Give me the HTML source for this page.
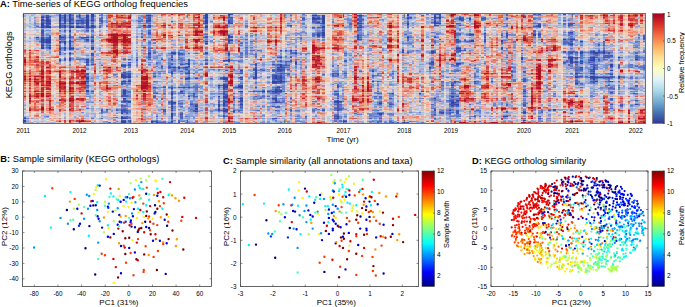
<!DOCTYPE html>
<html><head><meta charset="utf-8"><style>
html,body{margin:0;padding:0;background:#fff;}
body{width:685px;height:307px;position:relative;overflow:hidden;font-family:"Liberation Sans",sans-serif;}
#hm{position:absolute;left:0;top:14px;width:685px;height:109px;}
#hm i{position:absolute;top:0;height:109px;display:block;}
svg{position:absolute;left:0;top:0;}
text{fill:#000;font-family:"Liberation Sans",sans-serif;}
</style></head><body>
<div id="hm"><i style="left:24px;width:2px;background:linear-gradient(#bbd 0 1px,#9ad 0 3px,#dcc 0 4px,#eba 0 5px,#d99 0 6px,#dbb 0 7px,#eba 0 8px,#dba 0 9px,#9ad 0 10px,#aad 0 11px,#caa 0 12px,#ca9 0 13px,#bac 0 14px,#abd 0 15px,#ccc 0 16px,#aac 0 17px,#ccd 0 19px,#c88 0 21px,#cab 0 22px,#9ad 0 23px,#98b 0 24px,#dba 0 25px,#bbd 0 26px,#9ac 0 27px,#9ad 0 28px,#cbc 0 29px,#cbb 0 30px,#eba 0 31px,#d77 0 32px,#eba 0 33px,#abd 0 34px,#ccd 0 35px,#d65 0 36px,#c45 0 37px,#d44 0 38px,#d66 0 39px,#d77 0 40px,#c89 0 41px,#eba 0 42px,#ea9 0 43px,#b33 0 44px,#c34 0 45px,#b13 0 46px,#a12 0 49px,#c44 0 50px,#b33 0 51px,#d54 0 52px,#d76 0 53px,#e97 0 54px,#e87 0 55px,#c88 0 56px,#d65 0 57px,#b23 0 58px,#d88 0 59px,#b45 0 60px,#d65 0 61px,#c44 0 62px,#a12 0 63px,#b23 0 65px,#a12 0 66px,#c33 0 67px,#b45 0 68px,#d76 0 69px,#c34 0 70px,#e86 0 71px,#d65 0 72px,#ea9 0 73px,#d66 0 74px,#d65 0 75px,#da9 0 76px,#e98 0 77px,#c33 0 78px,#eba 0 79px,#e76 0 80px,#d87 0 81px,#d77 0 82px,#b23 0 83px,#d76 0 84px,#d77 0 85px,#aac 0 86px,#c99 0 87px,#ecb 0 88px,#daa 0 89px,#dba 0 90px,#aac 0 91px,#89d 0 92px,#bbd 0 93px,#ccd 0 94px,#caa 0 95px,#d76 0 96px,#dcc 0 97px,#dbb 0 98px,#abd 0 99px,#cab 0 100px,#ecb 0 101px,#ccd 0 102px,#9ac 0 103px,#56b 0 104px,#34a 0 105px,#89c 0 106px,#34a 0 108px,#67b 0 109px)"></i><i style="left:26px;width:3px;background:linear-gradient(#cce 0 1px,#ccd 0 2px,#cdd 0 3px,#cce 0 4px,#cdd 0 5px,#ddd 0 9px,#dcd 0 10px,#bcd 0 11px,#abd 0 12px,#bcd 0 13px,#ddd 0 16px,#ccd 0 17px,#edd 0 19px,#edc 0 20px,#ecb 0 21px,#ddd 0 26px,#bcd 0 27px,#bbd 0 28px,#cce 0 29px,#ddd 0 30px,#edd 0 31px,#ddd 0 34px,#cdd 0 35px,#ecb 0 36px,#ea8 0 37px,#ecb 0 39px,#ea8 0 40px,#eba 0 42px,#eca 0 43px,#ea8 0 44px,#eca 0 45px,#eb9 0 46px,#ea8 0 48px,#e76 0 49px,#eb9 0 50px,#e98 0 51px,#eb9 0 52px,#eba 0 53px,#ddd 0 54px,#edd 0 56px,#eca 0 57px,#e97 0 58px,#eba 0 59px,#e86 0 60px,#eb9 0 61px,#ea8 0 62px,#e86 0 63px,#ea8 0 65px,#e76 0 66px,#e97 0 67px,#e86 0 68px,#ecb 0 69px,#ea9 0 70px,#fca 0 71px,#eba 0 72px,#edd 0 73px,#eca 0 74px,#eba 0 75px,#ecb 0 77px,#ea8 0 78px,#ecb 0 80px,#edc 0 81px,#ecb 0 82px,#eba 0 83px,#edc 0 88px,#ddd 0 91px,#cdd 0 92px,#ddd 0 94px,#edd 0 95px,#edc 0 96px,#ecb 0 97px,#edd 0 98px,#ccd 0 99px,#ddd 0 102px,#abd 0 104px,#78c 0 105px,#abe 0 106px,#9ad 0 107px,#89d 0 108px,#9ad 0 109px)"></i><i style="left:29px;width:2px;background:linear-gradient(#dcc 0 1px,#ccd 0 2px,#abd 0 3px,#9bd 0 4px,#abd 0 6px,#9ad 0 7px,#bbd 0 8px,#bcd 0 9px,#9ad 0 10px,#bcd 0 11px,#cbc 0 12px,#89d 0 13px,#abd 0 14px,#ccd 0 15px,#cde 0 16px,#ccd 0 17px,#dcc 0 18px,#ecc 0 19px,#edc 0 20px,#dbb 0 21px,#ecb 0 22px,#ccd 0 23px,#abd 0 24px,#9ad 0 25px,#bcd 0 27px,#a9b 0 28px,#ccd 0 29px,#eba 0 30px,#ecb 0 31px,#dbb 0 32px,#eb9 0 33px,#ea9 0 34px,#ecb 0 35px,#e97 0 36px,#b23 0 37px,#e98 0 38px,#c44 0 39px,#d55 0 40px,#d54 0 41px,#d65 0 42px,#d44 0 43px,#c34 0 44px,#e65 0 45px,#d65 0 46px,#d44 0 47px,#d65 0 49px,#e76 0 50px,#e65 0 51px,#d88 0 52px,#eb9 0 53px,#d88 0 54px,#eba 0 55px,#e87 0 56px,#d55 0 57px,#d65 0 58px,#d55 0 59px,#c34 0 60px,#d65 0 62px,#b13 0 63px,#e87 0 64px,#b23 0 65px,#a12 0 66px,#d44 0 67px,#b23 0 68px,#e75 0 69px,#c44 0 70px,#d54 0 71px,#c44 0 72px,#e87 0 73px,#d54 0 74px,#c33 0 75px,#d76 0 76px,#e76 0 77px,#c44 0 78px,#e87 0 79px,#d54 0 80px,#b23 0 82px,#a12 0 83px,#c33 0 84px,#a12 0 85px,#c44 0 86px,#b13 0 87px,#a13 0 88px,#c44 0 90px,#ea9 0 92px,#e97 0 93px,#d55 0 94px,#c33 0 95px,#b23 0 96px,#a12 0 97px,#e98 0 99px,#eba 0 100px,#eb9 0 101px,#ea8 0 102px,#ea9 0 103px,#ddd 0 104px,#bab 0 105px,#edc 0 106px,#eba 0 107px,#daa 0 108px,#d99 0 109px)"></i><i style="left:31px;width:3px;background:linear-gradient(#abd 0 1px,#9ad 0 2px,#bce 0 3px,#ddd 0 4px,#ccd 0 5px,#dcd 0 6px,#ddd 0 7px,#dcd 0 8px,#ccd 0 9px,#bcd 0 10px,#abd 0 11px,#ccd 0 13px,#abd 0 14px,#ddd 0 15px,#edd 0 16px,#ccd 0 17px,#ddd 0 19px,#edc 0 20px,#eb9 0 21px,#ecb 0 22px,#edd 0 23px,#ddd 0 24px,#ccd 0 25px,#dcc 0 26px,#bcd 0 27px,#ccc 0 28px,#edc 0 29px,#ecb 0 30px,#edd 0 31px,#dcc 0 32px,#ecb 0 33px,#edd 0 34px,#edc 0 35px,#ecb 0 36px,#e97 0 37px,#ea8 0 38px,#e97 0 39px,#e76 0 40px,#eb9 0 41px,#ecb 0 42px,#ea8 0 43px,#e87 0 44px,#ea8 0 45px,#e97 0 46px,#d65 0 47px,#e75 0 48px,#e65 0 49px,#ea8 0 50px,#d65 0 51px,#e87 0 52px,#ecb 0 54px,#eba 0 55px,#ea9 0 56px,#eba 0 57px,#e87 0 58px,#e97 0 59px,#e98 0 60px,#ea8 0 61px,#e76 0 62px,#e75 0 63px,#eb9 0 64px,#e98 0 65px,#e75 0 66px,#ea9 0 67px,#e76 0 68px,#ea9 0 69px,#ea8 0 71px,#eb9 0 72px,#ea9 0 73px,#ecb 0 74px,#ea8 0 75px,#eca 0 76px,#ecb 0 77px,#e97 0 78px,#eb9 0 79px,#ea9 0 80px,#ea8 0 81px,#e65 0 82px,#d54 0 83px,#ea8 0 84px,#eca 0 85px,#ecb 0 86px,#e87 0 87px,#d65 0 88px,#e98 0 89px,#eca 0 90px,#eb9 0 92px,#e97 0 93px,#e98 0 94px,#e76 0 95px,#d64 0 96px,#e86 0 97px,#ecb 0 98px,#ddd 0 100px,#edd 0 101px,#ecb 0 102px,#edc 0 103px,#bce 0 104px,#8ad 0 105px,#cde 0 106px,#ddd 0 108px,#8ad 0 109px)"></i><i style="left:34px;width:2px;background:linear-gradient(#abd 0 1px,#ccd 0 2px,#bcd 0 3px,#78c 0 4px,#9ad 0 5px,#abd 0 6px,#89d 0 7px,#9ad 0 8px,#79d 0 9px,#68c 0 10px,#89d 0 11px,#78c 0 12px,#abd 0 13px,#78c 0 14px,#cce 0 15px,#bcd 0 16px,#bce 0 17px,#edd 0 18px,#ddd 0 19px,#dcc 0 20px,#abd 0 21px,#dcd 0 22px,#ccc 0 23px,#89c 0 24px,#9ad 0 25px,#abd 0 26px,#cab 0 27px,#aac 0 28px,#dbc 0 29px,#eb9 0 30px,#ddd 0 31px,#ecc 0 33px,#dcc 0 34px,#abd 0 35px,#eb9 0 36px,#d55 0 37px,#eba 0 38px,#dcc 0 39px,#e87 0 40px,#edc 0 41px,#eba 0 42px,#e87 0 43px,#e76 0 44px,#e87 0 45px,#d76 0 46px,#c45 0 47px,#c33 0 48px,#d44 0 49px,#ecb 0 50px,#e76 0 51px,#d87 0 52px,#e98 0 53px,#e87 0 54px,#da9 0 55px,#eba 0 56px,#eb9 0 57px,#e86 0 58px,#ea8 0 59px,#e97 0 61px,#e75 0 62px,#b13 0 63px,#d54 0 64px,#b33 0 65px,#b13 0 66px,#d44 0 67px,#a12 0 68px,#c34 0 69px,#d55 0 70px,#d54 0 72px,#ea8 0 73px,#e76 0 74px,#d65 0 75px,#e76 0 76px,#d65 0 77px,#a12 0 78px,#e76 0 79px,#d54 0 81px,#d44 0 82px,#c33 0 83px,#e76 0 84px,#d66 0 85px,#ecb 0 86px,#e65 0 87px,#e87 0 88px,#e76 0 89px,#d54 0 90px,#d66 0 91px,#e76 0 92px,#d65 0 93px,#d55 0 94px,#d54 0 95px,#c55 0 96px,#d44 0 97px,#eba 0 98px,#edc 0 99px,#ddd 0 100px,#eba 0 101px,#e76 0 102px,#e86 0 103px,#dcc 0 104px,#bbc 0 105px,#ccd 0 106px,#ecc 0 107px,#caa 0 108px,#edd 0 109px)"></i><i style="left:36px;width:3px;background:linear-gradient(#ddd 0 1px,#ecb 0 2px,#ccd 0 3px,#da9 0 4px,#eba 0 5px,#cbb 0 6px,#dbb 0 7px,#cab 0 8px,#dcc 0 9px,#89c 0 10px,#aac 0 11px,#99c 0 12px,#56b 0 13px,#79c 0 14px,#ddd 0 15px,#bce 0 16px,#abd 0 17px,#dcb 0 18px,#dbb 0 19px,#ddd 0 20px,#ccc 0 21px,#ea9 0 22px,#bbd 0 23px,#34a 0 24px,#78c 0 25px,#77b 0 26px,#9ad 0 27px,#89c 0 28px,#bcd 0 29px,#ea9 0 30px,#e86 0 31px,#daa 0 32px,#dcd 0 33px,#dbb 0 34px,#bcd 0 35px,#dcc 0 36px,#d44 0 37px,#ea9 0 39px,#e98 0 40px,#ea9 0 41px,#dbb 0 42px,#c44 0 43px,#c23 0 44px,#e87 0 45px,#c44 0 46px,#d65 0 47px,#c34 0 48px,#d54 0 49px,#e86 0 50px,#c44 0 51px,#c33 0 52px,#d66 0 53px,#c66 0 54px,#e86 0 55px,#e87 0 56px,#e86 0 57px,#d65 0 58px,#ea9 0 59px,#daa 0 60px,#eba 0 61px,#e65 0 62px,#b13 0 63px,#e98 0 64px,#d76 0 65px,#b23 0 66px,#d54 0 67px,#c23 0 68px,#b23 0 69px,#a12 0 70px,#c34 0 71px,#d55 0 72px,#e87 0 73px,#e65 0 74px,#e87 0 75px,#e76 0 76px,#d55 0 77px,#c23 0 78px,#ea8 0 79px,#b23 0 80px,#c33 0 81px,#b33 0 82px,#a12 0 83px,#d44 0 84px,#d76 0 85px,#ecb 0 86px,#d66 0 87px,#c44 0 88px,#c55 0 89px,#eba 0 90px,#e98 0 91px,#dbb 0 92px,#d87 0 93px,#e86 0 94px,#e87 0 95px,#d55 0 96px,#c45 0 97px,#ea9 0 98px,#dcc 0 99px,#cab 0 100px,#ea8 0 101px,#d65 0 102px,#d76 0 103px,#eba 0 104px,#bab 0 105px,#ccd 0 107px,#ccc 0 108px,#aac 0 109px)"></i><i style="left:39px;width:2px;background:linear-gradient(#ecb 0 1px,#dcb 0 2px,#edc 0 3px,#eb9 0 4px,#ecc 0 5px,#edd 0 6px,#bbd 0 7px,#edd 0 8px,#ddd 0 9px,#bbd 0 11px,#dcc 0 12px,#9ad 0 13px,#68c 0 14px,#ddd 0 16px,#cdd 0 17px,#edd 0 18px,#ecb 0 19px,#ebb 0 20px,#dcc 0 21px,#eba 0 22px,#ccd 0 23px,#9ad 0 24px,#89d 0 25px,#79c 0 27px,#57c 0 28px,#89c 0 29px,#ccd 0 30px,#dcc 0 31px,#ccd 0 32px,#edd 0 33px,#dcd 0 34px,#abd 0 35px,#ccd 0 36px,#ea9 0 37px,#dcc 0 38px,#ccd 0 39px,#ecb 0 40px,#dcc 0 41px,#ecb 0 42px,#edc 0 43px,#e98 0 44px,#ecc 0 45px,#ccd 0 46px,#ecb 0 47px,#e97 0 48px,#d65 0 49px,#e87 0 50px,#d87 0 51px,#e65 0 52px,#e87 0 53px,#e97 0 54px,#eca 0 55px,#eb9 0 56px,#e86 0 57px,#c44 0 58px,#e97 0 59px,#d54 0 60px,#e75 0 61px,#d64 0 62px,#c33 0 63px,#e75 0 64px,#e76 0 65px,#e65 0 66px,#e86 0 67px,#c33 0 68px,#e76 0 69px,#ea8 0 70px,#eb9 0 71px,#ea9 0 72px,#eba 0 73px,#ea8 0 74px,#e98 0 76px,#eb9 0 77px,#d55 0 78px,#eb9 0 79px,#d54 0 80px,#e65 0 81px,#d65 0 83px,#e98 0 84px,#e97 0 85px,#ea9 0 86px,#d65 0 87px,#e97 0 88px,#eba 0 89px,#ea8 0 90px,#ea9 0 91px,#eca 0 92px,#ecb 0 93px,#dcc 0 94px,#e97 0 95px,#d55 0 96px,#ea8 0 97px,#eca 0 98px,#ddd 0 99px,#ccd 0 100px,#edc 0 101px,#edd 0 102px,#ccd 0 103px,#bbc 0 104px,#edd 0 106px,#ddd 0 107px,#dbb 0 108px,#bcd 0 109px)"></i><i style="left:41px;width:3px;background:linear-gradient(#9ad 0 1px,#78c 0 2px,#45b 0 3px,#34a 0 4px,#67c 0 5px,#34a 0 7px,#56b 0 8px,#45a 0 9px,#349 0 10px,#34a 0 11px,#349 0 12px,#34a 0 14px,#89d 0 15px,#67c 0 16px,#45b 0 17px,#45a 0 18px,#45b 0 19px,#45a 0 20px,#56b 0 21px,#45a 0 22px,#67c 0 23px,#44a 0 24px,#34a 0 25px,#349 0 28px,#34a 0 29px,#56b 0 30px,#45b 0 31px,#34a 0 32px,#45a 0 33px,#34a 0 35px,#bbc 0 36px,#dbb 0 37px,#bbc 0 38px,#9ad 0 39px,#b9a 0 40px,#bab 0 41px,#9ad 0 42px,#dbb 0 43px,#e98 0 44px,#ccd 0 45px,#89c 0 46px,#d76 0 47px,#c33 0 48px,#c44 0 49px,#c33 0 50px,#c55 0 51px,#c56 0 52px,#b23 0 53px,#c44 0 55px,#c34 0 56px,#b13 0 57px,#a12 0 58px,#b23 0 59px,#b13 0 60px,#b23 0 61px,#c44 0 62px,#a12 0 64px,#b23 0 65px,#c33 0 67px,#a12 0 68px,#c44 0 69px,#c34 0 70px,#c33 0 71px,#a12 0 72px,#e97 0 73px,#b34 0 74px,#b23 0 76px,#c34 0 77px,#b23 0 78px,#d54 0 79px,#a12 0 83px,#d76 0 84px,#e87 0 85px,#d44 0 86px,#b34 0 87px,#b66 0 88px,#bab 0 89px,#d77 0 90px,#c55 0 91px,#d65 0 92px,#c44 0 93px,#a12 0 96px,#b34 0 97px,#d65 0 98px,#d55 0 99px,#ea9 0 100px,#eba 0 101px,#abd 0 102px,#bbc 0 103px,#ccd 0 104px,#bab 0 105px,#bcd 0 106px,#ccc 0 107px,#abd 0 108px,#dbb 0 109px)"></i><i style="left:44px;width:2px;background:linear-gradient(#bbd 0 1px,#78c 0 3px,#57c 0 4px,#abd 0 5px,#89d 0 6px,#56b 0 7px,#68c 0 9px,#57c 0 10px,#9ad 0 11px,#68c 0 12px,#45b 0 13px,#56b 0 14px,#9ad 0 15px,#cce 0 16px,#9ad 0 18px,#bcd 0 19px,#abd 0 20px,#9ad 0 22px,#abd 0 23px,#68c 0 25px,#45a 0 26px,#46b 0 27px,#45b 0 28px,#45a 0 29px,#8ad 0 30px,#9ad 0 31px,#79c 0 32px,#abd 0 33px,#89d 0 35px,#bcd 0 36px,#edc 0 37px,#ccc 0 38px,#ccd 0 39px,#ea9 0 40px,#dcd 0 41px,#8ad 0 42px,#ddd 0 43px,#dcb 0 44px,#ddd 0 45px,#aac 0 46px,#ddd 0 47px,#eba 0 48px,#e76 0 49px,#e98 0 50px,#e87 0 51px,#ea9 0 52px,#eba 0 53px,#dcc 0 54px,#ccd 0 55px,#ddd 0 56px,#eca 0 57px,#ea8 0 58px,#e97 0 59px,#e98 0 60px,#ebb 0 61px,#eba 0 62px,#e98 0 64px,#eba 0 66px,#e97 0 67px,#e86 0 68px,#e98 0 69px,#e97 0 70px,#e75 0 71px,#d54 0 72px,#e87 0 73px,#d65 0 74px,#ea8 0 75px,#e86 0 76px,#ecb 0 79px,#eba 0 80px,#ea8 0 83px,#ecb 0 84px,#dcc 0 85px,#ecb 0 86px,#ea9 0 87px,#dcc 0 89px,#ecb 0 90px,#dcb 0 91px,#ecc 0 92px,#ecb 0 93px,#ddd 0 94px,#ecb 0 95px,#ea9 0 96px,#eca 0 98px,#ddd 0 99px,#ccd 0 100px,#abd 0 102px,#89d 0 103px,#9ad 0 104px,#bcd 0 105px,#ddd 0 106px,#bcd 0 107px,#ccd 0 108px,#dcd 0 109px)"></i><i style="left:46px;width:3px;background:linear-gradient(#abd 0 1px,#45a 0 3px,#349 0 4px,#45a 0 5px,#34a 0 8px,#45a 0 9px,#349 0 10px,#45b 0 11px,#45a 0 12px,#349 0 14px,#abd 0 16px,#68c 0 17px,#bbd 0 18px,#abd 0 19px,#89c 0 20px,#68c 0 21px,#78c 0 22px,#8ad 0 23px,#56b 0 24px,#46b 0 25px,#349 0 26px,#34a 0 27px,#349 0 28px,#34a 0 29px,#56b 0 30px,#68c 0 31px,#56b 0 32px,#68c 0 33px,#46b 0 34px,#67c 0 35px,#9ad 0 36px,#aac 0 37px,#bcd 0 38px,#ccc 0 39px,#cbc 0 40px,#ea9 0 41px,#bbc 0 42px,#edc 0 43px,#e76 0 44px,#dcc 0 45px,#cbb 0 46px,#eba 0 47px,#c44 0 48px,#c33 0 50px,#d77 0 51px,#e87 0 52px,#d76 0 53px,#a12 0 54px,#d66 0 55px,#e97 0 56px,#c33 0 57px,#c34 0 58px,#d55 0 59px,#d54 0 60px,#e86 0 61px,#e75 0 62px,#c33 0 64px,#d55 0 65px,#d44 0 66px,#d54 0 67px,#a12 0 68px,#b23 0 70px,#c34 0 71px,#b13 0 72px,#d65 0 73px,#c33 0 74px,#b23 0 75px,#c23 0 76px,#eba 0 77px,#d44 0 78px,#e86 0 79px,#b23 0 80px,#d55 0 81px,#c33 0 82px,#b13 0 83px,#e75 0 84px,#d98 0 85px,#e75 0 86px,#d54 0 87px,#dbb 0 88px,#cbb 0 89px,#dbb 0 90px,#d99 0 91px,#daa 0 92px,#e98 0 93px,#ea8 0 94px,#d66 0 95px,#d98 0 96px,#e76 0 97px,#eb9 0 98px,#ea9 0 99px,#dcd 0 100px,#dbb 0 101px,#abd 0 102px,#57c 0 103px,#9ad 0 104px,#ddd 0 105px,#ccd 0 106px,#edd 0 107px,#ccc 0 108px,#bbd 0 109px)"></i><i style="left:49px;width:2px;background:linear-gradient(#bcd 0 1px,#89d 0 2px,#46b 0 3px,#68c 0 4px,#78c 0 5px,#56b 0 6px,#45b 0 7px,#44a 0 8px,#46b 0 9px,#349 0 10px,#45b 0 11px,#78c 0 12px,#34a 0 13px,#349 0 14px,#9ad 0 15px,#bcd 0 16px,#68c 0 17px,#9ad 0 21px,#46b 0 22px,#56b 0 23px,#349 0 24px,#44a 0 25px,#34a 0 27px,#349 0 29px,#56b 0 30px,#78c 0 31px,#34a 0 32px,#57c 0 33px,#349 0 34px,#34a 0 35px,#78c 0 36px,#abd 0 37px,#8ad 0 38px,#79c 0 39px,#9ad 0 40px,#bbd 0 42px,#eba 0 43px,#e76 0 44px,#ea9 0 45px,#cab 0 46px,#eb9 0 47px,#e86 0 48px,#d55 0 49px,#e87 0 50px,#c55 0 51px,#c44 0 52px,#c33 0 53px,#c44 0 54px,#d55 0 55px,#d76 0 56px,#c33 0 57px,#b13 0 58px,#c33 0 59px,#b13 0 60px,#e97 0 61px,#e87 0 62px,#c33 0 63px,#b34 0 64px,#b23 0 66px,#c44 0 67px,#a12 0 68px,#b13 0 69px,#a12 0 70px,#c33 0 71px,#b13 0 72px,#d54 0 73px,#d65 0 74px,#c33 0 75px,#b23 0 76px,#e76 0 77px,#d54 0 78px,#e86 0 79px,#c23 0 80px,#d55 0 81px,#b23 0 82px,#c44 0 83px,#e86 0 84px,#d54 0 85px,#e65 0 86px,#b23 0 88px,#c44 0 90px,#c33 0 91px,#d44 0 92px,#c44 0 93px,#d44 0 94px,#a12 0 95px,#b13 0 96px,#c33 0 97px,#e86 0 98px,#e65 0 99px,#e86 0 100px,#eba 0 101px,#ea9 0 102px,#ecb 0 103px,#ecc 0 104px,#e98 0 105px,#eba 0 107px,#ecb 0 108px,#bbd 0 109px)"></i><i style="left:51px;width:3px;background:linear-gradient(#ddd 0 1px,#9ad 0 2px,#8ad 0 3px,#abd 0 4px,#ecc 0 5px,#cce 0 6px,#bbd 0 7px,#ccd 0 8px,#ecc 0 9px,#ddd 0 10px,#ecc 0 11px,#dcc 0 12px,#bac 0 13px,#89d 0 14px,#edc 0 15px,#ecb 0 16px,#eba 0 17px,#eca 0 18px,#ea9 0 19px,#e97 0 20px,#e98 0 21px,#eba 0 22px,#dcd 0 23px,#ddd 0 25px,#cbc 0 26px,#dba 0 27px,#edc 0 28px,#bcd 0 29px,#dcd 0 30px,#edc 0 31px,#ea9 0 32px,#edc 0 33px,#eba 0 34px,#dcd 0 35px,#dcc 0 36px,#eca 0 37px,#eba 0 38px,#ddd 0 39px,#dcc 0 40px,#dcd 0 41px,#eba 0 42px,#e97 0 43px,#e76 0 44px,#edd 0 45px,#ddd 0 46px,#eba 0 48px,#edd 0 49px,#ecb 0 50px,#eba 0 51px,#e97 0 53px,#e87 0 54px,#eb9 0 55px,#edc 0 56px,#ebb 0 57px,#e75 0 58px,#ea9 0 59px,#dcc 0 60px,#edc 0 61px,#edd 0 62px,#e99 0 63px,#ea9 0 64px,#edb 0 65px,#e87 0 66px,#ea9 0 67px,#eba 0 68px,#edc 0 69px,#e98 0 70px,#ecb 0 71px,#dcc 0 72px,#cbb 0 73px,#dcc 0 74px,#ecb 0 75px,#dcd 0 77px,#ecb 0 78px,#edc 0 79px,#ddd 0 80px,#dcb 0 81px,#ea9 0 83px,#ecb 0 86px,#e76 0 87px,#ea8 0 88px,#eb9 0 90px,#ecb 0 91px,#ecc 0 92px,#e97 0 93px,#d65 0 94px,#e87 0 95px,#c33 0 96px,#d54 0 97px,#eb9 0 98px,#ea8 0 100px,#eba 0 101px,#ecb 0 102px,#eba 0 103px,#ddd 0 104px,#dbb 0 105px,#eba 0 106px,#e97 0 107px,#edc 0 108px,#9ad 0 109px)"></i><i style="left:54px;width:2px;background:linear-gradient(#ccd 0 1px,#8ad 0 2px,#abd 0 4px,#ccc 0 5px,#bcd 0 6px,#abd 0 7px,#bce 0 8px,#ddd 0 9px,#abc 0 10px,#edc 0 12px,#89d 0 14px,#ddd 0 15px,#edc 0 16px,#ecb 0 18px,#eb9 0 19px,#e98 0 20px,#eb9 0 21px,#dbb 0 22px,#ddd 0 23px,#9ad 0 24px,#ccd 0 27px,#bcd 0 28px,#dcc 0 29px,#ddd 0 30px,#ecb 0 31px,#ea9 0 32px,#ecb 0 33px,#dcc 0 34px,#ecb 0 35px,#eba 0 36px,#e76 0 37px,#e65 0 38px,#ecb 0 39px,#ecc 0 40px,#ddd 0 41px,#dcc 0 42px,#e98 0 43px,#d54 0 44px,#eca 0 45px,#ecb 0 46px,#e98 0 47px,#ea8 0 48px,#ea9 0 49px,#eb9 0 51px,#ea9 0 52px,#e75 0 53px,#e86 0 54px,#ea9 0 55px,#eb9 0 56px,#e86 0 57px,#d54 0 58px,#eba 0 59px,#edc 0 61px,#ecb 0 62px,#ea9 0 63px,#ea8 0 64px,#ecb 0 65px,#e98 0 66px,#ea9 0 67px,#e87 0 68px,#eb9 0 70px,#ecb 0 71px,#eba 0 72px,#ddd 0 73px,#ecb 0 74px,#eb9 0 75px,#ecb 0 76px,#dcc 0 77px,#edc 0 78px,#ddd 0 79px,#edc 0 80px,#dcd 0 81px,#cdd 0 82px,#ddd 0 83px,#dcd 0 84px,#abd 0 85px,#ccd 0 86px,#ecb 0 87px,#ecc 0 88px,#bcd 0 89px,#ccd 0 90px,#bbd 0 91px,#ddd 0 92px,#edc 0 93px,#edd 0 94px,#dcc 0 95px,#ecb 0 96px,#ecc 0 97px,#ccd 0 98px,#dcd 0 99px,#eba 0 100px,#e97 0 101px,#ecb 0 102px,#eb9 0 103px,#ecb 0 104px,#e98 0 105px,#edc 0 106px,#ecb 0 107px,#eba 0 108px,#abd 0 109px)"></i><i style="left:56px;width:3px;background:linear-gradient(#9ad 0 1px,#89d 0 2px,#abd 0 3px,#bcd 0 5px,#bbd 0 7px,#bcd 0 8px,#ccd 0 9px,#bbc 0 10px,#edc 0 11px,#ecc 0 12px,#89c 0 13px,#9ac 0 14px,#edc 0 15px,#eba 0 16px,#ddc 0 17px,#ecb 0 18px,#e98 0 19px,#d76 0 20px,#e87 0 21px,#eaa 0 22px,#dcc 0 23px,#bbc 0 24px,#dbb 0 25px,#e98 0 26px,#e76 0 27px,#eb9 0 28px,#ecb 0 29px,#eba 0 30px,#ea9 0 31px,#d65 0 32px,#eb9 0 33px,#ea9 0 34px,#e87 0 35px,#ea9 0 36px,#e75 0 37px,#e98 0 38px,#dcc 0 39px,#eba 0 40px,#dbb 0 41px,#ea8 0 42px,#e65 0 43px,#d54 0 44px,#edc 0 45px,#ccd 0 46px,#dcb 0 47px,#eba 0 48px,#dbb 0 49px,#d76 0 50px,#ea9 0 51px,#ccd 0 52px,#eba 0 53px,#ea8 0 54px,#ecc 0 55px,#bbc 0 56px,#e97 0 57px,#c44 0 58px,#ea8 0 59px,#dcd 0 60px,#ccd 0 61px,#ddd 0 62px,#eca 0 63px,#dcb 0 64px,#ecb 0 65px,#ea9 0 66px,#eba 0 67px,#eb9 0 68px,#e75 0 69px,#e98 0 70px,#ea9 0 71px,#d88 0 72px,#e97 0 73px,#dba 0 74px,#ea9 0 76px,#edc 0 77px,#dbb 0 78px,#edc 0 79px,#e97 0 80px,#ecb 0 81px,#ebb 0 82px,#ea9 0 83px,#cde 0 84px,#cbc 0 85px,#ecb 0 86px,#eb9 0 87px,#ebb 0 88px,#9ad 0 89px,#abd 0 90px,#ecb 0 91px,#ea8 0 92px,#e97 0 93px,#eba 0 94px,#ebb 0 95px,#eba 0 96px,#ccd 0 97px,#ccc 0 98px,#ebb 0 99px,#eba 0 100px,#dbb 0 101px,#ecb 0 102px,#ecc 0 103px,#ecb 0 104px,#dba 0 105px,#ecb 0 106px,#e97 0 107px,#d76 0 108px,#dcc 0 109px)"></i><i style="left:59px;width:2px;background:linear-gradient(#45b 0 1px,#349 0 2px,#34a 0 5px,#349 0 8px,#45b 0 9px,#349 0 10px,#45a 0 11px,#34a 0 12px,#349 0 14px,#78c 0 15px,#bbd 0 16px,#56b 0 17px,#78c 0 18px,#aac 0 19px,#89d 0 20px,#abd 0 21px,#34a 0 23px,#349 0 24px,#45a 0 26px,#a9b 0 27px,#349 0 28px,#34a 0 29px,#67c 0 30px,#78c 0 31px,#56b 0 33px,#45a 0 34px,#349 0 35px,#34a 0 36px,#56b 0 38px,#349 0 39px,#56b 0 40px,#45a 0 41px,#aad 0 42px,#cbc 0 43px,#ddd 0 44px,#68c 0 45px,#45a 0 46px,#34a 0 47px,#57c 0 48px,#79c 0 49px,#b9a 0 51px,#ecc 0 52px,#d88 0 53px,#c55 0 54px,#d65 0 55px,#ea9 0 56px,#c34 0 57px,#a12 0 58px,#b13 0 59px,#b34 0 60px,#b13 0 61px,#b23 0 62px,#a12 0 64px,#c66 0 65px,#c54 0 66px,#d55 0 67px,#b13 0 68px,#b23 0 69px,#a12 0 70px,#b13 0 71px,#b23 0 73px,#a12 0 74px,#b33 0 76px,#c33 0 77px,#a12 0 78px,#d77 0 79px,#c55 0 80px,#e87 0 81px,#d76 0 82px,#d66 0 83px,#e98 0 84px,#dba 0 85px,#c34 0 86px,#b13 0 87px,#d99 0 88px,#c78 0 89px,#d76 0 90px,#d66 0 91px,#d65 0 92px,#d75 0 93px,#e88 0 94px,#daa 0 95px,#c34 0 96px,#c33 0 97px,#d65 0 98px,#eba 0 99px,#da9 0 100px,#ea9 0 102px,#ccc 0 103px,#ddd 0 104px,#b89 0 105px,#ea8 0 106px,#d76 0 107px,#b23 0 108px,#cbc 0 109px)"></i><i style="left:61px;width:3px;background:linear-gradient(#abd 0 1px,#56b 0 2px,#68c 0 3px,#56b 0 4px,#67c 0 5px,#68c 0 6px,#57c 0 7px,#89d 0 8px,#9ad 0 9px,#56b 0 10px,#78c 0 11px,#46b 0 14px,#bbd 0 16px,#9ad 0 17px,#8ad 0 18px,#abd 0 19px,#bcd 0 20px,#9ad 0 21px,#79d 0 22px,#67c 0 23px,#34a 0 24px,#67c 0 25px,#57b 0 26px,#78c 0 27px,#46b 0 28px,#67c 0 29px,#abd 0 30px,#bce 0 31px,#ccd 0 32px,#bcd 0 33px,#68c 0 34px,#67c 0 35px,#79d 0 36px,#89c 0 37px,#bcd 0 38px,#9ad 0 40px,#8ad 0 41px,#bcd 0 42px,#dcd 0 43px,#edc 0 44px,#bcd 0 45px,#aad 0 46px,#8ad 0 47px,#bce 0 48px,#edc 0 49px,#ecb 0 50px,#ccd 0 52px,#e86 0 53px,#d44 0 54px,#eba 0 55px,#ea9 0 56px,#d54 0 58px,#e97 0 59px,#d76 0 60px,#eb9 0 61px,#ecb 0 62px,#e86 0 63px,#e76 0 64px,#e65 0 65px,#e76 0 66px,#eb9 0 67px,#d44 0 68px,#c33 0 69px,#b13 0 70px,#c33 0 71px,#d44 0 72px,#c33 0 73px,#c34 0 74px,#c33 0 75px,#c44 0 76px,#e76 0 77px,#d54 0 78px,#e98 0 79px,#e76 0 80px,#e98 0 81px,#ea9 0 82px,#d54 0 83px,#e87 0 84px,#d54 0 85px,#c33 0 87px,#d65 0 88px,#d54 0 89px,#e75 0 90px,#e97 0 91px,#e76 0 92px,#e97 0 93px,#ea8 0 94px,#e98 0 95px,#e86 0 96px,#e87 0 97px,#eba 0 98px,#dcc 0 99px,#eca 0 100px,#ddd 0 102px,#edc 0 103px,#ddd 0 104px,#ccd 0 105px,#edc 0 106px,#ea8 0 107px,#eba 0 108px,#ddd 0 109px)"></i><i style="left:64px;width:2px;background:linear-gradient(#56b 0 1px,#349 0 3px,#34a 0 4px,#349 0 6px,#34a 0 7px,#349 0 8px,#45a 0 9px,#349 0 10px,#68c 0 11px,#34a 0 12px,#349 0 14px,#89d 0 15px,#79d 0 16px,#45a 0 17px,#56b 0 18px,#78c 0 19px,#bbd 0 20px,#89c 0 21px,#66b 0 22px,#56b 0 23px,#45a 0 24px,#56b 0 26px,#78c 0 27px,#349 0 29px,#34a 0 30px,#57b 0 31px,#67c 0 32px,#79c 0 33px,#34a 0 35px,#45b 0 37px,#dcc 0 38px,#ccd 0 39px,#56b 0 40px,#89c 0 41px,#abd 0 42px,#bbd 0 43px,#89c 0 44px,#56b 0 45px,#45a 0 46px,#46b 0 47px,#abd 0 48px,#cbb 0 49px,#eaa 0 50px,#dbc 0 51px,#bbd 0 52px,#d76 0 53px,#c45 0 54px,#cbc 0 55px,#ccc 0 56px,#d65 0 57px,#c55 0 58px,#e98 0 59px,#e97 0 60px,#d98 0 61px,#ea9 0 62px,#d99 0 63px,#d77 0 64px,#c23 0 65px,#d65 0 66px,#e98 0 67px,#d66 0 68px,#b13 0 69px,#a12 0 70px,#c34 0 71px,#c54 0 72px,#b23 0 73px,#b13 0 74px,#b23 0 75px,#c44 0 77px,#b23 0 78px,#d54 0 79px,#c34 0 80px,#e75 0 81px,#e87 0 82px,#c54 0 83px,#eba 0 84px,#d66 0 85px,#d44 0 86px,#b23 0 87px,#c34 0 88px,#d88 0 89px,#ea8 0 90px,#d65 0 91px,#ecb 0 92px,#e97 0 94px,#dbb 0 95px,#e98 0 96px,#c55 0 97px,#ecc 0 98px,#cbc 0 99px,#bab 0 100px,#abd 0 101px,#ccd 0 102px,#bbc 0 103px,#aac 0 104px,#99c 0 105px,#eba 0 106px,#c33 0 107px,#c44 0 108px,#d54 0 109px)"></i><i style="left:66px;width:3px;background:linear-gradient(#9ad 0 1px,#78c 0 2px,#89d 0 5px,#78c 0 6px,#68c 0 7px,#78c 0 8px,#abd 0 9px,#79d 0 10px,#abd 0 11px,#79d 0 12px,#78c 0 13px,#89d 0 14px,#cde 0 15px,#cce 0 16px,#abd 0 17px,#cce 0 18px,#cdd 0 19px,#ddd 0 20px,#edd 0 21px,#bcd 0 22px,#bce 0 23px,#9ad 0 24px,#bce 0 25px,#ddd 0 26px,#cde 0 27px,#9ad 0 28px,#abd 0 29px,#bce 0 30px,#cce 0 31px,#bce 0 33px,#9bd 0 34px,#8ad 0 35px,#abd 0 36px,#bce 0 37px,#ddd 0 38px,#cce 0 39px,#bcd 0 40px,#cce 0 41px,#ddd 0 44px,#cce 0 45px,#bcd 0 46px,#cce 0 47px,#ddd 0 49px,#edd 0 50px,#ddd 0 51px,#ccd 0 52px,#ecb 0 53px,#e97 0 54px,#ddd 0 55px,#edd 0 56px,#ea9 0 57px,#ea8 0 58px,#eb9 0 59px,#eba 0 60px,#edc 0 62px,#eca 0 63px,#eb9 0 64px,#eba 0 65px,#ecb 0 66px,#edd 0 67px,#edc 0 68px,#eca 0 69px,#eb9 0 70px,#edd 0 71px,#edc 0 72px,#ecb 0 74px,#edc 0 75px,#eb9 0 76px,#ecb 0 77px,#e97 0 78px,#eca 0 79px,#ecb 0 80px,#edc 0 81px,#ecb 0 82px,#edb 0 83px,#edd 0 84px,#ecb 0 85px,#eb9 0 86px,#ea9 0 87px,#ecb 0 88px,#edd 0 89px,#ecc 0 90px,#edc 0 92px,#ecb 0 93px,#ecc 0 94px,#edd 0 95px,#edc 0 96px,#ecb 0 97px,#edd 0 99px,#cdd 0 100px,#edd 0 101px,#ddd 0 102px,#edc 0 103px,#edd 0 104px,#ddd 0 105px,#edc 0 106px,#eba 0 107px,#eb9 0 108px,#edc 0 109px)"></i><i style="left:69px;width:2px;background:linear-gradient(#34a 0 4px,#349 0 8px,#45a 0 9px,#349 0 10px,#56b 0 11px,#45a 0 12px,#349 0 14px,#67c 0 15px,#78c 0 16px,#349 0 18px,#57b 0 19px,#78c 0 20px,#56b 0 21px,#45b 0 23px,#34a 0 24px,#56b 0 25px,#67b 0 26px,#34a 0 27px,#349 0 28px,#34a 0 30px,#45a 0 31px,#34a 0 32px,#45b 0 33px,#349 0 35px,#34a 0 36px,#79d 0 37px,#bcd 0 38px,#56b 0 39px,#34a 0 40px,#56b 0 41px,#68c 0 42px,#89d 0 43px,#56b 0 44px,#34a 0 45px,#349 0 46px,#34a 0 47px,#88c 0 48px,#99c 0 49px,#aad 0 50px,#68c 0 51px,#78c 0 52px,#d99 0 53px,#b78 0 54px,#aac 0 55px,#9ac 0 56px,#d55 0 57px,#c66 0 58px,#d55 0 59px,#e97 0 60px,#eba 0 61px,#da9 0 62px,#c67 0 63px,#d54 0 64px,#c33 0 66px,#d65 0 67px,#b23 0 69px,#a12 0 70px,#c34 0 71px,#b34 0 72px,#d54 0 73px,#a12 0 75px,#b13 0 76px,#b23 0 77px,#b13 0 78px,#d76 0 79px,#b23 0 80px,#d65 0 81px,#d66 0 82px,#c66 0 83px,#d54 0 84px,#a12 0 87px,#b13 0 88px,#e87 0 89px,#d54 0 90px,#c44 0 91px,#c34 0 93px,#d76 0 94px,#d65 0 95px,#a12 0 96px,#c44 0 97px,#e76 0 98px,#bac 0 99px,#d99 0 100px,#e97 0 101px,#daa 0 102px,#ea9 0 103px,#dcc 0 104px,#daa 0 105px,#ea9 0 106px,#b23 0 107px,#b13 0 108px,#c44 0 109px)"></i><i style="left:71px;width:3px;background:linear-gradient(#78c 0 1px,#46b 0 2px,#68c 0 3px,#57b 0 4px,#56b 0 5px,#45b 0 6px,#46b 0 7px,#67c 0 8px,#57b 0 9px,#34a 0 10px,#79d 0 11px,#68c 0 12px,#34a 0 13px,#349 0 14px,#ccd 0 16px,#abd 0 17px,#bce 0 18px,#bbd 0 19px,#ccd 0 20px,#ecb 0 21px,#bcd 0 22px,#67c 0 23px,#57b 0 24px,#78c 0 25px,#9ad 0 26px,#8ad 0 27px,#46b 0 28px,#79c 0 29px,#9ad 0 31px,#89c 0 32px,#9ad 0 33px,#56b 0 34px,#34a 0 35px,#56b 0 36px,#9ad 0 37px,#ccd 0 38px,#bbd 0 39px,#67c 0 40px,#8ad 0 41px,#cdd 0 42px,#ddd 0 43px,#8ad 0 44px,#68c 0 45px,#78c 0 46px,#9ad 0 47px,#ccd 0 48px,#dcc 0 49px,#ecb 0 50px,#dcc 0 52px,#ea8 0 53px,#e97 0 54px,#da9 0 55px,#d99 0 56px,#d44 0 57px,#a12 0 58px,#d44 0 60px,#d76 0 61px,#e65 0 62px,#c44 0 63px,#b23 0 64px,#c33 0 65px,#e65 0 66px,#e87 0 67px,#c44 0 68px,#b23 0 69px,#b13 0 70px,#d65 0 71px,#e76 0 72px,#e86 0 73px,#c33 0 74px,#b23 0 75px,#c33 0 76px,#d54 0 77px,#b23 0 78px,#e75 0 79px,#c44 0 80px,#eba 0 81px,#e76 0 82px,#b23 0 83px,#d44 0 84px,#b13 0 85px,#b23 0 86px,#a12 0 87px,#c33 0 88px,#c44 0 89px,#d55 0 91px,#d54 0 93px,#d65 0 94px,#c33 0 95px,#c55 0 96px,#c33 0 97px,#e76 0 98px,#ea9 0 99px,#eba 0 100px,#ea9 0 101px,#eca 0 102px,#dcc 0 103px,#ccd 0 104px,#dbb 0 105px,#ea8 0 106px,#d54 0 107px,#e86 0 108px,#ea9 0 109px)"></i><i style="left:74px;width:2px;background:linear-gradient(#dcc 0 1px,#ecc 0 3px,#ccd 0 5px,#bcd 0 6px,#9ad 0 7px,#aad 0 8px,#abd 0 10px,#edd 0 11px,#dbb 0 12px,#aac 0 13px,#89d 0 14px,#eca 0 15px,#ea8 0 16px,#dcc 0 17px,#edd 0 18px,#ecb 0 19px,#e97 0 20px,#d65 0 21px,#e76 0 22px,#ecb 0 23px,#eba 0 24px,#ea9 0 25px,#d65 0 27px,#ea8 0 28px,#ea9 0 29px,#ea8 0 30px,#dbb 0 31px,#eba 0 32px,#eb9 0 33px,#cbb 0 34px,#9ad 0 35px,#abd 0 36px,#eba 0 37px,#e76 0 38px,#da9 0 39px,#ebb 0 40px,#eba 0 42px,#ea8 0 43px,#eca 0 44px,#abd 0 45px,#9ad 0 46px,#e98 0 48px,#ea8 0 49px,#ebb 0 50px,#da9 0 51px,#ccd 0 52px,#eba 0 53px,#e98 0 54px,#abd 0 55px,#9ad 0 56px,#dba 0 57px,#b23 0 58px,#d54 0 59px,#dcb 0 60px,#ecb 0 61px,#eba 0 62px,#edd 0 63px,#d99 0 64px,#e87 0 65px,#eb9 0 66px,#ccd 0 67px,#ecc 0 68px,#e65 0 69px,#c44 0 70px,#ecb 0 71px,#abd 0 72px,#ccd 0 73px,#dcc 0 74px,#eb9 0 75px,#ea9 0 76px,#eb9 0 77px,#e86 0 78px,#eca 0 79px,#daa 0 80px,#ecb 0 81px,#ccd 0 83px,#edd 0 84px,#eba 0 85px,#e87 0 86px,#e86 0 87px,#dbb 0 88px,#eba 0 90px,#ccc 0 91px,#dcd 0 92px,#e97 0 93px,#edc 0 94px,#bcd 0 95px,#dcc 0 96px,#e76 0 97px,#eba 0 98px,#ccd 0 99px,#bbc 0 100px,#dcc 0 101px,#dcd 0 102px,#9ad 0 103px,#8ad 0 104px,#bbc 0 105px,#eba 0 106px,#d87 0 107px,#d77 0 108px,#ecc 0 109px)"></i><i style="left:76px;width:3px;background:linear-gradient(#9bd 0 1px,#67b 0 2px,#56b 0 3px,#78c 0 4px,#9ad 0 5px,#89d 0 6px,#45a 0 7px,#46b 0 8px,#67c 0 9px,#34a 0 10px,#68c 0 11px,#67b 0 12px,#349 0 14px,#bcd 0 15px,#ddd 0 16px,#89d 0 17px,#9ad 0 18px,#daa 0 19px,#edc 0 20px,#dcc 0 21px,#bbc 0 22px,#ccd 0 23px,#8ad 0 24px,#9ac 0 25px,#78b 0 26px,#cbc 0 27px,#99c 0 28px,#dcc 0 29px,#eca 0 30px,#ea9 0 31px,#bab 0 32px,#dcc 0 33px,#bcd 0 34px,#99d 0 35px,#78c 0 36px,#cbc 0 37px,#dcb 0 38px,#bbc 0 39px,#abd 0 40px,#bcd 0 41px,#ccd 0 42px,#bcd 0 43px,#79c 0 44px,#89c 0 45px,#56b 0 46px,#dcc 0 48px,#daa 0 49px,#d99 0 50px,#dcb 0 51px,#daa 0 52px,#d55 0 53px,#c44 0 54px,#e86 0 55px,#d76 0 56px,#b23 0 57px,#a12 0 58px,#b23 0 59px,#c55 0 60px,#c44 0 61px,#d65 0 62px,#c44 0 63px,#c33 0 64px,#c44 0 65px,#e87 0 66px,#ecb 0 67px,#c44 0 68px,#a12 0 70px,#d76 0 71px,#e97 0 72px,#ea9 0 73px,#e87 0 74px,#c45 0 75px,#d87 0 76px,#e87 0 77px,#e98 0 78px,#dbb 0 79px,#e98 0 80px,#ccc 0 81px,#aac 0 82px,#dbb 0 83px,#ecb 0 84px,#b23 0 86px,#d87 0 87px,#ea9 0 88px,#c89 0 89px,#eaa 0 90px,#caa 0 91px,#e87 0 92px,#d76 0 93px,#e98 0 94px,#d99 0 95px,#d88 0 96px,#d76 0 97px,#dcc 0 98px,#bbc 0 99px,#ecb 0 100px,#cbc 0 101px,#eba 0 102px,#ccd 0 103px,#bbc 0 104px,#e87 0 105px,#ea9 0 106px,#c34 0 107px,#c33 0 108px,#bbd 0 109px)"></i><i style="left:79px;width:2px;background:linear-gradient(#aac 0 1px,#56b 0 2px,#67c 0 3px,#56b 0 4px,#57b 0 5px,#68c 0 6px,#34a 0 7px,#57c 0 9px,#46b 0 10px,#9ad 0 11px,#89d 0 12px,#349 0 13px,#34a 0 14px,#bbd 0 15px,#edd 0 16px,#9ad 0 17px,#bbd 0 18px,#ddd 0 19px,#dcb 0 20px,#e97 0 21px,#eba 0 22px,#89d 0 23px,#56b 0 24px,#79d 0 25px,#78c 0 26px,#9ad 0 27px,#a9c 0 28px,#ccc 0 29px,#ecb 0 30px,#eba 0 31px,#dcd 0 32px,#ddd 0 33px,#cab 0 34px,#aac 0 35px,#bbd 0 36px,#dbb 0 37px,#daa 0 38px,#dbb 0 40px,#ccd 0 42px,#dcb 0 43px,#bab 0 44px,#79c 0 45px,#57b 0 46px,#89d 0 47px,#9ad 0 48px,#abd 0 50px,#bab 0 51px,#daa 0 52px,#ea9 0 53px,#c55 0 54px,#ecc 0 55px,#dba 0 56px,#e65 0 57px,#b23 0 58px,#d44 0 59px,#c33 0 60px,#c44 0 61px,#c33 0 62px,#c44 0 63px,#e98 0 65px,#d65 0 66px,#e98 0 67px,#c45 0 69px,#b23 0 70px,#d33 0 71px,#c44 0 72px,#eaa 0 73px,#d44 0 74px,#c44 0 75px,#c34 0 76px,#e76 0 77px,#b23 0 78px,#e76 0 80px,#ecb 0 81px,#ea8 0 82px,#e87 0 83px,#ea8 0 84px,#c33 0 86px,#d44 0 87px,#e98 0 88px,#ea9 0 89px,#dbb 0 90px,#eba 0 91px,#ecc 0 92px,#dcc 0 93px,#ddd 0 94px,#bac 0 95px,#c33 0 96px,#d54 0 97px,#ea9 0 98px,#dcb 0 99px,#daa 0 100px,#eba 0 101px,#e98 0 102px,#d99 0 103px,#edc 0 104px,#eba 0 105px,#ea8 0 106px,#d54 0 107px,#a13 0 108px,#e76 0 109px)"></i><i style="left:81px;width:3px;background:linear-gradient(#ecb 0 1px,#88c 0 2px,#9ad 0 3px,#79c 0 4px,#57b 0 5px,#56b 0 6px,#45b 0 7px,#45a 0 8px,#45b 0 9px,#45a 0 10px,#78c 0 12px,#55b 0 13px,#34a 0 14px,#bce 0 15px,#bbd 0 16px,#89c 0 17px,#9ad 0 18px,#ccd 0 19px,#dcc 0 20px,#d99 0 21px,#ea9 0 22px,#bbd 0 23px,#45b 0 24px,#46b 0 25px,#99c 0 26px,#abd 0 27px,#bab 0 28px,#dbb 0 29px,#dcd 0 30px,#ddd 0 31px,#ccd 0 32px,#ecb 0 33px,#dba 0 35px,#dcc 0 36px,#e87 0 37px,#e98 0 38px,#d76 0 39px,#e98 0 40px,#aac 0 41px,#abd 0 42px,#ddd 0 43px,#bcd 0 44px,#67c 0 45px,#68c 0 46px,#9ad 0 47px,#abd 0 48px,#bbc 0 49px,#ddd 0 50px,#dcd 0 51px,#dbb 0 52px,#e98 0 53px,#c44 0 54px,#ea8 0 55px,#c44 0 56px,#a12 0 58px,#c33 0 59px,#b13 0 60px,#c44 0 61px,#d54 0 62px,#b23 0 63px,#a13 0 64px,#c33 0 65px,#d54 0 66px,#e75 0 67px,#b13 0 68px,#b23 0 69px,#a12 0 70px,#c34 0 71px,#c44 0 72px,#d54 0 73px,#c33 0 74px,#d65 0 75px,#d54 0 76px,#d65 0 77px,#d55 0 78px,#eba 0 79px,#e98 0 80px,#dba 0 81px,#daa 0 82px,#e98 0 83px,#eba 0 84px,#b23 0 86px,#b34 0 87px,#d76 0 88px,#daa 0 89px,#ea9 0 90px,#daa 0 91px,#ecb 0 92px,#d65 0 93px,#ea8 0 94px,#bbd 0 95px,#b89 0 96px,#ea9 0 97px,#ecc 0 98px,#78c 0 99px,#cbc 0 100px,#ccd 0 101px,#eb9 0 102px,#d87 0 103px,#e97 0 104px,#d65 0 105px,#e75 0 106px,#a12 0 108px,#caa 0 109px)"></i><i style="left:84px;width:2px;background:linear-gradient(#dcc 0 1px,#89c 0 2px,#9bd 0 3px,#78c 0 5px,#68c 0 6px,#46b 0 7px,#67c 0 8px,#57c 0 9px,#56b 0 10px,#cbc 0 11px,#78c 0 13px,#56b 0 14px,#9ad 0 16px,#89c 0 17px,#79c 0 18px,#9ad 0 19px,#ebb 0 20px,#e86 0 21px,#dcc 0 22px,#ddd 0 23px,#34a 0 24px,#78c 0 25px,#56b 0 26px,#78c 0 28px,#9ad 0 29px,#edc 0 30px,#ccd 0 31px,#abd 0 32px,#9bd 0 33px,#88b 0 34px,#ddd 0 35px,#dba 0 37px,#eba 0 38px,#dba 0 39px,#bbd 0 40px,#abd 0 41px,#9ad 0 42px,#edd 0 43px,#dcc 0 44px,#89d 0 45px,#57b 0 46px,#89d 0 47px,#8ad 0 48px,#78c 0 49px,#dcc 0 50px,#edc 0 51px,#e76 0 52px,#d55 0 53px,#c33 0 54px,#d76 0 55px,#e76 0 56px,#a12 0 58px,#d54 0 59px,#c33 0 60px,#c44 0 61px,#b23 0 62px,#a12 0 63px,#b34 0 64px,#d64 0 65px,#e76 0 66px,#d76 0 67px,#a13 0 68px,#b23 0 69px,#a12 0 70px,#c33 0 71px,#c44 0 72px,#d54 0 73px,#b23 0 74px,#c44 0 75px,#d76 0 76px,#e97 0 77px,#e76 0 78px,#eb9 0 79px,#d87 0 80px,#eb9 0 81px,#e97 0 82px,#e76 0 83px,#eb9 0 84px,#d55 0 85px,#d54 0 86px,#e76 0 87px,#ccd 0 88px,#dcc 0 89px,#e97 0 90px,#eaa 0 91px,#ea8 0 92px,#d65 0 93px,#eba 0 94px,#dcd 0 95px,#daa 0 96px,#eb9 0 97px,#ecb 0 98px,#dcc 0 100px,#bbd 0 101px,#abd 0 102px,#bbd 0 103px,#bcd 0 104px,#9ad 0 105px,#ecb 0 106px,#d55 0 107px,#b34 0 108px,#eaa 0 109px)"></i><i style="left:86px;width:3px;background:linear-gradient(#78c 0 1px,#349 0 2px,#34a 0 4px,#45a 0 5px,#34a 0 6px,#349 0 10px,#34a 0 12px,#349 0 14px,#56b 0 15px,#78c 0 16px,#45b 0 17px,#57b 0 18px,#9ad 0 19px,#ddd 0 20px,#cbb 0 21px,#89c 0 22px,#78c 0 23px,#34a 0 24px,#78c 0 25px,#34a 0 26px,#45b 0 27px,#56b 0 28px,#aac 0 29px,#ccd 0 30px,#cce 0 31px,#bcd 0 32px,#ccd 0 33px,#aac 0 34px,#99c 0 35px,#bcd 0 36px,#cbc 0 37px,#edd 0 38px,#ccc 0 39px,#abd 0 40px,#9ad 0 41px,#78c 0 42px,#abd 0 44px,#68c 0 45px,#34a 0 46px,#45a 0 48px,#34a 0 49px,#57b 0 50px,#45a 0 51px,#56b 0 52px,#abd 0 53px,#9ad 0 54px,#68c 0 55px,#67c 0 56px,#bbd 0 57px,#ccd 0 58px,#bcd 0 59px,#45b 0 61px,#68c 0 62px,#56b 0 63px,#34a 0 64px,#349 0 65px,#45a 0 66px,#57c 0 67px,#34a 0 68px,#67c 0 69px,#57c 0 70px,#89c 0 71px,#45b 0 72px,#56b 0 74px,#78c 0 75px,#89d 0 76px,#34a 0 78px,#78c 0 80px,#68c 0 81px,#abd 0 82px,#68c 0 83px,#cdd 0 84px,#ecb 0 85px,#d88 0 86px,#dcb 0 87px,#89d 0 88px,#78c 0 89px,#abd 0 90px,#aac 0 91px,#9ad 0 92px,#bbd 0 93px,#9ad 0 94px,#57c 0 95px,#abd 0 96px,#ccd 0 97px,#bcd 0 98px,#bbd 0 99px,#aad 0 100px,#abd 0 101px,#aac 0 102px,#9ad 0 103px,#ccd 0 104px,#cbc 0 105px,#eba 0 106px,#e86 0 107px,#c44 0 108px,#ea9 0 109px)"></i><i style="left:89px;width:2px;background:linear-gradient(#ccd 0 1px,#9ad 0 4px,#8ad 0 6px,#78c 0 7px,#8ad 0 8px,#9ad 0 9px,#8ad 0 10px,#bbd 0 11px,#89d 0 12px,#68c 0 13px,#45a 0 14px,#9bd 0 15px,#ccd 0 16px,#bcd 0 18px,#cdd 0 19px,#ccd 0 20px,#ecc 0 21px,#ccd 0 22px,#9ad 0 23px,#89d 0 24px,#abd 0 25px,#9ad 0 28px,#bcd 0 29px,#ccd 0 30px,#ddd 0 31px,#bbd 0 32px,#cce 0 33px,#bbd 0 34px,#bcd 0 35px,#ccd 0 36px,#dcd 0 37px,#eba 0 38px,#eca 0 39px,#abd 0 40px,#bce 0 41px,#9bd 0 42px,#ccd 0 43px,#abd 0 45px,#9ad 0 46px,#79c 0 47px,#8ad 0 48px,#9ad 0 49px,#bcd 0 50px,#9ad 0 52px,#ccd 0 53px,#edc 0 54px,#bcd 0 55px,#bbd 0 56px,#ddd 0 57px,#dcc 0 58px,#bcd 0 59px,#bbd 0 60px,#bcd 0 62px,#9ad 0 63px,#abd 0 64px,#9ad 0 65px,#9bd 0 66px,#9ad 0 68px,#ddd 0 69px,#dbb 0 70px,#bcd 0 71px,#9ad 0 72px,#8ad 0 73px,#bcd 0 74px,#cce 0 75px,#bcd 0 76px,#abd 0 77px,#89d 0 78px,#9bd 0 79px,#9ad 0 80px,#9bd 0 81px,#9ad 0 82px,#68c 0 83px,#89d 0 84px,#9ad 0 85px,#abd 0 86px,#9ad 0 87px,#89d 0 89px,#ccd 0 90px,#bcd 0 91px,#ccd 0 92px,#ddd 0 93px,#ddc 0 94px,#9ad 0 95px,#dcd 0 96px,#ccd 0 97px,#ddd 0 98px,#dcc 0 99px,#abd 0 100px,#ccd 0 101px,#ecc 0 102px,#dcc 0 103px,#ccd 0 104px,#dcc 0 105px,#edc 0 106px,#e87 0 107px,#d44 0 108px,#ecb 0 109px)"></i><i style="left:91px;width:3px;background:linear-gradient(#34a 0 1px,#349 0 2px,#34a 0 3px,#45b 0 5px,#45a 0 6px,#34a 0 7px,#56b 0 8px,#68c 0 9px,#45b 0 10px,#78c 0 11px,#34a 0 12px,#349 0 13px,#34a 0 14px,#68c 0 15px,#89d 0 16px,#56c 0 17px,#57c 0 18px,#79d 0 19px,#9ad 0 20px,#78c 0 21px,#68c 0 22px,#56b 0 23px,#34a 0 24px,#68c 0 25px,#56b 0 26px,#45b 0 27px,#349 0 28px,#67c 0 29px,#68c 0 30px,#8ad 0 31px,#67c 0 32px,#78c 0 33px,#34a 0 35px,#45b 0 36px,#bbd 0 37px,#ccc 0 38px,#9ad 0 39px,#45a 0 41px,#45b 0 42px,#78c 0 44px,#57c 0 45px,#56b 0 46px,#46b 0 47px,#78c 0 48px,#57b 0 49px,#78c 0 50px,#45a 0 51px,#89c 0 52px,#ccd 0 53px,#cbb 0 54px,#9ad 0 55px,#bbd 0 56px,#ea9 0 57px,#edd 0 58px,#ddd 0 59px,#9ad 0 60px,#abd 0 61px,#9ad 0 63px,#79c 0 64px,#78c 0 65px,#9ad 0 66px,#89d 0 67px,#78c 0 68px,#ccd 0 69px,#dcd 0 70px,#cbc 0 71px,#9ad 0 72px,#9bd 0 73px,#abd 0 75px,#bbd 0 76px,#78c 0 77px,#45b 0 78px,#89d 0 79px,#68c 0 80px,#bcd 0 81px,#abd 0 82px,#8ad 0 83px,#abd 0 84px,#9ad 0 85px,#ccd 0 86px,#bbd 0 87px,#9ac 0 88px,#68c 0 89px,#bcd 0 90px,#ccc 0 91px,#bcd 0 92px,#9ad 0 93px,#bbc 0 94px,#89c 0 95px,#9ac 0 96px,#9ad 0 97px,#abd 0 98px,#bcd 0 99px,#9ad 0 100px,#abd 0 101px,#ccd 0 102px,#bbd 0 103px,#8ac 0 104px,#67c 0 105px,#bcd 0 106px,#dbb 0 107px,#dcc 0 108px,#89c 0 109px)"></i><i style="left:94px;width:2px;background:linear-gradient(#abd 0 1px,#79d 0 2px,#78c 0 3px,#bbd 0 4px,#9ad 0 5px,#79d 0 6px,#79c 0 7px,#99c 0 8px,#bbc 0 9px,#bbd 0 11px,#79c 0 12px,#45b 0 13px,#46b 0 14px,#bcd 0 15px,#ddc 0 16px,#edc 0 17px,#ccc 0 18px,#bbd 0 19px,#dcc 0 20px,#eba 0 21px,#e87 0 22px,#edc 0 23px,#ccd 0 24px,#bcd 0 25px,#cbc 0 26px,#dba 0 27px,#bcd 0 29px,#eba 0 31px,#cbc 0 32px,#ccd 0 33px,#abd 0 34px,#bbd 0 35px,#ccd 0 36px,#ea8 0 37px,#d65 0 38px,#d99 0 39px,#bcd 0 40px,#abd 0 41px,#ccc 0 42px,#e98 0 43px,#eb9 0 44px,#edc 0 45px,#abc 0 46px,#eba 0 47px,#e98 0 48px,#ecc 0 49px,#e87 0 50px,#c44 0 51px,#e86 0 52px,#d76 0 53px,#c66 0 54px,#d54 0 55px,#d64 0 56px,#b33 0 57px,#b13 0 58px,#d55 0 59px,#d44 0 60px,#e97 0 61px,#ea9 0 62px,#e86 0 63px,#e87 0 64px,#ea8 0 65px,#ea9 0 66px,#ecc 0 67px,#ea9 0 68px,#d54 0 69px,#c33 0 70px,#e75 0 71px,#d65 0 72px,#ecc 0 73px,#ea8 0 74px,#e86 0 75px,#e75 0 76px,#dcc 0 77px,#dbc 0 78px,#edc 0 79px,#dcb 0 80px,#dbb 0 81px,#d98 0 82px,#ea8 0 83px,#ecc 0 84px,#e98 0 85px,#eba 0 86px,#e87 0 87px,#dcc 0 88px,#ccd 0 89px,#eb9 0 90px,#e98 0 91px,#ecb 0 92px,#dcc 0 93px,#ddd 0 94px,#ccd 0 95px,#ecb 0 96px,#eba 0 97px,#ecb 0 98px,#ccc 0 99px,#9bd 0 100px,#9ad 0 101px,#abd 0 102px,#9ad 0 103px,#bbd 0 104px,#ccd 0 105px,#dcd 0 106px,#ea8 0 107px,#d99 0 108px,#bce 0 109px)"></i><i style="left:96px;width:3px;background:linear-gradient(#ddd 0 3px,#ecb 0 4px,#dcd 0 5px,#ddd 0 6px,#ccd 0 7px,#ddd 0 9px,#ecc 0 10px,#ddd 0 11px,#ecc 0 12px,#bbd 0 14px,#ddd 0 15px,#edd 0 17px,#dcd 0 18px,#dde 0 19px,#ddd 0 20px,#dcc 0 22px,#bbd 0 23px,#abd 0 24px,#bcd 0 26px,#ddc 0 27px,#dcd 0 28px,#ccd 0 29px,#bce 0 30px,#ddd 0 31px,#edd 0 32px,#cce 0 33px,#bcd 0 34px,#abd 0 35px,#bcd 0 36px,#bbd 0 37px,#edc 0 38px,#dcc 0 39px,#abd 0 40px,#9ad 0 42px,#cce 0 43px,#bce 0 44px,#ccd 0 45px,#89d 0 46px,#dcd 0 47px,#bce 0 48px,#ccd 0 49px,#bcd 0 50px,#ccd 0 51px,#bcd 0 52px,#ccd 0 53px,#dcc 0 54px,#ccd 0 55px,#bce 0 56px,#ddc 0 57px,#ddd 0 58px,#edd 0 59px,#bcd 0 60px,#ccd 0 62px,#89d 0 63px,#abd 0 64px,#8ad 0 65px,#bce 0 66px,#cce 0 67px,#ccd 0 68px,#eba 0 69px,#edc 0 70px,#ecb 0 71px,#dcc 0 72px,#dcd 0 73px,#bcd 0 74px,#dcc 0 75px,#dcd 0 76px,#ddd 0 77px,#edd 0 78px,#edc 0 79px,#ccd 0 80px,#ddd 0 82px,#ccd 0 83px,#ddd 0 84px,#ecb 0 85px,#eca 0 86px,#ecb 0 87px,#dcd 0 88px,#ccd 0 89px,#edd 0 90px,#ecb 0 91px,#dcd 0 92px,#ddd 0 93px,#edd 0 94px,#abd 0 95px,#bbd 0 96px,#ccd 0 98px,#edd 0 99px,#bcd 0 100px,#ddd 0 101px,#edd 0 103px,#ddd 0 104px,#bcd 0 105px,#dcd 0 106px,#edd 0 107px,#ddd 0 108px,#ccd 0 109px)"></i><i style="left:99px;width:2px;background:linear-gradient(#9ad 0 1px,#67c 0 2px,#bcd 0 3px,#9ad 0 4px,#56b 0 7px,#57c 0 8px,#9ad 0 9px,#56b 0 10px,#9ad 0 11px,#67b 0 12px,#56b 0 13px,#46b 0 14px,#bcd 0 15px,#ccc 0 16px,#9ad 0 17px,#89d 0 18px,#cbc 0 20px,#d76 0 21px,#d44 0 22px,#dcc 0 23px,#89c 0 24px,#abd 0 25px,#ddd 0 26px,#b9a 0 27px,#ea9 0 28px,#cbb 0 29px,#bbd 0 30px,#dcc 0 31px,#e98 0 32px,#ddd 0 33px,#9ad 0 34px,#89c 0 35px,#9ad 0 36px,#a9b 0 37px,#e97 0 38px,#ecb 0 39px,#c88 0 40px,#dcc 0 41px,#ccd 0 42px,#ea9 0 43px,#edc 0 44px,#abd 0 45px,#78c 0 46px,#dbb 0 47px,#aad 0 48px,#9ad 0 49px,#89d 0 50px,#bbc 0 51px,#9ad 0 52px,#daa 0 53px,#c9a 0 54px,#bab 0 55px,#eba 0 56px,#ea8 0 57px,#d76 0 58px,#daa 0 59px,#c99 0 60px,#ddd 0 61px,#bbd 0 62px,#bbc 0 63px,#eba 0 64px,#ecc 0 65px,#da9 0 66px,#dcd 0 67px,#e98 0 68px,#d54 0 69px,#c33 0 70px,#e86 0 71px,#d77 0 72px,#e86 0 73px,#d77 0 74px,#e87 0 75px,#cbb 0 76px,#ccd 0 77px,#9ad 0 78px,#aac 0 79px,#bab 0 80px,#aac 0 81px,#cbc 0 82px,#ccd 0 83px,#abd 0 84px,#da9 0 85px,#ecc 0 86px,#c55 0 87px,#c99 0 88px,#ccd 0 89px,#cbc 0 90px,#dbb 0 91px,#eba 0 93px,#dba 0 94px,#bab 0 95px,#cac 0 96px,#abd 0 97px,#ddd 0 98px,#9ad 0 99px,#89d 0 100px,#cdd 0 101px,#ccd 0 102px,#dcc 0 103px,#ccd 0 104px,#89d 0 105px,#cbc 0 106px,#dbb 0 107px,#ccd 0 108px,#bbd 0 109px)"></i><i style="left:101px;width:2px;background:linear-gradient(#67c 0 2px,#79c 0 3px,#56b 0 5px,#67c 0 6px,#45a 0 8px,#56b 0 9px,#57b 0 10px,#89d 0 11px,#78c 0 12px,#89d 0 13px,#9ad 0 14px,#ddd 0 15px,#ccd 0 17px,#dcc 0 18px,#dbb 0 19px,#abd 0 20px,#da9 0 21px,#d66 0 22px,#dcc 0 23px,#a9a 0 24px,#eba 0 25px,#d65 0 26px,#d54 0 27px,#d66 0 28px,#eba 0 29px,#edc 0 30px,#eba 0 31px,#d87 0 32px,#ea9 0 33px,#dcc 0 34px,#bbc 0 35px,#ddd 0 36px,#dbc 0 37px,#eba 0 38px,#c33 0 39px,#d54 0 40px,#e98 0 41px,#daa 0 42px,#ecb 0 43px,#d99 0 44px,#ccd 0 45px,#cbc 0 47px,#ccd 0 48px,#bbd 0 49px,#abd 0 50px,#89d 0 51px,#56b 0 52px,#ecb 0 53px,#cab 0 54px,#bcd 0 55px,#ddd 0 56px,#e97 0 57px,#da9 0 58px,#ddd 0 59px,#cbc 0 60px,#ecb 0 61px,#9ac 0 62px,#bbd 0 64px,#bbc 0 65px,#cce 0 66px,#dcc 0 67px,#d99 0 68px,#d65 0 69px,#e98 0 70px,#edc 0 71px,#d99 0 72px,#dba 0 73px,#d76 0 74px,#e75 0 75px,#d65 0 76px,#ebb 0 77px,#b89 0 78px,#dde 0 79px,#cbb 0 80px,#bbd 0 81px,#abd 0 82px,#bcd 0 83px,#dcc 0 84px,#9ad 0 85px,#bbd 0 86px,#ecb 0 87px,#bbd 0 88px,#9ad 0 89px,#bbc 0 90px,#da9 0 91px,#ecb 0 92px,#eaa 0 93px,#ccd 0 94px,#89c 0 95px,#66b 0 96px,#44a 0 97px,#56b 0 99px,#68c 0 100px,#bbd 0 102px,#89c 0 103px,#abd 0 104px,#56b 0 105px,#ccd 0 106px,#dbb 0 108px,#abc 0 109px)"></i><i style="left:103px;width:3px;background:linear-gradient(#ddd 0 1px,#8ad 0 2px,#bcd 0 5px,#ddd 0 6px,#9ad 0 7px,#8ad 0 8px,#abd 0 9px,#ccd 0 10px,#dcc 0 11px,#eba 0 12px,#edc 0 13px,#ddd 0 15px,#edd 0 16px,#dcd 0 17px,#edd 0 18px,#edc 0 19px,#edd 0 20px,#edc 0 21px,#ea8 0 22px,#ccd 0 23px,#bbd 0 24px,#ea8 0 25px,#c55 0 26px,#e86 0 27px,#e98 0 28px,#eb9 0 29px,#ddd 0 30px,#ecc 0 31px,#eba 0 32px,#edc 0 33px,#dcc 0 35px,#ddd 0 36px,#ecc 0 37px,#ecb 0 38px,#d55 0 39px,#e65 0 40px,#ea8 0 41px,#ea9 0 42px,#ecb 0 43px,#ea9 0 44px,#ecb 0 45px,#e98 0 46px,#eba 0 47px,#ecb 0 48px,#ea8 0 49px,#e97 0 50px,#eaa 0 51px,#ebb 0 52px,#e76 0 53px,#c44 0 54px,#ea8 0 55px,#e65 0 56px,#b23 0 57px,#d76 0 58px,#e98 0 59px,#e65 0 60px,#e97 0 61px,#eca 0 62px,#ea8 0 63px,#e97 0 64px,#e76 0 65px,#e97 0 66px,#eba 0 67px,#e65 0 69px,#d65 0 70px,#eba 0 71px,#ea8 0 72px,#e87 0 73px,#e76 0 74px,#e75 0 75px,#d55 0 76px,#e86 0 77px,#eb9 0 78px,#ecc 0 79px,#eca 0 80px,#edc 0 81px,#dcc 0 82px,#eba 0 83px,#ecb 0 84px,#ea9 0 85px,#eca 0 86px,#eb9 0 87px,#eba 0 88px,#ecc 0 89px,#edc 0 90px,#ccc 0 91px,#eca 0 92px,#ea9 0 93px,#edc 0 94px,#ccd 0 95px,#abd 0 97px,#79d 0 98px,#78c 0 99px,#bbe 0 100px,#cde 0 101px,#ddd 0 102px,#abd 0 103px,#bbd 0 104px,#cbc 0 105px,#edd 0 106px,#edc 0 107px,#89c 0 108px,#89d 0 109px)"></i><i style="left:106px;width:2px;background:linear-gradient(#9bd 0 1px,#79d 0 2px,#89c 0 4px,#79c 0 5px,#9ac 0 6px,#78c 0 7px,#79d 0 8px,#68c 0 9px,#bbc 0 10px,#abd 0 11px,#68c 0 12px,#56b 0 13px,#abd 0 14px,#ddd 0 16px,#89d 0 17px,#ccd 0 18px,#bbd 0 19px,#cce 0 20px,#e87 0 21px,#e98 0 22px,#dcc 0 23px,#dbb 0 24px,#d65 0 25px,#b13 0 26px,#b34 0 27px,#c55 0 28px,#eba 0 29px,#eb9 0 30px,#ea9 0 31px,#e87 0 32px,#eb9 0 33px,#ea9 0 34px,#ccc 0 35px,#dcd 0 36px,#bbd 0 37px,#dcc 0 38px,#d44 0 39px,#c44 0 40px,#e97 0 41px,#d54 0 42px,#eca 0 43px,#ea8 0 44px,#ccc 0 45px,#cbc 0 46px,#ea9 0 47px,#eba 0 48px,#eb9 0 49px,#ea9 0 50px,#dbb 0 51px,#da9 0 52px,#e87 0 53px,#d54 0 54px,#d76 0 55px,#c34 0 56px,#b23 0 57px,#c33 0 58px,#e86 0 59px,#c33 0 60px,#d65 0 61px,#ea8 0 62px,#d44 0 63px,#d55 0 64px,#d76 0 65px,#eba 0 67px,#d55 0 68px,#d54 0 69px,#c55 0 70px,#e87 0 71px,#b23 0 72px,#c44 0 73px,#b13 0 74px,#a12 0 75px,#c44 0 76px,#d55 0 77px,#d65 0 78px,#ecb 0 79px,#dcc 0 80px,#dcd 0 81px,#ecc 0 82px,#d77 0 83px,#ea8 0 84px,#eb9 0 85px,#e97 0 86px,#d87 0 87px,#dbb 0 88px,#ccc 0 90px,#eba 0 92px,#e98 0 93px,#ccd 0 94px,#bbd 0 95px,#45a 0 96px,#57b 0 97px,#67c 0 98px,#78c 0 99px,#cbc 0 100px,#ccd 0 101px,#ecc 0 102px,#bbc 0 103px,#abd 0 104px,#abc 0 105px,#dcb 0 106px,#edc 0 107px,#78c 0 108px,#99c 0 109px)"></i><i style="left:108px;width:3px;background:linear-gradient(#e86 0 1px,#c34 0 2px,#d54 0 3px,#c33 0 4px,#e86 0 5px,#e98 0 6px,#e87 0 7px,#d54 0 8px,#ea9 0 9px,#d77 0 10px,#d65 0 11px,#d77 0 12px,#d54 0 13px,#d77 0 14px,#e86 0 15px,#e87 0 16px,#ea9 0 17px,#e97 0 18px,#eaa 0 19px,#d87 0 20px,#b23 0 21px,#b34 0 22px,#e76 0 23px,#d76 0 24px,#d44 0 25px,#a12 0 27px,#b13 0 28px,#c44 0 29px,#ecb 0 30px,#e98 0 31px,#d87 0 32px,#ea9 0 33px,#d99 0 34px,#cbb 0 35px,#eba 0 36px,#d98 0 37px,#e65 0 38px,#b23 0 39px,#c45 0 40px,#e86 0 41px,#e75 0 42px,#eba 0 43px,#dbb 0 44px,#bbd 0 45px,#dbb 0 46px,#daa 0 47px,#eba 0 48px,#cbc 0 49px,#dcc 0 50px,#edc 0 51px,#ea8 0 52px,#e98 0 53px,#a12 0 54px,#c55 0 55px,#d44 0 56px,#c33 0 57px,#b44 0 58px,#d54 0 59px,#d76 0 60px,#ecb 0 61px,#dcc 0 62px,#cbc 0 63px,#d55 0 64px,#ecb 0 65px,#eba 0 66px,#dcc 0 67px,#da9 0 68px,#ea8 0 69px,#d75 0 70px,#dcd 0 71px,#d99 0 72px,#ea9 0 73px,#d54 0 74px,#c23 0 75px,#c44 0 76px,#d98 0 77px,#d99 0 78px,#ecb 0 79px,#d76 0 80px,#e97 0 81px,#dbb 0 82px,#e88 0 83px,#c66 0 84px,#d76 0 85px,#e86 0 86px,#d44 0 87px,#c44 0 88px,#e98 0 89px,#e76 0 90px,#d76 0 91px,#e98 0 92px,#ebb 0 93px,#dbb 0 94px,#caa 0 95px,#78c 0 96px,#bbc 0 97px,#bcd 0 98px,#cab 0 99px,#daa 0 100px,#eba 0 101px,#dba 0 102px,#ebb 0 103px,#abd 0 104px,#bbd 0 105px,#da9 0 106px,#eba 0 107px,#dcc 0 108px,#46b 0 109px)"></i><i style="left:111px;width:2px;background:linear-gradient(#e87 0 1px,#c33 0 2px,#c44 0 3px,#e86 0 4px,#eb9 0 6px,#dcb 0 7px,#ea9 0 8px,#e65 0 9px,#b13 0 10px,#c44 0 14px,#ea8 0 15px,#e86 0 17px,#e76 0 19px,#d54 0 20px,#a12 0 22px,#c44 0 23px,#b13 0 24px,#c33 0 25px,#a12 0 26px,#b13 0 27px,#b23 0 29px,#e76 0 30px,#e87 0 31px,#c44 0 32px,#eba 0 33px,#d87 0 34px,#d65 0 35px,#ea9 0 36px,#d54 0 38px,#d65 0 39px,#c23 0 40px,#e97 0 41px,#eba 0 42px,#ea8 0 43px,#e87 0 44px,#ea8 0 45px,#d76 0 46px,#d65 0 47px,#e65 0 48px,#edc 0 49px,#eba 0 50px,#e87 0 51px,#eb9 0 52px,#ea8 0 53px,#e87 0 54px,#e97 0 55px,#e76 0 57px,#e75 0 58px,#ea9 0 59px,#e97 0 60px,#dcc 0 61px,#edd 0 62px,#ea9 0 63px,#dcc 0 65px,#ecc 0 66px,#ccd 0 67px,#daa 0 68px,#edc 0 69px,#abd 0 70px,#ccd 0 71px,#dbb 0 72px,#ea8 0 73px,#d77 0 74px,#e87 0 76px,#dbb 0 77px,#ecc 0 78px,#ddd 0 79px,#e98 0 80px,#ea9 0 81px,#eca 0 82px,#dcd 0 83px,#ecb 0 84px,#e98 0 85px,#eb9 0 86px,#ebb 0 87px,#dcc 0 88px,#dba 0 89px,#ea8 0 90px,#eb9 0 91px,#e97 0 92px,#ea9 0 94px,#bbd 0 95px,#abd 0 96px,#89d 0 98px,#ccd 0 99px,#dcc 0 100px,#ecc 0 101px,#ecb 0 103px,#abd 0 104px,#b9b 0 105px,#eba 0 106px,#dcc 0 107px,#ccd 0 108px,#ccc 0 109px)"></i><i style="left:113px;width:3px;background:linear-gradient(#ccd 0 1px,#dba 0 2px,#e87 0 3px,#ecb 0 4px,#a9b 0 5px,#9ad 0 6px,#aac 0 7px,#bbd 0 8px,#eba 0 9px,#b13 0 10px,#c66 0 11px,#d55 0 12px,#c66 0 13px,#d65 0 14px,#e97 0 15px,#d65 0 16px,#d54 0 17px,#ea9 0 18px,#eba 0 19px,#d44 0 20px,#a13 0 21px,#a12 0 28px,#b13 0 29px,#c23 0 30px,#b23 0 31px,#b13 0 32px,#c44 0 33px,#b34 0 34px,#c33 0 35px,#d55 0 36px,#a12 0 39px,#c45 0 40px,#d65 0 41px,#d66 0 42px,#d44 0 43px,#c33 0 44px,#e98 0 45px,#d55 0 46px,#c54 0 47px,#c44 0 48px,#d77 0 49px,#ddd 0 50px,#bab 0 51px,#dba 0 52px,#da9 0 53px,#eaa 0 54px,#9ad 0 55px,#c9a 0 56px,#dbb 0 57px,#b99 0 58px,#ecc 0 59px,#8ad 0 60px,#57c 0 61px,#78c 0 62px,#aac 0 63px,#9ad 0 64px,#ebb 0 65px,#ecb 0 67px,#daa 0 68px,#ea8 0 69px,#bac 0 70px,#ccd 0 71px,#d66 0 72px,#e97 0 73px,#e76 0 74px,#e75 0 75px,#e98 0 76px,#dbb 0 77px,#d98 0 78px,#eba 0 79px,#e98 0 80px,#d98 0 81px,#ea8 0 82px,#b89 0 83px,#eba 0 84px,#d65 0 85px,#d66 0 86px,#e98 0 87px,#ea9 0 88px,#d76 0 89px,#d44 0 90px,#d54 0 91px,#e87 0 92px,#eca 0 93px,#ecb 0 94px,#bcd 0 95px,#bbd 0 96px,#caa 0 97px,#ccd 0 98px,#ebb 0 99px,#cbb 0 100px,#ebb 0 101px,#e76 0 102px,#ecc 0 103px,#68c 0 104px,#bbc 0 105px,#d76 0 107px,#ccc 0 108px,#78c 0 109px)"></i><i style="left:116px;width:2px;background:linear-gradient(#d65 0 1px,#c34 0 2px,#c33 0 3px,#c44 0 4px,#d65 0 5px,#ea9 0 6px,#d76 0 7px,#d65 0 8px,#c44 0 9px,#b23 0 10px,#c33 0 12px,#c44 0 14px,#e87 0 15px,#e98 0 16px,#d66 0 17px,#e87 0 18px,#e76 0 19px,#c33 0 20px,#a12 0 22px,#b23 0 23px,#a12 0 29px,#b23 0 30px,#c23 0 31px,#b23 0 32px,#d55 0 33px,#c44 0 34px,#c77 0 35px,#b23 0 36px,#a13 0 37px,#a12 0 40px,#b23 0 41px,#c33 0 42px,#d66 0 44px,#ecc 0 45px,#c88 0 46px,#ea9 0 47px,#e98 0 48px,#d99 0 49px,#aac 0 50px,#ebb 0 51px,#dcb 0 52px,#d98 0 53px,#c23 0 54px,#c55 0 55px,#e65 0 56px,#d55 0 57px,#dba 0 58px,#cbc 0 59px,#8ad 0 60px,#78c 0 61px,#abd 0 62px,#77b 0 63px,#9ad 0 64px,#ecb 0 65px,#d88 0 66px,#dba 0 67px,#ecb 0 68px,#d66 0 69px,#ccd 0 70px,#dcc 0 71px,#c55 0 72px,#dba 0 73px,#d66 0 74px,#d87 0 75px,#da9 0 76px,#eba 0 77px,#dba 0 78px,#dcd 0 79px,#cab 0 80px,#edc 0 81px,#dbb 0 82px,#bbd 0 83px,#eba 0 84px,#e87 0 85px,#e86 0 86px,#d44 0 87px,#dcb 0 88px,#da9 0 89px,#d87 0 90px,#ea9 0 91px,#dcb 0 92px,#eba 0 93px,#bcd 0 94px,#89d 0 95px,#56b 0 96px,#45b 0 97px,#abd 0 98px,#9ad 0 99px,#78c 0 100px,#ddd 0 101px,#ea8 0 102px,#bcd 0 103px,#56b 0 104px,#bbd 0 105px,#dcd 0 106px,#cab 0 107px,#b78 0 108px,#9ad 0 109px)"></i><i style="left:118px;width:3px;background:linear-gradient(#ea8 0 1px,#d65 0 2px,#d64 0 3px,#c33 0 4px,#e76 0 5px,#ea8 0 6px,#e97 0 8px,#ea8 0 9px,#d54 0 10px,#d65 0 11px,#c33 0 12px,#b13 0 13px,#c34 0 14px,#eb9 0 15px,#e98 0 16px,#e65 0 17px,#e75 0 18px,#e87 0 19px,#e86 0 20px,#d44 0 21px,#a12 0 22px,#d54 0 23px,#d76 0 24px,#e97 0 25px,#b23 0 26px,#d54 0 28px,#e65 0 29px,#ea9 0 30px,#eba 0 31px,#eb9 0 32px,#edc 0 33px,#ecb 0 34px,#eb9 0 35px,#eba 0 36px,#e86 0 38px,#d65 0 40px,#eb9 0 41px,#eca 0 42px,#eba 0 43px,#ecb 0 44px,#edd 0 45px,#ecb 0 46px,#eba 0 47px,#e97 0 48px,#eca 0 49px,#edc 0 51px,#dcc 0 52px,#ecb 0 53px,#e76 0 54px,#ea9 0 56px,#d54 0 57px,#e87 0 58px,#ecb 0 59px,#eba 0 60px,#edc 0 62px,#ecc 0 63px,#eba 0 65px,#edc 0 66px,#ddd 0 67px,#ccd 0 68px,#ddd 0 69px,#bbd 0 70px,#ccd 0 71px,#ea8 0 72px,#e97 0 73px,#e86 0 74px,#ecb 0 75px,#edc 0 77px,#dcc 0 78px,#edd 0 79px,#ddc 0 80px,#ddd 0 81px,#edd 0 82px,#bbc 0 83px,#ddd 0 85px,#dde 0 86px,#ccd 0 87px,#bbd 0 88px,#cde 0 89px,#ddd 0 90px,#abd 0 92px,#bbd 0 93px,#ddd 0 94px,#9ad 0 95px,#78c 0 97px,#abd 0 98px,#8ad 0 99px,#bcd 0 100px,#edc 0 101px,#ecb 0 102px,#ccd 0 103px,#bcd 0 104px,#9ad 0 105px,#edc 0 106px,#ccd 0 107px,#abd 0 108px,#9ad 0 109px)"></i><i style="left:121px;width:2px;background:linear-gradient(#ea9 0 1px,#b23 0 2px,#d76 0 3px,#b23 0 4px,#d76 0 5px,#ea9 0 6px,#e98 0 7px,#d65 0 8px,#d76 0 9px,#b33 0 10px,#c34 0 11px,#b34 0 12px,#d55 0 14px,#ea9 0 15px,#ea8 0 17px,#d87 0 18px,#e98 0 19px,#d54 0 20px,#b13 0 21px,#b23 0 22px,#c44 0 23px,#d87 0 24px,#d65 0 25px,#b33 0 26px,#c33 0 27px,#a12 0 28px,#d55 0 29px,#e76 0 30px,#d65 0 31px,#d76 0 32px,#eba 0 33px,#bbc 0 34px,#eba 0 35px,#e87 0 36px,#89d 0 37px,#d98 0 38px,#b33 0 39px,#d99 0 40px,#ccd 0 41px,#eba 0 42px,#e98 0 43px,#cbb 0 44px,#aac 0 45px,#99b 0 46px,#ccd 0 47px,#dba 0 48px,#abd 0 49px,#bac 0 50px,#56b 0 51px,#34a 0 52px,#46b 0 53px,#aac 0 54px,#abd 0 55px,#bce 0 56px,#bbc 0 57px,#dcc 0 58px,#89d 0 59px,#57b 0 60px,#34a 0 62px,#349 0 63px,#45b 0 64px,#9ad 0 65px,#bcd 0 66px,#9ad 0 67px,#45b 0 68px,#46b 0 69px,#45a 0 70px,#45b 0 71px,#b9a 0 72px,#9ad 0 73px,#89d 0 74px,#abd 0 75px,#78c 0 77px,#67b 0 78px,#68c 0 79px,#67c 0 80px,#78c 0 81px,#46b 0 82px,#45b 0 83px,#9ad 0 84px,#bac 0 85px,#ecb 0 86px,#89c 0 87px,#56b 0 89px,#dcc 0 90px,#67c 0 91px,#45b 0 92px,#66b 0 93px,#67c 0 94px,#68c 0 95px,#46b 0 96px,#349 0 97px,#45a 0 99px,#34a 0 100px,#9ad 0 101px,#ccd 0 102px,#45a 0 103px,#34a 0 104px,#349 0 105px,#78c 0 106px,#45b 0 107px,#349 0 109px)"></i><i style="left:123px;width:3px;background:linear-gradient(#d99 0 1px,#d65 0 2px,#e86 0 3px,#c44 0 4px,#c66 0 5px,#cbc 0 6px,#99b 0 7px,#c76 0 8px,#c43 0 9px,#b34 0 10px,#c44 0 12px,#b34 0 13px,#c65 0 14px,#ecc 0 15px,#eba 0 16px,#d88 0 17px,#e76 0 18px,#d54 0 19px,#d98 0 20px,#a13 0 21px,#a12 0 23px,#a13 0 24px,#a12 0 29px,#c44 0 30px,#c33 0 31px,#b34 0 32px,#e76 0 33px,#c33 0 34px,#b34 0 35px,#e76 0 36px,#c55 0 37px,#b35 0 38px,#b34 0 39px,#b35 0 40px,#e98 0 41px,#ebb 0 42px,#daa 0 43px,#cbb 0 44px,#68c 0 45px,#56b 0 46px,#b89 0 47px,#dcd 0 48px,#99b 0 49px,#dbb 0 50px,#56b 0 51px,#44a 0 52px,#45b 0 53px,#77b 0 54px,#cbb 0 55px,#99b 0 56px,#b99 0 57px,#89c 0 58px,#45a 0 59px,#55b 0 60px,#45a 0 61px,#44a 0 62px,#34a 0 64px,#66a 0 65px,#abd 0 66px,#67c 0 67px,#34a 0 68px,#56b 0 69px,#45b 0 70px,#88b 0 71px,#cbc 0 72px,#c88 0 73px,#daa 0 74px,#bab 0 75px,#56b 0 76px,#34a 0 77px,#349 0 78px,#34a 0 79px,#349 0 80px,#45a 0 83px,#9ad 0 84px,#34a 0 85px,#45b 0 86px,#45a 0 87px,#34a 0 88px,#56b 0 89px,#bbc 0 90px,#b9b 0 91px,#56b 0 93px,#88c 0 94px,#67b 0 95px,#45a 0 97px,#45b 0 98px,#56b 0 99px,#89c 0 100px,#a9c 0 101px,#daa 0 102px,#78c 0 103px,#45a 0 104px,#349 0 105px,#bbd 0 106px,#45a 0 107px,#34a 0 108px,#349 0 109px)"></i><i style="left:126px;width:2px;background:linear-gradient(#ecb 0 1px,#e86 0 2px,#e98 0 3px,#d65 0 5px,#eb9 0 6px,#ddd 0 7px,#e98 0 8px,#d54 0 9px,#b13 0 10px,#d65 0 11px,#d54 0 12px,#c23 0 13px,#d44 0 14px,#e87 0 15px,#e98 0 16px,#e75 0 17px,#e76 0 18px,#e65 0 19px,#d65 0 20px,#c33 0 21px,#a12 0 22px,#d65 0 23px,#b23 0 24px,#d44 0 25px,#a12 0 26px,#b13 0 28px,#c33 0 29px,#d44 0 31px,#b23 0 32px,#e86 0 33px,#d76 0 34px,#c44 0 35px,#d65 0 36px,#c44 0 38px,#b13 0 39px,#d44 0 40px,#ecb 0 42px,#eba 0 43px,#ecb 0 44px,#ccd 0 45px,#aac 0 46px,#dcc 0 47px,#ccd 0 48px,#bbd 0 49px,#abd 0 50px,#9ad 0 51px,#78c 0 52px,#bcd 0 53px,#ecc 0 54px,#ccd 0 55px,#edd 0 56px,#ddd 0 57px,#79d 0 58px,#78c 0 59px,#56b 0 61px,#67c 0 62px,#45a 0 63px,#45b 0 64px,#9ad 0 65px,#9bd 0 66px,#abd 0 67px,#57c 0 68px,#9ad 0 69px,#67c 0 70px,#89d 0 71px,#68c 0 72px,#9ad 0 73px,#79d 0 74px,#abd 0 75px,#8ad 0 76px,#67c 0 77px,#57c 0 78px,#68c 0 80px,#89d 0 81px,#46b 0 83px,#79d 0 84px,#89d 0 85px,#9ad 0 86px,#46b 0 87px,#45a 0 88px,#57c 0 89px,#68c 0 90px,#78c 0 91px,#67c 0 93px,#9ad 0 94px,#78c 0 95px,#67c 0 96px,#45b 0 97px,#56b 0 98px,#45a 0 99px,#46b 0 100px,#79d 0 101px,#bbd 0 102px,#46b 0 103px,#56b 0 104px,#45b 0 105px,#abd 0 106px,#9ad 0 107px,#79c 0 108px,#89d 0 109px)"></i><i style="left:128px;width:3px;background:linear-gradient(#ea8 0 1px,#d44 0 2px,#c33 0 3px,#b13 0 4px,#b23 0 5px,#e87 0 6px,#d76 0 7px,#c44 0 9px,#b23 0 10px,#c54 0 11px,#d55 0 12px,#a13 0 13px,#b34 0 14px,#eba 0 15px,#ecb 0 16px,#e87 0 18px,#d76 0 19px,#ea9 0 20px,#b34 0 21px,#b23 0 22px,#e98 0 23px,#ddd 0 24px,#b33 0 25px,#b23 0 26px,#b33 0 27px,#a12 0 28px,#b23 0 29px,#c44 0 30px,#d65 0 31px,#c66 0 32px,#ea9 0 33px,#d77 0 34px,#c33 0 35px,#e97 0 36px,#e98 0 37px,#d76 0 38px,#c33 0 39px,#d98 0 40px,#cbc 0 41px,#ccd 0 42px,#abd 0 43px,#abc 0 44px,#bbd 0 45px,#45b 0 46px,#89c 0 47px,#dcc 0 48px,#45b 0 49px,#68c 0 50px,#45a 0 52px,#68c 0 53px,#869 0 54px,#cbc 0 55px,#ccc 0 56px,#aac 0 57px,#56b 0 58px,#68c 0 59px,#45a 0 62px,#349 0 64px,#78c 0 65px,#68c 0 66px,#45b 0 67px,#349 0 68px,#78c 0 69px,#56b 0 70px,#78c 0 71px,#bab 0 72px,#bcd 0 73px,#99c 0 74px,#abd 0 75px,#99c 0 76px,#9ad 0 77px,#56b 0 78px,#57c 0 79px,#89d 0 80px,#78c 0 81px,#68c 0 82px,#57b 0 83px,#89d 0 84px,#a8a 0 85px,#bbc 0 86px,#68c 0 87px,#34a 0 88px,#35a 0 89px,#9ad 0 90px,#8ad 0 91px,#9ad 0 92px,#78c 0 93px,#bbc 0 94px,#dcc 0 95px,#9ad 0 96px,#67b 0 97px,#67c 0 98px,#68c 0 99px,#89c 0 100px,#9ad 0 101px,#cbb 0 102px,#89c 0 103px,#57c 0 104px,#77b 0 105px,#bcd 0 106px,#46b 0 108px,#67c 0 109px)"></i><i style="left:131px;width:2px;background:linear-gradient(#dde 0 1px,#ccd 0 2px,#ddd 0 4px,#dde 0 5px,#abe 0 6px,#9ad 0 7px,#bcd 0 8px,#ddd 0 9px,#cce 0 10px,#ddd 0 11px,#9bd 0 12px,#ddd 0 13px,#ccd 0 14px,#cce 0 15px,#cde 0 16px,#cce 0 17px,#ddd 0 19px,#bcd 0 20px,#edc 0 21px,#ddc 0 22px,#cde 0 23px,#abd 0 24px,#ddd 0 28px,#bcd 0 29px,#abd 0 30px,#cce 0 31px,#bce 0 32px,#cce 0 33px,#bcd 0 34px,#cce 0 35px,#ddd 0 36px,#bcd 0 37px,#abd 0 38px,#bce 0 39px,#abd 0 40px,#bce 0 41px,#9ad 0 42px,#9bd 0 43px,#89d 0 44px,#abd 0 45px,#8ad 0 46px,#aad 0 47px,#bcd 0 48px,#9ad 0 49px,#cdd 0 50px,#cce 0 51px,#bcd 0 52px,#ccd 0 53px,#ddd 0 54px,#edd 0 55px,#ddc 0 56px,#edc 0 57px,#ccd 0 58px,#cce 0 59px,#9ad 0 60px,#abd 0 61px,#cce 0 62px,#abd 0 64px,#edd 0 65px,#ecc 0 66px,#ddd 0 67px,#ccd 0 68px,#ddd 0 70px,#edd 0 71px,#ecc 0 72px,#edd 0 73px,#ecb 0 74px,#ea8 0 75px,#eb9 0 76px,#edc 0 77px,#edd 0 80px,#edc 0 81px,#edd 0 82px,#ddd 0 84px,#eb9 0 85px,#ecb 0 86px,#ddc 0 87px,#edc 0 88px,#ddd 0 89px,#ecb 0 91px,#edc 0 94px,#ecb 0 95px,#eba 0 96px,#ddd 0 98px,#ecc 0 99px,#edc 0 102px,#edd 0 103px,#ddd 0 104px,#ecb 0 105px,#edc 0 106px,#edd 0 107px,#edc 0 108px,#ddd 0 109px)"></i><i style="left:133px;width:3px;background:linear-gradient(#cce 0 2px,#ddd 0 3px,#dde 0 4px,#cde 0 5px,#cce 0 6px,#abd 0 8px,#cce 0 9px,#ccd 0 10px,#cde 0 11px,#ccd 0 12px,#edd 0 13px,#ccd 0 14px,#cde 0 15px,#ddd 0 16px,#cce 0 17px,#dde 0 18px,#edd 0 19px,#bcd 0 20px,#edd 0 21px,#ddd 0 22px,#cce 0 23px,#bce 0 24px,#ddd 0 25px,#edc 0 28px,#ddd 0 29px,#cde 0 30px,#ddd 0 31px,#dde 0 32px,#ddd 0 34px,#cdd 0 35px,#ddd 0 36px,#bcd 0 37px,#cde 0 38px,#cdd 0 39px,#ddd 0 41px,#cde 0 42px,#ddd 0 43px,#bce 0 44px,#ccd 0 45px,#bcd 0 47px,#ccd 0 48px,#bce 0 49px,#cdd 0 50px,#ddd 0 51px,#ccd 0 52px,#ddd 0 54px,#edc 0 55px,#ecb 0 57px,#edc 0 59px,#bcd 0 60px,#ccd 0 61px,#ddd 0 62px,#ccd 0 64px,#ecb 0 66px,#edc 0 67px,#ecb 0 68px,#eba 0 69px,#eca 0 70px,#ecb 0 71px,#ea9 0 72px,#edc 0 73px,#eca 0 74px,#ea8 0 75px,#e97 0 76px,#ea8 0 77px,#e87 0 78px,#fba 0 79px,#ea9 0 80px,#eca 0 81px,#eba 0 82px,#eb9 0 83px,#fba 0 84px,#e86 0 85px,#ea8 0 86px,#ea9 0 87px,#eca 0 90px,#ea9 0 91px,#eba 0 92px,#fca 0 93px,#ecb 0 94px,#ea9 0 95px,#eba 0 96px,#ecc 0 97px,#edc 0 98px,#ecb 0 100px,#edb 0 101px,#eba 0 102px,#ecb 0 103px,#edc 0 104px,#ecb 0 107px,#ea9 0 108px,#ea8 0 109px)"></i><i style="left:136px;width:2px;background:linear-gradient(#ecc 0 1px,#ea9 0 2px,#ebb 0 3px,#eb9 0 4px,#dcc 0 5px,#abd 0 6px,#78c 0 7px,#8ad 0 8px,#bbd 0 9px,#cbb 0 10px,#ccd 0 11px,#bbd 0 12px,#dbb 0 13px,#68c 0 14px,#bbd 0 16px,#9ad 0 17px,#abd 0 19px,#9ad 0 21px,#bbd 0 22px,#78c 0 23px,#68c 0 24px,#dbb 0 25px,#d77 0 26px,#cab 0 27px,#89d 0 30px,#bcd 0 31px,#bbd 0 32px,#ccd 0 33px,#89d 0 34px,#dcc 0 35px,#bbc 0 36px,#89c 0 37px,#bcd 0 38px,#8ad 0 39px,#89c 0 40px,#89d 0 41px,#79d 0 42px,#9ad 0 43px,#56b 0 44px,#78c 0 45px,#46b 0 46px,#45b 0 47px,#79c 0 48px,#68c 0 49px,#89d 0 50px,#78c 0 51px,#57c 0 52px,#89d 0 53px,#9ad 0 54px,#ecb 0 55px,#edc 0 56px,#ecb 0 57px,#eba 0 58px,#edc 0 59px,#bbc 0 60px,#abd 0 61px,#bbd 0 62px,#89c 0 63px,#abd 0 64px,#ecb 0 65px,#eba 0 66px,#ecc 0 67px,#cbc 0 68px,#eba 0 69px,#ecb 0 70px,#dcc 0 71px,#c34 0 72px,#d87 0 73px,#d98 0 74px,#e98 0 75px,#d55 0 76px,#d54 0 77px,#c44 0 78px,#eba 0 79px,#e98 0 80px,#d77 0 81px,#b23 0 82px,#d66 0 83px,#e87 0 84px,#c33 0 85px,#d65 0 86px,#e98 0 87px,#cbc 0 88px,#e97 0 89px,#e98 0 90px,#d98 0 91px,#cbc 0 92px,#ccd 0 93px,#ecb 0 94px,#e87 0 95px,#daa 0 96px,#dcd 0 97px,#ea9 0 98px,#e97 0 99px,#ea9 0 100px,#eba 0 101px,#ea8 0 102px,#dcc 0 103px,#ecb 0 104px,#ea9 0 105px,#e98 0 106px,#ea9 0 107px,#d98 0 108px,#dcc 0 109px)"></i><i style="left:138px;width:3px;background:linear-gradient(#ccd 0 1px,#89d 0 2px,#9ad 0 3px,#68c 0 5px,#79d 0 6px,#68c 0 7px,#56b 0 8px,#89d 0 9px,#78c 0 10px,#abd 0 11px,#79c 0 13px,#67c 0 14px,#bce 0 15px,#dde 0 16px,#bce 0 17px,#bcd 0 18px,#ddd 0 19px,#aad 0 20px,#bbd 0 21px,#ccd 0 22px,#abd 0 23px,#bbd 0 24px,#edc 0 25px,#eba 0 26px,#ea9 0 27px,#eba 0 28px,#ccd 0 29px,#cdd 0 30px,#ddd 0 31px,#dbb 0 32px,#ecb 0 33px,#eb9 0 34px,#ecb 0 36px,#dcb 0 37px,#eba 0 38px,#edc 0 39px,#cdd 0 40px,#ddd 0 41px,#dcd 0 42px,#bcd 0 43px,#abd 0 44px,#ccd 0 45px,#ccc 0 46px,#dcd 0 47px,#edc 0 48px,#ddd 0 50px,#ecc 0 51px,#dcc 0 52px,#ebb 0 53px,#eba 0 54px,#ecb 0 55px,#e87 0 56px,#e76 0 57px,#ecb 0 58px,#edc 0 59px,#bbc 0 60px,#bcd 0 61px,#ccd 0 62px,#dcc 0 63px,#eba 0 64px,#eca 0 66px,#ddd 0 67px,#dcc 0 68px,#ecb 0 70px,#eba 0 71px,#d55 0 72px,#e76 0 73px,#e65 0 74px,#e86 0 75px,#e97 0 76px,#eb9 0 77px,#d65 0 78px,#eba 0 79px,#e76 0 80px,#eb9 0 81px,#eca 0 82px,#ebb 0 83px,#eba 0 84px,#e97 0 85px,#ea9 0 86px,#ea8 0 88px,#e76 0 89px,#e98 0 90px,#d65 0 91px,#ea8 0 92px,#eba 0 94px,#e97 0 95px,#e98 0 96px,#ecb 0 98px,#eba 0 99px,#ebb 0 100px,#eca 0 101px,#eba 0 103px,#edc 0 104px,#d76 0 105px,#e98 0 106px,#ea9 0 107px,#eba 0 108px,#ea9 0 109px)"></i><i style="left:141px;width:2px;background:linear-gradient(#ccd 0 1px,#78c 0 2px,#78b 0 3px,#9ad 0 5px,#67c 0 8px,#bcd 0 9px,#68c 0 10px,#ccd 0 11px,#98a 0 12px,#78c 0 13px,#9ac 0 14px,#abd 0 15px,#9bd 0 16px,#78c 0 17px,#89c 0 18px,#aac 0 19px,#46b 0 20px,#78c 0 21px,#89d 0 22px,#57b 0 23px,#45a 0 24px,#bbd 0 25px,#ebb 0 26px,#a89 0 27px,#bab 0 28px,#99b 0 29px,#9ac 0 30px,#9bd 0 31px,#78c 0 32px,#abd 0 33px,#88c 0 34px,#dcc 0 35px,#aac 0 36px,#78c 0 37px,#cbb 0 38px,#bab 0 39px,#9ac 0 40px,#ecb 0 41px,#c9a 0 42px,#bbc 0 43px,#bcd 0 44px,#e97 0 45px,#c45 0 46px,#c44 0 47px,#d44 0 48px,#daa 0 49px,#c66 0 50px,#b23 0 51px,#d66 0 52px,#d65 0 53px,#c44 0 54px,#c45 0 55px,#d65 0 56px,#b13 0 57px,#a12 0 60px,#e87 0 61px,#c44 0 62px,#c33 0 63px,#a12 0 65px,#b13 0 66px,#d44 0 67px,#b13 0 68px,#b23 0 71px,#a12 0 75px,#c23 0 76px,#d55 0 77px,#c78 0 78px,#e98 0 79px,#d65 0 80px,#e97 0 81px,#d65 0 82px,#c55 0 83px,#e87 0 84px,#d66 0 85px,#d65 0 86px,#bab 0 87px,#88b 0 88px,#a9b 0 89px,#d65 0 90px,#d77 0 91px,#cbc 0 92px,#bbd 0 93px,#dbb 0 94px,#c66 0 95px,#d65 0 96px,#b78 0 97px,#e98 0 98px,#d54 0 99px,#e87 0 100px,#e97 0 101px,#d54 0 102px,#d65 0 103px,#d98 0 104px,#c45 0 105px,#c33 0 106px,#d87 0 107px,#88b 0 108px,#caa 0 109px)"></i><i style="left:143px;width:3px;background:linear-gradient(#ea9 0 1px,#d76 0 2px,#d54 0 3px,#c56 0 4px,#e75 0 5px,#dbb 0 6px,#b9a 0 7px,#aac 0 8px,#cab 0 9px,#c66 0 10px,#e86 0 11px,#a13 0 12px,#c44 0 14px,#e97 0 15px,#e98 0 16px,#bbd 0 17px,#a9c 0 18px,#cbc 0 19px,#cbb 0 20px,#d77 0 21px,#d76 0 22px,#e86 0 23px,#c99 0 24px,#ea9 0 25px,#b23 0 26px,#c67 0 27px,#d76 0 28px,#dbb 0 29px,#ccc 0 30px,#bcd 0 31px,#99b 0 32px,#d99 0 33px,#b23 0 34px,#c77 0 35px,#d99 0 36px,#c77 0 37px,#e86 0 38px,#d99 0 39px,#b77 0 40px,#d87 0 41px,#ea9 0 42px,#d87 0 43px,#98b 0 44px,#dcc 0 45px,#c67 0 46px,#b34 0 47px,#b56 0 48px,#ecc 0 49px,#cbc 0 50px,#c99 0 51px,#d87 0 52px,#cbb 0 53px,#caa 0 54px,#d87 0 55px,#b23 0 56px,#b34 0 57px,#c33 0 58px,#c55 0 59px,#c76 0 60px,#e76 0 61px,#d99 0 62px,#a12 0 63px,#b13 0 64px,#a12 0 66px,#d44 0 67px,#c33 0 68px,#b13 0 69px,#a13 0 70px,#b23 0 71px,#a12 0 75px,#c55 0 76px,#b23 0 77px,#a12 0 78px,#ea8 0 79px,#b13 0 80px,#b23 0 82px,#b13 0 83px,#c44 0 84px,#b23 0 85px,#c33 0 86px,#d44 0 87px,#d77 0 88px,#c77 0 89px,#d65 0 90px,#d76 0 91px,#bcd 0 92px,#a9a 0 93px,#ca9 0 94px,#d77 0 95px,#c44 0 96px,#d99 0 97px,#caa 0 98px,#aac 0 99px,#a9b 0 100px,#cbc 0 101px,#dbb 0 102px,#99b 0 103px,#9ad 0 104px,#c9a 0 105px,#d65 0 106px,#e87 0 107px,#d99 0 108px,#9ad 0 109px)"></i><i style="left:146px;width:2px;background:linear-gradient(#79d 0 1px,#34a 0 2px,#67c 0 4px,#46b 0 5px,#67c 0 6px,#35a 0 7px,#45b 0 8px,#56b 0 9px,#68c 0 10px,#bbd 0 11px,#89c 0 12px,#56b 0 13px,#67b 0 14px,#bcd 0 15px,#cce 0 16px,#9ad 0 21px,#bcd 0 22px,#abd 0 23px,#89c 0 24px,#cbc 0 25px,#eba 0 26px,#dcb 0 27px,#dcc 0 28px,#abd 0 30px,#bbd 0 31px,#9ad 0 32px,#ccd 0 33px,#eba 0 34px,#e98 0 35px,#abd 0 36px,#bcd 0 37px,#eba 0 38px,#edc 0 39px,#89d 0 40px,#bbd 0 41px,#abd 0 42px,#79d 0 43px,#78c 0 44px,#89d 0 45px,#bbd 0 46px,#abd 0 47px,#cab 0 48px,#abd 0 49px,#ccd 0 50px,#cbb 0 51px,#dcd 0 52px,#daa 0 53px,#e76 0 54px,#dbb 0 55px,#d65 0 56px,#b13 0 57px,#d65 0 58px,#e97 0 59px,#c44 0 60px,#d44 0 61px,#c33 0 62px,#a12 0 66px,#d44 0 67px,#a12 0 68px,#b23 0 69px,#a12 0 70px,#b23 0 71px,#a12 0 72px,#b13 0 73px,#b23 0 74px,#b13 0 75px,#c33 0 76px,#d65 0 77px,#c44 0 78px,#eba 0 80px,#d44 0 81px,#e87 0 82px,#d76 0 83px,#ea8 0 84px,#d55 0 85px,#e86 0 86px,#d54 0 87px,#dcb 0 88px,#d99 0 89px,#d87 0 90px,#e97 0 91px,#d99 0 92px,#e87 0 93px,#da9 0 94px,#ea9 0 95px,#e76 0 96px,#ea9 0 97px,#ecb 0 98px,#dbb 0 99px,#bbd 0 100px,#ecc 0 101px,#dcd 0 102px,#ccd 0 103px,#abd 0 104px,#b9a 0 105px,#ea9 0 106px,#dbb 0 107px,#79c 0 108px,#99c 0 109px)"></i><i style="left:148px;width:3px;background:linear-gradient(#68c 0 1px,#34a 0 2px,#56b 0 3px,#45a 0 6px,#34a 0 7px,#45b 0 8px,#78c 0 9px,#56b 0 10px,#79d 0 11px,#34a 0 12px,#45a 0 14px,#9bd 0 15px,#8ad 0 16px,#46b 0 17px,#57b 0 18px,#45b 0 20px,#56b 0 21px,#79c 0 23px,#78c 0 24px,#bbd 0 25px,#ccd 0 26px,#89d 0 27px,#68c 0 28px,#56b 0 29px,#67c 0 30px,#68c 0 31px,#79d 0 33px,#67c 0 34px,#56b 0 35px,#68c 0 36px,#56b 0 37px,#67c 0 38px,#45b 0 39px,#34a 0 40px,#45b 0 41px,#56b 0 43px,#44a 0 44px,#68c 0 45px,#56b 0 46px,#99c 0 47px,#bcd 0 48px,#68c 0 49px,#9ad 0 50px,#67c 0 51px,#89d 0 52px,#cbd 0 53px,#cbb 0 54px,#ccd 0 55px,#dbb 0 56px,#e97 0 57px,#e87 0 58px,#eba 0 59px,#d76 0 60px,#e98 0 61px,#eba 0 62px,#e98 0 63px,#d54 0 64px,#d65 0 65px,#e86 0 66px,#ea8 0 67px,#eba 0 68px,#d75 0 69px,#c34 0 70px,#e76 0 71px,#b33 0 72px,#c33 0 74px,#d54 0 77px,#d44 0 78px,#ea8 0 79px,#d76 0 80px,#d54 0 81px,#e76 0 82px,#e75 0 83px,#e98 0 84px,#d65 0 85px,#e65 0 86px,#e75 0 87px,#e87 0 88px,#d65 0 90px,#c33 0 91px,#d54 0 92px,#e98 0 93px,#eca 0 94px,#e98 0 95px,#ea8 0 96px,#d98 0 97px,#eba 0 98px,#ecb 0 99px,#edd 0 101px,#dcc 0 102px,#9ad 0 103px,#ccd 0 104px,#e86 0 105px,#e98 0 106px,#ecb 0 107px,#dbb 0 108px,#cde 0 109px)"></i><i style="left:151px;width:2px;background:linear-gradient(#cbc 0 1px,#67c 0 2px,#89c 0 3px,#9ad 0 4px,#bbd 0 5px,#abd 0 6px,#9ad 0 7px,#aac 0 8px,#abd 0 9px,#ea9 0 10px,#ecc 0 11px,#89c 0 13px,#dba 0 14px,#eba 0 15px,#ea8 0 16px,#ccd 0 17px,#dcb 0 18px,#dba 0 19px,#cab 0 20px,#d87 0 21px,#d99 0 22px,#cbc 0 23px,#9ac 0 24px,#dbb 0 25px,#d54 0 26px,#c77 0 27px,#bac 0 28px,#bbd 0 29px,#9ad 0 30px,#dbb 0 31px,#bbc 0 32px,#ddd 0 33px,#d65 0 34px,#d44 0 35px,#ddd 0 36px,#9ac 0 37px,#bab 0 38px,#abd 0 39px,#9ad 0 40px,#abd 0 42px,#9ad 0 43px,#bab 0 44px,#bcd 0 45px,#9ad 0 46px,#c9a 0 47px,#dbb 0 48px,#89d 0 49px,#bcd 0 50px,#cbc 0 51px,#dba 0 52px,#daa 0 53px,#ecb 0 54px,#e88 0 55px,#e76 0 56px,#d44 0 57px,#e98 0 58px,#ccd 0 59px,#89c 0 60px,#bcd 0 61px,#bbd 0 63px,#cab 0 64px,#daa 0 65px,#ea9 0 66px,#dcc 0 67px,#cbc 0 68px,#ecc 0 69px,#dba 0 70px,#bac 0 71px,#bab 0 72px,#aac 0 73px,#9ad 0 75px,#aac 0 76px,#eba 0 77px,#e98 0 78px,#ddd 0 79px,#ecb 0 80px,#eb9 0 81px,#dbb 0 82px,#dba 0 83px,#eb9 0 84px,#e98 0 85px,#d77 0 87px,#e87 0 88px,#d88 0 89px,#d76 0 90px,#c77 0 91px,#ecb 0 92px,#ea9 0 93px,#fca 0 94px,#caa 0 95px,#eba 0 96px,#ccc 0 97px,#bbc 0 98px,#cab 0 99px,#abd 0 100px,#8ad 0 101px,#9ad 0 102px,#bbc 0 103px,#aac 0 104px,#9ad 0 105px,#bbd 0 106px,#67b 0 107px,#349 0 108px,#34a 0 109px)"></i><i style="left:153px;width:3px;background:linear-gradient(#abd 0 1px,#cab 0 2px,#da9 0 3px,#ecc 0 4px,#eba 0 5px,#dbb 0 6px,#dcc 0 7px,#caa 0 8px,#e98 0 9px,#b9a 0 10px,#ecb 0 11px,#bbc 0 12px,#9ac 0 13px,#cbb 0 14px,#ecb 0 15px,#e86 0 16px,#daa 0 17px,#ddd 0 18px,#dbb 0 19px,#daa 0 20px,#e98 0 21px,#d87 0 22px,#eba 0 23px,#ea8 0 24px,#ebb 0 25px,#b23 0 26px,#c66 0 27px,#cce 0 28px,#78c 0 29px,#77b 0 30px,#ccd 0 31px,#aac 0 32px,#ccd 0 33px,#bac 0 34px,#aac 0 35px,#9ad 0 36px,#88b 0 37px,#68c 0 38px,#56b 0 39px,#67c 0 40px,#bbd 0 41px,#9ad 0 42px,#89d 0 43px,#89c 0 44px,#78c 0 45px,#aac 0 46px,#dbb 0 47px,#edc 0 48px,#ccd 0 49px,#bbd 0 50px,#9ac 0 51px,#abd 0 52px,#e87 0 53px,#d54 0 54px,#cbb 0 55px,#eba 0 56px,#dba 0 57px,#89c 0 58px,#89d 0 59px,#56b 0 60px,#78c 0 62px,#45a 0 63px,#68c 0 64px,#cbb 0 65px,#ccd 0 66px,#dcb 0 67px,#67b 0 68px,#89d 0 69px,#bcd 0 70px,#79c 0 71px,#bbd 0 72px,#89d 0 73px,#45a 0 74px,#67b 0 75px,#89d 0 76px,#78c 0 78px,#67c 0 79px,#56b 0 80px,#abd 0 81px,#67c 0 82px,#45a 0 83px,#56b 0 84px,#89c 0 85px,#dbb 0 86px,#caa 0 87px,#aac 0 88px,#dcc 0 89px,#aac 0 90px,#eba 0 91px,#ea9 0 93px,#dcb 0 94px,#bbd 0 95px,#cbc 0 96px,#d98 0 97px,#eba 0 98px,#e87 0 99px,#bab 0 100px,#dcd 0 101px,#edd 0 102px,#ccc 0 103px,#bcd 0 104px,#dcc 0 105px,#ecc 0 106px,#89c 0 107px,#45a 0 108px,#89c 0 109px)"></i><i style="left:156px;width:2px;background:linear-gradient(#cbb 0 1px,#caa 0 2px,#dba 0 3px,#da9 0 4px,#eba 0 5px,#e87 0 6px,#ea8 0 7px,#e98 0 8px,#ecb 0 9px,#d77 0 10px,#e86 0 11px,#e75 0 12px,#d88 0 13px,#dcc 0 14px,#eba 0 15px,#e97 0 16px,#d98 0 17px,#e86 0 18px,#d65 0 19px,#d54 0 20px,#d55 0 21px,#d44 0 22px,#d76 0 23px,#d87 0 24px,#ea9 0 25px,#c44 0 26px,#e97 0 27px,#c66 0 28px,#ea9 0 29px,#dcc 0 31px,#daa 0 32px,#e97 0 33px,#d55 0 34px,#b56 0 35px,#eba 0 36px,#ccd 0 37px,#aac 0 38px,#89c 0 39px,#bbd 0 40px,#bcd 0 41px,#89c 0 42px,#78c 0 44px,#79d 0 45px,#9ad 0 46px,#9ac 0 47px,#aad 0 48px,#67c 0 49px,#46b 0 50px,#78c 0 51px,#99c 0 52px,#57b 0 53px,#bbd 0 54px,#9ad 0 55px,#bbc 0 56px,#9ad 0 59px,#99c 0 60px,#ccc 0 61px,#aac 0 62px,#8ad 0 63px,#daa 0 64px,#cbc 0 65px,#dcc 0 66px,#ccd 0 67px,#77b 0 68px,#9ad 0 70px,#cbc 0 71px,#bac 0 72px,#ccd 0 73px,#67c 0 74px,#78c 0 75px,#ccc 0 76px,#ccd 0 77px,#9ad 0 78px,#78c 0 79px,#45b 0 80px,#abd 0 81px,#ccc 0 82px,#c9a 0 83px,#bcd 0 84px,#c77 0 85px,#e65 0 86px,#ccd 0 87px,#bbd 0 88px,#ccc 0 89px,#ccd 0 90px,#bcd 0 91px,#abd 0 92px,#9ad 0 93px,#aac 0 94px,#eba 0 95px,#caa 0 96px,#cbc 0 97px,#dcc 0 98px,#daa 0 99px,#aac 0 100px,#89d 0 101px,#79d 0 102px,#56b 0 103px,#9ad 0 104px,#88c 0 105px,#9ad 0 106px,#56b 0 107px,#45a 0 108px,#34a 0 109px)"></i><i style="left:158px;width:3px;background:linear-gradient(#ea9 0 1px,#eba 0 2px,#ddd 0 3px,#abd 0 4px,#ddd 0 5px,#ecb 0 7px,#dcc 0 8px,#eca 0 9px,#e97 0 10px,#ea8 0 11px,#e98 0 14px,#ea8 0 15px,#ecc 0 16px,#dcc 0 17px,#edc 0 18px,#ecb 0 19px,#eba 0 20px,#ea8 0 21px,#e86 0 24px,#e87 0 25px,#c44 0 26px,#e97 0 27px,#eba 0 28px,#ccd 0 29px,#cbc 0 30px,#ccd 0 31px,#ecb 0 32px,#dcb 0 33px,#e97 0 34px,#e76 0 35px,#dcc 0 36px,#bcd 0 37px,#bbd 0 38px,#ccd 0 39px,#8ad 0 40px,#9ad 0 41px,#68c 0 42px,#abd 0 43px,#9ad 0 44px,#9bd 0 45px,#abd 0 46px,#89d 0 47px,#9ad 0 48px,#68c 0 49px,#79c 0 50px,#89d 0 51px,#9ad 0 52px,#abd 0 53px,#79c 0 54px,#9ad 0 55px,#abd 0 56px,#ccd 0 57px,#57c 0 58px,#79c 0 59px,#67c 0 60px,#89d 0 61px,#abd 0 62px,#78c 0 63px,#abd 0 65px,#ccd 0 66px,#cde 0 67px,#89d 0 68px,#bcd 0 69px,#ecc 0 70px,#bbd 0 71px,#9ad 0 72px,#abd 0 73px,#78c 0 74px,#9ad 0 76px,#bbd 0 77px,#9ac 0 78px,#bcd 0 79px,#79c 0 80px,#abd 0 81px,#ddd 0 82px,#9ac 0 83px,#abd 0 84px,#bcd 0 85px,#dcd 0 86px,#9ad 0 88px,#abd 0 89px,#8ad 0 90px,#dcc 0 91px,#edc 0 92px,#bcd 0 93px,#abd 0 95px,#89d 0 97px,#abd 0 98px,#ccd 0 99px,#8ad 0 100px,#bcd 0 101px,#ccd 0 102px,#abd 0 103px,#bcd 0 104px,#abd 0 105px,#ddd 0 106px,#8ad 0 107px,#68c 0 108px,#56c 0 109px)"></i><i style="left:161px;width:2px;background:linear-gradient(#d55 0 2px,#daa 0 3px,#abd 0 4px,#ecb 0 5px,#eb9 0 6px,#dbb 0 7px,#ecc 0 8px,#ecb 0 9px,#c89 0 10px,#ecb 0 11px,#c33 0 12px,#d66 0 13px,#d87 0 14px,#eb9 0 15px,#ecb 0 16px,#eba 0 17px,#ea9 0 19px,#d76 0 20px,#c77 0 21px,#d55 0 22px,#eba 0 23px,#ebb 0 24px,#d65 0 25px,#d76 0 27px,#b9a 0 28px,#dba 0 29px,#eba 0 30px,#ecb 0 31px,#eba 0 32px,#ea9 0 33px,#d54 0 34px,#b23 0 35px,#eba 0 36px,#ea9 0 37px,#daa 0 38px,#bbd 0 39px,#78c 0 40px,#9ad 0 41px,#8ad 0 42px,#bcd 0 43px,#99c 0 44px,#68c 0 45px,#45b 0 46px,#a9b 0 47px,#bbd 0 48px,#abd 0 49px,#aac 0 50px,#caa 0 51px,#67c 0 52px,#45b 0 53px,#56b 0 54px,#57b 0 55px,#9ac 0 56px,#a9b 0 57px,#68c 0 58px,#bbd 0 59px,#9ac 0 60px,#dcd 0 61px,#dcc 0 62px,#cbc 0 63px,#bab 0 64px,#cbb 0 66px,#ccd 0 67px,#bac 0 68px,#cab 0 69px,#dbb 0 70px,#ebb 0 71px,#dcc 0 72px,#9bd 0 73px,#67c 0 74px,#ccd 0 75px,#eca 0 76px,#daa 0 78px,#ecb 0 79px,#c9a 0 80px,#e87 0 81px,#e97 0 84px,#b45 0 85px,#c44 0 86px,#dcb 0 87px,#cab 0 88px,#e87 0 89px,#e98 0 90px,#c55 0 91px,#e76 0 92px,#d99 0 93px,#dbb 0 94px,#c99 0 95px,#c45 0 96px,#daa 0 97px,#ea9 0 98px,#d88 0 99px,#eb9 0 100px,#ecb 0 101px,#e98 0 103px,#dcc 0 104px,#d55 0 105px,#e86 0 106px,#eba 0 107px,#78c 0 108px,#56b 0 109px)"></i><i style="left:163px;width:3px;background:linear-gradient(#d44 0 1px,#e87 0 2px,#eba 0 3px,#ecb 0 5px,#ebb 0 6px,#daa 0 7px,#ccd 0 8px,#d99 0 9px,#c56 0 10px,#d65 0 11px,#b13 0 12px,#c55 0 13px,#c44 0 14px,#ea8 0 15px,#ea9 0 16px,#ea8 0 17px,#eba 0 18px,#d76 0 19px,#e76 0 20px,#b23 0 21px,#a12 0 22px,#d54 0 23px,#c33 0 24px,#e87 0 25px,#e76 0 26px,#ea8 0 27px,#d76 0 28px,#ea9 0 29px,#ecb 0 30px,#dcc 0 31px,#c99 0 32px,#ecb 0 33px,#c44 0 34px,#c33 0 35px,#e98 0 36px,#d98 0 37px,#eba 0 38px,#dbb 0 40px,#dcc 0 41px,#ecb 0 42px,#dcc 0 43px,#edc 0 44px,#ecb 0 45px,#caa 0 46px,#d65 0 47px,#da9 0 48px,#ea9 0 49px,#ecb 0 50px,#dbb 0 52px,#aad 0 53px,#bbd 0 54px,#9ad 0 55px,#cbb 0 56px,#aad 0 57px,#78c 0 58px,#9ad 0 59px,#78c 0 60px,#dcb 0 61px,#bcd 0 62px,#bbd 0 63px,#dbb 0 64px,#bcd 0 65px,#aad 0 66px,#ccd 0 67px,#9ac 0 68px,#ddd 0 69px,#eb9 0 70px,#ccc 0 71px,#abd 0 72px,#57b 0 73px,#45b 0 74px,#9ad 0 75px,#78c 0 76px,#89d 0 77px,#78c 0 78px,#89d 0 79px,#56b 0 80px,#78c 0 81px,#abd 0 82px,#79c 0 83px,#9ad 0 84px,#78c 0 85px,#cbb 0 86px,#aac 0 87px,#9ad 0 88px,#bbd 0 89px,#dbb 0 90px,#dba 0 91px,#da9 0 92px,#abd 0 93px,#9ad 0 94px,#abd 0 95px,#45b 0 96px,#46b 0 97px,#45b 0 98px,#78c 0 100px,#89d 0 101px,#bbd 0 102px,#bab 0 103px,#cce 0 104px,#abc 0 105px,#ddd 0 106px,#bbd 0 107px,#67c 0 108px,#56b 0 109px)"></i><i style="left:166px;width:2px;background:linear-gradient(#ea8 0 1px,#ecc 0 2px,#dcd 0 3px,#ddd 0 4px,#dcc 0 5px,#ecc 0 6px,#edc 0 7px,#dcc 0 8px,#edd 0 9px,#ecb 0 10px,#eb9 0 11px,#ecc 0 12px,#edd 0 13px,#ecc 0 14px,#edc 0 15px,#ecb 0 16px,#edc 0 17px,#ecb 0 18px,#eb9 0 19px,#ecb 0 21px,#ebb 0 22px,#ddd 0 23px,#ecc 0 24px,#edd 0 25px,#ecb 0 26px,#ccd 0 27px,#dcd 0 28px,#edd 0 29px,#edc 0 30px,#ddd 0 31px,#edd 0 33px,#ebb 0 34px,#eba 0 35px,#ddd 0 36px,#bcd 0 37px,#ddd 0 38px,#ccd 0 39px,#9ad 0 40px,#9bd 0 41px,#89d 0 42px,#9bd 0 43px,#abd 0 44px,#bbd 0 45px,#abd 0 47px,#ccd 0 48px,#abd 0 50px,#bbd 0 51px,#ccd 0 52px,#bbd 0 53px,#9bd 0 54px,#dcd 0 55px,#ecb 0 56px,#edc 0 59px,#ecb 0 60px,#eba 0 61px,#fca 0 62px,#e97 0 63px,#d44 0 64px,#e76 0 65px,#e97 0 66px,#eba 0 68px,#ea8 0 69px,#e87 0 70px,#eba 0 72px,#edc 0 73px,#ddd 0 74px,#ccd 0 75px,#eca 0 76px,#ecb 0 77px,#eca 0 78px,#edd 0 79px,#dcd 0 80px,#ecc 0 81px,#edc 0 82px,#dcc 0 83px,#edd 0 84px,#ea9 0 86px,#eba 0 87px,#edc 0 88px,#ecb 0 89px,#ddd 0 90px,#ecb 0 92px,#dcc 0 93px,#edc 0 95px,#ccd 0 98px,#edc 0 99px,#ccd 0 102px,#bbd 0 103px,#cdd 0 104px,#ecc 0 105px,#edc 0 106px,#edd 0 107px,#9bd 0 108px,#9ad 0 109px)"></i><i style="left:168px;width:3px;background:linear-gradient(#e87 0 1px,#e76 0 2px,#ea9 0 3px,#edd 0 4px,#ecb 0 5px,#ebb 0 6px,#dcc 0 7px,#dcd 0 8px,#dcc 0 9px,#eba 0 10px,#e86 0 11px,#c33 0 12px,#dbc 0 13px,#e97 0 14px,#ecb 0 16px,#eba 0 17px,#ea9 0 18px,#e76 0 19px,#e87 0 20px,#ea8 0 21px,#c33 0 22px,#e76 0 23px,#e65 0 24px,#e98 0 25px,#e87 0 26px,#dcc 0 27px,#aac 0 28px,#dba 0 29px,#ddd 0 30px,#dcc 0 32px,#ecc 0 33px,#ea8 0 34px,#daa 0 35px,#dcc 0 36px,#abd 0 37px,#ccc 0 38px,#abd 0 39px,#67c 0 40px,#89d 0 42px,#bbd 0 43px,#9ad 0 44px,#78c 0 45px,#68c 0 46px,#78c 0 47px,#79c 0 48px,#68c 0 49px,#67b 0 50px,#68c 0 51px,#57c 0 52px,#46b 0 53px,#35a 0 54px,#56b 0 55px,#9ad 0 56px,#79c 0 57px,#79d 0 58px,#67c 0 59px,#abd 0 60px,#ddd 0 61px,#bcd 0 62px,#ecb 0 63px,#aac 0 64px,#ccd 0 67px,#9ad 0 68px,#abd 0 69px,#ecc 0 70px,#bcd 0 71px,#abd 0 72px,#89d 0 73px,#56b 0 74px,#89d 0 75px,#bcd 0 76px,#ddd 0 77px,#cbd 0 78px,#9bd 0 79px,#89d 0 80px,#bbd 0 81px,#ddd 0 82px,#ccd 0 83px,#ddd 0 84px,#cbc 0 85px,#ddd 0 86px,#aac 0 87px,#67c 0 88px,#46b 0 89px,#67c 0 90px,#78c 0 91px,#ddd 0 92px,#bbc 0 93px,#89d 0 94px,#ccd 0 95px,#daa 0 96px,#cbc 0 97px,#ccc 0 98px,#ccd 0 99px,#bcd 0 102px,#9ad 0 103px,#bbd 0 104px,#9ad 0 105px,#cbc 0 106px,#abd 0 107px,#8ad 0 108px,#56c 0 109px)"></i><i style="left:171px;width:2px;background:linear-gradient(#b13 0 1px,#eaa 0 2px,#dcc 0 3px,#b9a 0 4px,#bbc 0 5px,#ccd 0 6px,#abd 0 7px,#46b 0 8px,#8ad 0 9px,#eba 0 11px,#d99 0 12px,#d76 0 13px,#c44 0 14px,#e87 0 15px,#ecb 0 16px,#ddd 0 17px,#dcb 0 18px,#e97 0 19px,#dbb 0 21px,#c34 0 22px,#e76 0 23px,#c34 0 24px,#ea9 0 25px,#e98 0 26px,#78c 0 27px,#c99 0 28px,#dbb 0 29px,#bbd 0 30px,#89d 0 31px,#bcd 0 32px,#ea9 0 33px,#d66 0 34px,#e98 0 35px,#cbb 0 36px,#abd 0 37px,#89c 0 38px,#44a 0 39px,#34a 0 40px,#67c 0 41px,#56b 0 43px,#45b 0 44px,#78c 0 45px,#34a 0 46px,#56b 0 47px,#89c 0 48px,#9ad 0 49px,#56b 0 50px,#45b 0 51px,#89c 0 52px,#68c 0 53px,#45a 0 54px,#88c 0 55px,#77b 0 56px,#67c 0 57px,#45a 0 58px,#45b 0 59px,#34a 0 60px,#67c 0 61px,#79c 0 62px,#68c 0 63px,#cbb 0 64px,#abc 0 65px,#9ad 0 66px,#79c 0 67px,#78b 0 68px,#99c 0 69px,#bbd 0 70px,#cbb 0 71px,#78c 0 72px,#57b 0 73px,#45a 0 74px,#34a 0 75px,#67b 0 76px,#79d 0 77px,#45a 0 79px,#349 0 80px,#34a 0 81px,#56b 0 82px,#67b 0 83px,#45b 0 84px,#45a 0 85px,#79c 0 86px,#56b 0 87px,#34a 0 88px,#349 0 89px,#34a 0 90px,#349 0 91px,#46b 0 92px,#349 0 93px,#45a 0 94px,#34a 0 95px,#56b 0 96px,#44a 0 97px,#78c 0 99px,#34a 0 102px,#349 0 103px,#45a 0 105px,#67c 0 106px,#67b 0 107px,#34a 0 108px,#45b 0 109px)"></i><i style="left:173px;width:3px;background:linear-gradient(#e75 0 1px,#ea9 0 2px,#ecb 0 3px,#edc 0 5px,#ddd 0 6px,#ccd 0 7px,#9ad 0 8px,#ecc 0 9px,#e76 0 10px,#e98 0 12px,#ecb 0 13px,#e97 0 14px,#eba 0 15px,#edc 0 16px,#ddd 0 17px,#dcc 0 18px,#ecb 0 19px,#ddc 0 20px,#dcb 0 21px,#edd 0 22px,#ea9 0 23px,#ecb 0 25px,#dbb 0 26px,#9ad 0 27px,#bbc 0 28px,#cbc 0 29px,#abd 0 30px,#9ad 0 31px,#8ad 0 32px,#ccd 0 33px,#d99 0 34px,#dcd 0 35px,#9ad 0 37px,#79c 0 38px,#45b 0 39px,#349 0 40px,#57c 0 41px,#9bd 0 42px,#bcd 0 43px,#abd 0 45px,#89d 0 47px,#79d 0 48px,#abd 0 49px,#79d 0 50px,#89d 0 51px,#abd 0 52px,#68c 0 53px,#34a 0 54px,#57c 0 56px,#56b 0 57px,#67c 0 58px,#abd 0 59px,#79c 0 60px,#dcc 0 61px,#dcd 0 62px,#ccd 0 63px,#e97 0 64px,#ea9 0 65px,#edc 0 66px,#ecb 0 67px,#ccc 0 68px,#cdd 0 69px,#abd 0 71px,#bab 0 72px,#abd 0 73px,#67c 0 74px,#8ad 0 75px,#dcd 0 76px,#dcc 0 77px,#78c 0 78px,#89d 0 79px,#57c 0 80px,#9ad 0 81px,#ddd 0 82px,#abd 0 83px,#9ad 0 84px,#9bd 0 85px,#ccd 0 86px,#bbd 0 87px,#89d 0 88px,#34a 0 89px,#45a 0 90px,#68c 0 91px,#9ad 0 92px,#68c 0 93px,#78c 0 95px,#89d 0 96px,#68c 0 97px,#abd 0 99px,#68c 0 100px,#78c 0 101px,#79d 0 102px,#bbd 0 103px,#ddd 0 104px,#bbc 0 105px,#bce 0 106px,#68c 0 107px,#aad 0 108px,#9ad 0 109px)"></i><i style="left:176px;width:2px;background:linear-gradient(#eb9 0 1px,#ecb 0 2px,#edd 0 3px,#edc 0 6px,#edd 0 7px,#cdd 0 8px,#ddd 0 9px,#edc 0 10px,#ecb 0 11px,#edc 0 12px,#dcc 0 13px,#ecc 0 14px,#edc 0 17px,#eb9 0 18px,#eca 0 19px,#edc 0 20px,#ecb 0 21px,#ea9 0 22px,#ecb 0 24px,#ecc 0 25px,#dcd 0 27px,#edc 0 29px,#edd 0 31px,#dcc 0 32px,#edc 0 33px,#ea9 0 34px,#ecb 0 35px,#cdd 0 36px,#ddd 0 37px,#cce 0 38px,#9bd 0 39px,#abd 0 40px,#ccd 0 41px,#edd 0 42px,#ddd 0 43px,#edc 0 44px,#ddd 0 45px,#bbd 0 47px,#bcd 0 49px,#bce 0 50px,#bcd 0 51px,#ccd 0 52px,#bcd 0 53px,#68c 0 54px,#9ad 0 55px,#8ad 0 56px,#9ad 0 58px,#abd 0 59px,#bbd 0 60px,#ddd 0 62px,#cce 0 63px,#ddd 0 65px,#dcd 0 66px,#ddd 0 67px,#bbd 0 68px,#ddd 0 70px,#edc 0 71px,#ddd 0 73px,#9ad 0 74px,#bcd 0 75px,#ccd 0 76px,#ddd 0 77px,#cce 0 78px,#ccd 0 79px,#9ad 0 80px,#cce 0 81px,#ddd 0 82px,#cdd 0 83px,#ddd 0 85px,#edc 0 86px,#ecb 0 87px,#ccd 0 88px,#bcd 0 89px,#ccd 0 90px,#ecb 0 91px,#edc 0 92px,#bce 0 93px,#cce 0 94px,#ddd 0 95px,#ecc 0 96px,#edd 0 97px,#edc 0 99px,#ddd 0 100px,#dde 0 101px,#cde 0 102px,#bcd 0 103px,#ddd 0 104px,#dcd 0 105px,#ccd 0 106px,#ddd 0 107px,#cde 0 108px,#ccd 0 109px)"></i><i style="left:178px;width:2px;background:linear-gradient(#c44 0 1px,#c34 0 2px,#ea8 0 3px,#cbb 0 4px,#e98 0 5px,#eba 0 6px,#b9a 0 7px,#aac 0 8px,#eba 0 9px,#c44 0 10px,#d77 0 11px,#d65 0 12px,#d66 0 13px,#d54 0 14px,#ea8 0 15px,#eb9 0 16px,#ea9 0 17px,#e76 0 18px,#c44 0 19px,#eb9 0 20px,#e97 0 21px,#b23 0 22px,#dbb 0 23px,#d87 0 24px,#eba 0 25px,#d77 0 26px,#a8a 0 27px,#aac 0 28px,#eba 0 29px,#bbd 0 30px,#8ad 0 31px,#bbd 0 32px,#edc 0 33px,#e98 0 34px,#cbb 0 35px,#9ad 0 36px,#88b 0 37px,#78c 0 38px,#46b 0 39px,#45a 0 40px,#45b 0 41px,#67b 0 42px,#89c 0 43px,#57c 0 44px,#78c 0 45px,#56b 0 46px,#89c 0 48px,#aac 0 49px,#78c 0 50px,#abc 0 51px,#cbc 0 52px,#56b 0 53px,#34a 0 55px,#79c 0 56px,#89c 0 57px,#78c 0 58px,#9ac 0 59px,#abd 0 60px,#ddd 0 61px,#bcd 0 62px,#ccd 0 63px,#dbb 0 64px,#ddd 0 65px,#ccd 0 66px,#ea9 0 67px,#daa 0 68px,#eba 0 69px,#eb9 0 70px,#bbd 0 71px,#abd 0 72px,#9ad 0 73px,#45a 0 74px,#aac 0 75px,#cbc 0 76px,#ddd 0 77px,#bcd 0 78px,#78c 0 79px,#67b 0 80px,#89d 0 81px,#abd 0 82px,#bbd 0 83px,#bbc 0 84px,#abd 0 85px,#ccc 0 86px,#89d 0 87px,#67c 0 88px,#89d 0 89px,#56b 0 90px,#78c 0 91px,#89c 0 93px,#abd 0 94px,#dcc 0 95px,#68c 0 96px,#9ad 0 97px,#ccd 0 98px,#da9 0 99px,#99c 0 100px,#89d 0 101px,#9ad 0 102px,#99b 0 103px,#abd 0 104px,#bbd 0 105px,#aac 0 106px,#56b 0 108px,#45b 0 109px)"></i><i style="left:180px;width:3px;background:linear-gradient(#c44 0 1px,#d87 0 2px,#dcb 0 3px,#ecb 0 5px,#e98 0 6px,#ea9 0 7px,#abc 0 8px,#eb9 0 9px,#c44 0 10px,#d44 0 11px,#c44 0 12px,#c77 0 13px,#c44 0 14px,#e75 0 15px,#eca 0 16px,#cab 0 17px,#dcb 0 18px,#ecb 0 19px,#bbd 0 20px,#dba 0 21px,#d66 0 22px,#bcd 0 23px,#b9a 0 24px,#dcc 0 25px,#ea8 0 26px,#da9 0 27px,#bac 0 28px,#cbb 0 29px,#bcd 0 30px,#9ad 0 31px,#abc 0 32px,#e97 0 33px,#c55 0 34px,#d88 0 35px,#89d 0 36px,#57c 0 37px,#bbc 0 38px,#79d 0 39px,#45b 0 40px,#46b 0 41px,#78c 0 42px,#aac 0 43px,#88c 0 44px,#57c 0 45px,#67b 0 47px,#78c 0 49px,#67b 0 50px,#45a 0 51px,#79c 0 52px,#bbc 0 53px,#56b 0 54px,#78c 0 55px,#aad 0 56px,#89c 0 57px,#56b 0 58px,#9ad 0 59px,#68c 0 60px,#9ad 0 61px,#ccd 0 62px,#d98 0 63px,#d99 0 64px,#77b 0 65px,#9bd 0 66px,#dbb 0 67px,#d98 0 68px,#daa 0 69px,#b9a 0 70px,#79c 0 71px,#78c 0 72px,#9ad 0 73px,#45a 0 74px,#9ad 0 76px,#78c 0 77px,#34a 0 78px,#56b 0 79px,#45b 0 80px,#abd 0 82px,#9ad 0 83px,#aac 0 84px,#bbc 0 85px,#ccc 0 86px,#68c 0 87px,#a9b 0 88px,#88b 0 89px,#56b 0 90px,#67c 0 91px,#9ad 0 92px,#56b 0 93px,#78c 0 94px,#abd 0 95px,#a9b 0 96px,#abc 0 97px,#abd 0 98px,#67b 0 99px,#56b 0 100px,#45a 0 101px,#56b 0 103px,#46b 0 104px,#56b 0 105px,#79d 0 107px,#67b 0 108px,#dcc 0 109px)"></i><i style="left:183px;width:2px;background:linear-gradient(#d43 0 1px,#e97 0 2px,#eb9 0 3px,#d88 0 4px,#e87 0 5px,#e97 0 6px,#dcc 0 7px,#bcd 0 8px,#ccd 0 9px,#e98 0 10px,#da9 0 11px,#eba 0 12px,#ecb 0 13px,#e97 0 14px,#ea9 0 15px,#eba 0 16px,#dcc 0 17px,#ecb 0 18px,#dcc 0 21px,#ecb 0 22px,#edd 0 23px,#aac 0 24px,#ccd 0 25px,#cbc 0 26px,#9ad 0 27px,#ccd 0 28px,#ecb 0 29px,#dcd 0 30px,#ccd 0 31px,#edc 0 32px,#ecb 0 33px,#ea8 0 34px,#eba 0 35px,#8ad 0 36px,#68c 0 37px,#89d 0 38px,#79c 0 39px,#67c 0 40px,#57c 0 41px,#79d 0 42px,#9bd 0 43px,#89d 0 45px,#78c 0 46px,#56b 0 47px,#abd 0 48px,#89d 0 50px,#46b 0 51px,#bbc 0 52px,#9ad 0 53px,#45a 0 54px,#57c 0 55px,#78c 0 56px,#9bd 0 57px,#89d 0 58px,#9ad 0 60px,#ecc 0 61px,#ecb 0 62px,#da9 0 64px,#ccd 0 65px,#bce 0 66px,#ddc 0 67px,#ecb 0 68px,#dcc 0 69px,#ccd 0 70px,#bbd 0 71px,#99c 0 72px,#78c 0 73px,#34a 0 74px,#68c 0 75px,#8ad 0 76px,#78c 0 77px,#67c 0 78px,#89d 0 79px,#56b 0 80px,#9ad 0 81px,#79c 0 82px,#9bd 0 83px,#bce 0 84px,#bbd 0 85px,#bcd 0 86px,#89c 0 87px,#abd 0 89px,#89d 0 90px,#abd 0 91px,#ddd 0 92px,#ccd 0 93px,#9ad 0 94px,#8ad 0 95px,#bbd 0 96px,#79c 0 97px,#bcd 0 98px,#ddd 0 99px,#abd 0 100px,#bcd 0 101px,#ddd 0 102px,#bbc 0 103px,#bbd 0 104px,#9ac 0 105px,#bcd 0 106px,#79c 0 107px,#67b 0 108px,#bcd 0 109px)"></i><i style="left:185px;width:3px;background:linear-gradient(#edc 0 1px,#cbc 0 2px,#abd 0 3px,#bbd 0 4px,#ccd 0 5px,#ddd 0 6px,#dcd 0 7px,#9ad 0 8px,#ccd 0 9px,#eaa 0 10px,#ea8 0 11px,#e87 0 12px,#e98 0 14px,#ea8 0 15px,#ea9 0 17px,#e86 0 18px,#eca 0 19px,#ea9 0 20px,#d65 0 21px,#d55 0 22px,#e98 0 23px,#ea9 0 24px,#e86 0 25px,#c34 0 26px,#d65 0 27px,#c34 0 28px,#c44 0 29px,#e76 0 30px,#e97 0 31px,#d76 0 32px,#c44 0 33px,#c23 0 34px,#c33 0 35px,#ecb 0 36px,#daa 0 37px,#e87 0 38px,#cbc 0 39px,#aac 0 40px,#bbd 0 41px,#bcd 0 42px,#abd 0 43px,#ccc 0 44px,#ccd 0 45px,#9ac 0 46px,#aac 0 47px,#9ac 0 48px,#abd 0 49px,#45b 0 50px,#68c 0 51px,#abd 0 52px,#68c 0 53px,#34a 0 54px,#56b 0 55px,#45a 0 56px,#68c 0 57px,#89d 0 58px,#57c 0 59px,#45a 0 60px,#79c 0 61px,#abd 0 62px,#89c 0 63px,#68c 0 64px,#34a 0 65px,#45b 0 66px,#9ad 0 67px,#89c 0 68px,#9ad 0 69px,#79c 0 70px,#78c 0 72px,#79c 0 73px,#46b 0 74px,#9ad 0 75px,#89d 0 76px,#abd 0 77px,#9ad 0 78px,#abd 0 79px,#aad 0 80px,#ccc 0 81px,#ecc 0 82px,#bbc 0 83px,#cce 0 84px,#cbb 0 85px,#ecc 0 86px,#cbc 0 87px,#ea9 0 88px,#e87 0 89px,#da9 0 90px,#dcc 0 91px,#dbc 0 92px,#cab 0 93px,#abd 0 94px,#ccc 0 95px,#daa 0 96px,#ccd 0 97px,#ecb 0 98px,#ea9 0 99px,#ccd 0 100px,#9ad 0 101px,#8ad 0 102px,#67c 0 103px,#9ad 0 104px,#89c 0 105px,#ccd 0 106px,#79c 0 107px,#9ad 0 108px,#68c 0 109px)"></i><i style="left:188px;width:2px;background:linear-gradient(#e65 0 1px,#d66 0 2px,#eb9 0 3px,#e97 0 4px,#ea9 0 5px,#cbc 0 6px,#dcc 0 7px,#9ac 0 8px,#dcc 0 9px,#d76 0 10px,#ea8 0 11px,#d76 0 12px,#d98 0 13px,#d65 0 14px,#e97 0 15px,#ecb 0 16px,#dcd 0 17px,#e98 0 18px,#e86 0 19px,#ea8 0 20px,#d87 0 21px,#d54 0 22px,#dbb 0 23px,#cbc 0 24px,#eca 0 25px,#dcc 0 26px,#bab 0 27px,#edc 0 28px,#d98 0 29px,#eba 0 30px,#dbb 0 31px,#eaa 0 32px,#eb9 0 33px,#e86 0 34px,#b23 0 35px,#eba 0 36px,#da9 0 37px,#dba 0 38px,#abd 0 39px,#56b 0 40px,#abd 0 41px,#bbd 0 42px,#abd 0 43px,#dcc 0 44px,#abd 0 45px,#45a 0 46px,#34a 0 47px,#46b 0 48px,#45b 0 49px,#34a 0 50px,#349 0 51px,#67b 0 52px,#34a 0 53px,#56b 0 54px,#78c 0 56px,#46b 0 57px,#45a 0 59px,#34a 0 60px,#68c 0 63px,#349 0 64px,#34a 0 65px,#56b 0 66px,#9ad 0 67px,#57c 0 68px,#89d 0 69px,#89c 0 70px,#68c 0 71px,#78c 0 72px,#57c 0 73px,#34a 0 74px,#68c 0 75px,#9ad 0 76px,#abd 0 77px,#89c 0 78px,#79d 0 79px,#67c 0 80px,#9ad 0 81px,#57c 0 82px,#34a 0 83px,#79d 0 84px,#57b 0 85px,#89d 0 86px,#cbc 0 88px,#eb9 0 89px,#dcc 0 90px,#aac 0 91px,#ccd 0 92px,#cbc 0 93px,#79c 0 94px,#67c 0 95px,#99c 0 96px,#89c 0 97px,#79c 0 98px,#bbd 0 99px,#9ad 0 100px,#8ad 0 101px,#89d 0 102px,#89c 0 103px,#89d 0 105px,#9ad 0 106px,#abd 0 107px,#89c 0 108px,#67c 0 109px)"></i><i style="left:190px;width:3px;background:linear-gradient(#fba 0 1px,#ea9 0 2px,#eca 0 3px,#eb9 0 4px,#ecb 0 5px,#eb9 0 6px,#dcc 0 7px,#ccd 0 8px,#edc 0 9px,#e75 0 10px,#eba 0 11px,#e87 0 12px,#eb9 0 13px,#d65 0 14px,#e97 0 15px,#fca 0 16px,#eba 0 17px,#ea9 0 18px,#ea8 0 19px,#eb9 0 20px,#e86 0 21px,#e97 0 22px,#edc 0 23px,#bbd 0 24px,#edc 0 25px,#e86 0 26px,#ea9 0 27px,#e87 0 28px,#eba 0 29px,#ecb 0 30px,#eca 0 31px,#ea9 0 32px,#edc 0 33px,#e98 0 34px,#e97 0 35px,#ecc 0 37px,#ecb 0 38px,#ccd 0 39px,#bcd 0 40px,#ddd 0 41px,#ccd 0 43px,#dcc 0 44px,#ddd 0 45px,#abd 0 46px,#79d 0 47px,#bcd 0 48px,#bce 0 49px,#abd 0 50px,#bcd 0 51px,#ccd 0 52px,#ddd 0 53px,#ccd 0 54px,#abd 0 55px,#9ad 0 56px,#abd 0 57px,#ccd 0 58px,#bbd 0 59px,#8ad 0 60px,#edd 0 61px,#ecb 0 62px,#bcd 0 63px,#bbc 0 64px,#79d 0 65px,#abd 0 66px,#ddd 0 67px,#abd 0 68px,#ccd 0 69px,#8ad 0 70px,#abd 0 71px,#bbd 0 72px,#9ad 0 73px,#57c 0 74px,#9ad 0 75px,#bcd 0 76px,#bce 0 77px,#9ad 0 78px,#9bd 0 79px,#68c 0 80px,#8ad 0 81px,#68c 0 82px,#89c 0 83px,#abd 0 85px,#ccd 0 86px,#89d 0 87px,#78c 0 88px,#68c 0 89px,#57b 0 90px,#45b 0 91px,#68c 0 92px,#78c 0 93px,#79d 0 94px,#78c 0 95px,#67c 0 96px,#68c 0 97px,#78c 0 98px,#8ad 0 100px,#9ad 0 102px,#89d 0 103px,#ccd 0 104px,#abd 0 105px,#ccd 0 106px,#bbd 0 107px,#9ad 0 108px,#89d 0 109px)"></i><i style="left:193px;width:2px;background:linear-gradient(#d65 0 1px,#d55 0 2px,#d54 0 3px,#c44 0 4px,#d65 0 5px,#d54 0 6px,#d76 0 7px,#d77 0 8px,#eba 0 9px,#c45 0 10px,#b45 0 11px,#b23 0 12px,#c88 0 13px,#b23 0 14px,#d65 0 15px,#e87 0 16px,#d76 0 17px,#c33 0 18px,#d44 0 19px,#e76 0 20px,#d44 0 21px,#c33 0 22px,#ecb 0 23px,#dcc 0 24px,#e87 0 25px,#b13 0 26px,#c44 0 27px,#c55 0 28px,#ea9 0 29px,#eb9 0 30px,#e87 0 31px,#d87 0 32px,#ea8 0 33px,#c44 0 34px,#b23 0 35px,#e86 0 36px,#d77 0 37px,#eba 0 38px,#ccd 0 39px,#78c 0 40px,#ddd 0 41px,#dcc 0 42px,#abd 0 43px,#ccd 0 44px,#dcc 0 45px,#ccd 0 46px,#78c 0 47px,#9ad 0 48px,#89d 0 49px,#78c 0 50px,#89c 0 51px,#ccd 0 52px,#a9b 0 53px,#bab 0 54px,#dcc 0 55px,#99c 0 56px,#89c 0 57px,#bbc 0 58px,#bcd 0 59px,#56b 0 60px,#9ad 0 61px,#ccd 0 62px,#aac 0 63px,#89c 0 64px,#89d 0 65px,#abd 0 66px,#dcc 0 67px,#dba 0 68px,#bbd 0 69px,#89b 0 70px,#abd 0 71px,#89c 0 72px,#57b 0 74px,#89c 0 75px,#9ac 0 76px,#89d 0 77px,#89c 0 78px,#89d 0 79px,#34a 0 80px,#56b 0 81px,#46b 0 82px,#45a 0 83px,#67c 0 84px,#99c 0 85px,#79d 0 86px,#79c 0 87px,#9ad 0 88px,#bbd 0 89px,#78c 0 90px,#67b 0 91px,#67c 0 92px,#57b 0 93px,#78c 0 96px,#45a 0 97px,#56b 0 98px,#aac 0 100px,#bbd 0 101px,#abd 0 102px,#89d 0 103px,#78c 0 104px,#89d 0 105px,#abd 0 106px,#ccd 0 107px,#dcc 0 108px,#78c 0 109px)"></i><i style="left:195px;width:3px;background:linear-gradient(#d44 0 1px,#d77 0 2px,#ea9 0 3px,#b23 0 4px,#d66 0 5px,#e87 0 6px,#ea9 0 7px,#b9a 0 8px,#da9 0 9px,#b56 0 10px,#c33 0 11px,#b33 0 12px,#dbb 0 13px,#d54 0 14px,#c44 0 15px,#d55 0 16px,#b23 0 17px,#a13 0 18px,#a12 0 19px,#b23 0 20px,#b13 0 21px,#a12 0 22px,#eba 0 23px,#bab 0 24px,#ea9 0 25px,#b13 0 26px,#a12 0 28px,#b23 0 29px,#e76 0 30px,#d66 0 31px,#b45 0 32px,#d54 0 33px,#a12 0 34px,#b23 0 35px,#d87 0 36px,#c66 0 37px,#daa 0 38px,#aac 0 39px,#56b 0 40px,#ccc 0 41px,#d99 0 42px,#dcc 0 43px,#d98 0 44px,#d99 0 45px,#ccd 0 46px,#cab 0 47px,#abd 0 49px,#79c 0 50px,#abd 0 51px,#dba 0 52px,#ea9 0 53px,#da9 0 54px,#89c 0 55px,#bbd 0 56px,#8ad 0 57px,#89c 0 58px,#78c 0 59px,#aac 0 60px,#ea9 0 61px,#da9 0 62px,#cbb 0 63px,#67b 0 64px,#34a 0 65px,#9ac 0 66px,#dcc 0 67px,#da9 0 68px,#bbd 0 69px,#a8a 0 70px,#88b 0 71px,#67b 0 72px,#67c 0 73px,#56b 0 74px,#57b 0 75px,#57c 0 76px,#78c 0 77px,#77b 0 78px,#79c 0 79px,#78b 0 80px,#89d 0 81px,#8ad 0 82px,#46b 0 83px,#79c 0 84px,#99c 0 85px,#dbb 0 86px,#aac 0 87px,#99c 0 88px,#aab 0 89px,#68c 0 90px,#45a 0 91px,#44a 0 92px,#34a 0 93px,#67b 0 94px,#34a 0 96px,#56b 0 97px,#34a 0 98px,#78c 0 99px,#79c 0 100px,#9ad 0 101px,#9ac 0 102px,#aac 0 103px,#cdd 0 104px,#e87 0 105px,#edc 0 106px,#d77 0 107px,#c66 0 108px,#d76 0 109px)"></i><i style="left:198px;width:2px;background:linear-gradient(#b23 0 1px,#d65 0 2px,#c33 0 3px,#a12 0 4px,#d55 0 5px,#c44 0 6px,#d65 0 7px,#d76 0 8px,#c33 0 9px,#b13 0 10px,#d44 0 11px,#a12 0 12px,#b23 0 13px,#c23 0 14px,#e86 0 15px,#e76 0 16px,#d64 0 17px,#a12 0 18px,#c23 0 19px,#d54 0 20px,#c44 0 21px,#c34 0 22px,#ea9 0 23px,#e88 0 24px,#d77 0 25px,#a12 0 26px,#c33 0 27px,#b34 0 28px,#eba 0 29px,#dcb 0 30px,#dba 0 31px,#ea9 0 32px,#e76 0 33px,#d55 0 34px,#c33 0 35px,#d65 0 36px,#e87 0 37px,#ecb 0 38px,#dcc 0 39px,#99b 0 40px,#ecb 0 41px,#dbb 0 42px,#ecb 0 43px,#dcb 0 44px,#dbb 0 45px,#cbb 0 46px,#aac 0 47px,#ddd 0 48px,#ccc 0 49px,#cbc 0 50px,#cab 0 51px,#e87 0 52px,#ebb 0 53px,#bab 0 54px,#ccc 0 55px,#88b 0 56px,#79d 0 57px,#ecc 0 58px,#ccd 0 59px,#c99 0 60px,#e76 0 61px,#d65 0 62px,#d99 0 63px,#9ad 0 64px,#88c 0 65px,#bac 0 66px,#e98 0 67px,#dbb 0 68px,#bbd 0 69px,#b9a 0 70px,#abd 0 71px,#9ad 0 72px,#89c 0 73px,#67c 0 74px,#dcc 0 75px,#cbc 0 76px,#dbb 0 77px,#98b 0 78px,#bbd 0 79px,#aac 0 80px,#ddd 0 81px,#dbb 0 82px,#ccd 0 83px,#ddd 0 84px,#dbc 0 85px,#dbb 0 86px,#e75 0 87px,#ebb 0 88px,#ea9 0 89px,#dbb 0 90px,#bbc 0 91px,#abd 0 92px,#bbc 0 93px,#aac 0 94px,#dcc 0 95px,#cbc 0 96px,#9ad 0 97px,#89d 0 98px,#ccd 0 99px,#dbb 0 100px,#eba 0 101px,#cbb 0 102px,#eba 0 103px,#dcc 0 104px,#dba 0 105px,#dcc 0 106px,#dbb 0 107px,#cbc 0 108px,#ccd 0 109px)"></i><i style="left:200px;width:3px;background:linear-gradient(#ea8 0 1px,#ea9 0 2px,#dbb 0 3px,#cbc 0 4px,#ea8 0 5px,#e86 0 6px,#d65 0 7px,#e87 0 8px,#ecb 0 9px,#e98 0 10px,#d65 0 11px,#d54 0 12px,#e86 0 13px,#c45 0 14px,#eba 0 15px,#e87 0 16px,#d54 0 17px,#a12 0 19px,#e75 0 20px,#e65 0 21px,#c34 0 22px,#e98 0 23px,#e87 0 25px,#d44 0 26px,#ea8 0 27px,#d65 0 28px,#d76 0 29px,#ea8 0 30px,#eba 0 31px,#e87 0 32px,#d65 0 33px,#b23 0 34px,#c44 0 35px,#d54 0 36px,#c54 0 37px,#d55 0 38px,#ea8 0 39px,#dcc 0 40px,#eca 0 41px,#d98 0 42px,#ea8 0 43px,#e97 0 44px,#eba 0 45px,#dcc 0 46px,#9ad 0 47px,#abd 0 49px,#89d 0 50px,#68c 0 51px,#bbd 0 52px,#cbb 0 53px,#dcc 0 54px,#bbd 0 55px,#67c 0 56px,#8ad 0 57px,#dcc 0 58px,#bbd 0 59px,#9ac 0 60px,#dcc 0 61px,#daa 0 62px,#87a 0 63px,#78c 0 64px,#89d 0 65px,#9ad 0 66px,#bcd 0 68px,#ea8 0 69px,#eba 0 70px,#edc 0 71px,#8ad 0 72px,#78c 0 73px,#89c 0 74px,#89d 0 75px,#abd 0 76px,#bcd 0 77px,#67b 0 78px,#9ad 0 79px,#78c 0 80px,#bcd 0 81px,#bbd 0 82px,#9ac 0 83px,#9ad 0 84px,#aad 0 85px,#ea9 0 87px,#dcc 0 89px,#bac 0 90px,#abd 0 91px,#9ad 0 92px,#ccd 0 93px,#9ad 0 94px,#aac 0 95px,#dbb 0 96px,#78c 0 97px,#abd 0 98px,#dba 0 99px,#bbd 0 100px,#edc 0 101px,#cbc 0 102px,#dcd 0 103px,#ea9 0 104px,#e97 0 105px,#eba 0 106px,#da9 0 107px,#eba 0 108px,#ea8 0 109px)"></i><i style="left:203px;width:2px;background:linear-gradient(#bcd 0 1px,#56b 0 2px,#68c 0 3px,#56b 0 4px,#57c 0 5px,#9ad 0 6px,#78c 0 7px,#56b 0 8px,#78c 0 9px,#45b 0 10px,#9ad 0 11px,#ecc 0 12px,#bbc 0 13px,#78c 0 14px,#abd 0 15px,#bcd 0 16px,#9ad 0 17px,#ecc 0 18px,#edc 0 19px,#9ad 0 20px,#67c 0 21px,#8ad 0 22px,#79c 0 23px,#56b 0 24px,#9ad 0 25px,#abd 0 26px,#78b 0 27px,#68c 0 28px,#8ad 0 29px,#abd 0 30px,#ddd 0 31px,#bbd 0 32px,#bcd 0 33px,#cbc 0 35px,#ddd 0 36px,#bac 0 37px,#dcc 0 38px,#9ad 0 39px,#78c 0 41px,#dcd 0 42px,#abd 0 43px,#bbd 0 44px,#ccd 0 45px,#bcd 0 46px,#78c 0 47px,#ccd 0 50px,#bbc 0 51px,#ecc 0 52px,#e87 0 53px,#c66 0 54px,#ccc 0 55px,#ccd 0 56px,#eba 0 57px,#e98 0 58px,#ea9 0 59px,#e76 0 60px,#d65 0 61px,#e87 0 62px,#da9 0 63px,#ecb 0 64px,#edd 0 65px,#ddd 0 66px,#ecb 0 67px,#e87 0 68px,#e98 0 69px,#e97 0 70px,#eca 0 71px,#eba 0 72px,#ecb 0 73px,#ecc 0 74px,#eba 0 75px,#e87 0 76px,#ea8 0 77px,#ccd 0 78px,#bbd 0 79px,#ccc 0 80px,#ea9 0 81px,#eba 0 82px,#ddd 0 83px,#dcc 0 84px,#eba 0 85px,#e98 0 86px,#eba 0 87px,#ea9 0 89px,#dcc 0 90px,#abd 0 91px,#bbd 0 92px,#ccd 0 94px,#bbd 0 95px,#bbc 0 97px,#ccd 0 98px,#dbb 0 99px,#bbc 0 100px,#ccd 0 102px,#dcc 0 103px,#eb9 0 104px,#ea8 0 105px,#ecb 0 106px,#dcc 0 107px,#9ad 0 108px,#89d 0 109px)"></i><i style="left:205px;width:3px;background:linear-gradient(#34a 0 3px,#349 0 4px,#34a 0 5px,#45a 0 6px,#34a 0 7px,#349 0 8px,#34a 0 10px,#68c 0 11px,#46b 0 12px,#349 0 14px,#67c 0 16px,#89c 0 17px,#c89 0 18px,#dba 0 19px,#78c 0 20px,#56b 0 21px,#89d 0 22px,#45b 0 23px,#45a 0 24px,#79c 0 25px,#879 0 26px,#88b 0 27px,#34a 0 28px,#67b 0 29px,#34a 0 30px,#67c 0 31px,#ddd 0 32px,#da9 0 33px,#d55 0 34px,#c66 0 35px,#d87 0 36px,#9ad 0 37px,#aad 0 38px,#45a 0 39px,#34a 0 40px,#67b 0 41px,#aab 0 42px,#aac 0 43px,#89c 0 44px,#9ad 0 45px,#56b 0 46px,#55a 0 47px,#89d 0 48px,#68c 0 49px,#45a 0 50px,#55a 0 51px,#ccc 0 52px,#c66 0 53px,#b33 0 54px,#d99 0 55px,#9ad 0 56px,#c89 0 57px,#d77 0 58px,#c44 0 59px,#b23 0 60px,#a12 0 62px,#b23 0 63px,#eba 0 64px,#bab 0 65px,#aab 0 66px,#caa 0 67px,#c66 0 68px,#d55 0 69px,#b34 0 70px,#c76 0 71px,#ecb 0 72px,#bbc 0 73px,#99c 0 74px,#d88 0 75px,#d66 0 76px,#d77 0 77px,#da9 0 78px,#dcd 0 79px,#dba 0 80px,#d99 0 81px,#d55 0 82px,#c77 0 83px,#daa 0 84px,#c44 0 85px,#c66 0 86px,#c44 0 87px,#b45 0 88px,#a35 0 89px,#a9b 0 90px,#78c 0 91px,#9ac 0 92px,#eba 0 93px,#d66 0 94px,#c44 0 96px,#a57 0 97px,#e97 0 98px,#c66 0 99px,#d76 0 100px,#e98 0 101px,#dbb 0 102px,#d99 0 103px,#c44 0 104px,#b23 0 105px,#d76 0 106px,#d77 0 108px,#d98 0 109px)"></i><i style="left:208px;width:2px;background:linear-gradient(#cce 0 1px,#bbd 0 2px,#cce 0 3px,#abd 0 4px,#bce 0 5px,#bcd 0 6px,#bce 0 7px,#bcd 0 8px,#bce 0 9px,#ddd 0 10px,#edd 0 11px,#edc 0 12px,#edd 0 13px,#ddd 0 16px,#cdd 0 17px,#edc 0 19px,#ddd 0 21px,#cdd 0 22px,#abd 0 23px,#bcd 0 24px,#cce 0 25px,#abd 0 26px,#bcd 0 27px,#9ad 0 28px,#cde 0 29px,#ddd 0 30px,#edd 0 31px,#ecb 0 32px,#edd 0 33px,#cdd 0 34px,#dcc 0 35px,#ddd 0 36px,#cde 0 37px,#bce 0 39px,#abd 0 41px,#bbd 0 42px,#ddd 0 43px,#ccd 0 44px,#ddd 0 45px,#bcd 0 46px,#abd 0 47px,#bcd 0 50px,#ccd 0 51px,#ddd 0 52px,#ecb 0 53px,#ccd 0 54px,#bce 0 55px,#89d 0 56px,#8ad 0 57px,#9ad 0 58px,#cce 0 59px,#bcd 0 60px,#ddd 0 62px,#bcd 0 63px,#bbd 0 64px,#9ad 0 65px,#abd 0 66px,#ccd 0 68px,#edd 0 69px,#ddd 0 70px,#abd 0 71px,#9ad 0 72px,#cce 0 74px,#cde 0 75px,#edd 0 76px,#edc 0 77px,#cce 0 78px,#ddd 0 79px,#cce 0 80px,#cdd 0 81px,#dde 0 82px,#bce 0 83px,#cce 0 84px,#ccd 0 85px,#ddd 0 86px,#cdd 0 87px,#ccd 0 90px,#9ad 0 92px,#abd 0 93px,#bcd 0 94px,#ddd 0 95px,#ccd 0 96px,#abd 0 97px,#bce 0 98px,#edc 0 99px,#ddd 0 102px,#edc 0 103px,#ecb 0 104px,#eba 0 105px,#edc 0 106px,#ecb 0 107px,#e97 0 108px,#ecb 0 109px)"></i><i style="left:210px;width:3px;background:linear-gradient(#bcd 0 1px,#ddd 0 2px,#ccd 0 3px,#dcc 0 5px,#cbc 0 6px,#bbd 0 7px,#67c 0 8px,#9ad 0 9px,#dcb 0 10px,#edd 0 11px,#dcb 0 12px,#cbd 0 13px,#dbb 0 14px,#eca 0 15px,#edd 0 16px,#dcc 0 17px,#e87 0 18px,#e75 0 19px,#ea9 0 20px,#edc 0 21px,#dcc 0 22px,#abd 0 23px,#9ad 0 24px,#cce 0 25px,#ccc 0 26px,#78c 0 28px,#9ad 0 29px,#bcd 0 30px,#ddd 0 31px,#ccd 0 32px,#eba 0 33px,#ddd 0 34px,#ea9 0 35px,#eca 0 36px,#dba 0 37px,#e97 0 38px,#edc 0 39px,#cbc 0 40px,#abd 0 41px,#ccd 0 42px,#bbd 0 43px,#abd 0 45px,#9ad 0 46px,#78c 0 47px,#abd 0 48px,#bcd 0 49px,#abd 0 50px,#bbc 0 51px,#ecb 0 52px,#e87 0 53px,#c33 0 54px,#bcd 0 55px,#78c 0 56px,#abd 0 57px,#cde 0 58px,#ccd 0 59px,#cbc 0 60px,#ecc 0 62px,#b9a 0 63px,#9ad 0 64px,#56b 0 65px,#78c 0 66px,#9bd 0 67px,#bbd 0 69px,#abd 0 70px,#8ad 0 71px,#89d 0 72px,#9ad 0 74px,#ccd 0 75px,#eba 0 76px,#dcc 0 77px,#99b 0 78px,#abd 0 79px,#68c 0 80px,#79d 0 81px,#bbd 0 82px,#9ad 0 83px,#79d 0 84px,#78c 0 85px,#aac 0 86px,#ccd 0 87px,#ddd 0 88px,#dcc 0 89px,#89c 0 90px,#9ad 0 91px,#abd 0 92px,#cbd 0 93px,#ebb 0 94px,#daa 0 95px,#abd 0 96px,#78c 0 97px,#68c 0 98px,#9ad 0 99px,#9ac 0 100px,#bcd 0 101px,#abd 0 103px,#dcc 0 104px,#d99 0 105px,#dcc 0 106px,#dcb 0 107px,#baa 0 108px,#dcc 0 109px)"></i><i style="left:213px;width:2px;background:linear-gradient(#eba 0 1px,#e75 0 2px,#ea8 0 3px,#c33 0 4px,#e75 0 5px,#e87 0 6px,#ecb 0 7px,#edd 0 8px,#eb9 0 9px,#d76 0 10px,#e86 0 11px,#d65 0 13px,#c44 0 14px,#e98 0 15px,#e97 0 16px,#d54 0 17px,#c33 0 18px,#b13 0 19px,#c33 0 20px,#d55 0 22px,#eb9 0 23px,#eca 0 24px,#eb9 0 25px,#d65 0 26px,#edc 0 27px,#eb9 0 28px,#d65 0 29px,#e97 0 30px,#ea8 0 31px,#e87 0 32px,#ea8 0 33px,#d64 0 34px,#d44 0 35px,#d54 0 36px,#e76 0 38px,#ea8 0 39px,#ccc 0 40px,#edc 0 41px,#eba 0 42px,#ecc 0 43px,#eb9 0 44px,#e98 0 45px,#eba 0 46px,#ccd 0 47px,#edd 0 48px,#ea9 0 49px,#e98 0 50px,#e97 0 51px,#ea9 0 52px,#e86 0 53px,#d54 0 54px,#cbc 0 55px,#57c 0 56px,#89d 0 57px,#ccc 0 58px,#ddd 0 59px,#edc 0 60px,#ecb 0 61px,#eca 0 62px,#ecc 0 63px,#ccc 0 64px,#ccd 0 65px,#9bd 0 66px,#cdd 0 67px,#edc 0 68px,#edd 0 69px,#ecc 0 70px,#dcc 0 71px,#bbd 0 72px,#bce 0 73px,#89d 0 74px,#bcd 0 75px,#edc 0 76px,#bbd 0 77px,#9ad 0 78px,#bcd 0 79px,#78c 0 80px,#89d 0 81px,#ccd 0 82px,#78c 0 83px,#abd 0 84px,#bcd 0 86px,#edc 0 87px,#dcc 0 88px,#ccd 0 89px,#abd 0 90px,#78c 0 91px,#89d 0 92px,#8ad 0 93px,#bcd 0 94px,#ddd 0 95px,#89d 0 97px,#9ad 0 98px,#ccd 0 99px,#ea9 0 100px,#ecb 0 102px,#ea9 0 103px,#e98 0 104px,#daa 0 105px,#eb9 0 106px,#dcc 0 107px,#bac 0 108px,#ecb 0 109px)"></i><i style="left:215px;width:3px;background:linear-gradient(#ecb 0 1px,#ea9 0 3px,#e97 0 5px,#ea8 0 6px,#edc 0 7px,#bcd 0 8px,#dcc 0 9px,#e86 0 10px,#e76 0 11px,#d44 0 12px,#c33 0 13px,#b23 0 14px,#ea8 0 15px,#eb9 0 16px,#ea8 0 17px,#d65 0 18px,#e86 0 20px,#e76 0 21px,#ea8 0 22px,#dcc 0 23px,#ccd 0 24px,#ddc 0 25px,#ecc 0 26px,#bcd 0 27px,#bbc 0 28px,#dcd 0 29px,#edc 0 30px,#edd 0 31px,#eba 0 32px,#eca 0 33px,#e86 0 34px,#e98 0 35px,#e86 0 36px,#d44 0 37px,#d65 0 38px,#e87 0 39px,#dbb 0 40px,#ccd 0 41px,#ecc 0 42px,#dbb 0 43px,#ddd 0 44px,#ecc 0 45px,#aac 0 46px,#abd 0 47px,#bbd 0 48px,#ccd 0 49px,#bbd 0 50px,#cbc 0 51px,#edc 0 52px,#ea8 0 53px,#d54 0 54px,#ecb 0 55px,#abd 0 56px,#9bd 0 57px,#bcd 0 58px,#cce 0 59px,#ccd 0 60px,#ddc 0 61px,#ddd 0 62px,#ccd 0 63px,#abd 0 64px,#bcd 0 65px,#bce 0 66px,#edc 0 67px,#dbb 0 68px,#cdd 0 70px,#abd 0 71px,#8ad 0 72px,#9ad 0 73px,#abd 0 74px,#bcd 0 75px,#ccd 0 76px,#cde 0 77px,#ccd 0 78px,#bbd 0 79px,#79d 0 80px,#9bd 0 81px,#cbc 0 82px,#bbd 0 83px,#ccd 0 85px,#ddd 0 86px,#dba 0 87px,#ecb 0 89px,#ecc 0 90px,#9ad 0 91px,#ccd 0 92px,#cdd 0 93px,#ecc 0 94px,#abd 0 95px,#68c 0 97px,#abd 0 98px,#dcd 0 99px,#eba 0 100px,#ecb 0 101px,#ccd 0 102px,#ddd 0 103px,#edc 0 104px,#ccd 0 105px,#dcc 0 106px,#eba 0 107px,#ccd 0 109px)"></i><i style="left:218px;width:2px;background:linear-gradient(#dcd 0 1px,#ea9 0 2px,#ea8 0 3px,#d44 0 4px,#d54 0 5px,#e98 0 6px,#ea9 0 7px,#bbd 0 8px,#eca 0 9px,#c66 0 10px,#d65 0 11px,#b23 0 12px,#b13 0 14px,#e86 0 15px,#eb9 0 16px,#e76 0 17px,#b13 0 18px,#c34 0 19px,#d54 0 20px,#e86 0 21px,#e76 0 22px,#ebb 0 23px,#ecb 0 25px,#ccd 0 26px,#bbd 0 27px,#99c 0 28px,#ccd 0 29px,#eb9 0 30px,#e87 0 32px,#eba 0 33px,#ecb 0 34px,#d65 0 36px,#c33 0 37px,#ecb 0 38px,#dbb 0 39px,#aad 0 40px,#bbd 0 41px,#ddd 0 43px,#abd 0 44px,#edd 0 45px,#cab 0 46px,#bcd 0 47px,#ea8 0 48px,#e87 0 49px,#edc 0 50px,#aad 0 51px,#dcb 0 52px,#d65 0 53px,#c44 0 54px,#ccd 0 55px,#56b 0 56px,#68c 0 57px,#9ad 0 58px,#dcd 0 59px,#cab 0 60px,#eca 0 61px,#ecb 0 62px,#9ac 0 63px,#9ad 0 64px,#89d 0 66px,#ccd 0 67px,#ecb 0 69px,#abd 0 70px,#79c 0 71px,#34a 0 72px,#56b 0 73px,#45b 0 74px,#67c 0 75px,#89d 0 76px,#9ad 0 77px,#78c 0 78px,#9ad 0 79px,#67c 0 80px,#78c 0 81px,#abd 0 82px,#349 0 83px,#67c 0 85px,#79d 0 86px,#56b 0 88px,#45b 0 89px,#57b 0 90px,#34a 0 93px,#67c 0 94px,#46b 0 95px,#34a 0 97px,#57c 0 98px,#9ad 0 99px,#bbc 0 100px,#abd 0 101px,#68c 0 102px,#89c 0 103px,#bce 0 104px,#aac 0 105px,#ddd 0 106px,#ccd 0 107px,#dcc 0 108px,#79c 0 109px)"></i><i style="left:220px;width:3px;background:linear-gradient(#ddd 0 1px,#c33 0 2px,#d65 0 3px,#c33 0 4px,#e86 0 5px,#ea9 0 6px,#ccd 0 7px,#ddd 0 8px,#dbb 0 9px,#d77 0 10px,#ea9 0 11px,#e76 0 12px,#d55 0 13px,#b23 0 14px,#e86 0 15px,#e97 0 16px,#b23 0 17px,#a12 0 18px,#b13 0 19px,#b23 0 20px,#c44 0 21px,#d55 0 22px,#dcc 0 23px,#edd 0 24px,#eba 0 25px,#d66 0 26px,#edc 0 27px,#d99 0 28px,#ecc 0 29px,#ecb 0 30px,#eba 0 31px,#e87 0 32px,#eba 0 33px,#eaa 0 34px,#e76 0 35px,#d65 0 36px,#d54 0 37px,#e97 0 38px,#e86 0 39px,#bcd 0 40px,#dcd 0 41px,#ccc 0 42px,#ccd 0 43px,#ecb 0 44px,#ea9 0 45px,#edc 0 46px,#99c 0 47px,#ccc 0 48px,#e87 0 49px,#ecc 0 50px,#dcd 0 51px,#ebb 0 52px,#d76 0 53px,#c44 0 54px,#ecb 0 55px,#79c 0 56px,#abd 0 57px,#ccc 0 58px,#dcc 0 59px,#aac 0 60px,#ccc 0 61px,#ccd 0 62px,#abd 0 63px,#46b 0 64px,#45a 0 65px,#67c 0 66px,#cce 0 67px,#eb9 0 68px,#dcc 0 69px,#dbb 0 70px,#abd 0 71px,#45b 0 72px,#9ad 0 73px,#79d 0 74px,#abd 0 75px,#9ad 0 76px,#ccd 0 77px,#89d 0 78px,#bbd 0 79px,#67b 0 80px,#9ad 0 81px,#bbc 0 82px,#abd 0 84px,#9ad 0 85px,#ddd 0 86px,#bbc 0 87px,#89d 0 88px,#bbc 0 89px,#ccd 0 90px,#79c 0 91px,#89d 0 92px,#abd 0 93px,#dcc 0 94px,#cab 0 95px,#79c 0 96px,#56b 0 97px,#8ad 0 98px,#ccd 0 99px,#edc 0 100px,#bcd 0 101px,#9ad 0 102px,#79c 0 103px,#edd 0 104px,#daa 0 105px,#ecb 0 106px,#eb9 0 107px,#e97 0 108px,#dbb 0 109px)"></i><i style="left:223px;width:2px;background:linear-gradient(#ecb 0 1px,#d54 0 2px,#c33 0 3px,#a12 0 5px,#b13 0 6px,#b23 0 7px,#ea9 0 8px,#d66 0 9px,#d44 0 10px,#e98 0 11px,#d66 0 12px,#b13 0 13px,#a12 0 14px,#d44 0 15px,#e76 0 16px,#b23 0 17px,#a12 0 21px,#b13 0 22px,#eb9 0 23px,#cab 0 24px,#ecb 0 25px,#c44 0 26px,#c9a 0 27px,#c77 0 28px,#daa 0 29px,#d98 0 30px,#e87 0 31px,#c44 0 32px,#e98 0 33px,#c99 0 34px,#e98 0 35px,#d54 0 36px,#b45 0 37px,#d76 0 38px,#e98 0 39px,#ccc 0 40px,#abd 0 41px,#bcd 0 42px,#ebb 0 43px,#cbb 0 44px,#e97 0 45px,#cbb 0 46px,#34a 0 47px,#46b 0 48px,#ddd 0 49px,#dbb 0 50px,#cab 0 51px,#aad 0 52px,#ddd 0 53px,#caa 0 54px,#dbb 0 55px,#89c 0 56px,#bbd 0 57px,#c88 0 58px,#ecb 0 59px,#aac 0 60px,#c9a 0 61px,#bab 0 62px,#68c 0 63px,#34a 0 66px,#99c 0 67px,#56b 0 68px,#abd 0 69px,#77b 0 70px,#34a 0 71px,#349 0 72px,#34a 0 73px,#349 0 75px,#45a 0 76px,#68c 0 77px,#45a 0 78px,#56b 0 79px,#349 0 80px,#45b 0 81px,#57b 0 82px,#34a 0 84px,#45a 0 85px,#57b 0 86px,#34a 0 87px,#45a 0 88px,#34a 0 92px,#56b 0 93px,#89c 0 94px,#34a 0 95px,#45a 0 96px,#349 0 97px,#34a 0 98px,#87b 0 99px,#67b 0 100px,#78c 0 101px,#46b 0 102px,#35a 0 103px,#78c 0 104px,#78b 0 105px,#bab 0 106px,#a9b 0 107px,#99c 0 108px,#67b 0 109px)"></i><i style="left:225px;width:3px;background:linear-gradient(#ccd 0 1px,#c99 0 2px,#e86 0 3px,#c55 0 4px,#d76 0 5px,#daa 0 6px,#99c 0 7px,#abd 0 8px,#ccd 0 9px,#c89 0 10px,#d66 0 11px,#b13 0 12px,#b45 0 13px,#b23 0 14px,#e75 0 15px,#e97 0 16px,#c33 0 17px,#a12 0 18px,#b23 0 19px,#c34 0 20px,#b33 0 21px,#c44 0 22px,#ea9 0 23px,#d99 0 24px,#d76 0 25px,#b45 0 26px,#c66 0 27px,#eb9 0 28px,#d87 0 29px,#c66 0 30px,#c44 0 31px,#b34 0 32px,#c44 0 33px,#b23 0 34px,#a12 0 36px,#b23 0 37px,#c55 0 38px,#e87 0 39px,#77a 0 40px,#9ac 0 41px,#8ad 0 42px,#dbb 0 43px,#c88 0 44px,#d99 0 45px,#99b 0 46px,#34a 0 47px,#78c 0 48px,#ddd 0 49px,#bbd 0 50px,#46b 0 51px,#aac 0 52px,#c66 0 53px,#c55 0 54px,#b9a 0 55px,#89c 0 56px,#45b 0 57px,#bbd 0 59px,#88b 0 60px,#cbc 0 61px,#dbb 0 62px,#9ac 0 63px,#45b 0 64px,#34a 0 66px,#46b 0 67px,#56b 0 68px,#79d 0 69px,#67c 0 70px,#45b 0 71px,#34a 0 72px,#349 0 74px,#56b 0 76px,#99c 0 77px,#45a 0 78px,#68c 0 79px,#67c 0 80px,#45b 0 81px,#45a 0 82px,#34a 0 84px,#45a 0 85px,#67c 0 86px,#57b 0 87px,#349 0 88px,#45a 0 89px,#67b 0 90px,#56b 0 91px,#46b 0 92px,#67b 0 93px,#aac 0 94px,#78c 0 95px,#34a 0 96px,#349 0 97px,#44a 0 98px,#67c 0 99px,#99c 0 100px,#abd 0 101px,#78b 0 102px,#56b 0 103px,#eba 0 104px,#bab 0 105px,#ecb 0 106px,#e98 0 107px,#d76 0 108px,#d55 0 109px)"></i><i style="left:228px;width:2px;background:linear-gradient(#34a 0 1px,#45b 0 2px,#68c 0 3px,#45a 0 4px,#67c 0 5px,#56b 0 6px,#45b 0 7px,#349 0 8px,#34a 0 9px,#45a 0 10px,#89d 0 11px,#9ad 0 12px,#78c 0 13px,#d98 0 14px,#edc 0 15px,#edd 0 16px,#eba 0 17px,#ea9 0 18px,#dcb 0 19px,#abc 0 20px,#78b 0 21px,#34a 0 23px,#349 0 24px,#56b 0 25px,#559 0 26px,#349 0 27px,#34a 0 28px,#45a 0 29px,#56b 0 30px,#ccd 0 31px,#dbb 0 32px,#ddd 0 33px,#abd 0 34px,#eba 0 36px,#b9b 0 37px,#57b 0 39px,#349 0 40px,#34a 0 41px,#45a 0 42px,#68c 0 45px,#34a 0 46px,#349 0 47px,#44a 0 48px,#99c 0 49px,#cbb 0 50px,#abd 0 51px,#bac 0 52px,#c77 0 53px,#b23 0 54px,#c9a 0 55px,#bab 0 56px,#aac 0 57px,#e87 0 58px,#e97 0 59px,#d87 0 60px,#b33 0 61px,#b23 0 62px,#b45 0 63px,#d65 0 64px,#cab 0 65px,#ebb 0 66px,#e76 0 67px,#b13 0 68px,#b23 0 69px,#b13 0 70px,#d65 0 71px,#d55 0 72px,#dba 0 73px,#daa 0 74px,#d87 0 75px,#d77 0 76px,#c43 0 77px,#d65 0 78px,#eb9 0 79px,#eba 0 80px,#ea9 0 81px,#d76 0 82px,#e76 0 83px,#d76 0 84px,#b34 0 85px,#a12 0 86px,#b13 0 87px,#b23 0 88px,#b13 0 89px,#c44 0 90px,#e65 0 91px,#ea9 0 92px,#c55 0 93px,#c44 0 94px,#d54 0 95px,#c66 0 96px,#d77 0 97px,#dcc 0 98px,#d98 0 99px,#c34 0 100px,#e87 0 101px,#e98 0 102px,#c44 0 103px,#b23 0 104px,#a12 0 105px,#d54 0 106px,#b13 0 107px,#a12 0 108px,#ea9 0 109px)"></i><i style="left:230px;width:3px;background:linear-gradient(#45a 0 1px,#9ad 0 3px,#45a 0 4px,#56b 0 7px,#46b 0 8px,#56b 0 9px,#34a 0 10px,#abd 0 11px,#cab 0 12px,#b9a 0 13px,#abd 0 14px,#ddd 0 15px,#bcd 0 16px,#cde 0 17px,#eba 0 18px,#cbc 0 19px,#9ad 0 20px,#88b 0 21px,#89d 0 22px,#45b 0 23px,#44a 0 24px,#abc 0 25px,#56b 0 26px,#349 0 27px,#88b 0 28px,#68c 0 30px,#dcb 0 31px,#ea9 0 32px,#eb9 0 33px,#d87 0 34px,#c77 0 35px,#e76 0 36px,#d55 0 37px,#e97 0 38px,#eba 0 39px,#aac 0 41px,#dcc 0 42px,#bcd 0 43px,#cab 0 44px,#dba 0 45px,#89d 0 46px,#57c 0 47px,#abd 0 48px,#ea9 0 50px,#dcb 0 51px,#d76 0 52px,#c33 0 53px,#a12 0 54px,#d55 0 55px,#c44 0 56px,#d76 0 57px,#b23 0 58px,#e98 0 59px,#b45 0 60px,#b34 0 61px,#a12 0 64px,#d44 0 65px,#c33 0 66px,#a12 0 68px,#b13 0 69px,#a12 0 70px,#c45 0 71px,#b13 0 72px,#d98 0 73px,#ecb 0 74px,#eba 0 75px,#d44 0 76px,#c44 0 77px,#d54 0 78px,#eba 0 79px,#ea9 0 80px,#d76 0 81px,#d65 0 82px,#e98 0 83px,#ea9 0 84px,#d98 0 85px,#e86 0 86px,#e76 0 87px,#b23 0 88px,#c44 0 89px,#e98 0 90px,#bbc 0 91px,#ecc 0 92px,#dba 0 93px,#da9 0 94px,#b78 0 95px,#dbb 0 96px,#bcd 0 97px,#68c 0 98px,#daa 0 99px,#d87 0 100px,#ea8 0 101px,#eaa 0 102px,#d43 0 103px,#d44 0 104px,#b23 0 105px,#e87 0 106px,#d88 0 107px,#c33 0 108px,#d66 0 109px)"></i><i style="left:233px;width:2px;background:linear-gradient(#ccd 0 1px,#ea8 0 2px,#ecb 0 3px,#d99 0 4px,#edc 0 5px,#ddd 0 6px,#bbc 0 7px,#bbd 0 8px,#ccd 0 9px,#ddd 0 10px,#e98 0 11px,#e97 0 12px,#e76 0 13px,#ea8 0 14px,#ea9 0 15px,#ecb 0 16px,#eba 0 17px,#ea9 0 19px,#e98 0 20px,#ea9 0 21px,#ecc 0 22px,#ccd 0 23px,#dcc 0 24px,#ecc 0 25px,#eba 0 26px,#bbd 0 27px,#bab 0 28px,#ecc 0 29px,#cbb 0 30px,#eba 0 31px,#e97 0 32px,#e98 0 34px,#ea9 0 35px,#ea8 0 36px,#d76 0 37px,#ea9 0 38px,#ecb 0 39px,#89d 0 40px,#9ad 0 42px,#ccd 0 43px,#9ad 0 44px,#bcd 0 45px,#ccc 0 46px,#67c 0 47px,#8ad 0 48px,#abd 0 49px,#aac 0 50px,#bcd 0 51px,#cbc 0 52px,#ccd 0 53px,#bac 0 54px,#aac 0 55px,#56b 0 56px,#78c 0 57px,#9ad 0 58px,#abd 0 59px,#9ad 0 60px,#ddd 0 61px,#eba 0 62px,#9ac 0 63px,#89c 0 64px,#bcd 0 66px,#edc 0 67px,#ea9 0 68px,#ddd 0 69px,#ccd 0 70px,#abd 0 71px,#bbd 0 72px,#9ad 0 73px,#56b 0 74px,#78c 0 75px,#abd 0 76px,#ccd 0 77px,#aac 0 78px,#abd 0 79px,#56b 0 80px,#9ad 0 81px,#abd 0 82px,#56b 0 83px,#57c 0 84px,#34a 0 85px,#57c 0 86px,#67c 0 87px,#89c 0 89px,#8ad 0 90px,#57b 0 91px,#78c 0 92px,#8ad 0 93px,#89d 0 94px,#78c 0 96px,#45a 0 97px,#34a 0 98px,#56b 0 99px,#bcd 0 100px,#cdd 0 101px,#bcd 0 102px,#9ad 0 103px,#ccd 0 104px,#abd 0 105px,#ccd 0 106px,#bcd 0 107px,#78c 0 108px,#89c 0 109px)"></i><i style="left:235px;width:3px;background:linear-gradient(#dcc 0 1px,#ea9 0 2px,#ea8 0 3px,#eb9 0 4px,#eba 0 5px,#ecb 0 6px,#ecc 0 7px,#eba 0 8px,#ecb 0 9px,#d76 0 10px,#ea8 0 11px,#e86 0 12px,#dcc 0 13px,#dcb 0 14px,#edc 0 15px,#edb 0 16px,#ecb 0 20px,#e98 0 21px,#bcd 0 22px,#9bd 0 23px,#9ad 0 24px,#ccd 0 25px,#89c 0 27px,#aad 0 28px,#9ad 0 29px,#abd 0 30px,#cce 0 31px,#ecc 0 32px,#ddd 0 33px,#da9 0 34px,#eb9 0 35px,#ecb 0 36px,#dbb 0 37px,#cce 0 38px,#edc 0 39px,#aad 0 40px,#79d 0 41px,#9bd 0 42px,#9ad 0 43px,#bac 0 44px,#ccd 0 45px,#dcc 0 46px,#68c 0 47px,#abd 0 48px,#cdd 0 49px,#ecb 0 50px,#dba 0 51px,#dcc 0 52px,#ccd 0 53px,#bcd 0 54px,#ccd 0 55px,#abd 0 56px,#89d 0 57px,#9ad 0 58px,#abd 0 59px,#67c 0 60px,#bbd 0 61px,#ddd 0 62px,#abd 0 64px,#bcd 0 65px,#ccd 0 66px,#edd 0 67px,#ea9 0 68px,#ddc 0 69px,#bbd 0 71px,#8ad 0 72px,#68c 0 73px,#45b 0 74px,#78c 0 75px,#bcd 0 76px,#ccd 0 78px,#dcd 0 79px,#9ad 0 80px,#dbc 0 81px,#ddd 0 82px,#cab 0 83px,#9ad 0 85px,#ecc 0 86px,#eb9 0 87px,#dbb 0 89px,#ecc 0 90px,#bbd 0 92px,#dcc 0 93px,#ecb 0 94px,#bbc 0 95px,#89d 0 96px,#78c 0 97px,#abd 0 98px,#9bd 0 99px,#dbc 0 100px,#edc 0 101px,#ccd 0 102px,#bbd 0 103px,#ccd 0 105px,#ecc 0 106px,#ddd 0 107px,#aac 0 108px,#79d 0 109px)"></i><i style="left:238px;width:2px;background:linear-gradient(#bbd 0 1px,#d98 0 2px,#cab 0 3px,#daa 0 4px,#e87 0 5px,#dcc 0 6px,#da9 0 7px,#bbc 0 8px,#aab 0 9px,#a9c 0 10px,#ea8 0 11px,#d87 0 12px,#d66 0 13px,#c99 0 14px,#ecb 0 15px,#eba 0 16px,#d76 0 17px,#c33 0 18px,#d65 0 19px,#c34 0 20px,#c55 0 21px,#eaa 0 22px,#dcc 0 23px,#dab 0 24px,#da9 0 25px,#c9a 0 26px,#d55 0 27px,#c34 0 28px,#c99 0 29px,#e87 0 30px,#c54 0 31px,#d65 0 32px,#e98 0 33px,#c34 0 34px,#a12 0 35px,#b13 0 36px,#a12 0 37px,#b23 0 38px,#d87 0 39px,#cab 0 40px,#cbc 0 41px,#9ad 0 42px,#78c 0 43px,#79c 0 44px,#dcc 0 45px,#cab 0 46px,#78c 0 47px,#56a 0 48px,#99c 0 49px,#dbb 0 50px,#aac 0 51px,#a9b 0 52px,#b89 0 53px,#d66 0 54px,#b89 0 55px,#87a 0 56px,#bbd 0 57px,#89c 0 58px,#bac 0 59px,#56b 0 60px,#caa 0 61px,#e86 0 62px,#cbc 0 63px,#56b 0 64px,#67c 0 65px,#abd 0 66px,#bbd 0 67px,#98b 0 68px,#ecb 0 69px,#abd 0 70px,#67c 0 71px,#45a 0 72px,#34a 0 74px,#78c 0 75px,#b88 0 76px,#ccc 0 77px,#45b 0 78px,#9ad 0 79px,#bab 0 80px,#cab 0 81px,#daa 0 82px,#a9c 0 83px,#9ad 0 84px,#56b 0 85px,#cab 0 86px,#9ac 0 87px,#659 0 88px,#c88 0 89px,#bbc 0 90px,#78c 0 92px,#bbc 0 93px,#a9b 0 94px,#abd 0 95px,#78c 0 96px,#56b 0 97px,#57b 0 98px,#b9a 0 99px,#ecb 0 101px,#aac 0 102px,#caa 0 103px,#dbb 0 104px,#a9b 0 105px,#cbc 0 107px,#bcd 0 108px,#67c 0 109px)"></i><i style="left:240px;width:3px;background:linear-gradient(#cbc 0 1px,#ebb 0 3px,#d75 0 4px,#d54 0 5px,#e98 0 7px,#ecb 0 8px,#cbc 0 9px,#c88 0 10px,#e97 0 11px,#e87 0 12px,#daa 0 13px,#bbc 0 14px,#ddd 0 15px,#ecb 0 16px,#caa 0 17px,#ecb 0 18px,#da9 0 19px,#edc 0 20px,#cab 0 21px,#bbc 0 22px,#8ad 0 23px,#78c 0 24px,#bbd 0 25px,#78c 0 26px,#dbb 0 27px,#bab 0 28px,#67b 0 29px,#56b 0 30px,#8ad 0 31px,#67c 0 32px,#9ad 0 33px,#bcd 0 34px,#aac 0 35px,#bbd 0 36px,#bbc 0 37px,#abd 0 38px,#67c 0 39px,#56b 0 40px,#67c 0 42px,#88b 0 43px,#56b 0 44px,#bbd 0 45px,#99c 0 46px,#68c 0 47px,#67c 0 48px,#89c 0 49px,#cbc 0 50px,#dcc 0 51px,#bcd 0 52px,#bbd 0 53px,#c99 0 54px,#cbc 0 55px,#67c 0 56px,#34a 0 57px,#56b 0 58px,#57c 0 59px,#45a 0 60px,#abd 0 61px,#ccd 0 62px,#78c 0 63px,#34a 0 64px,#56b 0 65px,#45b 0 66px,#9ad 0 67px,#89c 0 68px,#78c 0 69px,#67c 0 70px,#68c 0 71px,#44a 0 72px,#349 0 74px,#56b 0 75px,#8ad 0 76px,#9ad 0 77px,#34a 0 78px,#67c 0 79px,#67b 0 80px,#99c 0 81px,#68c 0 82px,#89c 0 83px,#56b 0 84px,#34a 0 85px,#45b 0 86px,#34a 0 87px,#45a 0 88px,#56b 0 90px,#34a 0 91px,#46b 0 92px,#56b 0 93px,#46b 0 94px,#57c 0 95px,#78c 0 96px,#57b 0 97px,#8ad 0 98px,#78c 0 99px,#bbd 0 100px,#edc 0 101px,#dcc 0 102px,#ccd 0 103px,#dcc 0 104px,#d66 0 105px,#ea8 0 106px,#e98 0 107px,#aac 0 108px,#ccc 0 109px)"></i><i style="left:243px;width:2px;background:linear-gradient(#ccd 0 1px,#ddd 0 2px,#edd 0 5px,#ddd 0 6px,#dcd 0 7px,#bce 0 9px,#bcd 0 10px,#bce 0 11px,#abd 0 12px,#bce 0 13px,#bcd 0 14px,#dde 0 15px,#cde 0 16px,#cce 0 17px,#cde 0 18px,#ddd 0 19px,#ccd 0 21px,#9bd 0 22px,#cde 0 23px,#abd 0 24px,#9bd 0 25px,#89d 0 26px,#abd 0 29px,#bce 0 30px,#ccd 0 31px,#cce 0 32px,#bce 0 33px,#abd 0 35px,#cce 0 36px,#9ad 0 37px,#abd 0 38px,#bce 0 39px,#abd 0 41px,#bbd 0 42px,#cce 0 43px,#bce 0 44px,#cde 0 46px,#bcd 0 47px,#bce 0 48px,#ccd 0 49px,#dcc 0 50px,#ddd 0 51px,#edd 0 52px,#ecb 0 53px,#eba 0 54px,#edc 0 55px,#ddd 0 56px,#edc 0 57px,#eca 0 58px,#edd 0 59px,#ecb 0 61px,#eb9 0 62px,#ecb 0 63px,#edc 0 64px,#edd 0 65px,#ddd 0 66px,#edd 0 67px,#ecb 0 68px,#edc 0 69px,#eba 0 70px,#edc 0 71px,#ddd 0 73px,#cdd 0 74px,#ecb 0 75px,#eca 0 76px,#edc 0 77px,#cde 0 78px,#dde 0 79px,#edd 0 80px,#edc 0 81px,#edd 0 82px,#eca 0 83px,#ddd 0 84px,#dcd 0 85px,#edc 0 86px,#ddd 0 87px,#ccd 0 88px,#ddd 0 89px,#edc 0 90px,#ddd 0 92px,#edd 0 93px,#ddd 0 94px,#edd 0 95px,#ddd 0 96px,#edd 0 97px,#dde 0 98px,#edc 0 99px,#ecb 0 100px,#edc 0 103px,#ecb 0 104px,#ea9 0 105px,#ecb 0 107px,#dcc 0 108px,#edc 0 109px)"></i><i style="left:245px;width:3px;background:linear-gradient(#abd 0 1px,#bcd 0 2px,#ddd 0 3px,#dcc 0 4px,#ccd 0 5px,#bcd 0 6px,#8ad 0 7px,#79c 0 8px,#abd 0 9px,#78c 0 10px,#9ad 0 11px,#67c 0 12px,#56b 0 13px,#68c 0 14px,#bce 0 15px,#ddd 0 16px,#edd 0 17px,#dcc 0 18px,#bcd 0 19px,#78c 0 20px,#89c 0 21px,#57c 0 22px,#79c 0 23px,#9ad 0 25px,#56b 0 26px,#99c 0 27px,#9ad 0 28px,#67c 0 29px,#68c 0 30px,#8ad 0 31px,#78c 0 32px,#89d 0 33px,#56b 0 34px,#68c 0 36px,#67c 0 38px,#57c 0 40px,#67c 0 41px,#79c 0 42px,#78c 0 43px,#79c 0 44px,#edc 0 45px,#b9a 0 46px,#cdd 0 47px,#ccd 0 49px,#ecb 0 52px,#e98 0 53px,#d44 0 54px,#eb9 0 55px,#cce 0 56px,#cbc 0 57px,#eb9 0 58px,#ea8 0 59px,#ea9 0 60px,#e76 0 61px,#ea8 0 62px,#d87 0 63px,#ea9 0 64px,#ecb 0 65px,#ebb 0 66px,#ea9 0 67px,#e87 0 68px,#eba 0 69px,#ea9 0 70px,#ecb 0 71px,#9ad 0 72px,#abd 0 73px,#ccd 0 74px,#caa 0 75px,#ea9 0 76px,#ecb 0 77px,#ccd 0 78px,#ddd 0 79px,#e97 0 80px,#ea8 0 81px,#ecb 0 83px,#ccd 0 84px,#cbc 0 85px,#dcc 0 86px,#cbc 0 87px,#dbb 0 88px,#ecb 0 89px,#eba 0 90px,#cbb 0 91px,#ebb 0 92px,#ecc 0 93px,#ccd 0 94px,#ea9 0 95px,#ebb 0 96px,#ccd 0 97px,#ecc 0 98px,#dcc 0 99px,#ea8 0 100px,#ecb 0 101px,#ccd 0 102px,#ecb 0 104px,#d43 0 105px,#e86 0 106px,#ea9 0 107px,#e98 0 108px,#ea9 0 109px)"></i><i style="left:248px;width:2px;background:linear-gradient(#ecb 0 1px,#edc 0 3px,#ecc 0 4px,#edc 0 5px,#ecb 0 6px,#edc 0 7px,#ddd 0 9px,#ecb 0 10px,#edd 0 11px,#ecb 0 12px,#eba 0 13px,#edc 0 14px,#edb 0 15px,#edc 0 16px,#eb9 0 18px,#ecb 0 19px,#edc 0 20px,#dcc 0 21px,#ccd 0 22px,#ddd 0 23px,#ecb 0 24px,#ddd 0 26px,#ccd 0 27px,#bce 0 28px,#ccd 0 30px,#cde 0 31px,#abd 0 34px,#bbd 0 35px,#cce 0 36px,#9ad 0 37px,#ccd 0 39px,#89d 0 40px,#bbd 0 41px,#abd 0 42px,#bcd 0 43px,#abd 0 44px,#ddd 0 45px,#edd 0 46px,#cce 0 47px,#ccd 0 49px,#abd 0 50px,#ccd 0 51px,#edd 0 52px,#eba 0 54px,#edd 0 55px,#9ad 0 56px,#89d 0 57px,#ccd 0 58px,#cce 0 59px,#bcd 0 60px,#ccd 0 61px,#cce 0 62px,#abd 0 63px,#89d 0 64px,#79d 0 65px,#abd 0 66px,#cce 0 67px,#abd 0 68px,#bcd 0 69px,#dcd 0 70px,#edd 0 71px,#dcd 0 72px,#bcd 0 73px,#abd 0 74px,#dcd 0 75px,#cdd 0 76px,#bcd 0 77px,#78c 0 78px,#bce 0 79px,#dcc 0 80px,#edd 0 81px,#ddd 0 82px,#ccd 0 83px,#bcd 0 84px,#ccd 0 85px,#ddd 0 86px,#ecb 0 87px,#edc 0 88px,#ddc 0 89px,#ddd 0 90px,#ccd 0 91px,#ecb 0 92px,#dcc 0 93px,#ddd 0 95px,#dcd 0 96px,#ccd 0 97px,#ddd 0 98px,#edd 0 99px,#ecb 0 100px,#edb 0 101px,#ecb 0 102px,#eca 0 103px,#ecb 0 104px,#d75 0 105px,#eba 0 106px,#ea8 0 107px,#eba 0 108px,#e86 0 109px)"></i><i style="left:250px;width:3px;background:linear-gradient(#edc 0 1px,#e76 0 2px,#e97 0 3px,#eba 0 5px,#eb9 0 6px,#eba 0 7px,#dcc 0 8px,#e98 0 9px,#d76 0 10px,#ecc 0 11px,#cbb 0 12px,#eba 0 13px,#c44 0 14px,#ea8 0 15px,#ecb 0 16px,#d65 0 17px,#d44 0 18px,#dcc 0 19px,#78c 0 20px,#bbc 0 21px,#77b 0 22px,#79d 0 23px,#bab 0 24px,#bce 0 25px,#9ac 0 26px,#9ad 0 27px,#56b 0 28px,#89c 0 29px,#79c 0 30px,#9ad 0 31px,#89d 0 32px,#abd 0 33px,#67c 0 34px,#89c 0 35px,#9ad 0 36px,#66a 0 37px,#89d 0 38px,#9ad 0 39px,#78c 0 41px,#ccc 0 42px,#bbc 0 43px,#eba 0 44px,#dcb 0 45px,#cbc 0 46px,#bbc 0 47px,#dcc 0 49px,#bbc 0 50px,#68c 0 51px,#aac 0 52px,#cbc 0 53px,#e98 0 54px,#eba 0 55px,#9ac 0 56px,#9ad 0 57px,#9ac 0 58px,#cdd 0 59px,#aac 0 60px,#9ad 0 61px,#89d 0 62px,#78c 0 63px,#89c 0 64px,#bbd 0 65px,#ccc 0 66px,#ddd 0 67px,#cbb 0 68px,#ddd 0 69px,#ccd 0 71px,#9ad 0 72px,#aac 0 73px,#99c 0 74px,#abd 0 75px,#cbc 0 76px,#ccc 0 77px,#67b 0 78px,#ccd 0 79px,#eb9 0 80px,#ea9 0 81px,#ccc 0 82px,#9ad 0 83px,#abd 0 84px,#9ac 0 85px,#abd 0 86px,#dcc 0 87px,#ccc 0 88px,#daa 0 89px,#dcc 0 90px,#eaa 0 91px,#daa 0 92px,#ccd 0 93px,#d99 0 96px,#8ad 0 97px,#ecb 0 98px,#e76 0 99px,#ea9 0 100px,#dcc 0 101px,#bbd 0 102px,#dcc 0 103px,#ecb 0 104px,#c9a 0 105px,#eb9 0 106px,#ea8 0 107px,#ecb 0 108px,#daa 0 109px)"></i><i style="left:253px;width:2px;background:linear-gradient(#dcb 0 1px,#d98 0 2px,#e87 0 3px,#b34 0 4px,#c44 0 5px,#c34 0 6px,#eba 0 7px,#bab 0 8px,#ea8 0 9px,#d76 0 10px,#da9 0 11px,#cab 0 12px,#d76 0 13px,#b23 0 14px,#e76 0 15px,#ea9 0 16px,#d44 0 17px,#b23 0 18px,#ea9 0 19px,#ccd 0 20px,#baa 0 21px,#aac 0 22px,#ccd 0 23px,#cbc 0 24px,#edc 0 25px,#cab 0 26px,#d76 0 27px,#d66 0 28px,#eca 0 29px,#caa 0 30px,#eba 0 31px,#dcd 0 32px,#9ac 0 33px,#abc 0 34px,#cbc 0 35px,#9ad 0 36px,#66a 0 37px,#bbd 0 38px,#eba 0 39px,#abd 0 40px,#78c 0 41px,#aad 0 42px,#cab 0 43px,#da9 0 44px,#ecb 0 45px,#e97 0 46px,#da9 0 47px,#d87 0 48px,#d76 0 49px,#bbc 0 50px,#67c 0 51px,#bbd 0 52px,#dcc 0 53px,#bab 0 54px,#67b 0 55px,#45a 0 56px,#46b 0 57px,#bbd 0 58px,#79c 0 59px,#99c 0 60px,#78c 0 61px,#8ad 0 62px,#66b 0 63px,#45a 0 64px,#44a 0 65px,#9ad 0 66px,#ecc 0 67px,#ecb 0 68px,#abd 0 69px,#bac 0 70px,#ebb 0 71px,#abd 0 72px,#ccc 0 73px,#daa 0 74px,#ea9 0 75px,#eba 0 76px,#78c 0 77px,#45a 0 78px,#9ad 0 79px,#bac 0 80px,#caa 0 81px,#cbc 0 82px,#78c 0 84px,#67b 0 85px,#78c 0 86px,#dcc 0 87px,#d76 0 88px,#caa 0 89px,#bbc 0 90px,#ecb 0 92px,#daa 0 93px,#dcb 0 94px,#dba 0 95px,#baa 0 96px,#89c 0 97px,#dcc 0 98px,#e98 0 99px,#d87 0 100px,#d99 0 101px,#cab 0 102px,#d65 0 103px,#ea9 0 104px,#d66 0 105px,#e98 0 106px,#dbb 0 107px,#a89 0 108px,#cbc 0 109px)"></i><i style="left:255px;width:2px;background:linear-gradient(#dbb 0 2px,#e98 0 3px,#cbb 0 4px,#bbc 0 5px,#bbd 0 6px,#dcc 0 7px,#bab 0 8px,#e98 0 9px,#d88 0 10px,#dcb 0 11px,#bbc 0 12px,#dba 0 13px,#b13 0 14px,#d54 0 15px,#ea9 0 16px,#c33 0 17px,#b23 0 18px,#da9 0 19px,#9ad 0 20px,#67b 0 21px,#77b 0 22px,#9ac 0 23px,#abd 0 24px,#78b 0 25px,#88c 0 26px,#9ac 0 27px,#87a 0 28px,#a9b 0 29px,#cbb 0 30px,#ccc 0 31px,#9ac 0 32px,#abd 0 33px,#a8a 0 34px,#ccd 0 35px,#c89 0 36px,#bac 0 37px,#89c 0 38px,#9ac 0 39px,#87b 0 40px,#56b 0 41px,#67b 0 42px,#56b 0 43px,#67b 0 44px,#9ad 0 45px,#9ac 0 46px,#bbd 0 47px,#bab 0 48px,#cbc 0 49px,#46b 0 50px,#34a 0 51px,#45a 0 52px,#67c 0 53px,#45a 0 55px,#34a 0 56px,#349 0 58px,#34a 0 59px,#349 0 60px,#34a 0 61px,#349 0 62px,#34a 0 65px,#78c 0 66px,#abd 0 67px,#89c 0 68px,#57b 0 69px,#67b 0 70px,#9ad 0 72px,#78c 0 73px,#45a 0 74px,#78c 0 75px,#bbd 0 76px,#89d 0 77px,#56b 0 78px,#bcd 0 79px,#eba 0 80px,#d76 0 81px,#cab 0 82px,#46b 0 83px,#89c 0 84px,#99c 0 85px,#78c 0 86px,#cab 0 87px,#b9a 0 88px,#e98 0 89px,#cbb 0 90px,#9ad 0 91px,#ccd 0 92px,#a9a 0 93px,#bbd 0 94px,#bab 0 95px,#aab 0 96px,#68c 0 97px,#bbd 0 98px,#c9a 0 99px,#da9 0 100px,#ecb 0 101px,#aac 0 102px,#bab 0 103px,#dcb 0 104px,#b23 0 105px,#e97 0 106px,#dcc 0 107px,#ebb 0 108px,#d75 0 109px)"></i><i style="left:257px;width:3px;background:linear-gradient(#eba 0 1px,#ecb 0 2px,#eca 0 3px,#eb9 0 4px,#ea9 0 5px,#ecb 0 6px,#dcc 0 7px,#abd 0 8px,#ddd 0 9px,#dbb 0 10px,#abd 0 11px,#a9b 0 12px,#ea9 0 13px,#d55 0 14px,#eb9 0 15px,#eba 0 16px,#ea8 0 17px,#e97 0 18px,#dcc 0 19px,#ddd 0 20px,#abd 0 21px,#bcd 0 22px,#bbd 0 23px,#abd 0 24px,#bbd 0 25px,#dbb 0 26px,#e98 0 27px,#caa 0 28px,#daa 0 29px,#ecb 0 30px,#ebb 0 31px,#ecb 0 32px,#bcd 0 33px,#cbc 0 34px,#dcc 0 35px,#bbc 0 36px,#57b 0 37px,#9ad 0 38px,#dba 0 39px,#dbb 0 40px,#bcd 0 41px,#bbd 0 42px,#ccd 0 43px,#dcc 0 45px,#d65 0 46px,#ebb 0 47px,#ddd 0 48px,#9ad 0 49px,#89d 0 50px,#bbd 0 51px,#bab 0 52px,#ccd 0 53px,#e98 0 54px,#ccd 0 55px,#8ad 0 56px,#68c 0 57px,#bbd 0 58px,#9ad 0 59px,#abd 0 60px,#ecc 0 61px,#dcc 0 62px,#abd 0 63px,#78c 0 64px,#aad 0 65px,#edd 0 66px,#edc 0 67px,#ccd 0 68px,#9ad 0 69px,#cbc 0 70px,#eba 0 71px,#e98 0 72px,#dcd 0 73px,#abd 0 74px,#bcd 0 75px,#abd 0 76px,#9ad 0 77px,#45a 0 78px,#9ad 0 80px,#aad 0 81px,#89c 0 82px,#78c 0 83px,#99c 0 84px,#57b 0 85px,#9ac 0 86px,#bcd 0 87px,#dcd 0 88px,#ccd 0 89px,#bcd 0 90px,#cbc 0 91px,#aac 0 92px,#68c 0 93px,#bcd 0 94px,#bbc 0 95px,#abd 0 96px,#56b 0 97px,#bbd 0 98px,#ddd 0 99px,#eba 0 100px,#ccd 0 101px,#bbd 0 102px,#9ad 0 103px,#abd 0 104px,#89c 0 105px,#ccd 0 107px,#cbc 0 108px,#cbb 0 109px)"></i><i style="left:260px;width:2px;background:linear-gradient(#e98 0 3px,#eca 0 4px,#dcb 0 6px,#eb9 0 7px,#dcc 0 8px,#dcd 0 9px,#d99 0 10px,#abd 0 11px,#aac 0 12px,#ddc 0 13px,#d88 0 14px,#eb9 0 15px,#ecb 0 16px,#e76 0 17px,#e97 0 18px,#ea9 0 19px,#e65 0 20px,#e98 0 21px,#aac 0 22px,#bcd 0 23px,#ccc 0 24px,#bcd 0 25px,#dbb 0 26px,#d98 0 27px,#e87 0 28px,#ebb 0 29px,#dcb 0 30px,#ddd 0 31px,#dbb 0 32px,#ccd 0 33px,#bcd 0 34px,#dcb 0 35px,#9ad 0 36px,#68c 0 37px,#78c 0 38px,#bab 0 39px,#bbc 0 40px,#dcb 0 41px,#cbc 0 42px,#dcc 0 43px,#d77 0 44px,#e87 0 45px,#b13 0 46px,#d55 0 47px,#ecc 0 48px,#cbb 0 49px,#bcd 0 50px,#aac 0 51px,#caa 0 52px,#bbd 0 53px,#ebb 0 54px,#aac 0 55px,#45b 0 56px,#78c 0 57px,#89d 0 58px,#bbc 0 59px,#9ac 0 60px,#bbd 0 61px,#ccd 0 62px,#68c 0 63px,#8ad 0 64px,#bbd 0 65px,#eba 0 66px,#eb9 0 67px,#cbc 0 68px,#9ad 0 69px,#dbb 0 70px,#ea9 0 71px,#e98 0 72px,#dbb 0 73px,#ccd 0 74px,#cbb 0 75px,#bbd 0 76px,#9ad 0 77px,#56b 0 78px,#abd 0 79px,#dba 0 80px,#bcd 0 81px,#abc 0 82px,#78c 0 83px,#57c 0 84px,#56b 0 85px,#ccd 0 86px,#ecb 0 87px,#dbb 0 88px,#cbb 0 89px,#ecb 0 90px,#cbc 0 91px,#ccd 0 92px,#abd 0 93px,#ccc 0 94px,#d55 0 95px,#e97 0 96px,#ccc 0 97px,#da9 0 98px,#e87 0 99px,#d88 0 100px,#ccd 0 101px,#ea9 0 102px,#e65 0 103px,#ea9 0 104px,#d88 0 105px,#ddd 0 106px,#ccd 0 107px,#bbd 0 108px,#89c 0 109px)"></i><i style="left:262px;width:3px;background:linear-gradient(#dcd 0 1px,#abd 0 2px,#bce 0 4px,#dcc 0 5px,#edd 0 6px,#eba 0 7px,#dbb 0 8px,#ddd 0 9px,#daa 0 10px,#ccd 0 11px,#aac 0 12px,#daa 0 13px,#c66 0 14px,#eba 0 15px,#ddd 0 16px,#eca 0 17px,#eba 0 18px,#dcc 0 19px,#eb9 0 20px,#ccd 0 21px,#9ad 0 22px,#ccd 0 23px,#bbd 0 24px,#abd 0 25px,#ccd 0 26px,#da9 0 27px,#ea9 0 28px,#dcc 0 30px,#ccd 0 31px,#bbc 0 32px,#bcd 0 34px,#daa 0 35px,#ccd 0 36px,#abd 0 37px,#bcd 0 38px,#caa 0 39px,#ccd 0 40px,#bbd 0 41px,#78c 0 42px,#8ad 0 43px,#79c 0 44px,#dde 0 45px,#da9 0 46px,#ebb 0 47px,#abd 0 48px,#9ad 0 49px,#89d 0 50px,#78c 0 51px,#89d 0 52px,#9ac 0 53px,#bbd 0 54px,#89c 0 55px,#68c 0 56px,#45b 0 57px,#aac 0 58px,#ccd 0 59px,#edd 0 60px,#ddd 0 61px,#dcb 0 62px,#ccd 0 64px,#bbd 0 65px,#cbc 0 66px,#ecb 0 67px,#ddd 0 68px,#bcd 0 69px,#eca 0 70px,#ea8 0 71px,#e87 0 72px,#ecc 0 73px,#68c 0 74px,#abd 0 75px,#89d 0 76px,#56b 0 77px,#349 0 78px,#57b 0 79px,#99c 0 80px,#abd 0 81px,#67c 0 82px,#56b 0 83px,#68c 0 84px,#99c 0 85px,#bcd 0 86px,#cbc 0 87px,#abd 0 88px,#9ad 0 89px,#bcd 0 90px,#cbc 0 91px,#89d 0 92px,#68c 0 93px,#89d 0 94px,#dcc 0 95px,#cab 0 96px,#abd 0 97px,#bcd 0 98px,#edc 0 99px,#cdd 0 100px,#8ad 0 101px,#78c 0 102px,#89c 0 103px,#ccd 0 104px,#79c 0 105px,#bbd 0 106px,#abd 0 107px,#89c 0 108px,#78c 0 109px)"></i><i style="left:265px;width:2px;background:linear-gradient(#ecb 0 2px,#ddd 0 3px,#ecc 0 4px,#eba 0 5px,#edc 0 7px,#ecb 0 9px,#eb9 0 10px,#dcc 0 11px,#cde 0 12px,#dcc 0 13px,#eba 0 14px,#ecb 0 15px,#edd 0 17px,#ddd 0 19px,#edc 0 20px,#dde 0 21px,#cce 0 23px,#ccd 0 24px,#abd 0 25px,#bcd 0 26px,#ecb 0 27px,#eb9 0 28px,#edd 0 29px,#ddd 0 31px,#bcd 0 32px,#ccd 0 33px,#cce 0 34px,#ddd 0 35px,#cde 0 36px,#ddd 0 37px,#cdd 0 38px,#dcc 0 39px,#ecb 0 40px,#edd 0 41px,#dcd 0 42px,#ddd 0 44px,#edc 0 45px,#ea9 0 46px,#edc 0 47px,#cce 0 48px,#abd 0 49px,#ccd 0 50px,#9ad 0 51px,#bcd 0 52px,#cce 0 53px,#bcd 0 54px,#ccd 0 55px,#9ad 0 57px,#abd 0 58px,#ddd 0 62px,#dcd 0 63px,#bbc 0 64px,#cce 0 65px,#edd 0 66px,#ddd 0 67px,#bcd 0 68px,#abd 0 69px,#ccd 0 70px,#edd 0 71px,#ecc 0 72px,#ddd 0 73px,#bbd 0 74px,#ccd 0 75px,#cde 0 76px,#ddd 0 77px,#ccd 0 78px,#ddd 0 79px,#ecc 0 80px,#ecb 0 81px,#ccd 0 82px,#abd 0 83px,#bce 0 84px,#abd 0 85px,#edc 0 87px,#ecb 0 88px,#eca 0 90px,#ea9 0 91px,#ecc 0 92px,#bcd 0 93px,#dcd 0 94px,#ecb 0 95px,#eba 0 96px,#ddd 0 97px,#edc 0 98px,#eba 0 99px,#ecc 0 100px,#edc 0 101px,#edd 0 102px,#ecb 0 103px,#edc 0 104px,#dbc 0 105px,#edd 0 106px,#ddd 0 107px,#ccd 0 108px,#bcd 0 109px)"></i><i style="left:267px;width:3px;background:linear-gradient(#ddd 0 1px,#ecb 0 2px,#edc 0 3px,#ea9 0 4px,#e86 0 5px,#e65 0 6px,#e98 0 7px,#ecb 0 8px,#e97 0 9px,#d65 0 10px,#dcc 0 11px,#eba 0 12px,#e86 0 13px,#d44 0 14px,#e86 0 16px,#d54 0 17px,#e87 0 18px,#ea8 0 19px,#d55 0 20px,#d54 0 21px,#e87 0 22px,#e86 0 23px,#d65 0 24px,#eca 0 25px,#d54 0 26px,#c33 0 27px,#a12 0 28px,#c34 0 29px,#e76 0 30px,#e97 0 31px,#d54 0 32px,#eba 0 33px,#d98 0 34px,#d65 0 35px,#e98 0 36px,#eba 0 37px,#edc 0 38px,#e97 0 39px,#ea8 0 40px,#ea9 0 41px,#dcc 0 42px,#cde 0 43px,#dcc 0 44px,#ea9 0 45px,#e87 0 46px,#eba 0 47px,#bbd 0 48px,#9bd 0 49px,#bcd 0 50px,#aad 0 51px,#abd 0 52px,#ccd 0 53px,#bbd 0 54px,#cdd 0 55px,#78c 0 56px,#9ad 0 57px,#79c 0 58px,#dcd 0 59px,#bbd 0 60px,#abd 0 61px,#ddd 0 62px,#78c 0 63px,#57c 0 64px,#8ad 0 65px,#bcd 0 67px,#89c 0 68px,#78c 0 69px,#89d 0 70px,#dcc 0 71px,#ddd 0 72px,#9ad 0 73px,#abd 0 74px,#bbd 0 75px,#abd 0 76px,#68c 0 77px,#34a 0 78px,#78c 0 79px,#89d 0 80px,#abd 0 81px,#89d 0 82px,#56b 0 83px,#abd 0 84px,#68c 0 85px,#89d 0 86px,#ccd 0 87px,#bcd 0 88px,#89c 0 89px,#8ad 0 90px,#ccd 0 92px,#78c 0 93px,#89d 0 94px,#9ad 0 95px,#78c 0 96px,#89d 0 97px,#bbd 0 98px,#ccd 0 99px,#dbb 0 100px,#dcc 0 101px,#edd 0 102px,#dbb 0 103px,#dcd 0 104px,#9ad 0 105px,#abd 0 107px,#89d 0 108px,#78c 0 109px)"></i><i style="left:270px;width:2px;background:linear-gradient(#eba 0 1px,#d99 0 2px,#eba 0 3px,#e97 0 4px,#d65 0 5px,#e76 0 6px,#ecb 0 8px,#d98 0 9px,#d65 0 10px,#ebb 0 11px,#eba 0 12px,#d55 0 13px,#c44 0 14px,#e75 0 15px,#e98 0 16px,#d65 0 17px,#e76 0 18px,#ecb 0 19px,#dbb 0 20px,#ebb 0 21px,#d66 0 22px,#d76 0 23px,#d65 0 24px,#ea9 0 25px,#e97 0 26px,#d65 0 27px,#a12 0 28px,#d76 0 29px,#e98 0 30px,#ecb 0 31px,#ea9 0 32px,#edd 0 33px,#e98 0 34px,#c33 0 35px,#e87 0 36px,#eba 0 37px,#ea8 0 38px,#e76 0 39px,#d54 0 40px,#e98 0 41px,#eca 0 42px,#abd 0 43px,#cbc 0 44px,#dbb 0 45px,#e76 0 46px,#ddd 0 47px,#89d 0 48px,#abd 0 49px,#dcd 0 50px,#9ad 0 51px,#cbb 0 52px,#ecb 0 53px,#e87 0 54px,#e98 0 55px,#ecb 0 56px,#bbc 0 57px,#ddd 0 58px,#cbc 0 59px,#ecb 0 60px,#bbc 0 61px,#abd 0 62px,#bab 0 63px,#bbd 0 64px,#ccd 0 66px,#ddd 0 67px,#ccd 0 68px,#89d 0 69px,#dcc 0 70px,#e98 0 71px,#ea8 0 72px,#dcc 0 73px,#cbc 0 75px,#8ad 0 76px,#67c 0 77px,#56b 0 78px,#78c 0 79px,#67c 0 80px,#9ad 0 81px,#abd 0 82px,#ccd 0 83px,#9bd 0 84px,#89c 0 85px,#9bd 0 86px,#9ad 0 87px,#aad 0 88px,#68c 0 89px,#89d 0 90px,#abd 0 91px,#9ad 0 92px,#78c 0 93px,#abd 0 94px,#e97 0 95px,#ea9 0 96px,#bbd 0 97px,#bcd 0 98px,#c9a 0 99px,#da9 0 100px,#edd 0 101px,#cbc 0 103px,#cce 0 104px,#9ad 0 105px,#bbd 0 106px,#ccd 0 107px,#dcc 0 108px,#abd 0 109px)"></i><i style="left:272px;width:3px;background:linear-gradient(#bcd 0 1px,#dcc 0 2px,#cde 0 3px,#dbb 0 4px,#ecb 0 5px,#eba 0 6px,#ecc 0 7px,#d99 0 8px,#ea9 0 9px,#eba 0 10px,#ccc 0 11px,#bab 0 12px,#eba 0 13px,#d66 0 14px,#ea9 0 15px,#e98 0 16px,#e97 0 17px,#ecb 0 18px,#ccd 0 19px,#dcc 0 20px,#ea8 0 21px,#eba 0 22px,#eb9 0 23px,#d98 0 24px,#ddd 0 25px,#eb9 0 26px,#d66 0 27px,#d75 0 28px,#ea8 0 29px,#dcc 0 30px,#cbc 0 31px,#ccd 0 32px,#abd 0 33px,#dcb 0 34px,#ea9 0 35px,#e87 0 36px,#daa 0 37px,#eba 0 38px,#d98 0 39px,#d87 0 40px,#e87 0 41px,#eba 0 42px,#bbd 0 43px,#78c 0 44px,#abd 0 45px,#ecb 0 46px,#cbc 0 47px,#67c 0 48px,#68c 0 49px,#89c 0 50px,#45a 0 51px,#78c 0 52px,#bbd 0 53px,#78c 0 54px,#bcd 0 55px,#56b 0 56px,#45b 0 57px,#56b 0 58px,#bcd 0 59px,#abd 0 60px,#56b 0 61px,#45b 0 62px,#45a 0 64px,#45b 0 65px,#56b 0 66px,#46b 0 67px,#349 0 68px,#34a 0 69px,#45a 0 70px,#cdd 0 71px,#dcd 0 72px,#9ad 0 73px,#67b 0 74px,#79d 0 75px,#57c 0 76px,#68c 0 77px,#34a 0 78px,#56b 0 80px,#89d 0 82px,#89c 0 83px,#68c 0 84px,#34a 0 85px,#46b 0 86px,#88b 0 87px,#89c 0 88px,#45a 0 89px,#89d 0 90px,#89c 0 91px,#89d 0 92px,#45b 0 93px,#abd 0 94px,#dcc 0 95px,#daa 0 96px,#aab 0 97px,#cbc 0 98px,#bbc 0 99px,#ccd 0 100px,#9ad 0 102px,#bbc 0 103px,#ccd 0 104px,#45b 0 105px,#78c 0 106px,#8ad 0 107px,#abd 0 108px,#bcd 0 109px)"></i><i style="left:275px;width:2px;background:linear-gradient(#abd 0 1px,#bbc 0 2px,#dcc 0 3px,#eba 0 4px,#e87 0 5px,#e97 0 6px,#ebb 0 7px,#e87 0 8px,#ea9 0 9px,#eba 0 10px,#dcd 0 11px,#cac 0 12px,#c78 0 13px,#b13 0 14px,#e75 0 15px,#e65 0 16px,#c44 0 17px,#e86 0 18px,#eba 0 19px,#e87 0 20px,#d99 0 21px,#e76 0 22px,#d54 0 23px,#c44 0 24px,#e98 0 25px,#c44 0 26px,#a12 0 28px,#b13 0 29px,#c44 0 30px,#c23 0 31px,#c44 0 32px,#e98 0 33px,#c77 0 34px,#d55 0 35px,#e76 0 36px,#d66 0 37px,#d99 0 38px,#e87 0 39px,#d44 0 40px,#d76 0 41px,#d66 0 42px,#9ad 0 43px,#8ad 0 44px,#dba 0 45px,#b78 0 46px,#baa 0 47px,#aad 0 48px,#dcb 0 49px,#aac 0 50px,#67b 0 51px,#67c 0 52px,#78c 0 53px,#89c 0 54px,#78c 0 55px,#67c 0 56px,#67b 0 57px,#57b 0 58px,#67c 0 59px,#68c 0 60px,#57b 0 61px,#34a 0 62px,#349 0 64px,#34a 0 65px,#56b 0 66px,#78c 0 67px,#349 0 68px,#34a 0 69px,#45b 0 70px,#cbc 0 71px,#9ac 0 72px,#89c 0 73px,#46b 0 74px,#56b 0 75px,#34a 0 77px,#349 0 78px,#34a 0 79px,#56b 0 80px,#89d 0 81px,#56b 0 82px,#67b 0 83px,#56b 0 84px,#34a 0 87px,#45a 0 88px,#34a 0 89px,#99c 0 90px,#9ad 0 91px,#bbd 0 92px,#57c 0 93px,#56b 0 94px,#bab 0 95px,#ccd 0 96px,#45b 0 97px,#9ad 0 98px,#abd 0 99px,#bbc 0 100px,#9bd 0 101px,#8ad 0 102px,#cbc 0 103px,#abd 0 104px,#34a 0 105px,#9ad 0 106px,#67c 0 107px,#79c 0 108px,#9ad 0 109px)"></i><i style="left:277px;width:3px;background:linear-gradient(#ecb 0 1px,#bbc 0 2px,#bbd 0 3px,#dcc 0 4px,#e97 0 5px,#eb9 0 6px,#dcb 0 7px,#ea9 0 9px,#dcc 0 10px,#ecb 0 11px,#bbc 0 12px,#eb9 0 13px,#d76 0 14px,#eb9 0 15px,#ea8 0 16px,#e97 0 17px,#eb9 0 18px,#ddd 0 19px,#eca 0 20px,#ea9 0 21px,#daa 0 22px,#e97 0 23px,#e98 0 24px,#eba 0 25px,#dbb 0 26px,#d54 0 27px,#d55 0 28px,#ea8 0 29px,#edc 0 30px,#ecc 0 31px,#dcc 0 32px,#ccd 0 33px,#cbb 0 34px,#ddd 0 35px,#dbb 0 36px,#abd 0 37px,#bbd 0 39px,#dcc 0 40px,#dcd 0 41px,#99c 0 42px,#78c 0 43px,#45a 0 44px,#9ad 0 45px,#daa 0 46px,#89d 0 47px,#57b 0 48px,#9ad 0 50px,#45b 0 51px,#56b 0 52px,#68c 0 53px,#34a 0 54px,#45b 0 55px,#34a 0 56px,#45a 0 57px,#45b 0 58px,#89d 0 59px,#56b 0 60px,#68c 0 61px,#56b 0 62px,#45b 0 64px,#45a 0 66px,#56b 0 67px,#349 0 68px,#46b 0 70px,#ddd 0 71px,#abd 0 72px,#56b 0 73px,#34a 0 74px,#56b 0 75px,#45b 0 76px,#45a 0 77px,#349 0 78px,#56b 0 80px,#78c 0 81px,#99c 0 82px,#aac 0 83px,#ccd 0 84px,#79c 0 85px,#89d 0 86px,#78c 0 87px,#56b 0 88px,#45a 0 89px,#9ad 0 90px,#abd 0 91px,#aad 0 92px,#45b 0 93px,#46b 0 94px,#abd 0 95px,#aad 0 96px,#67c 0 97px,#78c 0 98px,#9ac 0 99px,#89d 0 100px,#bbd 0 101px,#ccd 0 102px,#88c 0 103px,#bcd 0 104px,#89c 0 105px,#ccd 0 106px,#bbd 0 107px,#9ac 0 108px,#9ad 0 109px)"></i><i style="left:280px;width:2px;background:linear-gradient(#c33 0 1px,#c44 0 2px,#d44 0 3px,#b23 0 4px,#b13 0 5px,#b23 0 6px,#c44 0 7px,#b23 0 8px,#d55 0 9px,#c44 0 10px,#d76 0 11px,#c44 0 12px,#d54 0 13px,#a12 0 14px,#c44 0 15px,#d54 0 16px,#c44 0 17px,#c33 0 18px,#d55 0 19px,#d65 0 20px,#d87 0 21px,#bab 0 22px,#dbb 0 23px,#aac 0 24px,#9ad 0 25px,#dbb 0 26px,#d87 0 27px,#e76 0 28px,#d88 0 29px,#ebb 0 30px,#ccc 0 31px,#dbb 0 32px,#ebb 0 33px,#da9 0 34px,#ea9 0 35px,#aad 0 36px,#45a 0 37px,#57b 0 38px,#abd 0 39px,#88c 0 40px,#89c 0 42px,#56b 0 43px,#34a 0 44px,#78c 0 45px,#aad 0 46px,#56b 0 47px,#45a 0 48px,#68c 0 49px,#9ad 0 50px,#34a 0 54px,#56b 0 55px,#34a 0 57px,#45b 0 58px,#78c 0 59px,#45a 0 60px,#56b 0 61px,#45a 0 62px,#34a 0 64px,#349 0 65px,#45a 0 66px,#34a 0 67px,#349 0 69px,#57b 0 70px,#bbd 0 71px,#9ad 0 72px,#79c 0 73px,#56b 0 74px,#cbc 0 75px,#78b 0 76px,#34a 0 77px,#349 0 78px,#56b 0 79px,#9ad 0 80px,#abd 0 81px,#89d 0 82px,#abd 0 83px,#bcd 0 84px,#67c 0 85px,#9ad 0 87px,#89c 0 88px,#55a 0 89px,#79c 0 90px,#9ac 0 91px,#ddd 0 92px,#89c 0 93px,#9ad 0 94px,#bab 0 95px,#bac 0 96px,#9ad 0 97px,#ccd 0 99px,#eb9 0 100px,#eba 0 101px,#ecb 0 102px,#c55 0 103px,#ddd 0 104px,#bbc 0 105px,#ecb 0 106px,#dbb 0 107px,#a9b 0 108px,#67c 0 109px)"></i><i style="left:282px;width:3px;background:linear-gradient(#e98 0 1px,#e86 0 2px,#e97 0 4px,#e86 0 5px,#e97 0 6px,#ea8 0 7px,#e97 0 8px,#ea8 0 9px,#eb9 0 10px,#ecb 0 11px,#edc 0 12px,#eb9 0 14px,#ecb 0 15px,#eca 0 16px,#ea8 0 17px,#eba 0 18px,#edc 0 20px,#ecb 0 21px,#ddd 0 25px,#edc 0 26px,#ecb 0 27px,#ecc 0 28px,#eca 0 29px,#edd 0 30px,#dcc 0 31px,#edc 0 32px,#ecb 0 33px,#ddd 0 34px,#bcd 0 35px,#ddd 0 36px,#abd 0 37px,#bbd 0 38px,#cdd 0 39px,#dde 0 40px,#ddd 0 42px,#bcd 0 43px,#9ad 0 44px,#ccd 0 45px,#bcd 0 46px,#8ad 0 47px,#89d 0 49px,#9bd 0 50px,#78c 0 51px,#46b 0 52px,#57c 0 53px,#45a 0 54px,#56b 0 55px,#45a 0 56px,#46b 0 57px,#57c 0 58px,#78c 0 59px,#46b 0 60px,#68c 0 62px,#57c 0 63px,#46b 0 64px,#57c 0 65px,#67c 0 66px,#78c 0 67px,#34a 0 68px,#57b 0 69px,#68c 0 70px,#9ad 0 71px,#78c 0 75px,#68c 0 76px,#79d 0 77px,#56b 0 78px,#9bd 0 79px,#9ad 0 80px,#9bd 0 81px,#abd 0 82px,#9ad 0 84px,#57c 0 85px,#79d 0 86px,#67c 0 87px,#57c 0 88px,#67c 0 89px,#9ad 0 90px,#abd 0 92px,#9ad 0 93px,#abd 0 94px,#bcd 0 96px,#8ad 0 97px,#abd 0 98px,#bce 0 99px,#cce 0 100px,#ddd 0 101px,#ccd 0 102px,#abd 0 103px,#bcd 0 104px,#8ad 0 105px,#cce 0 106px,#bcd 0 107px,#8ad 0 108px,#abd 0 109px)"></i><i style="left:285px;width:2px;background:linear-gradient(#9bd 0 1px,#89d 0 2px,#abd 0 3px,#89c 0 4px,#bbd 0 5px,#eba 0 6px,#dcd 0 7px,#aab 0 8px,#ddd 0 9px,#abd 0 10px,#bcd 0 11px,#9ad 0 12px,#bbd 0 13px,#d99 0 14px,#edc 0 15px,#ddc 0 16px,#ea8 0 17px,#eba 0 18px,#ddd 0 19px,#dcc 0 20px,#dbb 0 21px,#89c 0 22px,#abd 0 23px,#78c 0 24px,#8ad 0 25px,#99c 0 26px,#dbb 0 27px,#c99 0 28px,#ddd 0 29px,#bbd 0 30px,#abd 0 31px,#dcb 0 32px,#ecc 0 33px,#bbd 0 34px,#9ad 0 36px,#45b 0 37px,#67c 0 38px,#aad 0 39px,#bab 0 40px,#bcd 0 41px,#8ad 0 42px,#57b 0 43px,#78c 0 44px,#9ad 0 45px,#baa 0 46px,#aad 0 47px,#45b 0 48px,#67b 0 49px,#67c 0 50px,#56b 0 51px,#45b 0 52px,#78c 0 53px,#56b 0 54px,#9ad 0 55px,#9ac 0 56px,#ebb 0 57px,#ddd 0 58px,#bcd 0 59px,#67c 0 60px,#9bd 0 61px,#89d 0 62px,#dbb 0 63px,#cbc 0 64px,#aad 0 65px,#abd 0 67px,#67c 0 68px,#9ad 0 69px,#dcd 0 70px,#ccc 0 71px,#bbc 0 72px,#ccd 0 73px,#cbb 0 74px,#dba 0 75px,#dbb 0 76px,#dcc 0 77px,#aac 0 78px,#edd 0 79px,#c33 0 80px,#ea8 0 81px,#eba 0 82px,#d77 0 83px,#e98 0 84px,#e76 0 85px,#dbb 0 86px,#e87 0 87px,#ccd 0 88px,#a9b 0 89px,#d65 0 90px,#e87 0 91px,#e76 0 92px,#e98 0 93px,#ea9 0 94px,#d77 0 95px,#c34 0 96px,#ea9 0 97px,#e98 0 98px,#d76 0 99px,#d55 0 100px,#e76 0 101px,#ea9 0 102px,#d98 0 103px,#ecb 0 104px,#eba 0 105px,#e98 0 106px,#e97 0 107px,#d87 0 108px,#bcd 0 109px)"></i><i style="left:287px;width:3px;background:linear-gradient(#abd 0 1px,#bbd 0 2px,#cbc 0 3px,#abd 0 4px,#dcc 0 6px,#bab 0 7px,#ccd 0 8px,#abd 0 9px,#78c 0 10px,#9ad 0 11px,#56b 0 12px,#89d 0 13px,#ccd 0 14px,#edc 0 16px,#ddd 0 17px,#abd 0 18px,#bbd 0 19px,#abd 0 20px,#9ad 0 21px,#79d 0 22px,#ccd 0 23px,#9ad 0 24px,#abd 0 25px,#cbb 0 26px,#ecb 0 27px,#d98 0 28px,#89d 0 29px,#bcd 0 30px,#78c 0 31px,#abd 0 32px,#cce 0 33px,#9ad 0 34px,#ccd 0 35px,#bcd 0 36px,#89c 0 37px,#89d 0 38px,#bbd 0 39px,#abd 0 40px,#9ad 0 41px,#bbd 0 42px,#abd 0 43px,#8ad 0 44px,#9ac 0 45px,#bbd 0 46px,#9ad 0 47px,#46b 0 48px,#79d 0 49px,#89d 0 50px,#78c 0 51px,#56b 0 52px,#78c 0 53px,#77a 0 54px,#79d 0 55px,#56b 0 56px,#78c 0 57px,#abd 0 59px,#56b 0 61px,#78c 0 62px,#89d 0 63px,#bbd 0 64px,#ccd 0 65px,#edc 0 66px,#cce 0 67px,#78c 0 68px,#bcd 0 69px,#da9 0 70px,#ea8 0 71px,#dcb 0 72px,#ddd 0 73px,#abd 0 74px,#dcd 0 75px,#bbd 0 76px,#aac 0 77px,#abd 0 78px,#ddd 0 79px,#eba 0 80px,#ea9 0 81px,#bbd 0 82px,#bbb 0 83px,#eba 0 84px,#ccd 0 87px,#89d 0 88px,#dbb 0 89px,#cbc 0 90px,#d98 0 91px,#dcc 0 92px,#dcb 0 93px,#ccd 0 94px,#ea8 0 95px,#e98 0 96px,#9ad 0 97px,#cce 0 98px,#eb9 0 99px,#eba 0 100px,#ccd 0 101px,#abd 0 102px,#ccd 0 103px,#dcd 0 104px,#daa 0 105px,#edd 0 106px,#bbd 0 107px,#88b 0 108px,#79d 0 109px)"></i><i style="left:290px;width:2px;background:linear-gradient(#89c 0 1px,#56b 0 2px,#9ac 0 3px,#cab 0 4px,#c77 0 5px,#d98 0 6px,#b78 0 7px,#99b 0 8px,#abd 0 9px,#d88 0 10px,#abd 0 11px,#34a 0 12px,#66a 0 13px,#89c 0 14px,#edc 0 15px,#eb9 0 16px,#dcc 0 17px,#dbb 0 19px,#e98 0 20px,#caa 0 21px,#bbd 0 22px,#dcc 0 23px,#aab 0 24px,#cab 0 25px,#98a 0 26px,#dbb 0 27px,#c88 0 28px,#caa 0 29px,#89d 0 30px,#aac 0 31px,#dbb 0 33px,#b99 0 34px,#caa 0 35px,#8ad 0 36px,#34a 0 37px,#46b 0 38px,#56b 0 40px,#88b 0 41px,#9ad 0 42px,#56b 0 43px,#45a 0 44px,#cab 0 45px,#e76 0 46px,#45b 0 48px,#77b 0 49px,#bab 0 50px,#9ad 0 51px,#daa 0 52px,#d99 0 53px,#abd 0 54px,#c98 0 55px,#eba 0 56px,#c88 0 57px,#d66 0 58px,#cbc 0 59px,#aac 0 60px,#bbd 0 61px,#bab 0 62px,#d76 0 63px,#b56 0 64px,#caa 0 65px,#d76 0 66px,#e76 0 67px,#d98 0 68px,#daa 0 69px,#e98 0 70px,#d55 0 71px,#d54 0 72px,#d66 0 73px,#d76 0 74px,#c33 0 75px,#d87 0 76px,#dcc 0 77px,#56b 0 78px,#bcd 0 79px,#bbc 0 80px,#d98 0 81px,#abd 0 82px,#bab 0 83px,#78c 0 84px,#45b 0 85px,#78c 0 86px,#cab 0 87px,#88b 0 88px,#66a 0 89px,#ecc 0 90px,#b9a 0 91px,#d76 0 92px,#ccd 0 93px,#79c 0 94px,#99b 0 95px,#56b 0 96px,#45a 0 97px,#67c 0 98px,#bab 0 99px,#89c 0 100px,#78c 0 101px,#89c 0 102px,#aac 0 103px,#bbc 0 104px,#88b 0 105px,#aac 0 106px,#bbd 0 107px,#ea9 0 108px,#bbc 0 109px)"></i><i style="left:292px;width:3px;background:linear-gradient(#ea8 0 1px,#eb9 0 2px,#ecb 0 3px,#ccd 0 4px,#ecb 0 5px,#edc 0 6px,#abd 0 7px,#79d 0 8px,#aad 0 9px,#dbc 0 10px,#eba 0 11px,#bbd 0 12px,#ddd 0 13px,#eba 0 14px,#ecb 0 15px,#ecc 0 18px,#ccd 0 19px,#8ad 0 20px,#aad 0 21px,#ccc 0 22px,#ecb 0 23px,#ea9 0 24px,#ddd 0 25px,#68c 0 26px,#ddd 0 27px,#dcc 0 28px,#ccd 0 29px,#89d 0 30px,#abd 0 32px,#ccd 0 34px,#ecc 0 35px,#ccd 0 36px,#89d 0 37px,#abd 0 38px,#57c 0 39px,#56b 0 40px,#9ad 0 43px,#ccd 0 44px,#eba 0 45px,#e97 0 46px,#daa 0 47px,#9ad 0 48px,#ccd 0 50px,#edd 0 51px,#bcd 0 53px,#9ad 0 54px,#abd 0 55px,#dbb 0 56px,#eba 0 57px,#ecb 0 58px,#bcd 0 59px,#abd 0 60px,#9ad 0 61px,#bcd 0 62px,#edc 0 63px,#e97 0 64px,#ecb 0 66px,#eb9 0 67px,#eba 0 68px,#ecb 0 69px,#eba 0 70px,#ebb 0 71px,#d76 0 72px,#eba 0 73px,#ea8 0 74px,#eba 0 76px,#ea9 0 77px,#e87 0 78px,#ecb 0 79px,#eba 0 80px,#ecb 0 83px,#ddd 0 84px,#dcc 0 85px,#e97 0 86px,#d76 0 87px,#ea9 0 88px,#dbb 0 89px,#edc 0 90px,#ea8 0 91px,#e87 0 92px,#daa 0 93px,#ddd 0 94px,#e98 0 95px,#dcc 0 96px,#abd 0 98px,#ecb 0 99px,#eba 0 100px,#ecb 0 101px,#abd 0 102px,#bbd 0 103px,#ecb 0 104px,#eba 0 106px,#ecb 0 107px,#dcc 0 108px,#e98 0 109px)"></i><i style="left:295px;width:2px;background:linear-gradient(#bab 0 1px,#e87 0 2px,#e98 0 3px,#c88 0 4px,#e97 0 5px,#e87 0 6px,#dbb 0 7px,#bbd 0 8px,#ddd 0 9px,#e98 0 10px,#ecb 0 11px,#89c 0 12px,#cbc 0 14px,#ccc 0 15px,#eba 0 16px,#d88 0 17px,#ccd 0 18px,#89d 0 19px,#78c 0 20px,#89d 0 21px,#68c 0 22px,#dcc 0 23px,#9ad 0 24px,#8ad 0 25px,#98b 0 26px,#89c 0 27px,#b89 0 28px,#89c 0 29px,#aad 0 30px,#bbd 0 31px,#a9b 0 32px,#79c 0 33px,#78c 0 34px,#ea9 0 35px,#bbc 0 36px,#45a 0 37px,#78c 0 38px,#45a 0 39px,#34a 0 40px,#67c 0 41px,#79c 0 43px,#99c 0 44px,#bac 0 45px,#869 0 46px,#87b 0 47px,#46b 0 48px,#349 0 49px,#34a 0 50px,#45b 0 51px,#89c 0 52px,#57c 0 53px,#78b 0 54px,#89c 0 55px,#b9b 0 56px,#88b 0 57px,#d99 0 58px,#ebb 0 59px,#c99 0 60px,#78c 0 61px,#99c 0 62px,#c66 0 63px,#b45 0 64px,#d87 0 65px,#e87 0 66px,#e76 0 67px,#ea8 0 68px,#eb9 0 69px,#c66 0 70px,#c44 0 72px,#c67 0 73px,#d99 0 74px,#d76 0 76px,#ccc 0 77px,#cbb 0 78px,#dcc 0 79px,#c99 0 80px,#e97 0 81px,#e86 0 82px,#d99 0 83px,#eba 0 84px,#b78 0 85px,#ecb 0 86px,#e98 0 87px,#d66 0 88px,#d65 0 89px,#e98 0 90px,#d54 0 91px,#e87 0 92px,#dba 0 93px,#aac 0 94px,#daa 0 96px,#57b 0 97px,#89c 0 98px,#dbb 0 99px,#ccc 0 100px,#9ad 0 101px,#aad 0 102px,#78c 0 103px,#bcd 0 104px,#67b 0 105px,#9ad 0 106px,#89c 0 107px,#68c 0 108px,#9ad 0 109px)"></i><i style="left:297px;width:3px;background:linear-gradient(#dcc 0 1px,#ecb 0 2px,#eba 0 3px,#dcc 0 4px,#ccd 0 5px,#bbc 0 7px,#8ad 0 8px,#9ad 0 9px,#caa 0 10px,#ecc 0 11px,#ccc 0 12px,#dcd 0 13px,#ccd 0 15px,#edc 0 16px,#eba 0 17px,#ccd 0 18px,#abd 0 19px,#68c 0 20px,#89c 0 21px,#bbc 0 22px,#ddd 0 23px,#78c 0 24px,#bbd 0 25px,#aac 0 26px,#ecb 0 27px,#daa 0 28px,#ccc 0 29px,#cdd 0 30px,#ddd 0 31px,#eba 0 32px,#dcc 0 34px,#dbb 0 35px,#ebb 0 36px,#dcc 0 38px,#aad 0 39px,#89d 0 40px,#bbd 0 41px,#abc 0 42px,#dcc 0 43px,#caa 0 44px,#dbb 0 45px,#d65 0 46px,#cbb 0 47px,#abd 0 48px,#bbd 0 49px,#bbc 0 50px,#89c 0 51px,#bcd 0 52px,#ccd 0 53px,#cbb 0 54px,#bbd 0 55px,#bcd 0 56px,#edd 0 57px,#eca 0 58px,#ecb 0 59px,#ccd 0 60px,#cce 0 61px,#cbc 0 62px,#eca 0 63px,#dba 0 64px,#da9 0 65px,#d65 0 67px,#d76 0 68px,#eba 0 69px,#d65 0 70px,#ecc 0 71px,#ea9 0 72px,#dcc 0 73px,#ccd 0 74px,#dcc 0 75px,#eba 0 76px,#dcb 0 77px,#a9a 0 78px,#cdd 0 79px,#dcc 0 80px,#cbc 0 81px,#edc 0 82px,#dcd 0 83px,#ddd 0 84px,#cbc 0 85px,#ecc 0 86px,#dbb 0 87px,#bcd 0 88px,#bbc 0 89px,#cbc 0 90px,#aab 0 91px,#ccd 0 92px,#ecc 0 93px,#9ad 0 94px,#abd 0 95px,#bab 0 96px,#67c 0 97px,#78c 0 98px,#abd 0 99px,#bcd 0 100px,#9ad 0 101px,#78c 0 102px,#67c 0 103px,#9ad 0 104px,#68c 0 105px,#abd 0 106px,#78c 0 108px,#ccd 0 109px)"></i><i style="left:300px;width:2px;background:linear-gradient(#ccd 0 1px,#ea9 0 2px,#e98 0 3px,#d66 0 4px,#dcc 0 5px,#ecb 0 6px,#c66 0 7px,#eba 0 8px,#daa 0 9px,#d76 0 10px,#ea8 0 11px,#d98 0 12px,#da9 0 13px,#99b 0 14px,#ccd 0 15px,#ddd 0 16px,#ccc 0 17px,#abd 0 18px,#78c 0 19px,#89c 0 20px,#99c 0 21px,#78c 0 22px,#abd 0 23px,#67c 0 24px,#56b 0 25px,#68c 0 26px,#99c 0 27px,#89d 0 28px,#ccd 0 29px,#78c 0 30px,#ccd 0 31px,#dcc 0 32px,#bcd 0 33px,#dbb 0 34px,#ea9 0 36px,#ccc 0 37px,#bab 0 38px,#9ad 0 39px,#78c 0 40px,#77b 0 41px,#abd 0 42px,#bce 0 43px,#89d 0 44px,#abd 0 45px,#bab 0 46px,#abd 0 47px,#67c 0 48px,#79d 0 49px,#9ad 0 50px,#78c 0 51px,#89c 0 52px,#9ad 0 53px,#78c 0 55px,#9ac 0 56px,#abd 0 57px,#9ad 0 59px,#68c 0 60px,#abd 0 62px,#aac 0 63px,#99c 0 64px,#bbd 0 65px,#ea8 0 66px,#e97 0 67px,#e87 0 68px,#eba 0 69px,#cbb 0 70px,#c99 0 71px,#bac 0 72px,#bab 0 73px,#ccd 0 74px,#eca 0 75px,#e97 0 76px,#dcc 0 77px,#aad 0 78px,#ccc 0 79px,#e76 0 80px,#ea9 0 82px,#d66 0 83px,#e86 0 84px,#ea9 0 85px,#e97 0 86px,#d98 0 87px,#da9 0 88px,#ccc 0 89px,#daa 0 90px,#e97 0 91px,#ea8 0 92px,#d98 0 93px,#bbc 0 94px,#dcc 0 95px,#caa 0 96px,#cbc 0 97px,#bcd 0 98px,#ccc 0 99px,#ecb 0 100px,#ccc 0 101px,#bcd 0 102px,#9ad 0 103px,#9ac 0 104px,#9ad 0 105px,#ddd 0 106px,#bbd 0 107px,#68c 0 108px,#8ad 0 109px)"></i><i style="left:302px;width:3px;background:linear-gradient(#67c 0 1px,#79c 0 2px,#9ac 0 3px,#67c 0 4px,#45a 0 5px,#46b 0 6px,#57c 0 7px,#abd 0 8px,#8ad 0 9px,#67b 0 10px,#68c 0 11px,#bbd 0 12px,#89c 0 13px,#9ad 0 14px,#abd 0 16px,#bbd 0 17px,#78c 0 19px,#aac 0 20px,#bbc 0 21px,#bac 0 22px,#dcc 0 23px,#bac 0 24px,#bbd 0 25px,#9ad 0 26px,#cbb 0 27px,#daa 0 28px,#eb9 0 29px,#ecb 0 30px,#eba 0 31px,#e97 0 32px,#ebb 0 33px,#d66 0 34px,#b23 0 35px,#d54 0 36px,#d65 0 38px,#ecc 0 39px,#99c 0 40px,#ccd 0 41px,#dcc 0 42px,#ccd 0 43px,#d98 0 44px,#dcb 0 45px,#d76 0 46px,#d77 0 47px,#ebb 0 48px,#d88 0 49px,#dbb 0 50px,#d98 0 51px,#da9 0 52px,#dbb 0 54px,#bab 0 55px,#e98 0 57px,#c55 0 58px,#e98 0 59px,#e86 0 60px,#e98 0 61px,#ea8 0 62px,#c44 0 64px,#d65 0 65px,#b23 0 67px,#b34 0 68px,#d55 0 69px,#c33 0 70px,#c55 0 71px,#d43 0 72px,#e87 0 73px,#d76 0 74px,#d65 0 76px,#eaa 0 77px,#d99 0 78px,#ecb 0 79px,#c44 0 80px,#d44 0 81px,#d87 0 82px,#e87 0 83px,#d65 0 84px,#b23 0 85px,#e98 0 87px,#cbb 0 88px,#dba 0 89px,#ecb 0 90px,#eb9 0 91px,#ea8 0 92px,#e87 0 93px,#9ad 0 94px,#bcd 0 95px,#caa 0 96px,#aac 0 97px,#abd 0 98px,#ecc 0 99px,#ecb 0 100px,#dbb 0 101px,#dcc 0 102px,#dba 0 103px,#bcd 0 104px,#99c 0 105px,#cbc 0 106px,#9ad 0 107px,#89c 0 108px,#78c 0 109px)"></i><i style="left:305px;width:2px;background:linear-gradient(#dbb 0 1px,#89c 0 2px,#cbc 0 4px,#abd 0 5px,#89c 0 6px,#dcc 0 7px,#eb9 0 8px,#ccd 0 9px,#dcc 0 10px,#dba 0 11px,#d99 0 12px,#9ad 0 13px,#57c 0 14px,#abd 0 15px,#bcd 0 16px,#ccc 0 17px,#dcc 0 18px,#89c 0 19px,#68c 0 20px,#aac 0 21px,#a9b 0 22px,#ecc 0 23px,#aac 0 24px,#abd 0 25px,#bbd 0 26px,#cab 0 27px,#d99 0 28px,#e86 0 29px,#dbb 0 30px,#dcd 0 31px,#da9 0 32px,#eba 0 33px,#c55 0 34px,#b23 0 35px,#c33 0 36px,#d87 0 37px,#e76 0 38px,#dcc 0 39px,#78c 0 40px,#57c 0 41px,#9ad 0 42px,#bbc 0 43px,#9ac 0 44px,#79c 0 45px,#bab 0 47px,#78c 0 48px,#9ad 0 49px,#ccd 0 50px,#cbc 0 51px,#8ad 0 52px,#68c 0 53px,#56b 0 54px,#89c 0 55px,#cbc 0 56px,#dcd 0 57px,#ea9 0 58px,#cbc 0 60px,#99b 0 61px,#cab 0 62px,#d76 0 64px,#ea8 0 65px,#d54 0 66px,#b23 0 67px,#d55 0 68px,#ecc 0 69px,#d76 0 70px,#d64 0 71px,#c44 0 72px,#d66 0 73px,#e97 0 74px,#d44 0 75px,#d77 0 76px,#ea9 0 77px,#c66 0 78px,#e97 0 79px,#e76 0 80px,#eb9 0 81px,#e87 0 82px,#c44 0 83px,#e86 0 84px,#d98 0 85px,#c88 0 86px,#d77 0 87px,#ecc 0 88px,#d55 0 89px,#d66 0 90px,#c33 0 91px,#c44 0 92px,#c66 0 93px,#bab 0 94px,#cab 0 96px,#bbc 0 97px,#edc 0 98px,#ecb 0 99px,#bac 0 100px,#cbc 0 101px,#abd 0 102px,#46b 0 103px,#67c 0 104px,#77b 0 105px,#9ad 0 106px,#aad 0 107px,#cab 0 108px,#d55 0 109px)"></i><i style="left:307px;width:3px;background:linear-gradient(#edc 0 2px,#edd 0 4px,#abd 0 5px,#bce 0 6px,#bcd 0 8px,#cdd 0 9px,#ccd 0 10px,#ddd 0 11px,#edc 0 12px,#ecb 0 13px,#dcc 0 14px,#edd 0 15px,#ddd 0 18px,#cde 0 19px,#cce 0 20px,#ccd 0 21px,#bcd 0 22px,#ccd 0 23px,#9ad 0 24px,#bce 0 25px,#abd 0 27px,#ccd 0 28px,#bce 0 29px,#cde 0 30px,#cce 0 31px,#ddd 0 32px,#cde 0 33px,#ccd 0 34px,#edc 0 35px,#ddd 0 36px,#ccd 0 37px,#bcd 0 38px,#abd 0 39px,#68c 0 40px,#abd 0 41px,#bce 0 42px,#cce 0 43px,#ccc 0 44px,#dde 0 45px,#abd 0 46px,#bbd 0 47px,#abd 0 48px,#bcd 0 49px,#ddd 0 50px,#ccd 0 52px,#ddd 0 53px,#ecb 0 54px,#edd 0 55px,#ddd 0 56px,#ecc 0 57px,#dcc 0 58px,#edd 0 59px,#ccd 0 60px,#bcd 0 61px,#ddd 0 62px,#ecb 0 63px,#edc 0 64px,#eca 0 65px,#e98 0 66px,#eb9 0 67px,#e87 0 68px,#eb9 0 69px,#eba 0 70px,#edc 0 71px,#ecb 0 73px,#ea9 0 74px,#e98 0 75px,#eb9 0 76px,#fba 0 77px,#ecb 0 78px,#edc 0 79px,#ea9 0 80px,#edc 0 82px,#eba 0 83px,#ecb 0 85px,#ecc 0 87px,#ddd 0 88px,#dcb 0 89px,#ecc 0 90px,#eba 0 92px,#ea9 0 93px,#edc 0 94px,#ddd 0 95px,#edc 0 96px,#ccd 0 97px,#edd 0 99px,#dcc 0 100px,#ddd 0 101px,#ccd 0 102px,#bcd 0 103px,#edd 0 104px,#cce 0 105px,#cdd 0 106px,#ccd 0 107px,#dcb 0 108px,#ecb 0 109px)"></i><i style="left:310px;width:2px;background:linear-gradient(#ddd 0 1px,#bbd 0 2px,#cce 0 3px,#ddd 0 4px,#bce 0 5px,#cce 0 6px,#ddd 0 7px,#cde 0 8px,#ccd 0 9px,#cce 0 10px,#ddd 0 11px,#ccd 0 12px,#dcd 0 13px,#abd 0 14px,#cce 0 15px,#cde 0 16px,#ddd 0 18px,#bce 0 19px,#cce 0 20px,#bcd 0 22px,#cde 0 23px,#abd 0 24px,#bce 0 25px,#abd 0 26px,#bcd 0 27px,#ccd 0 28px,#dde 0 29px,#ddd 0 32px,#edd 0 33px,#edc 0 35px,#edd 0 36px,#edc 0 37px,#ddd 0 39px,#abd 0 40px,#ddd 0 42px,#edd 0 44px,#edc 0 45px,#ecb 0 46px,#edc 0 47px,#ddd 0 49px,#edc 0 50px,#ecb 0 52px,#eba 0 53px,#eca 0 54px,#ecb 0 55px,#eca 0 56px,#eba 0 57px,#ecb 0 58px,#edc 0 59px,#ecb 0 60px,#edd 0 61px,#edc 0 62px,#ecb 0 64px,#eb9 0 65px,#ea8 0 66px,#ecb 0 70px,#edc 0 71px,#ecb 0 72px,#eb9 0 73px,#ea8 0 74px,#eb9 0 76px,#eca 0 77px,#eb9 0 78px,#ecb 0 80px,#edc 0 81px,#ecb 0 82px,#ea8 0 83px,#eb9 0 86px,#eba 0 88px,#eca 0 89px,#eb9 0 90px,#e98 0 91px,#ea8 0 92px,#eba 0 93px,#edd 0 94px,#ddd 0 98px,#edc 0 99px,#edd 0 100px,#edc 0 101px,#edd 0 104px,#ecb 0 105px,#ddd 0 108px,#eca 0 109px)"></i><i style="left:312px;width:3px;background:linear-gradient(#89c 0 1px,#34a 0 2px,#67c 0 3px,#34a 0 4px,#349 0 5px,#34a 0 6px,#56b 0 7px,#45b 0 8px,#56b 0 9px,#78c 0 10px,#cbc 0 11px,#dba 0 12px,#9ac 0 13px,#45a 0 14px,#67c 0 15px,#cbc 0 16px,#bcd 0 17px,#dcd 0 18px,#9ad 0 19px,#56b 0 22px,#57b 0 23px,#bab 0 25px,#a9a 0 26px,#d66 0 28px,#c44 0 29px,#e76 0 30px,#c44 0 31px,#a12 0 37px,#b23 0 38px,#b13 0 39px,#c44 0 40px,#e98 0 41px,#c33 0 42px,#c55 0 43px,#a12 0 44px,#c34 0 45px,#a12 0 46px,#c44 0 47px,#d65 0 48px,#d76 0 50px,#b23 0 51px,#c33 0 52px,#b23 0 53px,#c23 0 54px,#ea9 0 55px,#ecb 0 56px,#d88 0 57px,#d98 0 58px,#bbd 0 59px,#c78 0 60px,#dcc 0 61px,#dba 0 62px,#cab 0 63px,#b78 0 64px,#e87 0 65px,#c44 0 66px,#d76 0 67px,#d98 0 68px,#ea9 0 69px,#ca9 0 70px,#e98 0 71px,#d88 0 72px,#d54 0 73px,#d66 0 74px,#c44 0 75px,#d76 0 76px,#dbb 0 77px,#c33 0 78px,#d65 0 79px,#e98 0 80px,#dcc 0 81px,#dbb 0 82px,#d66 0 83px,#e97 0 84px,#eba 0 85px,#d76 0 86px,#dcb 0 87px,#57c 0 88px,#bab 0 89px,#d54 0 90px,#d76 0 91px,#e97 0 92px,#caa 0 93px,#ccc 0 94px,#89c 0 95px,#67a 0 96px,#56b 0 97px,#67b 0 98px,#a9b 0 99px,#daa 0 100px,#ddd 0 101px,#dcc 0 102px,#9ad 0 103px,#eba 0 104px,#d66 0 105px,#e97 0 106px,#daa 0 107px,#c99 0 108px,#d66 0 109px)"></i><i style="left:315px;width:2px;background:linear-gradient(#78c 0 1px,#349 0 2px,#67c 0 3px,#67b 0 4px,#34a 0 5px,#35a 0 6px,#56b 0 7px,#66b 0 8px,#56b 0 10px,#abd 0 11px,#bbc 0 12px,#cbb 0 13px,#9ac 0 14px,#8ad 0 15px,#9ad 0 16px,#99b 0 17px,#9ad 0 18px,#78c 0 20px,#57c 0 21px,#78c 0 22px,#9ad 0 23px,#aac 0 24px,#dba 0 25px,#c9a 0 26px,#e98 0 28px,#d99 0 29px,#daa 0 30px,#e98 0 31px,#d77 0 32px,#d65 0 33px,#a12 0 34px,#b13 0 35px,#c33 0 36px,#b13 0 37px,#c66 0 38px,#d66 0 39px,#dcc 0 40px,#eba 0 41px,#c44 0 42px,#c33 0 44px,#d55 0 45px,#b23 0 48px,#c23 0 49px,#c33 0 50px,#a12 0 51px,#b13 0 52px,#b23 0 53px,#b33 0 54px,#d87 0 55px,#d65 0 56px,#d87 0 57px,#ea9 0 58px,#eaa 0 59px,#dba 0 60px,#eba 0 61px,#dba 0 62px,#d87 0 63px,#c34 0 64px,#a12 0 66px,#c44 0 68px,#c55 0 69px,#d87 0 70px,#d98 0 71px,#c44 0 74px,#d54 0 75px,#d87 0 76px,#dbb 0 77px,#c67 0 78px,#e76 0 79px,#d55 0 80px,#bcd 0 81px,#daa 0 82px,#c33 0 83px,#e87 0 84px,#daa 0 85px,#ecb 0 86px,#aac 0 87px,#67c 0 88px,#a9b 0 89px,#dbc 0 90px,#daa 0 91px,#eba 0 92px,#e98 0 93px,#bcd 0 94px,#56b 0 95px,#89c 0 96px,#79c 0 97px,#bcd 0 98px,#dcc 0 99px,#ccd 0 100px,#abd 0 101px,#89d 0 102px,#68c 0 103px,#ccd 0 104px,#bbc 0 105px,#dcc 0 106px,#ccd 0 108px,#e86 0 109px)"></i><i style="left:317px;width:3px;background:linear-gradient(#ccd 0 1px,#56b 0 2px,#57c 0 3px,#45a 0 4px,#34a 0 5px,#45a 0 6px,#99c 0 7px,#56b 0 8px,#34a 0 9px,#56b 0 10px,#abd 0 11px,#caa 0 12px,#aab 0 13px,#45b 0 14px,#79c 0 15px,#8ad 0 16px,#78c 0 17px,#88c 0 18px,#56b 0 19px,#45a 0 20px,#34a 0 22px,#45a 0 23px,#77b 0 24px,#ccd 0 25px,#67b 0 26px,#99c 0 28px,#e97 0 29px,#e98 0 30px,#daa 0 31px,#e87 0 32px,#e98 0 33px,#c44 0 34px,#b23 0 36px,#d55 0 37px,#d76 0 38px,#d65 0 39px,#b55 0 40px,#dbb 0 41px,#c34 0 42px,#a12 0 43px,#b23 0 44px,#c23 0 45px,#b33 0 46px,#a13 0 47px,#c33 0 48px,#c44 0 49px,#b23 0 50px,#c55 0 51px,#c77 0 52px,#b23 0 53px,#c44 0 54px,#b33 0 55px,#d98 0 57px,#d55 0 58px,#e86 0 59px,#c55 0 60px,#eba 0 61px,#dcc 0 62px,#c43 0 63px,#b23 0 65px,#a13 0 66px,#c44 0 67px,#a13 0 68px,#b45 0 69px,#e98 0 70px,#c89 0 71px,#c55 0 72px,#eaa 0 73px,#ea9 0 74px,#e98 0 75px,#c44 0 76px,#c55 0 77px,#c56 0 78px,#d44 0 79px,#c34 0 80px,#dbb 0 82px,#c55 0 83px,#c44 0 84px,#b13 0 85px,#c56 0 86px,#d77 0 87px,#d99 0 88px,#ebb 0 89px,#c66 0 90px,#b77 0 91px,#eca 0 92px,#d76 0 93px,#ea8 0 94px,#ccc 0 95px,#57b 0 96px,#9ac 0 97px,#aac 0 98px,#d76 0 99px,#d87 0 100px,#ecc 0 101px,#cbb 0 102px,#cbc 0 103px,#cbb 0 104px,#c89 0 105px,#ddd 0 106px,#9ac 0 107px,#d98 0 108px,#a12 0 109px)"></i><i style="left:320px;width:2px;background:linear-gradient(#dcb 0 1px,#78c 0 2px,#9ad 0 3px,#89c 0 4px,#56b 0 5px,#67c 0 6px,#8ad 0 7px,#79d 0 8px,#89d 0 9px,#45a 0 10px,#8ad 0 11px,#67c 0 12px,#89d 0 13px,#56b 0 14px,#89d 0 15px,#abd 0 16px,#89d 0 17px,#79d 0 18px,#57b 0 19px,#56b 0 20px,#67c 0 21px,#57c 0 22px,#89d 0 23px,#abd 0 24px,#ecc 0 25px,#ccc 0 26px,#abd 0 27px,#dcc 0 28px,#ecb 0 29px,#e86 0 30px,#ea9 0 31px,#e98 0 32px,#eba 0 33px,#d54 0 34px,#b13 0 35px,#e65 0 36px,#e98 0 37px,#eba 0 38px,#ea9 0 39px,#ecb 0 40px,#eca 0 41px,#e98 0 42px,#e86 0 43px,#c33 0 44px,#e87 0 45px,#b44 0 46px,#e76 0 47px,#d98 0 48px,#d54 0 49px,#c23 0 50px,#b23 0 51px,#e76 0 52px,#d55 0 53px,#e98 0 55px,#dbb 0 56px,#ea9 0 57px,#ea8 0 58px,#ecb 0 59px,#eba 0 60px,#ddd 0 61px,#ccd 0 62px,#e98 0 63px,#d66 0 64px,#e86 0 65px,#d54 0 66px,#d64 0 67px,#d55 0 68px,#dcc 0 70px,#d99 0 71px,#e98 0 72px,#ea8 0 73px,#ebb 0 74px,#d87 0 76px,#dcc 0 77px,#ecb 0 78px,#eb9 0 79px,#eba 0 80px,#edc 0 81px,#eba 0 82px,#d66 0 83px,#d55 0 84px,#d66 0 85px,#e86 0 86px,#ecb 0 87px,#cbc 0 88px,#dbb 0 89px,#eb9 0 90px,#dcc 0 91px,#e97 0 92px,#e65 0 93px,#ecb 0 94px,#bac 0 95px,#ccc 0 96px,#89d 0 97px,#ddd 0 98px,#e97 0 99px,#e76 0 100px,#d98 0 101px,#ecb 0 102px,#dbb 0 103px,#ecb 0 104px,#ea9 0 105px,#ecc 0 106px,#eb9 0 107px,#d98 0 108px,#c33 0 109px)"></i><i style="left:322px;width:3px;background:linear-gradient(#cbc 0 1px,#34a 0 3px,#349 0 8px,#34a 0 9px,#349 0 10px,#57b 0 11px,#67c 0 12px,#349 0 13px,#34a 0 14px,#56b 0 16px,#45a 0 17px,#56b 0 18px,#349 0 20px,#34a 0 21px,#349 0 22px,#56b 0 23px,#45b 0 24px,#aac 0 25px,#77a 0 26px,#68c 0 27px,#daa 0 28px,#d65 0 30px,#e86 0 31px,#d55 0 32px,#d76 0 33px,#c33 0 34px,#a12 0 35px,#d77 0 36px,#d66 0 37px,#d99 0 38px,#c88 0 39px,#cbc 0 40px,#da9 0 41px,#ea8 0 42px,#e87 0 43px,#c44 0 44px,#d87 0 45px,#d99 0 46px,#c77 0 47px,#9ad 0 48px,#e98 0 49px,#d88 0 50px,#c78 0 51px,#c88 0 52px,#c33 0 53px,#d65 0 54px,#b99 0 55px,#dbb 0 57px,#c99 0 58px,#daa 0 59px,#99c 0 60px,#56b 0 61px,#78c 0 62px,#ccd 0 63px,#bbd 0 64px,#eba 0 65px,#ea9 0 66px,#e75 0 67px,#d76 0 68px,#dbb 0 69px,#bbc 0 70px,#dcc 0 71px,#d77 0 72px,#b8a 0 73px,#dbb 0 74px,#ea9 0 75px,#d54 0 76px,#e97 0 77px,#dbc 0 78px,#d75 0 79px,#c66 0 80px,#daa 0 81px,#dcc 0 82px,#e87 0 84px,#d88 0 85px,#d54 0 86px,#c88 0 87px,#b9a 0 88px,#d98 0 89px,#ccd 0 90px,#bbd 0 91px,#dcc 0 92px,#ecb 0 93px,#dbb 0 94px,#89c 0 95px,#56a 0 96px,#45b 0 97px,#99b 0 98px,#daa 0 99px,#d77 0 100px,#ea9 0 101px,#e98 0 102px,#dbb 0 103px,#daa 0 104px,#bab 0 105px,#aac 0 106px,#ccd 0 107px,#b89 0 108px,#d65 0 109px)"></i><i style="left:325px;width:2px;background:linear-gradient(#eca 0 1px,#ecc 0 2px,#ecb 0 3px,#edc 0 5px,#edd 0 6px,#edb 0 7px,#edd 0 8px,#ddd 0 9px,#edc 0 11px,#ecb 0 12px,#edd 0 13px,#ddd 0 14px,#edd 0 18px,#edc 0 20px,#ecb 0 21px,#edc 0 22px,#edd 0 23px,#ddd 0 24px,#edd 0 25px,#ecb 0 26px,#edc 0 27px,#ddd 0 28px,#ecb 0 29px,#eca 0 30px,#eba 0 31px,#ecb 0 32px,#edd 0 33px,#ecb 0 34px,#e97 0 35px,#edb 0 36px,#cdd 0 37px,#edd 0 38px,#ddd 0 39px,#edc 0 40px,#ddd 0 41px,#ecb 0 42px,#edc 0 43px,#ecc 0 44px,#edc 0 45px,#eb9 0 46px,#ecb 0 47px,#ddd 0 48px,#edd 0 49px,#edc 0 50px,#eca 0 51px,#ecb 0 53px,#ea8 0 54px,#ecb 0 55px,#edc 0 56px,#ecb 0 59px,#edc 0 60px,#ddd 0 62px,#edc 0 63px,#eca 0 65px,#eba 0 66px,#ecb 0 67px,#eb9 0 68px,#edc 0 69px,#ddd 0 70px,#edd 0 71px,#ddd 0 72px,#edd 0 73px,#edc 0 77px,#edd 0 78px,#edc 0 80px,#edd 0 81px,#fca 0 82px,#ea9 0 83px,#ecb 0 84px,#ea8 0 85px,#ecb 0 87px,#edc 0 88px,#eca 0 89px,#ecb 0 90px,#edd 0 91px,#ecb 0 92px,#ea8 0 93px,#ecb 0 94px,#dcc 0 95px,#ccd 0 96px,#cdd 0 97px,#edd 0 98px,#eb9 0 99px,#eba 0 100px,#ecb 0 101px,#edc 0 102px,#ddd 0 104px,#ddc 0 105px,#edd 0 106px,#ddd 0 108px,#ea9 0 109px)"></i><i style="left:327px;width:3px;background:linear-gradient(#eca 0 1px,#ecb 0 2px,#eba 0 3px,#ecb 0 6px,#eb9 0 7px,#ecb 0 8px,#edc 0 10px,#eb9 0 11px,#e87 0 12px,#eca 0 14px,#edd 0 16px,#ecb 0 18px,#edc 0 20px,#ecb 0 21px,#edc 0 23px,#eba 0 25px,#ea9 0 26px,#ecb 0 27px,#ecc 0 28px,#eca 0 29px,#eb9 0 30px,#eca 0 31px,#fba 0 32px,#ecb 0 33px,#e97 0 34px,#e76 0 35px,#eb9 0 36px,#edd 0 37px,#ddd 0 39px,#ccd 0 40px,#edd 0 41px,#ddd 0 42px,#edc 0 49px,#edb 0 50px,#edc 0 51px,#ecc 0 52px,#edd 0 53px,#edc 0 55px,#edd 0 56px,#edc 0 57px,#edd 0 59px,#ddd 0 60px,#cce 0 61px,#ccd 0 62px,#edd 0 63px,#ecb 0 64px,#eba 0 65px,#ecb 0 66px,#eba 0 68px,#edc 0 71px,#ecb 0 72px,#edd 0 73px,#edc 0 76px,#edd 0 77px,#ddd 0 78px,#edd 0 79px,#edc 0 80px,#ccd 0 81px,#ddd 0 82px,#ecb 0 83px,#edc 0 84px,#eca 0 85px,#ecb 0 86px,#edd 0 87px,#ddd 0 88px,#bce 0 89px,#ccd 0 90px,#cce 0 91px,#edd 0 93px,#ddd 0 94px,#bcd 0 95px,#cce 0 96px,#abd 0 97px,#ddd 0 98px,#edd 0 101px,#ddd 0 102px,#bcd 0 103px,#cce 0 104px,#bbd 0 105px,#cce 0 106px,#ccd 0 108px,#ecb 0 109px)"></i><i style="left:330px;width:2px;background:linear-gradient(#edc 0 4px,#ddd 0 5px,#ccd 0 6px,#edc 0 7px,#edd 0 9px,#edc 0 10px,#ecb 0 11px,#eb9 0 12px,#edc 0 13px,#ddd 0 14px,#dde 0 16px,#edd 0 17px,#edc 0 19px,#edd 0 21px,#edc 0 22px,#ddd 0 23px,#edc 0 25px,#eca 0 26px,#eba 0 27px,#edd 0 28px,#ecb 0 30px,#edc 0 31px,#ecb 0 32px,#edd 0 33px,#eba 0 34px,#eb9 0 35px,#ecb 0 36px,#ddd 0 38px,#edc 0 39px,#bce 0 41px,#cce 0 42px,#ddd 0 43px,#edd 0 45px,#ccd 0 46px,#ddd 0 48px,#cde 0 49px,#ddd 0 50px,#bcd 0 51px,#ccd 0 52px,#cce 0 53px,#ddd 0 54px,#ccd 0 57px,#cdd 0 58px,#ddd 0 59px,#8ad 0 60px,#89d 0 61px,#abd 0 63px,#ddc 0 64px,#dde 0 65px,#ddd 0 66px,#edd 0 67px,#edc 0 68px,#ddd 0 69px,#bce 0 70px,#abd 0 71px,#bcd 0 72px,#cde 0 73px,#cdd 0 74px,#edd 0 77px,#abd 0 78px,#ddd 0 79px,#cde 0 80px,#bce 0 81px,#ccd 0 82px,#bcd 0 83px,#dde 0 84px,#edd 0 86px,#bcd 0 87px,#9ad 0 88px,#bce 0 89px,#cce 0 90px,#9ad 0 91px,#abd 0 92px,#ccd 0 93px,#cde 0 94px,#8ad 0 96px,#abd 0 97px,#ccd 0 98px,#edd 0 100px,#ddd 0 102px,#ccd 0 103px,#cde 0 104px,#dde 0 105px,#cce 0 106px,#9bd 0 107px,#bcd 0 108px,#ddd 0 109px)"></i><i style="left:332px;width:2px;background:linear-gradient(#d88 0 1px,#b9a 0 2px,#d98 0 3px,#e98 0 4px,#abd 0 5px,#79c 0 6px,#aac 0 7px,#67b 0 8px,#67c 0 9px,#aac 0 10px,#e87 0 11px,#d65 0 12px,#caa 0 13px,#9ad 0 14px,#89c 0 15px,#bcd 0 16px,#dcc 0 17px,#d87 0 18px,#ea9 0 19px,#daa 0 21px,#d65 0 22px,#d76 0 23px,#c44 0 24px,#d54 0 25px,#d66 0 26px,#e87 0 27px,#bab 0 28px,#d98 0 29px,#e97 0 30px,#d54 0 31px,#c66 0 32px,#dcc 0 33px,#c55 0 34px,#a12 0 35px,#e87 0 36px,#dbb 0 37px,#e87 0 38px,#eba 0 39px,#88b 0 40px,#89c 0 41px,#ccd 0 42px,#e98 0 43px,#d76 0 45px,#d88 0 46px,#c99 0 47px,#89d 0 48px,#99a 0 49px,#99c 0 50px,#99b 0 51px,#57b 0 52px,#56b 0 53px,#abc 0 54px,#ccd 0 55px,#89c 0 56px,#99c 0 57px,#67b 0 58px,#9ad 0 59px,#45b 0 60px,#56b 0 61px,#45a 0 62px,#66b 0 63px,#99c 0 64px,#bbd 0 66px,#cbc 0 67px,#dbb 0 68px,#daa 0 69px,#bbc 0 70px,#67c 0 71px,#dbb 0 72px,#aac 0 73px,#dba 0 74px,#daa 0 75px,#e87 0 76px,#ea9 0 77px,#bac 0 78px,#bbd 0 79px,#89c 0 80px,#89d 0 81px,#bcd 0 82px,#cab 0 83px,#d99 0 85px,#c55 0 86px,#ecc 0 87px,#9ad 0 88px,#aac 0 89px,#9ad 0 90px,#aac 0 91px,#dbb 0 92px,#d87 0 93px,#daa 0 94px,#cbb 0 95px,#a89 0 96px,#bab 0 97px,#eb9 0 98px,#d77 0 99px,#c88 0 100px,#eba 0 101px,#e65 0 102px,#da9 0 103px,#bcd 0 104px,#b88 0 105px,#ccc 0 106px,#99b 0 107px,#9ad 0 108px,#a9b 0 109px)"></i><i style="left:334px;width:3px;background:linear-gradient(#d54 0 1px,#d65 0 2px,#e76 0 3px,#e87 0 4px,#ccd 0 6px,#eb9 0 7px,#ccd 0 8px,#bbc 0 9px,#d99 0 10px,#e97 0 11px,#b13 0 12px,#c55 0 13px,#d99 0 14px,#ddd 0 15px,#eba 0 16px,#e97 0 17px,#d76 0 18px,#e87 0 19px,#eba 0 20px,#e97 0 21px,#d77 0 22px,#e98 0 23px,#c44 0 24px,#d54 0 25px,#b23 0 26px,#d55 0 27px,#ea9 0 28px,#e86 0 29px,#e87 0 30px,#d76 0 31px,#c33 0 32px,#e87 0 33px,#b23 0 34px,#b13 0 35px,#d55 0 36px,#d88 0 37px,#da9 0 38px,#dcb 0 39px,#bbc 0 40px,#8ad 0 41px,#dcc 0 42px,#edc 0 43px,#cbc 0 44px,#dbb 0 45px,#bbc 0 46px,#8ad 0 47px,#bbd 0 48px,#dcd 0 49px,#bbc 0 50px,#9ad 0 51px,#abd 0 52px,#bbd 0 53px,#abd 0 54px,#9ac 0 55px,#bbd 0 56px,#89c 0 57px,#78c 0 58px,#89d 0 59px,#55a 0 60px,#78c 0 61px,#57c 0 62px,#57b 0 63px,#abd 0 64px,#dbb 0 65px,#ecc 0 66px,#ecb 0 67px,#e86 0 68px,#cbc 0 69px,#78c 0 70px,#bcd 0 71px,#bbd 0 72px,#ecb 0 73px,#dba 0 74px,#dcc 0 75px,#eba 0 76px,#89d 0 77px,#45b 0 78px,#79c 0 79px,#67c 0 80px,#45b 0 81px,#78c 0 82px,#ccd 0 83px,#9ad 0 84px,#89c 0 85px,#bcd 0 86px,#67c 0 87px,#349 0 88px,#45a 0 89px,#68c 0 90px,#56b 0 91px,#89d 0 92px,#aac 0 93px,#67c 0 94px,#46b 0 95px,#67b 0 96px,#77c 0 97px,#cdd 0 98px,#cbc 0 99px,#9ad 0 100px,#67c 0 101px,#56b 0 102px,#45a 0 103px,#57b 0 104px,#45a 0 105px,#78c 0 106px,#67c 0 107px,#66a 0 108px,#dbb 0 109px)"></i><i style="left:337px;width:2px;background:linear-gradient(#e65 0 1px,#c56 0 2px,#d54 0 3px,#e97 0 4px,#daa 0 5px,#cbc 0 6px,#e75 0 7px,#eb9 0 8px,#eca 0 9px,#d76 0 10px,#d54 0 11px,#b23 0 12px,#c23 0 13px,#cbb 0 14px,#abd 0 15px,#eca 0 16px,#e87 0 17px,#e97 0 18px,#d55 0 19px,#d54 0 20px,#c55 0 21px,#c44 0 22px,#eba 0 23px,#e98 0 24px,#e76 0 25px,#c44 0 27px,#d55 0 28px,#d76 0 29px,#ea9 0 30px,#da9 0 31px,#b44 0 32px,#c44 0 33px,#c34 0 34px,#b23 0 36px,#c55 0 37px,#d66 0 38px,#eba 0 39px,#cbb 0 40px,#abd 0 42px,#dbb 0 43px,#d77 0 44px,#d98 0 45px,#e76 0 46px,#eba 0 47px,#dcc 0 49px,#ecb 0 50px,#dcb 0 51px,#56b 0 52px,#99b 0 53px,#89d 0 54px,#89c 0 55px,#99b 0 56px,#68c 0 58px,#79c 0 59px,#45b 0 60px,#45a 0 61px,#56b 0 62px,#67c 0 63px,#89c 0 64px,#ccd 0 65px,#ea9 0 66px,#dbb 0 67px,#9ad 0 68px,#aac 0 69px,#89c 0 70px,#57c 0 71px,#45a 0 72px,#45b 0 74px,#89c 0 75px,#99c 0 76px,#79d 0 77px,#46b 0 78px,#8ad 0 79px,#45a 0 80px,#45b 0 81px,#56b 0 83px,#68c 0 84px,#45a 0 85px,#8ad 0 86px,#34a 0 87px,#349 0 88px,#34a 0 89px,#45a 0 92px,#55b 0 93px,#45a 0 96px,#34a 0 97px,#79c 0 98px,#78c 0 100px,#56b 0 101px,#46b 0 102px,#349 0 103px,#45b 0 104px,#34a 0 105px,#78c 0 106px,#99c 0 107px,#79d 0 108px,#89d 0 109px)"></i><i style="left:339px;width:3px;background:linear-gradient(#e86 0 1px,#d55 0 2px,#d54 0 3px,#b23 0 4px,#dbb 0 5px,#ecb 0 6px,#e98 0 7px,#ecb 0 9px,#d76 0 10px,#e65 0 11px,#e76 0 12px,#e98 0 13px,#cbb 0 14px,#ecb 0 15px,#edc 0 16px,#e75 0 17px,#d55 0 18px,#d54 0 20px,#d44 0 21px,#d76 0 22px,#e98 0 23px,#d55 0 24px,#d65 0 25px,#d54 0 26px,#d76 0 27px,#d99 0 28px,#e97 0 29px,#e98 0 30px,#ea8 0 31px,#e86 0 32px,#e76 0 33px,#e75 0 34px,#c44 0 35px,#e76 0 36px,#eb9 0 37px,#e97 0 38px,#eca 0 39px,#dcc 0 40px,#dcd 0 41px,#ecb 0 42px,#ea8 0 43px,#e97 0 44px,#ea8 0 45px,#d98 0 46px,#dcb 0 47px,#cce 0 48px,#dcc 0 49px,#d88 0 50px,#eba 0 51px,#dcd 0 52px,#ccd 0 53px,#cbc 0 54px,#eba 0 55px,#eb9 0 56px,#dbb 0 57px,#ddd 0 59px,#da9 0 60px,#ccd 0 61px,#9ad 0 62px,#abc 0 63px,#9ad 0 64px,#bbd 0 65px,#ecc 0 66px,#cdd 0 67px,#9ad 0 68px,#89c 0 69px,#78c 0 70px,#8ad 0 71px,#78c 0 73px,#9ad 0 74px,#ecc 0 75px,#dcc 0 76px,#bcd 0 77px,#abd 0 78px,#ddd 0 79px,#ccc 0 80px,#ccd 0 81px,#8ad 0 82px,#89c 0 83px,#8ad 0 84px,#aad 0 85px,#abd 0 86px,#9ad 0 87px,#34a 0 88px,#56b 0 89px,#89d 0 90px,#56b 0 91px,#57c 0 92px,#67c 0 94px,#46b 0 95px,#45b 0 96px,#67c 0 97px,#abd 0 98px,#aad 0 99px,#ccd 0 100px,#abd 0 101px,#9ad 0 102px,#68c 0 103px,#78c 0 104px,#68c 0 105px,#abd 0 106px,#67c 0 107px,#56b 0 108px,#9ad 0 109px)"></i><i style="left:342px;width:2px;background:linear-gradient(#eb9 0 1px,#e86 0 2px,#e97 0 4px,#eca 0 5px,#dcc 0 6px,#e97 0 7px,#eba 0 9px,#d54 0 10px,#e75 0 11px,#b23 0 12px,#d65 0 13px,#e97 0 14px,#ecb 0 16px,#ea8 0 17px,#e75 0 18px,#e86 0 19px,#e76 0 21px,#e97 0 22px,#ecb 0 23px,#e97 0 24px,#e87 0 25px,#c44 0 26px,#d76 0 27px,#e86 0 28px,#e98 0 29px,#ea9 0 30px,#ecb 0 31px,#ea8 0 33px,#d65 0 34px,#d54 0 35px,#e87 0 36px,#e76 0 37px,#e98 0 38px,#e86 0 39px,#dcb 0 40px,#edd 0 41px,#eba 0 42px,#eca 0 43px,#eba 0 44px,#eb9 0 45px,#ecb 0 46px,#ddd 0 47px,#abd 0 48px,#cdd 0 49px,#ecc 0 50px,#ea9 0 51px,#9ad 0 52px,#ccd 0 54px,#dcc 0 55px,#ddd 0 56px,#abd 0 57px,#68c 0 58px,#abd 0 59px,#78c 0 60px,#89d 0 61px,#abd 0 62px,#bbc 0 63px,#abd 0 64px,#89d 0 65px,#cde 0 66px,#ddd 0 67px,#89d 0 68px,#bcd 0 69px,#abd 0 70px,#8ad 0 72px,#abd 0 73px,#78c 0 74px,#abd 0 75px,#79c 0 76px,#68c 0 77px,#9ad 0 78px,#abd 0 79px,#68c 0 80px,#89d 0 82px,#78c 0 83px,#9ad 0 84px,#67c 0 85px,#89d 0 87px,#57c 0 88px,#abd 0 89px,#ddd 0 90px,#89d 0 91px,#9ad 0 93px,#79c 0 94px,#56b 0 95px,#78c 0 96px,#9ad 0 97px,#ddd 0 98px,#ccd 0 99px,#bbd 0 100px,#abd 0 101px,#bce 0 102px,#9ad 0 103px,#bbd 0 104px,#abd 0 105px,#ddd 0 106px,#9ad 0 107px,#79c 0 108px,#abd 0 109px)"></i><i style="left:344px;width:3px;background:linear-gradient(#bbd 0 1px,#ccd 0 2px,#d99 0 3px,#ecb 0 4px,#8ad 0 5px,#78c 0 6px,#ccd 0 7px,#cbc 0 8px,#bcd 0 9px,#eba 0 11px,#dbb 0 12px,#aac 0 13px,#78c 0 14px,#abd 0 15px,#ccd 0 16px,#caa 0 17px,#ecb 0 18px,#ea8 0 19px,#ccd 0 20px,#ea9 0 21px,#abd 0 23px,#cbc 0 24px,#ea9 0 25px,#d98 0 26px,#abd 0 27px,#cbc 0 28px,#edc 0 29px,#dcc 0 30px,#edd 0 31px,#ea8 0 32px,#d87 0 33px,#d98 0 34px,#ccc 0 35px,#bcd 0 36px,#abd 0 37px,#a9b 0 38px,#78c 0 39px,#56b 0 40px,#78c 0 41px,#67b 0 42px,#9ad 0 43px,#dcc 0 44px,#9ac 0 45px,#99c 0 46px,#46b 0 47px,#45a 0 48px,#99c 0 49px,#caa 0 50px,#aac 0 51px,#68c 0 52px,#abd 0 53px,#dcc 0 54px,#9ad 0 55px,#bac 0 56px,#9ac 0 57px,#78c 0 58px,#68c 0 59px,#45a 0 60px,#89c 0 61px,#57c 0 62px,#89c 0 63px,#68c 0 64px,#abd 0 65px,#dbb 0 66px,#ecb 0 67px,#dbb 0 68px,#abd 0 69px,#a9b 0 70px,#abd 0 71px,#edb 0 72px,#eba 0 73px,#d99 0 74px,#ecb 0 75px,#d88 0 76px,#ea9 0 77px,#dcc 0 78px,#dbb 0 79px,#dcc 0 80px,#dcd 0 82px,#e98 0 83px,#cbb 0 84px,#d87 0 85px,#d65 0 86px,#ea9 0 87px,#cbc 0 88px,#dbb 0 89px,#eaa 0 90px,#e97 0 91px,#ea8 0 92px,#cbc 0 93px,#dcc 0 94px,#aac 0 95px,#78c 0 96px,#cbc 0 97px,#ecc 0 98px,#dcc 0 99px,#bab 0 100px,#89d 0 101px,#8ad 0 102px,#67b 0 103px,#89d 0 104px,#abd 0 105px,#bbd 0 106px,#56b 0 107px,#34a 0 108px,#78c 0 109px)"></i><i style="left:347px;width:2px;background:linear-gradient(#9ad 0 1px,#89d 0 2px,#abd 0 3px,#9ad 0 4px,#68c 0 5px,#78c 0 7px,#8ad 0 8px,#79d 0 9px,#8ad 0 10px,#bce 0 11px,#9ad 0 12px,#89d 0 13px,#79d 0 14px,#bcd 0 15px,#bce 0 16px,#dcc 0 17px,#edd 0 18px,#edc 0 19px,#ecb 0 20px,#eb9 0 21px,#bbd 0 22px,#dcd 0 23px,#ccd 0 24px,#edc 0 25px,#ddd 0 26px,#dcc 0 27px,#daa 0 28px,#ecb 0 30px,#ddd 0 31px,#eb9 0 32px,#edc 0 33px,#eba 0 34px,#ea9 0 35px,#ecb 0 36px,#dcc 0 37px,#bcd 0 39px,#9ad 0 40px,#8ad 0 41px,#abd 0 42px,#ccd 0 43px,#abd 0 44px,#bcd 0 45px,#ccd 0 46px,#abd 0 47px,#cdd 0 48px,#abd 0 49px,#cce 0 50px,#dcc 0 51px,#bbd 0 52px,#cdd 0 53px,#edc 0 54px,#dcd 0 55px,#ccd 0 56px,#cdd 0 57px,#ccd 0 58px,#dde 0 59px,#abd 0 60px,#ddd 0 61px,#edd 0 62px,#dcb 0 63px,#ea8 0 64px,#dcb 0 65px,#ea9 0 66px,#ecb 0 67px,#ecc 0 68px,#edc 0 69px,#ecc 0 70px,#edc 0 71px,#ea8 0 72px,#eca 0 73px,#eba 0 74px,#ecb 0 75px,#e87 0 76px,#eb9 0 77px,#ea9 0 78px,#ecb 0 79px,#dcc 0 80px,#ccd 0 81px,#edc 0 82px,#cdd 0 83px,#cce 0 84px,#cdd 0 85px,#ecb 0 86px,#ccc 0 87px,#9ad 0 88px,#bbd 0 89px,#bcd 0 90px,#ccd 0 91px,#dcc 0 93px,#ccd 0 94px,#bcd 0 95px,#dcd 0 96px,#8ad 0 97px,#ccd 0 98px,#edc 0 99px,#dcd 0 100px,#ccd 0 101px,#edd 0 102px,#ddd 0 103px,#edc 0 104px,#dcc 0 105px,#edc 0 106px,#edd 0 107px,#ccd 0 108px,#dcc 0 109px)"></i><i style="left:349px;width:3px;background:linear-gradient(#ddd 0 1px,#78c 0 2px,#bcd 0 3px,#cbc 0 4px,#8ad 0 5px,#78c 0 7px,#89d 0 8px,#78c 0 9px,#56b 0 11px,#78c 0 12px,#68c 0 14px,#8ad 0 15px,#9ad 0 16px,#9bd 0 17px,#abd 0 18px,#dcc 0 19px,#ccd 0 20px,#dcc 0 21px,#dcb 0 22px,#ccc 0 23px,#abd 0 24px,#ccd 0 25px,#dcc 0 26px,#bbc 0 27px,#caa 0 28px,#dcc 0 29px,#9ad 0 30px,#bce 0 31px,#eba 0 32px,#dbb 0 33px,#ecc 0 34px,#e97 0 35px,#eb9 0 36px,#caa 0 37px,#dcc 0 38px,#bbd 0 39px,#89c 0 40px,#8ad 0 41px,#68c 0 42px,#abd 0 44px,#8ad 0 45px,#68c 0 46px,#89d 0 47px,#abd 0 48px,#bcd 0 49px,#abd 0 50px,#9ad 0 51px,#bcd 0 52px,#abd 0 54px,#9ad 0 55px,#dcc 0 56px,#ea9 0 57px,#cbc 0 58px,#ccd 0 60px,#ecb 0 61px,#bce 0 62px,#eba 0 63px,#caa 0 64px,#eba 0 65px,#dba 0 66px,#edd 0 67px,#bbc 0 68px,#dcc 0 69px,#ccd 0 70px,#bbd 0 71px,#dcc 0 72px,#ecb 0 73px,#eba 0 74px,#cdd 0 75px,#eba 0 76px,#edd 0 77px,#eba 0 78px,#ecc 0 79px,#ea9 0 80px,#ccd 0 81px,#dcd 0 82px,#bbc 0 83px,#edc 0 84px,#daa 0 85px,#eba 0 86px,#cbb 0 87px,#9ad 0 88px,#abd 0 89px,#9ad 0 90px,#8ad 0 91px,#ccd 0 92px,#edc 0 93px,#bcd 0 94px,#edc 0 95px,#ccc 0 96px,#dcd 0 97px,#ddc 0 98px,#ea9 0 99px,#bbd 0 101px,#dcc 0 102px,#eba 0 103px,#e97 0 104px,#d76 0 105px,#eba 0 106px,#abd 0 107px,#bbd 0 109px)"></i><i style="left:352px;width:2px;background:linear-gradient(#d65 0 1px,#e98 0 2px,#e76 0 3px,#d65 0 4px,#ea9 0 6px,#d55 0 7px,#d65 0 8px,#dbb 0 9px,#d87 0 10px,#e98 0 11px,#ea9 0 12px,#bbc 0 13px,#ccd 0 16px,#ddd 0 17px,#ccd 0 18px,#ecb 0 19px,#ea8 0 21px,#ecc 0 22px,#ccd 0 23px,#da9 0 24px,#eba 0 25px,#ecc 0 26px,#dcc 0 27px,#d87 0 28px,#cbc 0 29px,#dcc 0 30px,#ccd 0 31px,#ccc 0 32px,#eba 0 33px,#ecc 0 34px,#c89 0 35px,#ea9 0 36px,#aad 0 37px,#78c 0 38px,#bcd 0 39px,#ccd 0 41px,#ccc 0 42px,#bbd 0 43px,#88c 0 44px,#bbd 0 45px,#ccd 0 46px,#abd 0 47px,#8ad 0 48px,#9ad 0 49px,#aac 0 50px,#caa 0 51px,#ecb 0 52px,#dcb 0 53px,#cbb 0 54px,#abd 0 55px,#ccd 0 56px,#ddd 0 57px,#78c 0 58px,#9ad 0 59px,#abd 0 61px,#bbd 0 62px,#ccc 0 63px,#d77 0 64px,#ecb 0 66px,#eb9 0 67px,#ecb 0 68px,#dcc 0 69px,#88b 0 70px,#abd 0 71px,#cbc 0 72px,#ea9 0 73px,#ecb 0 74px,#eaa 0 75px,#d65 0 76px,#e65 0 77px,#d66 0 78px,#eba 0 79px,#d76 0 80px,#eb9 0 81px,#d65 0 82px,#c34 0 84px,#a12 0 85px,#b23 0 86px,#b13 0 87px,#d54 0 88px,#d76 0 89px,#eb9 0 90px,#eba 0 91px,#d65 0 92px,#c33 0 93px,#e65 0 94px,#d88 0 95px,#d66 0 96px,#ebb 0 97px,#eca 0 98px,#e87 0 100px,#ddd 0 101px,#ebb 0 102px,#d76 0 103px,#ea9 0 104px,#d55 0 105px,#ea8 0 106px,#ccd 0 108px,#dcb 0 109px)"></i><i style="left:354px;width:3px;background:linear-gradient(#a12 0 1px,#d55 0 2px,#d44 0 3px,#a12 0 4px,#c66 0 5px,#d65 0 6px,#c34 0 7px,#b34 0 8px,#d54 0 9px,#d77 0 10px,#d65 0 11px,#b23 0 12px,#d65 0 14px,#dba 0 15px,#dcc 0 16px,#e87 0 17px,#c44 0 18px,#e75 0 19px,#e98 0 20px,#cab 0 21px,#bbc 0 22px,#78c 0 23px,#8ad 0 24px,#bbc 0 25px,#bab 0 26px,#b45 0 27px,#c23 0 28px,#d65 0 29px,#e86 0 30px,#eba 0 31px,#d66 0 32px,#c33 0 33px,#b23 0 35px,#d98 0 36px,#d99 0 37px,#eba 0 38px,#c88 0 39px,#ea9 0 40px,#dba 0 41px,#c55 0 42px,#d77 0 43px,#daa 0 44px,#bbd 0 45px,#d89 0 46px,#e98 0 47px,#ddd 0 48px,#e98 0 49px,#d88 0 50px,#c89 0 51px,#daa 0 52px,#b23 0 54px,#d55 0 55px,#b33 0 56px,#b13 0 57px,#d66 0 58px,#d65 0 59px,#b33 0 60px,#c67 0 61px,#c33 0 62px,#b23 0 63px,#a12 0 66px,#d55 0 67px,#c44 0 68px,#c34 0 69px,#c33 0 70px,#d98 0 71px,#e76 0 72px,#b23 0 73px,#b33 0 74px,#b13 0 75px,#c34 0 76px,#d65 0 78px,#d55 0 79px,#d88 0 80px,#eaa 0 81px,#cab 0 82px,#d77 0 83px,#d98 0 84px,#c33 0 85px,#b23 0 86px,#a12 0 87px,#d65 0 88px,#c88 0 89px,#dbb 0 90px,#bac 0 91px,#d76 0 92px,#d65 0 93px,#dbb 0 94px,#ea9 0 95px,#c67 0 96px,#d54 0 97px,#c44 0 98px,#b9a 0 99px,#56b 0 100px,#8ad 0 101px,#aac 0 102px,#ccd 0 103px,#ebb 0 104px,#b66 0 105px,#dcc 0 106px,#bbd 0 107px,#89c 0 108px,#dbb 0 109px)"></i><i style="left:357px;width:2px;background:linear-gradient(#abd 0 1px,#34a 0 2px,#67c 0 3px,#89c 0 4px,#56b 0 5px,#34a 0 6px,#45b 0 7px,#9ad 0 8px,#45a 0 9px,#349 0 10px,#56b 0 11px,#78c 0 12px,#67b 0 13px,#34a 0 14px,#67c 0 15px,#57c 0 16px,#45a 0 17px,#78c 0 19px,#79c 0 20px,#56b 0 21px,#34a 0 22px,#35a 0 23px,#349 0 24px,#45b 0 25px,#44a 0 26px,#78c 0 27px,#d98 0 28px,#d99 0 29px,#aac 0 30px,#78c 0 31px,#c9a 0 32px,#ecb 0 33px,#dbb 0 34px,#ccc 0 35px,#dcc 0 37px,#bab 0 38px,#ccd 0 39px,#67b 0 40px,#9ad 0 41px,#bbc 0 42px,#dba 0 43px,#ccd 0 44px,#bcd 0 45px,#9ad 0 46px,#e75 0 47px,#eca 0 48px,#ea9 0 49px,#d76 0 50px,#d88 0 51px,#d98 0 52px,#b56 0 53px,#c77 0 54px,#bbc 0 55px,#cab 0 56px,#dbb 0 57px,#cbc 0 58px,#ebb 0 59px,#ea9 0 60px,#dcc 0 61px,#ccc 0 62px,#a9b 0 63px,#b23 0 64px,#da9 0 65px,#d77 0 66px,#ccc 0 67px,#dba 0 68px,#eba 0 69px,#d99 0 70px,#88c 0 71px,#cbb 0 72px,#e87 0 73px,#eba 0 74px,#e76 0 75px,#c44 0 76px,#c55 0 77px,#c66 0 78px,#cab 0 80px,#daa 0 81px,#d99 0 82px,#d66 0 83px,#eca 0 84px,#c44 0 85px,#c45 0 86px,#c34 0 87px,#da9 0 88px,#88b 0 89px,#abd 0 90px,#ccc 0 91px,#dcc 0 92px,#d66 0 93px,#dbb 0 94px,#d99 0 95px,#eba 0 96px,#d88 0 97px,#e98 0 98px,#d65 0 99px,#aac 0 100px,#67c 0 101px,#bbd 0 102px,#c99 0 103px,#eb9 0 104px,#d98 0 105px,#dbb 0 106px,#bab 0 107px,#9ac 0 108px,#89d 0 109px)"></i><i style="left:359px;width:3px;background:linear-gradient(#79d 0 1px,#349 0 2px,#45a 0 3px,#46b 0 4px,#56b 0 5px,#46b 0 7px,#45a 0 8px,#57c 0 9px,#34a 0 10px,#67c 0 11px,#45a 0 12px,#55b 0 13px,#34a 0 14px,#78c 0 15px,#67c 0 17px,#89c 0 18px,#78c 0 19px,#68c 0 20px,#67c 0 21px,#56b 0 22px,#68c 0 23px,#46b 0 24px,#78c 0 25px,#45a 0 26px,#78c 0 27px,#ccc 0 28px,#dbb 0 29px,#abd 0 30px,#bcd 0 31px,#e98 0 32px,#d54 0 33px,#d76 0 34px,#d55 0 35px,#eba 0 36px,#ddd 0 37px,#abd 0 38px,#dba 0 39px,#eba 0 40px,#d99 0 41px,#d65 0 42px,#e98 0 43px,#ea8 0 44px,#eba 0 45px,#e98 0 46px,#e97 0 47px,#ecb 0 48px,#dcc 0 49px,#eaa 0 50px,#eba 0 51px,#ccc 0 52px,#eba 0 53px,#cbb 0 54px,#ccc 0 55px,#bbd 0 56px,#78c 0 57px,#56b 0 58px,#abd 0 59px,#bbd 0 60px,#ccd 0 62px,#bbc 0 63px,#e87 0 64px,#e76 0 65px,#d65 0 66px,#eb9 0 67px,#eba 0 68px,#daa 0 69px,#dcc 0 70px,#bcd 0 71px,#79c 0 72px,#bbd 0 73px,#bbc 0 74px,#dba 0 75px,#e87 0 76px,#e86 0 77px,#d76 0 78px,#dbb 0 79px,#ecc 0 80px,#ea8 0 81px,#e87 0 82px,#d54 0 83px,#daa 0 84px,#d87 0 85px,#d76 0 86px,#d87 0 87px,#c44 0 88px,#c23 0 89px,#d65 0 90px,#e98 0 91px,#e86 0 92px,#d87 0 93px,#ea8 0 94px,#c44 0 96px,#d75 0 97px,#ea9 0 98px,#cbc 0 99px,#9ac 0 100px,#68c 0 101px,#abd 0 102px,#bbd 0 103px,#cbc 0 104px,#cbb 0 105px,#bbd 0 106px,#ecc 0 107px,#c99 0 108px,#cab 0 109px)"></i><i style="left:362px;width:2px;background:linear-gradient(#ecb 0 1px,#56b 0 2px,#89c 0 3px,#abd 0 4px,#78c 0 5px,#45b 0 6px,#67c 0 7px,#89d 0 8px,#9ad 0 9px,#57b 0 10px,#9ad 0 11px,#abd 0 12px,#67b 0 13px,#67c 0 14px,#abd 0 15px,#bcd 0 16px,#9ad 0 17px,#bbd 0 18px,#9ad 0 19px,#79c 0 20px,#89d 0 21px,#67c 0 22px,#abd 0 23px,#9ac 0 24px,#ccc 0 25px,#89c 0 26px,#cbc 0 27px,#d99 0 28px,#cab 0 29px,#79c 0 30px,#abd 0 31px,#dbb 0 32px,#e87 0 33px,#c54 0 34px,#e76 0 35px,#ea9 0 36px,#e98 0 37px,#da9 0 38px,#cab 0 39px,#89c 0 40px,#9ad 0 41px,#edc 0 42px,#dcc 0 43px,#ea8 0 44px,#ecb 0 45px,#ea9 0 46px,#d65 0 47px,#e86 0 48px,#da9 0 49px,#d99 0 50px,#c99 0 51px,#ea9 0 52px,#d75 0 53px,#e97 0 55px,#ecb 0 56px,#ecc 0 57px,#89d 0 58px,#ccd 0 59px,#e86 0 60px,#eba 0 61px,#ebb 0 62px,#eb9 0 63px,#c23 0 65px,#d54 0 66px,#e76 0 67px,#c54 0 68px,#d54 0 69px,#c55 0 70px,#ea8 0 71px,#a12 0 72px,#c33 0 73px,#c44 0 74px,#d65 0 75px,#c44 0 76px,#a12 0 77px,#b23 0 78px,#e86 0 79px,#d55 0 80px,#d65 0 81px,#b23 0 82px,#c44 0 83px,#e98 0 84px,#b23 0 85px,#b33 0 86px,#b23 0 87px,#b13 0 88px,#d54 0 89px,#e97 0 91px,#d76 0 92px,#dba 0 93px,#ea9 0 94px,#c44 0 95px,#b23 0 96px,#d55 0 97px,#eb9 0 98px,#d87 0 99px,#bbd 0 100px,#aad 0 101px,#edc 0 102px,#dcc 0 104px,#bbc 0 105px,#edc 0 106px,#ccd 0 107px,#abd 0 108px,#89d 0 109px)"></i><i style="left:364px;width:3px;background:linear-gradient(#ddd 0 1px,#89d 0 2px,#8ad 0 3px,#ccd 0 4px,#bce 0 5px,#bcd 0 6px,#bbd 0 7px,#cdd 0 8px,#ddd 0 9px,#bcd 0 10px,#cce 0 11px,#abd 0 12px,#9ad 0 14px,#cce 0 15px,#ccd 0 16px,#cdd 0 17px,#ddd 0 20px,#bce 0 21px,#9ad 0 24px,#cce 0 25px,#bbd 0 26px,#bcd 0 27px,#ccd 0 28px,#abd 0 29px,#9ad 0 30px,#abd 0 31px,#ccd 0 32px,#edc 0 33px,#cdd 0 34px,#ccd 0 36px,#cce 0 37px,#ccd 0 38px,#edd 0 39px,#cde 0 40px,#cce 0 41px,#edd 0 42px,#edc 0 45px,#dcd 0 46px,#fcb 0 47px,#edc 0 49px,#ecb 0 50px,#eca 0 51px,#edc 0 52px,#fba 0 53px,#eca 0 54px,#ecb 0 55px,#edc 0 56px,#ecc 0 57px,#edc 0 59px,#eb9 0 60px,#eca 0 61px,#edc 0 62px,#eba 0 63px,#eb9 0 64px,#ea8 0 65px,#eb9 0 66px,#ecb 0 67px,#edc 0 68px,#eba 0 69px,#ecb 0 72px,#ea8 0 74px,#ea9 0 75px,#e87 0 76px,#e97 0 77px,#d65 0 78px,#eba 0 79px,#ea8 0 80px,#eb9 0 81px,#e97 0 82px,#e87 0 83px,#fca 0 84px,#e97 0 86px,#e86 0 87px,#e97 0 88px,#ea8 0 91px,#ea9 0 92px,#eb9 0 93px,#ea8 0 94px,#d65 0 95px,#e87 0 96px,#eba 0 97px,#ecb 0 98px,#eca 0 99px,#ddd 0 100px,#edd 0 101px,#ecb 0 105px,#edd 0 107px,#ddd 0 109px)"></i><i style="left:367px;width:2px;background:linear-gradient(#e76 0 1px,#eba 0 3px,#d77 0 4px,#e76 0 5px,#eba 0 6px,#dcb 0 7px,#ea8 0 8px,#e86 0 9px,#d65 0 10px,#ea9 0 11px,#c9a 0 12px,#98a 0 13px,#dbc 0 14px,#bce 0 15px,#bbd 0 16px,#dcd 0 17px,#9ad 0 20px,#67b 0 21px,#89d 0 22px,#9ad 0 24px,#dbb 0 25px,#abd 0 26px,#b9a 0 27px,#d98 0 28px,#daa 0 29px,#9ad 0 30px,#ccd 0 31px,#ea9 0 32px,#eba 0 33px,#e86 0 34px,#9ad 0 35px,#bcd 0 36px,#9bd 0 37px,#99c 0 38px,#ecc 0 39px,#bab 0 40px,#89c 0 41px,#99c 0 42px,#ea9 0 43px,#d87 0 44px,#dcc 0 45px,#67c 0 46px,#eb9 0 47px,#eba 0 48px,#caa 0 49px,#dba 0 50px,#c88 0 52px,#c44 0 53px,#eb9 0 54px,#c99 0 55px,#dbb 0 56px,#ccc 0 57px,#dbb 0 58px,#e87 0 59px,#d76 0 60px,#d87 0 61px,#da9 0 62px,#c55 0 63px,#b23 0 64px,#a12 0 65px,#c55 0 66px,#e87 0 67px,#c33 0 68px,#b23 0 69px,#a12 0 70px,#c33 0 71px,#a12 0 72px,#b23 0 73px,#a12 0 77px,#b23 0 78px,#e98 0 79px,#d76 0 80px,#eaa 0 81px,#d65 0 82px,#b34 0 83px,#ea9 0 84px,#d55 0 85px,#a12 0 86px,#b23 0 88px,#c34 0 89px,#d87 0 91px,#e88 0 92px,#ccd 0 93px,#cab 0 94px,#c44 0 95px,#d65 0 96px,#caa 0 97px,#ecb 0 98px,#ccc 0 99px,#78c 0 100px,#8ad 0 101px,#dcd 0 102px,#bab 0 103px,#9bd 0 104px,#9ac 0 105px,#dcc 0 106px,#bbd 0 107px,#89d 0 108px,#dbb 0 109px)"></i><i style="left:369px;width:3px;background:linear-gradient(#e88 0 1px,#e98 0 2px,#eba 0 3px,#c55 0 4px,#e87 0 5px,#eca 0 6px,#e98 0 7px,#d77 0 8px,#d54 0 9px,#e99 0 10px,#ccd 0 11px,#9ad 0 12px,#daa 0 13px,#a9b 0 14px,#ccd 0 15px,#dcd 0 16px,#da9 0 17px,#ccd 0 18px,#c99 0 19px,#e98 0 21px,#abd 0 22px,#dcc 0 23px,#daa 0 24px,#ecb 0 25px,#e97 0 26px,#c44 0 27px,#e87 0 28px,#bbc 0 29px,#ccd 0 30px,#cbb 0 31px,#d76 0 32px,#d65 0 33px,#daa 0 34px,#68c 0 35px,#8ad 0 36px,#78c 0 37px,#ccd 0 38px,#ebb 0 39px,#9ad 0 40px,#89c 0 41px,#bcd 0 42px,#cbc 0 43px,#ccd 0 45px,#aac 0 46px,#bbd 0 47px,#ddd 0 48px,#cbc 0 49px,#cab 0 50px,#bbc 0 51px,#dbc 0 52px,#ea9 0 53px,#daa 0 54px,#9ac 0 55px,#99c 0 56px,#68c 0 57px,#89c 0 58px,#ccd 0 59px,#daa 0 60px,#bbc 0 61px,#9bd 0 62px,#abd 0 63px,#b9a 0 64px,#eba 0 65px,#e76 0 66px,#ecc 0 67px,#abc 0 68px,#eca 0 69px,#d66 0 70px,#d88 0 71px,#d65 0 72px,#d55 0 73px,#c44 0 74px,#d87 0 75px,#d44 0 76px,#c44 0 77px,#c33 0 78px,#eba 0 79px,#d99 0 80px,#e97 0 81px,#d55 0 82px,#ea9 0 83px,#eb9 0 84px,#e98 0 85px,#e76 0 86px,#e98 0 87px,#c34 0 88px,#d65 0 89px,#eba 0 90px,#bbb 0 91px,#dcc 0 92px,#eba 0 93px,#dba 0 94px,#ea9 0 96px,#cbc 0 97px,#eba 0 98px,#edc 0 99px,#89c 0 100px,#67c 0 102px,#68c 0 103px,#79c 0 104px,#56b 0 105px,#bbd 0 106px,#abd 0 107px,#67b 0 108px,#78c 0 109px)"></i><i style="left:372px;width:2px;background:linear-gradient(#dbb 0 1px,#abc 0 2px,#ccd 0 3px,#d55 0 4px,#e98 0 5px,#ccd 0 6px,#dcc 0 7px,#e97 0 8px,#ea8 0 9px,#e76 0 10px,#cbc 0 11px,#bab 0 12px,#a8a 0 13px,#abd 0 15px,#ccd 0 16px,#bbc 0 17px,#abd 0 18px,#abc 0 19px,#b9a 0 20px,#cbb 0 21px,#ddd 0 22px,#bbd 0 23px,#bbc 0 24px,#da9 0 25px,#dbb 0 26px,#d77 0 27px,#d65 0 28px,#bbc 0 29px,#78c 0 30px,#ccd 0 31px,#c44 0 32px,#d54 0 33px,#d65 0 34px,#caa 0 35px,#ccc 0 36px,#cab 0 37px,#ecb 0 38px,#d88 0 39px,#dcc 0 40px,#bbc 0 41px,#aac 0 42px,#ecc 0 43px,#d99 0 44px,#dcd 0 45px,#cbc 0 46px,#9ad 0 47px,#bbc 0 48px,#c99 0 49px,#c88 0 50px,#ecb 0 51px,#d98 0 52px,#d88 0 53px,#dcc 0 54px,#bab 0 55px,#67b 0 56px,#45b 0 57px,#34a 0 58px,#9ad 0 60px,#89d 0 61px,#45a 0 62px,#56b 0 63px,#77b 0 64px,#89c 0 65px,#ccd 0 66px,#78c 0 67px,#34a 0 68px,#89c 0 69px,#abd 0 70px,#68c 0 71px,#78c 0 72px,#89c 0 73px,#99c 0 74px,#ccd 0 75px,#cab 0 76px,#dcc 0 77px,#bbd 0 78px,#dcd 0 79px,#bbc 0 80px,#ccd 0 81px,#cbc 0 82px,#89d 0 84px,#abd 0 85px,#eba 0 86px,#e87 0 87px,#d88 0 88px,#bbc 0 89px,#abd 0 91px,#dbc 0 92px,#ccd 0 93px,#abd 0 94px,#ea9 0 95px,#c9a 0 96px,#87a 0 97px,#cbc 0 98px,#99c 0 99px,#78c 0 103px,#89d 0 104px,#9ac 0 105px,#ecb 0 106px,#78c 0 107px,#67c 0 108px,#9ad 0 109px)"></i><i style="left:374px;width:3px;background:linear-gradient(#ea9 0 1px,#ccc 0 2px,#ecc 0 3px,#d54 0 4px,#d98 0 5px,#eba 0 6px,#e87 0 8px,#ea8 0 10px,#eba 0 11px,#d77 0 12px,#e76 0 13px,#eba 0 14px,#ddd 0 15px,#ccd 0 16px,#ddd 0 17px,#ccd 0 18px,#ddd 0 19px,#ccd 0 20px,#dcb 0 21px,#bbd 0 22px,#ddd 0 23px,#da9 0 24px,#eba 0 25px,#ccd 0 26px,#e98 0 27px,#dbb 0 29px,#bbd 0 30px,#ecc 0 31px,#d54 0 32px,#c33 0 33px,#e75 0 34px,#ea9 0 35px,#ecb 0 36px,#cbb 0 37px,#dcb 0 38px,#e87 0 39px,#ccd 0 40px,#abd 0 41px,#ccd 0 42px,#dcc 0 43px,#bbc 0 44px,#dcb 0 45px,#bbd 0 46px,#bcd 0 47px,#dcb 0 48px,#ea8 0 49px,#cbc 0 50px,#dcc 0 51px,#eba 0 52px,#ccd 0 53px,#bcd 0 54px,#abd 0 55px,#79c 0 56px,#89d 0 58px,#bcd 0 61px,#57c 0 62px,#89d 0 63px,#ea9 0 64px,#bbc 0 65px,#dcc 0 66px,#abd 0 67px,#89c 0 68px,#ddd 0 69px,#bbc 0 70px,#bcd 0 71px,#9bd 0 72px,#ccd 0 73px,#dcc 0 74px,#cbc 0 75px,#dcc 0 76px,#eba 0 77px,#dcc 0 78px,#78c 0 80px,#bcd 0 81px,#abd 0 82px,#56b 0 83px,#78c 0 84px,#57b 0 85px,#abd 0 86px,#ddd 0 87px,#bbd 0 88px,#8ad 0 89px,#bbc 0 90px,#79c 0 91px,#aad 0 92px,#79c 0 93px,#89c 0 94px,#cbb 0 95px,#79c 0 96px,#68c 0 97px,#8ad 0 98px,#89d 0 99px,#78c 0 101px,#89d 0 102px,#57c 0 103px,#89d 0 104px,#78c 0 105px,#abd 0 106px,#79c 0 107px,#89d 0 109px)"></i><i style="left:377px;width:2px;background:linear-gradient(#d65 0 1px,#ea9 0 3px,#c23 0 4px,#ea9 0 5px,#ecb 0 6px,#e98 0 7px,#d87 0 8px,#e86 0 9px,#c44 0 10px,#e87 0 12px,#eaa 0 13px,#c88 0 14px,#ddd 0 15px,#ccd 0 16px,#dbb 0 17px,#edd 0 18px,#ebb 0 19px,#d98 0 20px,#cbc 0 21px,#9ad 0 22px,#abd 0 23px,#caa 0 24px,#ea9 0 25px,#dcc 0 26px,#cbc 0 27px,#dbc 0 28px,#bbd 0 30px,#ccd 0 31px,#e98 0 32px,#e97 0 33px,#d76 0 34px,#edc 0 35px,#bcd 0 36px,#bbc 0 37px,#abd 0 38px,#ea9 0 39px,#dba 0 40px,#bbc 0 41px,#dbb 0 43px,#e98 0 44px,#ecb 0 45px,#bac 0 46px,#ecb 0 47px,#daa 0 48px,#ebb 0 49px,#dcc 0 51px,#ecc 0 52px,#daa 0 53px,#aac 0 54px,#a9b 0 55px,#bcd 0 56px,#abd 0 58px,#bbd 0 59px,#67b 0 60px,#78c 0 61px,#56b 0 62px,#bac 0 63px,#dcc 0 64px,#bbd 0 65px,#abd 0 67px,#45a 0 68px,#9ad 0 69px,#79d 0 70px,#68c 0 71px,#67c 0 72px,#9ac 0 73px,#9ad 0 74px,#68c 0 75px,#89d 0 77px,#57b 0 78px,#89d 0 79px,#45a 0 80px,#8ad 0 81px,#9ad 0 82px,#89c 0 83px,#abd 0 84px,#78c 0 85px,#aad 0 86px,#bbd 0 87px,#99b 0 88px,#67c 0 89px,#68c 0 90px,#67b 0 91px,#9ac 0 92px,#bbd 0 93px,#ccd 0 94px,#cbc 0 95px,#bbc 0 96px,#56b 0 97px,#9ad 0 98px,#68c 0 99px,#45a 0 100px,#67c 0 101px,#89d 0 102px,#67c 0 103px,#9ad 0 105px,#ccd 0 106px,#89d 0 107px,#56b 0 108px,#46b 0 109px)"></i><i style="left:379px;width:3px;background:linear-gradient(#d54 0 1px,#d98 0 2px,#e98 0 3px,#d77 0 4px,#dcb 0 5px,#99c 0 6px,#8ad 0 7px,#ecc 0 8px,#eba 0 9px,#bbd 0 10px,#e98 0 11px,#ebb 0 12px,#eba 0 13px,#bbc 0 14px,#eba 0 15px,#edd 0 16px,#ea9 0 17px,#d55 0 18px,#d65 0 19px,#e87 0 20px,#d77 0 21px,#c88 0 22px,#ccd 0 23px,#dba 0 24px,#ea8 0 25px,#e87 0 27px,#c77 0 28px,#d87 0 29px,#bbd 0 30px,#dcc 0 31px,#e98 0 32px,#e76 0 33px,#c33 0 34px,#eba 0 35px,#ecc 0 36px,#daa 0 37px,#e98 0 38px,#d44 0 39px,#d99 0 40px,#cbb 0 41px,#cbc 0 42px,#dbb 0 43px,#dba 0 44px,#cbc 0 45px,#89c 0 46px,#99c 0 47px,#ea9 0 48px,#ecc 0 49px,#dba 0 50px,#c99 0 51px,#ea8 0 52px,#d88 0 53px,#dcb 0 54px,#ccc 0 55px,#cbb 0 56px,#dcd 0 57px,#89d 0 58px,#bbd 0 59px,#67b 0 60px,#9ad 0 61px,#78c 0 62px,#89c 0 63px,#edc 0 64px,#dcc 0 65px,#d99 0 66px,#abd 0 67px,#67c 0 68px,#abd 0 69px,#daa 0 70px,#abd 0 71px,#cbc 0 72px,#eba 0 73px,#cbc 0 74px,#da9 0 75px,#bbc 0 76px,#ccc 0 77px,#abd 0 78px,#79c 0 79px,#56b 0 80px,#89d 0 81px,#abd 0 82px,#56b 0 84px,#57b 0 85px,#89d 0 86px,#89c 0 87px,#67b 0 88px,#45a 0 89px,#34a 0 90px,#56b 0 91px,#78c 0 92px,#9ad 0 93px,#78c 0 94px,#bcd 0 95px,#a9b 0 96px,#9ac 0 97px,#ccd 0 98px,#68c 0 99px,#349 0 100px,#34a 0 101px,#66b 0 102px,#78c 0 103px,#67c 0 104px,#66b 0 105px,#79c 0 106px,#67c 0 107px,#56b 0 108px,#78c 0 109px)"></i><i style="left:382px;width:2px;background:linear-gradient(#ccd 0 1px,#abd 0 2px,#bcd 0 3px,#ddc 0 4px,#ccd 0 5px,#78c 0 6px,#89d 0 7px,#aab 0 8px,#ccd 0 9px,#bce 0 10px,#dcd 0 11px,#cbc 0 12px,#bbd 0 14px,#abd 0 16px,#dcd 0 17px,#eba 0 18px,#e75 0 19px,#ebb 0 20px,#dcb 0 21px,#abd 0 22px,#9ad 0 24px,#abd 0 25px,#89c 0 26px,#89d 0 27px,#bbd 0 28px,#ccc 0 29px,#aad 0 30px,#abd 0 31px,#dbb 0 32px,#edc 0 33px,#cbb 0 34px,#78c 0 37px,#bbc 0 38px,#eba 0 39px,#dbb 0 40px,#ecb 0 41px,#e76 0 43px,#c44 0 44px,#e98 0 45px,#ea8 0 46px,#c66 0 47px,#eba 0 48px,#ea8 0 49px,#e98 0 51px,#e87 0 52px,#e98 0 53px,#da9 0 54px,#cbc 0 55px,#daa 0 56px,#eba 0 57px,#e87 0 58px,#d54 0 59px,#c45 0 60px,#ecb 0 62px,#e87 0 63px,#d76 0 64px,#d98 0 65px,#e86 0 66px,#eba 0 67px,#dbb 0 68px,#e87 0 69px,#ea9 0 70px,#cdd 0 71px,#ddd 0 72px,#edd 0 73px,#e97 0 74px,#ea9 0 75px,#ebb 0 76px,#ea9 0 77px,#ecb 0 78px,#edd 0 79px,#bcd 0 80px,#dcb 0 81px,#dcc 0 82px,#bbc 0 83px,#bbd 0 85px,#dbb 0 86px,#ecc 0 87px,#c99 0 88px,#cbc 0 89px,#9ad 0 90px,#bcd 0 91px,#abd 0 93px,#dcc 0 94px,#ccc 0 95px,#ccd 0 96px,#dcc 0 97px,#ccd 0 98px,#67c 0 99px,#56b 0 100px,#78c 0 101px,#bbc 0 102px,#bbd 0 103px,#ddd 0 104px,#eaa 0 105px,#dbb 0 106px,#cbc 0 107px,#eb9 0 108px,#bcd 0 109px)"></i><i style="left:384px;width:3px;background:linear-gradient(#ccd 0 1px,#abd 0 2px,#edc 0 3px,#ccc 0 4px,#abd 0 6px,#ccd 0 7px,#dcc 0 8px,#edd 0 9px,#bbc 0 10px,#cbc 0 11px,#dcc 0 12px,#eca 0 13px,#ebb 0 14px,#bcd 0 16px,#dcc 0 17px,#ddc 0 18px,#dcd 0 19px,#edc 0 20px,#9ac 0 21px,#9ad 0 22px,#9bd 0 23px,#8ad 0 24px,#bbd 0 25px,#dbb 0 26px,#abd 0 27px,#bcd 0 28px,#8ad 0 29px,#79d 0 30px,#abd 0 31px,#ccd 0 32px,#edc 0 33px,#ecc 0 34px,#9ad 0 35px,#abd 0 36px,#89d 0 37px,#ccd 0 38px,#bcd 0 40px,#ddd 0 41px,#edd 0 42px,#ddd 0 43px,#ecb 0 44px,#ccc 0 45px,#9ad 0 46px,#dcd 0 47px,#cdd 0 48px,#8ad 0 49px,#bcd 0 50px,#dcc 0 51px,#dba 0 52px,#eb9 0 53px,#ccd 0 54px,#bbd 0 55px,#ddd 0 56px,#9bd 0 57px,#dcc 0 58px,#edc 0 59px,#abd 0 60px,#bcd 0 61px,#abd 0 62px,#ddd 0 63px,#eba 0 64px,#dcd 0 65px,#edd 0 66px,#ddd 0 67px,#bbd 0 68px,#ddd 0 69px,#dcb 0 70px,#abd 0 71px,#bcd 0 72px,#ecb 0 73px,#ecc 0 74px,#ecb 0 75px,#edd 0 76px,#ea8 0 77px,#e98 0 78px,#ecc 0 79px,#dba 0 80px,#ea8 0 81px,#e98 0 82px,#ea8 0 83px,#ddd 0 84px,#ecb 0 85px,#ea8 0 86px,#e76 0 87px,#e98 0 88px,#edc 0 89px,#ddd 0 90px,#ccd 0 91px,#ecb 0 92px,#dba 0 93px,#ea8 0 94px,#ea9 0 95px,#d99 0 96px,#eca 0 97px,#eb9 0 98px,#ccd 0 99px,#abd 0 100px,#ccd 0 101px,#edc 0 102px,#eba 0 103px,#dcd 0 104px,#bbd 0 105px,#ccd 0 106px,#bbd 0 107px,#79c 0 108px,#67c 0 109px)"></i><i style="left:387px;width:2px;background:linear-gradient(#d65 0 1px,#ea9 0 2px,#e97 0 3px,#d98 0 4px,#ecc 0 5px,#dcc 0 6px,#ea8 0 7px,#eb9 0 8px,#ea9 0 9px,#d65 0 10px,#e98 0 11px,#d44 0 12px,#d55 0 13px,#d54 0 14px,#ecb 0 15px,#edc 0 16px,#e98 0 17px,#e76 0 18px,#e87 0 19px,#d54 0 20px,#e76 0 21px,#ea8 0 22px,#ecb 0 23px,#d87 0 24px,#d55 0 25px,#c33 0 26px,#c66 0 27px,#c55 0 28px,#eba 0 29px,#eca 0 30px,#d65 0 31px,#b13 0 32px,#b23 0 34px,#d54 0 35px,#ecc 0 36px,#cbb 0 37px,#d88 0 38px,#e76 0 39px,#e97 0 40px,#edd 0 41px,#eba 0 42px,#dcb 0 43px,#ea9 0 45px,#d55 0 46px,#d98 0 47px,#dba 0 48px,#dbb 0 49px,#cbc 0 50px,#cab 0 51px,#e87 0 53px,#e98 0 54px,#eba 0 55px,#e98 0 56px,#ea9 0 57px,#eba 0 58px,#e87 0 59px,#d88 0 60px,#edd 0 61px,#dcc 0 62px,#e76 0 63px,#d65 0 64px,#ecb 0 65px,#e88 0 66px,#edd 0 67px,#bbd 0 68px,#dcc 0 69px,#ccd 0 70px,#bbc 0 71px,#cbb 0 72px,#ea9 0 73px,#e98 0 74px,#ccd 0 77px,#dcc 0 78px,#bcd 0 79px,#68c 0 80px,#ccd 0 81px,#bac 0 82px,#ccd 0 83px,#bbd 0 84px,#dcb 0 85px,#cbb 0 86px,#bab 0 87px,#cbc 0 88px,#77b 0 89px,#79d 0 90px,#abd 0 91px,#8ad 0 92px,#89c 0 93px,#ccd 0 94px,#eba 0 95px,#da9 0 96px,#ebb 0 97px,#cdd 0 98px,#bcd 0 99px,#79c 0 100px,#78c 0 101px,#bce 0 102px,#ccd 0 103px,#dcc 0 104px,#eaa 0 105px,#ccd 0 106px,#abd 0 107px,#ccd 0 108px,#9ad 0 109px)"></i><i style="left:389px;width:3px;background:linear-gradient(#d44 0 1px,#eb9 0 2px,#e97 0 3px,#d76 0 4px,#dcc 0 6px,#dba 0 7px,#e87 0 8px,#d66 0 9px,#b13 0 10px,#d65 0 11px,#a12 0 14px,#e76 0 15px,#eb9 0 16px,#c43 0 17px,#d54 0 18px,#e87 0 19px,#d76 0 20px,#c33 0 21px,#e86 0 22px,#ea9 0 23px,#c43 0 24px,#c33 0 25px,#b13 0 26px,#a12 0 28px,#d65 0 29px,#ea9 0 30px,#e75 0 31px,#b13 0 32px,#b23 0 34px,#d65 0 35px,#e87 0 36px,#b23 0 37px,#d65 0 38px,#e87 0 39px,#eb9 0 40px,#daa 0 41px,#ea9 0 42px,#eb9 0 43px,#d99 0 44px,#d87 0 45px,#b13 0 46px,#a12 0 47px,#d54 0 48px,#e76 0 49px,#e98 0 50px,#e87 0 51px,#e97 0 52px,#ea9 0 53px,#e97 0 54px,#da9 0 55px,#ea9 0 56px,#ecb 0 57px,#bac 0 58px,#abd 0 59px,#89c 0 60px,#67c 0 61px,#78c 0 62px,#9ad 0 63px,#dcc 0 64px,#ddd 0 65px,#ea9 0 66px,#edc 0 67px,#9ac 0 70px,#68c 0 71px,#89c 0 72px,#edc 0 73px,#ecb 0 74px,#dbb 0 75px,#bcd 0 76px,#ecb 0 77px,#dcc 0 78px,#abd 0 79px,#56b 0 80px,#78c 0 83px,#89d 0 84px,#45b 0 85px,#78c 0 86px,#9ad 0 87px,#89c 0 88px,#67c 0 89px,#56b 0 90px,#45a 0 91px,#68c 0 92px,#57b 0 93px,#89d 0 94px,#aac 0 95px,#c99 0 96px,#da9 0 97px,#dcb 0 98px,#ccc 0 99px,#67c 0 101px,#79d 0 102px,#aac 0 103px,#bbd 0 104px,#79c 0 105px,#9ad 0 106px,#68c 0 107px,#56b 0 109px)"></i><i style="left:392px;width:2px;background:linear-gradient(#eba 0 2px,#edc 0 3px,#ea9 0 4px,#ecb 0 5px,#eba 0 6px,#e86 0 7px,#d76 0 8px,#e97 0 9px,#eb9 0 10px,#ea8 0 11px,#e86 0 12px,#d44 0 14px,#ecb 0 15px,#ddc 0 16px,#edc 0 17px,#ea8 0 18px,#ea9 0 19px,#ecb 0 21px,#eba 0 22px,#edc 0 23px,#dba 0 24px,#e98 0 25px,#d55 0 26px,#e87 0 27px,#ecb 0 28px,#cbc 0 29px,#ccd 0 30px,#edc 0 31px,#d44 0 32px,#d65 0 33px,#d54 0 34px,#eb9 0 35px,#eba 0 36px,#d98 0 37px,#dcc 0 38px,#ccd 0 39px,#ddd 0 40px,#dbb 0 41px,#cbc 0 42px,#ccd 0 43px,#ccc 0 44px,#ecb 0 45px,#e86 0 46px,#d76 0 47px,#eb9 0 48px,#e98 0 49px,#ea9 0 50px,#abd 0 51px,#9ad 0 53px,#bbc 0 54px,#bbd 0 56px,#9ad 0 57px,#57b 0 58px,#79d 0 59px,#56b 0 60px,#68c 0 61px,#9ad 0 62px,#78c 0 63px,#68c 0 65px,#dcd 0 66px,#bcd 0 67px,#9ad 0 68px,#bcd 0 69px,#abd 0 70px,#79c 0 71px,#89c 0 72px,#ccd 0 73px,#bcd 0 74px,#ccd 0 75px,#9ad 0 79px,#34a 0 80px,#67c 0 81px,#78c 0 83px,#abd 0 84px,#78c 0 85px,#89d 0 88px,#99c 0 89px,#68c 0 90px,#56b 0 91px,#89c 0 92px,#9ad 0 94px,#bcd 0 95px,#cbd 0 96px,#bab 0 97px,#bcd 0 98px,#abd 0 99px,#79c 0 100px,#67c 0 101px,#78c 0 102px,#bbc 0 103px,#ccd 0 104px,#bcd 0 106px,#89d 0 108px,#45b 0 109px)"></i><i style="left:394px;width:3px;background:linear-gradient(#eca 0 1px,#ea8 0 2px,#eb9 0 4px,#ecb 0 5px,#edc 0 6px,#eba 0 9px,#e97 0 10px,#eba 0 11px,#ea8 0 12px,#e65 0 13px,#d65 0 14px,#eba 0 15px,#edc 0 16px,#fca 0 17px,#eb9 0 18px,#ecb 0 19px,#edc 0 20px,#eca 0 21px,#ea8 0 22px,#ecb 0 23px,#ea8 0 24px,#eba 0 25px,#e97 0 26px,#e86 0 27px,#ea8 0 28px,#edc 0 30px,#eb9 0 31px,#e76 0 32px,#e97 0 33px,#e75 0 34px,#ea9 0 35px,#edd 0 36px,#ecb 0 37px,#dcc 0 38px,#cdd 0 39px,#edd 0 40px,#edc 0 41px,#eca 0 42px,#edc 0 43px,#edd 0 44px,#ecb 0 45px,#e86 0 46px,#e75 0 47px,#ea8 0 48px,#eba 0 49px,#ecb 0 51px,#edc 0 52px,#ddd 0 53px,#ccd 0 54px,#ecc 0 55px,#ecb 0 56px,#bcd 0 57px,#79d 0 58px,#bce 0 59px,#bcd 0 61px,#ccd 0 62px,#dcd 0 63px,#ccd 0 65px,#ddd 0 67px,#abd 0 68px,#dcd 0 69px,#abd 0 70px,#9ad 0 72px,#ddd 0 73px,#dcc 0 74px,#ccd 0 76px,#ecc 0 77px,#dcc 0 78px,#ddd 0 80px,#bcd 0 81px,#abd 0 82px,#ddd 0 83px,#cde 0 84px,#bcd 0 85px,#ddd 0 86px,#cdd 0 87px,#ddd 0 88px,#cce 0 89px,#bce 0 90px,#abd 0 91px,#bbd 0 92px,#bce 0 93px,#cde 0 94px,#ddd 0 96px,#edc 0 97px,#ddd 0 98px,#ccd 0 99px,#abd 0 100px,#bce 0 101px,#dde 0 102px,#eba 0 103px,#ecb 0 105px,#ddd 0 106px,#cde 0 107px,#89d 0 108px,#79d 0 109px)"></i><i style="left:397px;width:2px;background:linear-gradient(#daa 0 1px,#d88 0 2px,#e87 0 3px,#c55 0 4px,#d88 0 5px,#cbc 0 6px,#d76 0 7px,#ea9 0 8px,#d77 0 9px,#d66 0 10px,#d88 0 12px,#c44 0 13px,#c55 0 14px,#ebb 0 15px,#eba 0 16px,#d87 0 17px,#b33 0 18px,#e76 0 19px,#c33 0 20px,#c55 0 21px,#d55 0 22px,#e97 0 23px,#d54 0 24px,#d87 0 25px,#b34 0 26px,#b23 0 28px,#d54 0 29px,#e98 0 30px,#e76 0 31px,#b13 0 32px,#b23 0 33px,#b13 0 34px,#d88 0 35px,#eba 0 36px,#c99 0 37px,#cbc 0 39px,#e87 0 40px,#b13 0 42px,#d66 0 43px,#e88 0 44px,#d87 0 45px,#b23 0 46px,#c34 0 47px,#c44 0 48px,#d66 0 49px,#bab 0 50px,#dbb 0 51px,#d54 0 52px,#d65 0 53px,#b23 0 54px,#d55 0 55px,#d44 0 56px,#d65 0 57px,#d99 0 58px,#d66 0 59px,#c33 0 60px,#e87 0 61px,#d87 0 62px,#b23 0 63px,#c33 0 64px,#c56 0 65px,#b23 0 66px,#c33 0 67px,#b13 0 68px,#e76 0 69px,#d65 0 70px,#bcd 0 71px,#bbc 0 72px,#eca 0 73px,#cab 0 74px,#eba 0 75px,#daa 0 76px,#eb9 0 77px,#dbb 0 78px,#ecc 0 79px,#bbc 0 80px,#ecb 0 81px,#e98 0 82px,#c77 0 83px,#dbb 0 84px,#da9 0 85px,#eaa 0 86px,#99c 0 87px,#78c 0 88px,#bac 0 89px,#eb9 0 90px,#cbb 0 91px,#eba 0 92px,#e87 0 93px,#ea8 0 94px,#d65 0 95px,#b24 0 96px,#b23 0 97px,#d65 0 98px,#ea9 0 99px,#cbc 0 100px,#bbd 0 101px,#dcc 0 102px,#e98 0 103px,#e76 0 104px,#d77 0 105px,#d98 0 106px,#e65 0 107px,#dcc 0 108px,#45b 0 109px)"></i><i style="left:399px;width:3px;background:linear-gradient(#ddd 0 2px,#edd 0 3px,#ddd 0 4px,#cde 0 5px,#ddd 0 6px,#edd 0 7px,#edc 0 8px,#edd 0 9px,#ddd 0 10px,#edd 0 12px,#dcd 0 13px,#ecb 0 14px,#edd 0 16px,#ddd 0 19px,#cce 0 20px,#ddc 0 21px,#ddd 0 24px,#edc 0 25px,#ddd 0 26px,#dde 0 27px,#ccd 0 29px,#bcd 0 30px,#cde 0 31px,#edd 0 32px,#ddd 0 34px,#ccd 0 35px,#bce 0 36px,#ccd 0 37px,#9ad 0 38px,#8ad 0 39px,#abd 0 40px,#ddd 0 41px,#edc 0 42px,#edd 0 43px,#edc 0 44px,#cde 0 45px,#ccd 0 46px,#ebb 0 47px,#ddd 0 48px,#edc 0 49px,#ccd 0 50px,#ddd 0 54px,#edd 0 55px,#ecc 0 56px,#ddd 0 57px,#ccd 0 58px,#ddd 0 59px,#edc 0 60px,#eba 0 61px,#edc 0 62px,#eb9 0 63px,#eca 0 64px,#ddd 0 65px,#ecc 0 66px,#eca 0 67px,#ecb 0 69px,#edc 0 70px,#bcd 0 71px,#ddd 0 73px,#ecb 0 74px,#edc 0 75px,#edd 0 76px,#edc 0 77px,#ecb 0 78px,#edc 0 79px,#ecc 0 80px,#edc 0 82px,#ccd 0 83px,#ddd 0 85px,#edd 0 86px,#ddd 0 87px,#bce 0 88px,#ddd 0 90px,#cdd 0 91px,#edd 0 92px,#ddd 0 93px,#cde 0 94px,#ccd 0 95px,#ddd 0 96px,#ebb 0 97px,#edd 0 98px,#ddd 0 99px,#abe 0 100px,#ccd 0 102px,#cde 0 103px,#ddd 0 104px,#ccd 0 105px,#ddd 0 106px,#edd 0 107px,#dcc 0 108px,#abd 0 109px)"></i><i style="left:402px;width:2px;background:linear-gradient(#dcd 0 1px,#a9b 0 2px,#abd 0 3px,#78c 0 4px,#bbc 0 5px,#a9b 0 6px,#eba 0 7px,#dcc 0 8px,#89c 0 9px,#78c 0 10px,#89c 0 11px,#bbc 0 12px,#caa 0 13px,#c99 0 14px,#cdd 0 15px,#dcc 0 16px,#eca 0 17px,#dcc 0 18px,#e98 0 19px,#c99 0 20px,#ea9 0 21px,#c99 0 22px,#abc 0 23px,#ccd 0 24px,#bbc 0 25px,#abd 0 26px,#bcd 0 27px,#98b 0 28px,#89c 0 29px,#67b 0 30px,#9ad 0 31px,#abd 0 32px,#bcd 0 33px,#89c 0 35px,#56b 0 36px,#34a 0 37px,#45a 0 38px,#34a 0 39px,#a9b 0 40px,#d87 0 41px,#d54 0 42px,#cbc 0 43px,#89c 0 44px,#aad 0 45px,#9ac 0 46px,#d76 0 47px,#dba 0 48px,#99c 0 49px,#8ad 0 50px,#89b 0 51px,#e98 0 52px,#cbb 0 53px,#88b 0 54px,#bbc 0 55px,#dcc 0 56px,#89d 0 57px,#88b 0 58px,#dcc 0 59px,#d65 0 60px,#d76 0 61px,#d65 0 62px,#c66 0 63px,#c33 0 64px,#d66 0 65px,#c34 0 66px,#d55 0 67px,#b34 0 68px,#c55 0 69px,#c44 0 70px,#d98 0 71px,#d66 0 72px,#c55 0 73px,#d66 0 74px,#dba 0 75px,#da9 0 76px,#ea9 0 77px,#c88 0 78px,#ea9 0 79px,#e98 0 82px,#88b 0 83px,#cbc 0 84px,#b9a 0 85px,#e87 0 86px,#d76 0 87px,#da9 0 88px,#e98 0 89px,#b23 0 91px,#c34 0 92px,#c44 0 93px,#d66 0 94px,#daa 0 95px,#d77 0 96px,#c33 0 97px,#d88 0 98px,#bcd 0 99px,#bbd 0 100px,#ccc 0 101px,#dbb 0 102px,#c66 0 103px,#c54 0 104px,#d66 0 105px,#ea9 0 106px,#d99 0 107px,#dbb 0 108px,#45a 0 109px)"></i><i style="left:404px;width:3px;background:linear-gradient(#ddd 0 1px,#dba 0 2px,#cce 0 3px,#8ad 0 4px,#79c 0 5px,#aad 0 6px,#abd 0 7px,#89c 0 8px,#9ac 0 9px,#78c 0 10px,#abd 0 11px,#9ad 0 12px,#ccc 0 13px,#dcc 0 14px,#ccd 0 15px,#ddd 0 16px,#bcd 0 17px,#89c 0 18px,#9ad 0 19px,#79d 0 20px,#56b 0 21px,#89d 0 22px,#9bd 0 23px,#89c 0 24px,#dbb 0 26px,#aac 0 27px,#cbc 0 28px,#9ad 0 29px,#68c 0 30px,#9ad 0 31px,#ecb 0 32px,#ddd 0 33px,#eba 0 34px,#dbc 0 35px,#eca 0 36px,#cbc 0 37px,#bcd 0 38px,#abd 0 39px,#b9b 0 40px,#ea8 0 41px,#e86 0 42px,#dcc 0 43px,#dbb 0 44px,#aac 0 45px,#ccd 0 46px,#cbb 0 47px,#bbd 0 48px,#abd 0 49px,#78c 0 50px,#caa 0 51px,#cbc 0 52px,#bcd 0 53px,#89c 0 54px,#abd 0 55px,#99c 0 56px,#8ad 0 57px,#abd 0 58px,#bcd 0 59px,#dcc 0 61px,#ecc 0 62px,#e87 0 63px,#c44 0 64px,#e98 0 65px,#e97 0 66px,#d76 0 67px,#d65 0 68px,#eba 0 69px,#dcd 0 70px,#ccd 0 71px,#eba 0 72px,#ecc 0 73px,#d87 0 74px,#e98 0 76px,#e87 0 77px,#c66 0 78px,#ecc 0 80px,#e97 0 81px,#e98 0 82px,#d98 0 83px,#ecc 0 84px,#dbb 0 85px,#dcc 0 86px,#9ad 0 87px,#abd 0 88px,#cbb 0 89px,#d76 0 90px,#d77 0 91px,#dcb 0 92px,#d98 0 93px,#eba 0 94px,#daa 0 95px,#cbc 0 96px,#d98 0 97px,#e97 0 98px,#cbb 0 99px,#9ad 0 100px,#bbc 0 101px,#ccd 0 102px,#ea9 0 104px,#c99 0 105px,#ddd 0 106px,#ea8 0 107px,#eba 0 108px,#46b 0 109px)"></i><i style="left:407px;width:2px;background:linear-gradient(#349 0 1px,#34a 0 2px,#57c 0 3px,#45b 0 4px,#34a 0 5px,#67b 0 6px,#78c 0 7px,#56b 0 9px,#34a 0 11px,#56b 0 12px,#67b 0 13px,#56b 0 14px,#9ad 0 15px,#bbd 0 16px,#89d 0 19px,#79c 0 20px,#9ac 0 21px,#89d 0 22px,#46b 0 23px,#34a 0 24px,#46b 0 25px,#56b 0 27px,#79c 0 28px,#78c 0 29px,#67c 0 30px,#8ad 0 31px,#89d 0 32px,#bbd 0 33px,#cbc 0 34px,#abd 0 35px,#bbd 0 36px,#79c 0 37px,#57c 0 38px,#45b 0 39px,#57c 0 40px,#ea9 0 41px,#ea8 0 42px,#edc 0 43px,#cbd 0 44px,#ccd 0 45px,#caa 0 46px,#ddd 0 48px,#9ad 0 49px,#89d 0 50px,#bab 0 51px,#dbb 0 52px,#dcc 0 53px,#bbc 0 54px,#ccd 0 55px,#dcc 0 56px,#9ad 0 57px,#abd 0 58px,#dbb 0 59px,#ea9 0 61px,#ecb 0 62px,#eba 0 63px,#d76 0 64px,#c44 0 65px,#c34 0 66px,#d54 0 67px,#c44 0 68px,#d54 0 69px,#eca 0 70px,#bbc 0 71px,#cbc 0 72px,#ecb 0 73px,#e87 0 74px,#ea8 0 75px,#da9 0 76px,#d66 0 77px,#d87 0 78px,#ea9 0 79px,#e87 0 80px,#eba 0 81px,#ea8 0 82px,#bab 0 83px,#bbd 0 84px,#bcd 0 85px,#ecb 0 86px,#dcc 0 87px,#ccc 0 88px,#ea9 0 89px,#e87 0 90px,#da9 0 91px,#daa 0 92px,#e87 0 93px,#eca 0 94px,#dcc 0 95px,#e98 0 96px,#eba 0 97px,#edc 0 98px,#bbd 0 99px,#ccd 0 100px,#9bd 0 101px,#9ad 0 102px,#eba 0 103px,#ea9 0 104px,#eba 0 105px,#ccd 0 106px,#abd 0 107px,#9bd 0 108px,#45b 0 109px)"></i><i style="left:409px;width:3px;background:linear-gradient(#89d 0 1px,#bbc 0 2px,#89d 0 3px,#45a 0 4px,#56b 0 5px,#9bd 0 6px,#abd 0 7px,#bce 0 8px,#abd 0 9px,#9ad 0 10px,#9bd 0 11px,#abd 0 12px,#cab 0 13px,#ddd 0 14px,#cdd 0 15px,#ccd 0 16px,#ddd 0 17px,#bbd 0 18px,#89d 0 19px,#68c 0 20px,#abd 0 21px,#79c 0 22px,#78c 0 23px,#57c 0 24px,#9ad 0 25px,#89c 0 26px,#abd 0 27px,#a9b 0 28px,#78c 0 29px,#67c 0 30px,#78c 0 31px,#abd 0 32px,#bcd 0 33px,#abd 0 34px,#dcd 0 35px,#bbc 0 36px,#89d 0 37px,#68c 0 39px,#bbd 0 40px,#eba 0 42px,#abd 0 44px,#ccd 0 45px,#dcb 0 46px,#dbb 0 47px,#ecc 0 48px,#bbd 0 49px,#ecb 0 50px,#e76 0 52px,#dbb 0 53px,#d99 0 54px,#eba 0 55px,#eb9 0 56px,#ea8 0 57px,#eba 0 58px,#da9 0 59px,#c44 0 60px,#d44 0 61px,#ea8 0 62px,#ecb 0 63px,#e65 0 64px,#c33 0 65px,#c23 0 66px,#d44 0 67px,#c23 0 68px,#c44 0 69px,#e76 0 70px,#ecb 0 71px,#d76 0 72px,#d65 0 73px,#d44 0 74px,#d55 0 75px,#e97 0 76px,#dba 0 77px,#d87 0 78px,#ea9 0 79px,#e98 0 80px,#dbb 0 81px,#ea9 0 82px,#ea8 0 83px,#ddd 0 84px,#abd 0 85px,#bbd 0 86px,#ddd 0 87px,#aad 0 88px,#89c 0 89px,#bbd 0 91px,#ccd 0 92px,#dcc 0 93px,#9ac 0 94px,#bbc 0 95px,#aac 0 96px,#aad 0 97px,#9ad 0 98px,#78c 0 99px,#bbd 0 100px,#edc 0 101px,#bcd 0 102px,#e98 0 103px,#ea8 0 104px,#ea9 0 105px,#bcd 0 106px,#dba 0 107px,#c55 0 108px,#bbd 0 109px)"></i><i style="left:412px;width:2px;background:linear-gradient(#89d 0 1px,#abd 0 2px,#bbd 0 3px,#aac 0 4px,#9ad 0 5px,#abd 0 6px,#dcc 0 7px,#ddd 0 8px,#9ad 0 9px,#68c 0 10px,#8ad 0 11px,#89c 0 12px,#ccc 0 13px,#78c 0 14px,#bce 0 15px,#ddd 0 16px,#dcc 0 17px,#ecc 0 18px,#bcd 0 20px,#eca 0 21px,#dcb 0 22px,#aad 0 23px,#78c 0 24px,#9bd 0 25px,#9ad 0 26px,#89c 0 27px,#8ad 0 28px,#78c 0 29px,#9ad 0 30px,#ccd 0 31px,#78c 0 32px,#68c 0 33px,#8ad 0 34px,#ccc 0 36px,#68c 0 37px,#78c 0 38px,#abd 0 39px,#bcd 0 40px,#eba 0 42px,#ddd 0 43px,#8ad 0 44px,#ddd 0 45px,#ccd 0 46px,#bbd 0 47px,#8ad 0 48px,#9ad 0 49px,#89c 0 50px,#bcd 0 51px,#ccd 0 52px,#bbd 0 53px,#ccd 0 54px,#aad 0 55px,#9ac 0 56px,#dcc 0 57px,#ccd 0 58px,#abd 0 59px,#eaa 0 60px,#ecb 0 61px,#dcd 0 62px,#89c 0 63px,#caa 0 64px,#e86 0 65px,#e76 0 66px,#ea8 0 67px,#e76 0 68px,#e98 0 69px,#ccd 0 71px,#ecb 0 72px,#e87 0 73px,#c33 0 74px,#e98 0 75px,#eb9 0 76px,#ea8 0 77px,#e98 0 78px,#ea9 0 79px,#da9 0 80px,#ecb 0 82px,#dcb 0 83px,#ddd 0 84px,#eba 0 85px,#eb9 0 86px,#da9 0 87px,#bbd 0 88px,#ccd 0 90px,#dcc 0 92px,#bcd 0 93px,#eba 0 94px,#dcc 0 96px,#edc 0 97px,#ccd 0 98px,#8ad 0 99px,#bcd 0 100px,#abd 0 102px,#ea9 0 103px,#e87 0 104px,#dbb 0 105px,#cce 0 106px,#ecc 0 107px,#d66 0 108px,#bbc 0 109px)"></i><i style="left:414px;width:2px;background:linear-gradient(#8ad 0 1px,#ccd 0 2px,#abd 0 3px,#78c 0 4px,#9ad 0 5px,#bcd 0 6px,#bce 0 7px,#abd 0 9px,#9bd 0 10px,#9ad 0 11px,#ccd 0 12px,#cbb 0 13px,#ecb 0 14px,#edd 0 15px,#ecb 0 16px,#eb9 0 17px,#ecb 0 18px,#edc 0 19px,#ecc 0 20px,#e98 0 22px,#ecb 0 23px,#dcc 0 24px,#ecc 0 25px,#ea8 0 26px,#ecb 0 27px,#ea9 0 28px,#dba 0 29px,#dcc 0 30px,#ecc 0 31px,#ecb 0 32px,#ddd 0 33px,#ea9 0 34px,#eca 0 35px,#dcc 0 36px,#8ad 0 37px,#abd 0 38px,#ccd 0 39px,#ecc 0 40px,#e97 0 41px,#ecb 0 42px,#edc 0 43px,#eba 0 45px,#dcb 0 46px,#eba 0 47px,#eb9 0 48px,#ddd 0 49px,#bce 0 50px,#ecb 0 51px,#ea8 0 53px,#edc 0 54px,#ccd 0 55px,#dcc 0 56px,#dbc 0 57px,#ccd 0 58px,#edc 0 59px,#e76 0 60px,#ea8 0 61px,#ecc 0 62px,#cbc 0 63px,#d99 0 64px,#eba 0 65px,#e65 0 66px,#eb9 0 67px,#ea9 0 68px,#eba 0 69px,#ecb 0 71px,#dbc 0 72px,#eba 0 73px,#e87 0 74px,#ea9 0 75px,#ecc 0 76px,#ecb 0 77px,#bbd 0 78px,#dcc 0 79px,#ccd 0 80px,#ddd 0 81px,#ecb 0 82px,#cdd 0 83px,#abd 0 84px,#8ad 0 85px,#bcd 0 86px,#dcc 0 87px,#abd 0 88px,#bbc 0 89px,#ccd 0 90px,#dcd 0 91px,#ddd 0 92px,#dbc 0 93px,#ecb 0 94px,#eba 0 95px,#abd 0 96px,#ccd 0 97px,#cce 0 98px,#9ad 0 99px,#ddd 0 100px,#bcd 0 102px,#ea9 0 103px,#e76 0 104px,#dcb 0 105px,#ccd 0 106px,#dcd 0 107px,#d76 0 108px,#ebb 0 109px)"></i><i style="left:416px;width:3px;background:linear-gradient(#ecc 0 1px,#dcc 0 2px,#edc 0 3px,#bbd 0 4px,#bcd 0 5px,#ddd 0 6px,#e98 0 7px,#dcc 0 8px,#bcd 0 9px,#aac 0 10px,#abd 0 11px,#caa 0 12px,#da9 0 13px,#dcc 0 14px,#ddd 0 16px,#eba 0 17px,#ecb 0 18px,#ccd 0 19px,#ddd 0 20px,#daa 0 21px,#da9 0 22px,#abd 0 23px,#9ad 0 24px,#ccd 0 25px,#d77 0 26px,#c88 0 27px,#e97 0 28px,#bcd 0 29px,#ccc 0 30px,#ecc 0 31px,#ebb 0 32px,#dcd 0 33px,#ecb 0 34px,#cbc 0 35px,#dbb 0 36px,#67c 0 37px,#89c 0 38px,#aad 0 39px,#aac 0 40px,#ecc 0 41px,#eba 0 42px,#bcd 0 44px,#ccd 0 45px,#c99 0 46px,#ecb 0 47px,#cbc 0 48px,#ccc 0 49px,#ccd 0 52px,#9bd 0 53px,#cbc 0 54px,#ccd 0 57px,#dcc 0 58px,#bcd 0 59px,#e76 0 60px,#ea9 0 61px,#ecb 0 62px,#caa 0 63px,#e87 0 64px,#d44 0 65px,#e97 0 66px,#eb9 0 67px,#d88 0 68px,#ea9 0 69px,#e76 0 70px,#e98 0 71px,#d88 0 72px,#e65 0 74px,#c44 0 75px,#ea8 0 76px,#eba 0 77px,#e97 0 78px,#dcc 0 79px,#abd 0 80px,#ccd 0 81px,#eb9 0 83px,#ecb 0 84px,#abd 0 85px,#dcc 0 86px,#eb9 0 87px,#cbc 0 88px,#dcc 0 90px,#dbb 0 91px,#abd 0 92px,#ccd 0 93px,#dcc 0 94px,#bcd 0 95px,#abd 0 96px,#ccd 0 97px,#ddd 0 98px,#9ad 0 99px,#abd 0 100px,#9ad 0 101px,#ddd 0 102px,#e75 0 103px,#e87 0 104px,#e98 0 105px,#bcd 0 106px,#ea8 0 107px,#e87 0 108px,#8ad 0 109px)"></i><i style="left:419px;width:2px;background:linear-gradient(#9ad 0 1px,#ecb 0 2px,#eb9 0 3px,#edd 0 4px,#ccd 0 5px,#eca 0 6px,#e99 0 7px,#dcd 0 8px,#ddd 0 9px,#bac 0 10px,#dcc 0 11px,#ccd 0 12px,#ecb 0 13px,#eba 0 14px,#edc 0 15px,#edd 0 16px,#dcc 0 17px,#dbb 0 18px,#edc 0 19px,#ccd 0 20px,#eba 0 21px,#ccd 0 22px,#ddd 0 23px,#abd 0 24px,#bbd 0 25px,#ecc 0 26px,#eba 0 27px,#e97 0 28px,#abd 0 29px,#bcd 0 30px,#dcc 0 31px,#ecb 0 32px,#ccd 0 33px,#bcd 0 34px,#9ad 0 35px,#cbc 0 36px,#89c 0 37px,#79d 0 38px,#9ad 0 39px,#cab 0 40px,#ecb 0 41px,#eb9 0 42px,#edd 0 43px,#bcd 0 44px,#bbd 0 45px,#bab 0 46px,#abd 0 49px,#bbd 0 50px,#89d 0 51px,#bbc 0 52px,#9ac 0 53px,#abd 0 55px,#9ad 0 57px,#68c 0 58px,#9ad 0 59px,#bbc 0 60px,#ecb 0 61px,#abd 0 62px,#cdd 0 63px,#ecb 0 64px,#ccd 0 65px,#dcc 0 66px,#cdd 0 67px,#bcd 0 68px,#edc 0 69px,#ccd 0 70px,#9ad 0 71px,#78c 0 72px,#abd 0 73px,#dcc 0 74px,#ddd 0 75px,#abd 0 76px,#ccd 0 77px,#cbc 0 78px,#9ad 0 79px,#34a 0 80px,#57c 0 81px,#9ad 0 82px,#abd 0 83px,#9ad 0 84px,#78c 0 85px,#abd 0 86px,#89c 0 87px,#68c 0 88px,#9ad 0 89px,#edd 0 90px,#ccd 0 91px,#8ad 0 92px,#ccd 0 93px,#ddd 0 94px,#ccd 0 95px,#ddd 0 96px,#bcd 0 97px,#bbd 0 98px,#78c 0 99px,#9ad 0 101px,#bcd 0 102px,#ecb 0 103px,#eca 0 104px,#cbb 0 105px,#abd 0 106px,#bcd 0 107px,#ea9 0 108px,#9ad 0 109px)"></i><i style="left:421px;width:3px;background:linear-gradient(#abd 0 1px,#c33 0 2px,#e76 0 3px,#dcc 0 4px,#e99 0 5px,#e76 0 6px,#e86 0 7px,#eba 0 8px,#ddd 0 9px,#d88 0 10px,#eba 0 11px,#dcc 0 12px,#b23 0 13px,#b13 0 14px,#ea8 0 15px,#ea9 0 16px,#e76 0 17px,#e86 0 18px,#e87 0 19px,#d87 0 20px,#d65 0 21px,#c44 0 22px,#e75 0 23px,#b9a 0 24px,#d77 0 25px,#b34 0 26px,#b13 0 27px,#b23 0 28px,#e97 0 29px,#dcc 0 30px,#e76 0 31px,#c23 0 32px,#e76 0 33px,#d66 0 34px,#c66 0 35px,#d55 0 36px,#c89 0 37px,#daa 0 38px,#eba 0 39px,#d65 0 40px,#c34 0 41px,#b13 0 42px,#c34 0 43px,#d76 0 44px,#c9a 0 45px,#c66 0 46px,#e87 0 47px,#a9a 0 48px,#bcd 0 49px,#bbb 0 50px,#99c 0 51px,#cbb 0 52px,#abd 0 53px,#bbd 0 54px,#aac 0 55px,#9ac 0 56px,#abd 0 57px,#9ad 0 58px,#abd 0 59px,#da9 0 60px,#d98 0 61px,#ecb 0 62px,#ea9 0 63px,#c34 0 64px,#c66 0 65px,#d76 0 66px,#ea9 0 67px,#d87 0 68px,#d76 0 69px,#ecb 0 70px,#cbc 0 71px,#d98 0 72px,#d66 0 73px,#d55 0 74px,#eaa 0 75px,#d88 0 76px,#d75 0 77px,#b23 0 78px,#ccd 0 79px,#99c 0 80px,#89d 0 81px,#e87 0 82px,#d99 0 83px,#ecb 0 84px,#67b 0 85px,#dcc 0 86px,#bab 0 87px,#dcd 0 88px,#e87 0 89px,#da9 0 90px,#cbb 0 91px,#9ad 0 92px,#cbb 0 93px,#dbb 0 94px,#bbc 0 95px,#dbb 0 96px,#dba 0 97px,#ecb 0 98px,#abd 0 99px,#ccd 0 100px,#bbc 0 101px,#bcd 0 102px,#da9 0 103px,#ea9 0 104px,#dbb 0 105px,#abd 0 106px,#eba 0 107px,#eaa 0 108px,#67b 0 109px)"></i><i style="left:424px;width:2px;background:linear-gradient(#ddd 0 1px,#eba 0 2px,#fba 0 3px,#eba 0 4px,#ecb 0 5px,#fca 0 6px,#eba 0 7px,#ecb 0 11px,#eb9 0 12px,#e97 0 14px,#edc 0 16px,#eca 0 17px,#ecb 0 20px,#eca 0 21px,#ea9 0 22px,#edc 0 23px,#ccd 0 24px,#edc 0 25px,#ecc 0 26px,#ecb 0 27px,#ecc 0 28px,#cce 0 29px,#abd 0 30px,#ddd 0 31px,#ecc 0 32px,#edd 0 33px,#ddd 0 35px,#edc 0 36px,#ddd 0 37px,#ccd 0 39px,#ddd 0 40px,#ecb 0 42px,#edc 0 43px,#ddd 0 46px,#edc 0 47px,#bcd 0 49px,#bce 0 50px,#bbd 0 51px,#bcd 0 53px,#ccd 0 54px,#ddd 0 56px,#dde 0 57px,#ccd 0 59px,#dcc 0 60px,#edc 0 62px,#ecb 0 63px,#ea8 0 64px,#eb9 0 65px,#eca 0 66px,#ecb 0 68px,#eb9 0 69px,#e98 0 70px,#edc 0 72px,#eca 0 73px,#ea8 0 74px,#eb9 0 75px,#edc 0 76px,#ecc 0 77px,#eb9 0 78px,#edc 0 79px,#dcd 0 80px,#ddd 0 81px,#eb9 0 82px,#e65 0 83px,#ecb 0 85px,#edc 0 86px,#ecb 0 87px,#ddd 0 88px,#ecb 0 89px,#ea8 0 90px,#edc 0 91px,#cce 0 92px,#edc 0 95px,#ccc 0 96px,#ecb 0 97px,#ddd 0 98px,#cdd 0 99px,#cce 0 100px,#ddd 0 101px,#edd 0 102px,#eb9 0 103px,#ea8 0 104px,#ecc 0 105px,#dcd 0 106px,#cce 0 107px,#ddd 0 108px,#abd 0 109px)"></i><i style="left:426px;width:3px;background:linear-gradient(#67c 0 1px,#abd 0 2px,#ccd 0 3px,#79d 0 4px,#89d 0 5px,#8ad 0 6px,#bcd 0 7px,#8ad 0 8px,#9ad 0 10px,#bbd 0 11px,#bcd 0 12px,#eba 0 13px,#e97 0 14px,#edc 0 15px,#edd 0 16px,#ddd 0 17px,#ccd 0 18px,#abd 0 20px,#9ad 0 21px,#abd 0 22px,#89d 0 23px,#89c 0 24px,#bce 0 25px,#ecb 0 26px,#ccd 0 29px,#bbd 0 30px,#dcc 0 31px,#e97 0 32px,#edc 0 33px,#dcc 0 34px,#dbb 0 35px,#edd 0 36px,#abd 0 37px,#89c 0 38px,#89d 0 39px,#abd 0 40px,#ddd 0 41px,#edc 0 42px,#dcc 0 43px,#bcd 0 44px,#dcc 0 45px,#ddd 0 46px,#ccd 0 47px,#bce 0 48px,#9ad 0 49px,#89c 0 50px,#bbd 0 51px,#ecb 0 53px,#cbc 0 54px,#dcd 0 55px,#bbc 0 56px,#bcd 0 57px,#89d 0 58px,#bce 0 59px,#ccd 0 60px,#dbb 0 61px,#edc 0 62px,#ddd 0 63px,#ccd 0 64px,#edc 0 65px,#ecb 0 66px,#eca 0 67px,#ccd 0 68px,#ecb 0 69px,#ea8 0 70px,#ddd 0 71px,#bcd 0 72px,#ecc 0 73px,#ea8 0 76px,#eb9 0 77px,#d54 0 78px,#ea9 0 79px,#ddd 0 80px,#edc 0 81px,#ea8 0 82px,#e97 0 83px,#edc 0 84px,#abd 0 86px,#edc 0 87px,#ecc 0 88px,#ea9 0 89px,#eba 0 90px,#e97 0 91px,#ebb 0 92px,#ea9 0 93px,#ecb 0 94px,#dbb 0 95px,#eba 0 96px,#ea8 0 97px,#ecb 0 98px,#ddd 0 99px,#bbd 0 100px,#cce 0 101px,#abd 0 102px,#eba 0 103px,#ecb 0 104px,#cdd 0 105px,#dcc 0 106px,#eb9 0 107px,#d66 0 108px,#edc 0 109px)"></i><i style="left:429px;width:2px;background:linear-gradient(#ddd 0 1px,#eb9 0 2px,#dcc 0 3px,#bbd 0 4px,#9ad 0 5px,#cce 0 6px,#bbd 0 7px,#abd 0 8px,#9ad 0 9px,#bbd 0 10px,#dcc 0 11px,#caa 0 12px,#e76 0 14px,#eba 0 15px,#ecb 0 16px,#ecc 0 17px,#bce 0 18px,#bbd 0 19px,#bbc 0 20px,#dcc 0 21px,#bbc 0 22px,#bcd 0 23px,#aac 0 24px,#ecb 0 25px,#e87 0 26px,#edd 0 27px,#edc 0 28px,#abd 0 29px,#bbc 0 30px,#dcc 0 31px,#ecc 0 32px,#ccd 0 33px,#dcc 0 34px,#ccd 0 35px,#ddd 0 36px,#abd 0 37px,#89d 0 38px,#78c 0 40px,#ccd 0 41px,#bbd 0 42px,#dcd 0 43px,#bcd 0 44px,#9ad 0 45px,#89d 0 46px,#abd 0 47px,#8ad 0 48px,#67c 0 49px,#45a 0 50px,#57b 0 51px,#9ad 0 52px,#68c 0 53px,#34a 0 54px,#46b 0 55px,#67c 0 56px,#89c 0 57px,#67c 0 58px,#9ad 0 59px,#89c 0 60px,#bbd 0 61px,#bcd 0 62px,#79c 0 63px,#78c 0 64px,#9ad 0 65px,#ccd 0 66px,#ddd 0 67px,#dbc 0 68px,#cbc 0 69px,#abd 0 71px,#9ad 0 72px,#edc 0 73px,#ccc 0 74px,#eba 0 75px,#dcd 0 76px,#ddd 0 77px,#cab 0 78px,#ccd 0 79px,#abd 0 80px,#ccd 0 81px,#ccc 0 82px,#dcc 0 83px,#bbd 0 84px,#9ad 0 85px,#79d 0 86px,#99c 0 87px,#dcc 0 88px,#ecb 0 89px,#ccd 0 90px,#abd 0 91px,#cdd 0 92px,#dcc 0 93px,#ccd 0 94px,#dcb 0 95px,#ecb 0 96px,#dbb 0 97px,#dcc 0 98px,#abd 0 99px,#ccd 0 100px,#bbd 0 101px,#bcd 0 102px,#dbb 0 103px,#ea9 0 104px,#bbd 0 105px,#ddd 0 106px,#dcb 0 107px,#ecb 0 108px,#eba 0 109px)"></i><i style="left:431px;width:3px;background:linear-gradient(#78c 0 1px,#cbc 0 2px,#ccd 0 3px,#67b 0 4px,#bbd 0 5px,#78c 0 6px,#99c 0 7px,#89c 0 8px,#56b 0 9px,#88b 0 10px,#ddd 0 11px,#eba 0 12px,#c66 0 13px,#d76 0 14px,#e98 0 15px,#ea9 0 16px,#d99 0 17px,#bcd 0 18px,#67b 0 19px,#bac 0 20px,#eba 0 21px,#aab 0 22px,#89d 0 23px,#bcd 0 24px,#e97 0 25px,#c44 0 26px,#c55 0 27px,#b56 0 28px,#c77 0 29px,#ea8 0 30px,#d76 0 31px,#a13 0 32px,#e98 0 33px,#c66 0 34px,#c99 0 35px,#cbc 0 36px,#56b 0 37px,#34a 0 39px,#45b 0 40px,#d99 0 41px,#d88 0 42px,#dba 0 43px,#89c 0 44px,#78c 0 45px,#68c 0 46px,#78c 0 47px,#45b 0 48px,#34a 0 49px,#45b 0 50px,#45a 0 51px,#67c 0 52px,#88c 0 53px,#67b 0 54px,#78c 0 55px,#ecb 0 56px,#cbb 0 57px,#88b 0 58px,#ebb 0 59px,#d89 0 60px,#eca 0 61px,#dcc 0 62px,#c9a 0 63px,#c77 0 64px,#a79 0 65px,#d99 0 66px,#d88 0 67px,#b45 0 69px,#dcc 0 70px,#89c 0 71px,#b9a 0 72px,#c99 0 73px,#d44 0 74px,#d65 0 75px,#c56 0 76px,#ea9 0 77px,#dbb 0 78px,#edc 0 79px,#99c 0 80px,#aac 0 81px,#aab 0 82px,#dcb 0 83px,#9ad 0 84px,#77b 0 85px,#68c 0 86px,#88b 0 87px,#9ac 0 88px,#aac 0 89px,#cbc 0 90px,#56b 0 91px,#89c 0 92px,#78c 0 93px,#88c 0 94px,#67c 0 95px,#abd 0 96px,#aac 0 97px,#78c 0 99px,#79c 0 100px,#67c 0 101px,#68c 0 102px,#d66 0 103px,#d76 0 104px,#d99 0 105px,#dcc 0 106px,#d55 0 107px,#c44 0 108px,#ecb 0 109px)"></i><i style="left:434px;width:2px;background:linear-gradient(#45a 0 2px,#34a 0 3px,#349 0 4px,#34a 0 5px,#56b 0 6px,#45b 0 7px,#34a 0 9px,#349 0 10px,#56b 0 11px,#34a 0 12px,#79c 0 13px,#dcc 0 14px,#bbd 0 15px,#ccd 0 16px,#bbd 0 17px,#abd 0 18px,#78c 0 19px,#89d 0 20px,#abd 0 21px,#99c 0 22px,#46b 0 23px,#34a 0 24px,#abd 0 25px,#aac 0 26px,#57c 0 27px,#56b 0 29px,#78c 0 30px,#aac 0 31px,#cbc 0 32px,#ccd 0 33px,#abd 0 34px,#bcd 0 35px,#9ac 0 36px,#57b 0 37px,#56b 0 38px,#45a 0 39px,#89c 0 40px,#dbb 0 41px,#da9 0 42px,#e98 0 43px,#eba 0 45px,#c99 0 46px,#cab 0 47px,#eba 0 48px,#abc 0 49px,#9ac 0 50px,#caa 0 51px,#daa 0 52px,#ecb 0 53px,#89c 0 54px,#9ad 0 55px,#ea9 0 56px,#c88 0 57px,#ccd 0 58px,#e98 0 59px,#d55 0 60px,#dbb 0 61px,#ddd 0 62px,#eaa 0 63px,#ea9 0 64px,#e87 0 65px,#d54 0 66px,#e87 0 67px,#daa 0 68px,#ecc 0 69px,#ebb 0 70px,#bcd 0 71px,#99c 0 72px,#dbb 0 73px,#ea9 0 74px,#e75 0 75px,#eca 0 76px,#dcc 0 77px,#d99 0 78px,#ecb 0 79px,#bbc 0 80px,#bbd 0 81px,#9ad 0 82px,#abd 0 83px,#68c 0 84px,#34a 0 85px,#57b 0 87px,#89c 0 88px,#78c 0 90px,#89c 0 91px,#68c 0 92px,#9ad 0 93px,#89d 0 94px,#56b 0 95px,#45b 0 96px,#34a 0 97px,#67c 0 98px,#57b 0 99px,#67c 0 100px,#45b 0 101px,#57b 0 102px,#abd 0 103px,#aac 0 104px,#46b 0 105px,#68c 0 106px,#bcd 0 107px,#da9 0 108px,#aac 0 109px)"></i><i style="left:436px;width:3px;background:linear-gradient(#45a 0 1px,#aad 0 2px,#9ad 0 3px,#45b 0 4px,#67b 0 5px,#9ad 0 6px,#9ac 0 7px,#68c 0 8px,#56c 0 9px,#34a 0 10px,#9ad 0 11px,#45b 0 12px,#99c 0 13px,#dcc 0 15px,#ccd 0 16px,#ccc 0 17px,#aac 0 18px,#9ad 0 19px,#67c 0 21px,#abd 0 22px,#89d 0 23px,#67c 0 24px,#aad 0 25px,#dcc 0 26px,#99b 0 27px,#89c 0 29px,#bcd 0 31px,#e97 0 32px,#dcc 0 33px,#eba 0 35px,#e87 0 36px,#ecc 0 37px,#ddd 0 38px,#ccd 0 39px,#bbd 0 40px,#e98 0 41px,#e97 0 42px,#ecc 0 43px,#ea9 0 44px,#eba 0 45px,#d77 0 46px,#d44 0 47px,#ea8 0 48px,#dba 0 49px,#ccd 0 50px,#ccc 0 51px,#dbb 0 52px,#e76 0 53px,#cbc 0 54px,#cbb 0 55px,#dbb 0 56px,#eba 0 57px,#daa 0 58px,#dcb 0 59px,#daa 0 60px,#eba 0 61px,#dcc 0 62px,#abd 0 63px,#cbc 0 64px,#ccc 0 65px,#d76 0 66px,#ea9 0 67px,#e99 0 68px,#dcc 0 70px,#ccd 0 71px,#ebb 0 72px,#e86 0 73px,#e98 0 74px,#dbb 0 75px,#bbc 0 76px,#9ad 0 77px,#b9a 0 78px,#bbd 0 79px,#89d 0 81px,#9ad 0 82px,#78c 0 83px,#89d 0 84px,#99c 0 85px,#89c 0 86px,#78c 0 87px,#9ad 0 88px,#bab 0 89px,#ccc 0 90px,#dcc 0 91px,#ccd 0 92px,#bbc 0 93px,#bab 0 94px,#dcc 0 95px,#bbc 0 96px,#dcc 0 97px,#bcd 0 98px,#bbd 0 100px,#abd 0 101px,#aad 0 102px,#ccc 0 103px,#ecb 0 104px,#aac 0 105px,#9ad 0 106px,#bbd 0 107px,#ea9 0 108px,#e86 0 109px)"></i><i style="left:439px;width:2px;background:linear-gradient(#349 0 1px,#45a 0 3px,#349 0 5px,#57b 0 7px,#56b 0 8px,#57c 0 9px,#34a 0 10px,#79c 0 11px,#89c 0 12px,#dbb 0 13px,#e97 0 14px,#ccd 0 15px,#bcd 0 16px,#abd 0 17px,#bbc 0 18px,#89c 0 19px,#68c 0 20px,#89d 0 21px,#dcd 0 22px,#eba 0 23px,#dbb 0 24px,#ea8 0 25px,#b33 0 26px,#cab 0 27px,#89c 0 28px,#dba 0 29px,#e87 0 30px,#d54 0 31px,#e98 0 33px,#d66 0 34px,#d65 0 35px,#e98 0 36px,#d77 0 37px,#d76 0 38px,#d77 0 39px,#d66 0 40px,#b13 0 41px,#b23 0 42px,#c44 0 43px,#b23 0 45px,#b13 0 46px,#a13 0 47px,#b33 0 48px,#c33 0 49px,#b45 0 50px,#b13 0 52px,#c34 0 53px,#c77 0 54px,#d87 0 55px,#d65 0 57px,#da9 0 58px,#daa 0 59px,#b23 0 60px,#c55 0 61px,#e99 0 62px,#d66 0 63px,#b78 0 64px,#e98 0 65px,#c33 0 66px,#ea8 0 67px,#c88 0 68px,#bbc 0 69px,#d98 0 70px,#d87 0 71px,#d98 0 72px,#e87 0 73px,#c44 0 74px,#da9 0 75px,#d98 0 76px,#bbc 0 77px,#c55 0 78px,#daa 0 79px,#e98 0 80px,#aac 0 81px,#ecb 0 82px,#bab 0 83px,#bbd 0 84px,#abd 0 85px,#78c 0 86px,#89d 0 87px,#67b 0 88px,#dbb 0 89px,#d99 0 90px,#bbd 0 92px,#cbc 0 93px,#dcc 0 94px,#bbd 0 95px,#88b 0 96px,#89c 0 97px,#56b 0 98px,#45a 0 99px,#56b 0 100px,#9ad 0 101px,#89c 0 102px,#dcb 0 103px,#e87 0 104px,#c78 0 105px,#bbd 0 106px,#cab 0 107px,#c99 0 108px,#bcd 0 109px)"></i><i style="left:441px;width:3px;background:linear-gradient(#ccd 0 1px,#bcd 0 2px,#9ad 0 3px,#78c 0 4px,#bcd 0 5px,#ecb 0 6px,#eba 0 7px,#cbc 0 8px,#ddd 0 9px,#bcd 0 11px,#79c 0 12px,#dcc 0 13px,#dcb 0 14px,#cde 0 15px,#abd 0 16px,#dde 0 17px,#ccc 0 18px,#dbb 0 19px,#9ad 0 20px,#89d 0 21px,#ccc 0 22px,#ecb 0 24px,#eb9 0 25px,#ea9 0 26px,#cbc 0 27px,#78c 0 28px,#9bd 0 29px,#dcb 0 30px,#eca 0 31px,#eba 0 32px,#eca 0 33px,#e97 0 34px,#ea9 0 35px,#ccd 0 36px,#dcc 0 37px,#ecb 0 38px,#cbb 0 39px,#ea8 0 40px,#e87 0 41px,#c34 0 42px,#e98 0 43px,#ea9 0 44px,#d87 0 45px,#e86 0 46px,#d54 0 47px,#ea9 0 48px,#ea8 0 49px,#bbd 0 50px,#ccc 0 51px,#dcc 0 52px,#ddd 0 53px,#abd 0 55px,#bcd 0 56px,#8ad 0 57px,#78c 0 58px,#79c 0 59px,#abd 0 61px,#78c 0 62px,#67c 0 63px,#9ad 0 65px,#cdd 0 66px,#dcd 0 67px,#46b 0 68px,#67c 0 69px,#68c 0 70px,#78c 0 71px,#56b 0 72px,#68c 0 73px,#79c 0 74px,#68c 0 76px,#89c 0 77px,#abd 0 78px,#bcd 0 79px,#89c 0 80px,#9bd 0 81px,#9ad 0 82px,#8ad 0 83px,#bbd 0 84px,#dcc 0 86px,#aad 0 87px,#89c 0 88px,#9ad 0 90px,#abd 0 91px,#ddd 0 92px,#aac 0 93px,#abd 0 94px,#dbb 0 95px,#89c 0 96px,#67c 0 97px,#57c 0 98px,#34a 0 99px,#45b 0 100px,#89d 0 101px,#9ad 0 102px,#bcd 0 103px,#edc 0 104px,#cbc 0 105px,#bcd 0 106px,#bbd 0 107px,#eba 0 108px,#dba 0 109px)"></i><i style="left:444px;width:2px;background:linear-gradient(#cce 0 1px,#bcd 0 2px,#ccd 0 3px,#9ad 0 4px,#abd 0 5px,#ddd 0 7px,#dcd 0 8px,#cde 0 9px,#9ad 0 10px,#bcd 0 11px,#9ad 0 12px,#cdd 0 13px,#dcd 0 14px,#ccd 0 15px,#bce 0 16px,#bcd 0 17px,#ccd 0 18px,#ddd 0 19px,#dcd 0 20px,#aac 0 21px,#ecb 0 23px,#dba 0 24px,#ecb 0 25px,#eba 0 26px,#ccd 0 28px,#ecb 0 29px,#eb9 0 30px,#e97 0 31px,#e76 0 32px,#ecb 0 33px,#ea9 0 34px,#e86 0 35px,#eba 0 36px,#e97 0 39px,#d54 0 40px,#e65 0 41px,#d65 0 42px,#e87 0 43px,#d65 0 45px,#c33 0 46px,#d55 0 47px,#e87 0 48px,#e98 0 50px,#eaa 0 51px,#dbb 0 53px,#dcc 0 55px,#ccd 0 57px,#89d 0 58px,#dcc 0 59px,#eb9 0 60px,#ecc 0 61px,#bcd 0 62px,#abd 0 63px,#bbd 0 64px,#edc 0 65px,#eb9 0 67px,#edd 0 68px,#abd 0 69px,#ccd 0 70px,#bcd 0 71px,#dcc 0 72px,#ecb 0 73px,#ccd 0 74px,#abd 0 75px,#ccd 0 76px,#ddd 0 77px,#ccd 0 78px,#edd 0 79px,#ccd 0 80px,#ddd 0 81px,#dcc 0 82px,#edc 0 83px,#ddd 0 85px,#eba 0 86px,#dbb 0 87px,#ddd 0 88px,#cbc 0 89px,#ccd 0 90px,#bcd 0 91px,#bbd 0 92px,#dcc 0 93px,#ecb 0 95px,#abd 0 96px,#bbc 0 97px,#bbd 0 98px,#9ad 0 99px,#abd 0 101px,#ccd 0 102px,#ecc 0 103px,#dcc 0 104px,#ccc 0 105px,#ddd 0 106px,#dcc 0 107px,#eba 0 108px,#ecb 0 109px)"></i><i style="left:446px;width:3px;background:linear-gradient(#c99 0 1px,#d98 0 2px,#ea8 0 3px,#e97 0 4px,#dba 0 5px,#d65 0 6px,#b23 0 7px,#c33 0 8px,#eb9 0 9px,#d54 0 10px,#e98 0 11px,#c77 0 12px,#a12 0 13px,#d44 0 14px,#ecb 0 15px,#eba 0 16px,#d65 0 17px,#b23 0 18px,#d55 0 19px,#e98 0 20px,#ecb 0 21px,#d87 0 22px,#eb9 0 23px,#d76 0 24px,#eba 0 25px,#d76 0 26px,#cbb 0 27px,#cab 0 28px,#ea8 0 29px,#da9 0 30px,#e98 0 31px,#eba 0 32px,#daa 0 33px,#dbb 0 34px,#ccd 0 35px,#bbc 0 36px,#b9a 0 37px,#abd 0 38px,#9ad 0 39px,#e97 0 40px,#e76 0 41px,#e87 0 42px,#eba 0 43px,#bbd 0 44px,#dcc 0 45px,#d87 0 46px,#ea9 0 47px,#aac 0 48px,#99c 0 49px,#78c 0 50px,#9ac 0 51px,#abd 0 53px,#b9a 0 54px,#dcc 0 55px,#a9b 0 56px,#79c 0 57px,#89c 0 58px,#abd 0 59px,#daa 0 60px,#dcc 0 61px,#ccd 0 62px,#9ad 0 63px,#68c 0 64px,#ccd 0 65px,#ecb 0 66px,#eb9 0 67px,#bcd 0 68px,#78c 0 69px,#79c 0 70px,#89d 0 71px,#78c 0 72px,#cbc 0 73px,#abd 0 74px,#a9b 0 75px,#abd 0 77px,#bcd 0 78px,#ccc 0 79px,#dbb 0 80px,#bbc 0 81px,#9ad 0 82px,#8ad 0 83px,#9ad 0 84px,#abd 0 85px,#bcd 0 86px,#57c 0 87px,#68c 0 88px,#99c 0 89px,#dcc 0 90px,#bbc 0 92px,#ccd 0 93px,#abd 0 94px,#9ac 0 95px,#78c 0 96px,#77b 0 97px,#78c 0 98px,#67c 0 99px,#67b 0 100px,#89c 0 101px,#9ad 0 102px,#bbd 0 103px,#9ad 0 104px,#89c 0 105px,#9ad 0 106px,#bcd 0 107px,#abd 0 108px,#a8a 0 109px)"></i><i style="left:449px;width:2px;background:linear-gradient(#e76 0 1px,#d65 0 2px,#ea8 0 3px,#ecb 0 4px,#dcd 0 6px,#da9 0 7px,#d76 0 8px,#d65 0 9px,#e76 0 10px,#e86 0 11px,#b13 0 12px,#a12 0 13px,#c44 0 14px,#ea8 0 15px,#e97 0 16px,#e76 0 18px,#d44 0 19px,#d65 0 20px,#ea8 0 21px,#ea9 0 22px,#e98 0 23px,#ecb 0 24px,#ea9 0 26px,#e75 0 27px,#d65 0 28px,#d66 0 29px,#e97 0 32px,#ea9 0 33px,#ddc 0 34px,#ccd 0 35px,#cdd 0 36px,#d87 0 37px,#dcc 0 38px,#bcd 0 40px,#eba 0 41px,#e87 0 42px,#dcc 0 43px,#bac 0 44px,#e98 0 45px,#b23 0 46px,#c33 0 47px,#e97 0 48px,#eba 0 49px,#abd 0 50px,#89c 0 51px,#ddd 0 52px,#dcc 0 53px,#ebb 0 54px,#eba 0 55px,#ddd 0 56px,#abd 0 57px,#ccd 0 58px,#ecb 0 59px,#d44 0 60px,#eba 0 61px,#dcc 0 62px,#bab 0 64px,#ccd 0 65px,#dcd 0 66px,#ddd 0 67px,#78c 0 68px,#8ad 0 69px,#9ad 0 70px,#bcd 0 71px,#9ad 0 72px,#dcd 0 73px,#bbc 0 74px,#79c 0 75px,#68c 0 76px,#79c 0 77px,#99c 0 78px,#abd 0 79px,#78c 0 80px,#8ad 0 81px,#57c 0 82px,#67c 0 83px,#89d 0 84px,#67c 0 85px,#68c 0 86px,#45b 0 87px,#56b 0 88px,#68c 0 89px,#67c 0 90px,#45b 0 91px,#67c 0 93px,#89d 0 94px,#78c 0 95px,#56b 0 96px,#34a 0 97px,#68c 0 98px,#46b 0 99px,#45a 0 100px,#67c 0 101px,#79c 0 102px,#67b 0 103px,#9ad 0 104px,#78c 0 105px,#9ad 0 106px,#abd 0 107px,#cbc 0 108px,#ddd 0 109px)"></i><i style="left:451px;width:3px;background:linear-gradient(#a12 0 2px,#c44 0 3px,#d76 0 4px,#e97 0 5px,#d55 0 6px,#c34 0 7px,#c33 0 8px,#c44 0 9px,#b23 0 10px,#ea9 0 11px,#a12 0 13px,#c44 0 14px,#e97 0 15px,#e75 0 16px,#c33 0 17px,#d55 0 18px,#b23 0 19px,#d66 0 20px,#d65 0 21px,#e98 0 22px,#d99 0 23px,#e98 0 24px,#cbb 0 25px,#89c 0 26px,#bab 0 27px,#dba 0 28px,#e87 0 30px,#d44 0 31px,#d76 0 32px,#dbb 0 33px,#bbc 0 34px,#89c 0 35px,#aac 0 36px,#ecb 0 37px,#eba 0 38px,#e98 0 39px,#d54 0 40px,#b33 0 41px,#a12 0 42px,#e87 0 43px,#d76 0 44px,#a12 0 46px,#d87 0 47px,#ea9 0 48px,#d88 0 49px,#aac 0 50px,#56b 0 51px,#78c 0 52px,#68c 0 53px,#cbb 0 54px,#dbb 0 55px,#bbc 0 56px,#78c 0 57px,#68c 0 58px,#dbb 0 59px,#c77 0 60px,#ccc 0 61px,#dcc 0 62px,#aac 0 63px,#abd 0 64px,#bbd 0 65px,#d77 0 66px,#ea8 0 67px,#79c 0 68px,#56b 0 70px,#45b 0 71px,#349 0 72px,#78c 0 73px,#56b 0 74px,#78b 0 75px,#56b 0 76px,#68c 0 77px,#66b 0 78px,#67c 0 79px,#45a 0 80px,#67c 0 81px,#57c 0 82px,#34a 0 83px,#45b 0 84px,#78c 0 85px,#56b 0 86px,#45a 0 87px,#44a 0 88px,#34a 0 90px,#45a 0 91px,#34a 0 92px,#46b 0 93px,#78c 0 94px,#8ad 0 95px,#67c 0 96px,#67b 0 97px,#89c 0 98px,#46b 0 99px,#9ac 0 100px,#dcc 0 101px,#89c 0 102px,#67c 0 103px,#dbb 0 104px,#caa 0 105px,#dbb 0 106px,#d87 0 107px,#bab 0 108px,#e98 0 109px)"></i><i style="left:454px;width:2px;background:linear-gradient(#a12 0 1px,#d65 0 2px,#da9 0 3px,#aac 0 4px,#78c 0 5px,#67c 0 6px,#cbc 0 7px,#d65 0 8px,#e87 0 9px,#c88 0 10px,#eba 0 11px,#c55 0 12px,#c56 0 13px,#c33 0 14px,#eba 0 15px,#e97 0 16px,#d44 0 17px,#a12 0 18px,#c33 0 19px,#b13 0 20px,#b23 0 22px,#b34 0 23px,#b13 0 24px,#d65 0 25px,#c55 0 26px,#c44 0 27px,#c56 0 28px,#d55 0 29px,#e76 0 30px,#d66 0 31px,#d99 0 32px,#ea9 0 33px,#d98 0 34px,#a9b 0 35px,#aac 0 36px,#c44 0 37px,#d88 0 38px,#d87 0 39px,#b13 0 40px,#a12 0 41px,#c34 0 42px,#c66 0 43px,#d76 0 44px,#d65 0 45px,#b23 0 46px,#b13 0 47px,#d65 0 48px,#c77 0 49px,#c88 0 50px,#cab 0 51px,#56b 0 52px,#88b 0 53px,#aad 0 54px,#abd 0 55px,#68c 0 56px,#67c 0 57px,#56b 0 58px,#9ad 0 59px,#a9b 0 60px,#cbc 0 61px,#ccd 0 62px,#9ad 0 63px,#88c 0 64px,#ccd 0 65px,#da9 0 66px,#bac 0 67px,#44a 0 68px,#45a 0 69px,#57c 0 70px,#aad 0 71px,#a79 0 72px,#d99 0 73px,#dcc 0 74px,#99b 0 75px,#67b 0 76px,#89d 0 77px,#67b 0 78px,#99c 0 79px,#56a 0 80px,#78c 0 81px,#78b 0 82px,#77b 0 83px,#89c 0 84px,#88b 0 85px,#67b 0 86px,#98b 0 87px,#89c 0 88px,#34a 0 89px,#56b 0 90px,#44a 0 91px,#67b 0 92px,#77b 0 93px,#cbb 0 94px,#d98 0 95px,#9ac 0 96px,#99b 0 97px,#bab 0 98px,#89d 0 99px,#cbc 0 100px,#9ac 0 101px,#68c 0 102px,#89c 0 103px,#cbc 0 104px,#c99 0 105px,#e99 0 106px,#d99 0 107px,#c33 0 108px,#b23 0 109px)"></i><i style="left:456px;width:3px;background:linear-gradient(#ea8 0 1px,#aac 0 2px,#abd 0 3px,#78c 0 4px,#67c 0 5px,#68c 0 6px,#9ac 0 7px,#9ad 0 8px,#bcd 0 9px,#45b 0 10px,#78c 0 11px,#99c 0 12px,#8ad 0 13px,#89c 0 14px,#89d 0 15px,#9ad 0 16px,#abd 0 17px,#bcd 0 18px,#79c 0 19px,#56b 0 21px,#67b 0 22px,#89c 0 23px,#99c 0 24px,#8ad 0 25px,#34a 0 26px,#45a 0 29px,#79c 0 30px,#abd 0 31px,#79c 0 32px,#78c 0 33px,#45a 0 34px,#349 0 35px,#45b 0 36px,#56b 0 37px,#45a 0 38px,#56b 0 39px,#aac 0 40px,#abd 0 41px,#9ad 0 43px,#ddd 0 44px,#eca 0 45px,#bab 0 46px,#9ac 0 47px,#abd 0 48px,#78c 0 49px,#34a 0 51px,#46b 0 52px,#57c 0 53px,#9ad 0 54px,#89d 0 55px,#78c 0 56px,#56b 0 57px,#67c 0 58px,#ccd 0 59px,#daa 0 60px,#cbc 0 61px,#ccd 0 62px,#bab 0 63px,#bbc 0 64px,#8ad 0 65px,#dbb 0 66px,#dcc 0 67px,#56b 0 68px,#78c 0 69px,#aad 0 70px,#9ad 0 71px,#89c 0 72px,#ddc 0 73px,#ea9 0 74px,#ccd 0 75px,#abd 0 76px,#78c 0 78px,#bcd 0 79px,#9ad 0 80px,#79c 0 81px,#78c 0 82px,#45a 0 83px,#9ad 0 84px,#67c 0 86px,#34a 0 87px,#45a 0 88px,#56b 0 89px,#57b 0 90px,#34a 0 91px,#45b 0 92px,#46b 0 93px,#9ad 0 95px,#99c 0 96px,#45b 0 97px,#45a 0 98px,#45b 0 99px,#45a 0 100px,#68c 0 101px,#67c 0 102px,#57b 0 103px,#89d 0 104px,#9ad 0 105px,#bcd 0 106px,#9ad 0 107px,#78c 0 108px,#dba 0 109px)"></i><i style="left:459px;width:2px;background:linear-gradient(#eca 0 1px,#bbc 0 2px,#57b 0 3px,#45a 0 4px,#34a 0 6px,#67c 0 7px,#9ad 0 8px,#abd 0 9px,#56b 0 10px,#78c 0 11px,#45a 0 12px,#cbb 0 13px,#bbc 0 14px,#78c 0 15px,#67c 0 17px,#bbd 0 18px,#bab 0 19px,#56b 0 20px,#46b 0 21px,#78c 0 22px,#abd 0 23px,#bbd 0 25px,#9ac 0 26px,#67b 0 27px,#45a 0 28px,#68c 0 29px,#caa 0 30px,#dcc 0 31px,#dbc 0 32px,#9ad 0 33px,#56b 0 34px,#34a 0 35px,#55a 0 36px,#34a 0 37px,#45a 0 38px,#79c 0 39px,#edd 0 40px,#aac 0 41px,#78c 0 42px,#89d 0 43px,#abd 0 44px,#cbd 0 45px,#77b 0 46px,#89c 0 47px,#abd 0 48px,#78c 0 49px,#34a 0 50px,#56b 0 51px,#9ad 0 52px,#ccd 0 53px,#c99 0 54px,#aac 0 55px,#9ad 0 56px,#57b 0 57px,#9ad 0 58px,#dbb 0 59px,#caa 0 60px,#dba 0 61px,#dcd 0 62px,#bab 0 63px,#bbc 0 64px,#d87 0 65px,#d55 0 66px,#e87 0 67px,#89c 0 68px,#56b 0 69px,#bbc 0 70px,#ccd 0 71px,#e76 0 72px,#d65 0 73px,#d76 0 74px,#d55 0 75px,#cbb 0 76px,#dbb 0 77px,#c34 0 78px,#d54 0 79px,#b13 0 80px,#e98 0 81px,#ea9 0 83px,#d76 0 84px,#c23 0 85px,#d44 0 86px,#c33 0 87px,#d76 0 88px,#d99 0 89px,#bab 0 91px,#aac 0 92px,#9ad 0 93px,#ccd 0 94px,#dba 0 95px,#d99 0 96px,#8ad 0 97px,#9ac 0 98px,#ccc 0 99px,#bbc 0 100px,#68c 0 101px,#78c 0 102px,#67b 0 103px,#bcd 0 104px,#a8a 0 105px,#ddd 0 106px,#89d 0 107px,#a89 0 108px,#a12 0 109px)"></i><i style="left:461px;width:3px;background:linear-gradient(#e76 0 1px,#cbb 0 2px,#9ad 0 3px,#56b 0 4px,#45b 0 6px,#45a 0 7px,#79d 0 8px,#bcd 0 9px,#abd 0 10px,#9ad 0 11px,#78c 0 12px,#ccd 0 13px,#abd 0 14px,#9ad 0 15px,#bcd 0 16px,#ddd 0 17px,#dcc 0 18px,#9ad 0 19px,#89c 0 20px,#9ad 0 21px,#bcd 0 22px,#dcc 0 23px,#daa 0 24px,#ea8 0 25px,#eba 0 26px,#bbc 0 27px,#78c 0 28px,#abd 0 29px,#dcd 0 30px,#ecb 0 31px,#e98 0 32px,#ea8 0 33px,#daa 0 34px,#bac 0 35px,#abd 0 36px,#56b 0 37px,#9ad 0 38px,#dbb 0 39px,#d65 0 40px,#ea9 0 41px,#dbc 0 42px,#ccd 0 43px,#dba 0 44px,#eba 0 45px,#dbb 0 46px,#ecb 0 47px,#dcc 0 48px,#68c 0 49px,#67c 0 50px,#9ac 0 51px,#ccd 0 52px,#daa 0 53px,#e98 0 54px,#ecc 0 55px,#e98 0 56px,#eba 0 57px,#e86 0 58px,#e98 0 59px,#d76 0 60px,#ea8 0 61px,#edc 0 62px,#eba 0 63px,#ea8 0 64px,#d65 0 65px,#c33 0 66px,#e76 0 67px,#eba 0 68px,#dbb 0 69px,#dcc 0 71px,#d99 0 72px,#d87 0 73px,#d55 0 74px,#e98 0 76px,#e87 0 77px,#b13 0 78px,#d54 0 79px,#b23 0 80px,#d76 0 81px,#d77 0 82px,#d65 0 83px,#ea9 0 84px,#d65 0 85px,#e86 0 86px,#c33 0 87px,#d66 0 88px,#ecb 0 89px,#dcc 0 91px,#ccd 0 92px,#dcc 0 93px,#ecb 0 94px,#eb9 0 95px,#e97 0 96px,#9ad 0 98px,#ccd 0 100px,#dcd 0 101px,#ccd 0 102px,#cbc 0 103px,#ecc 0 104px,#ddd 0 105px,#eb9 0 106px,#da9 0 107px,#e98 0 108px,#b13 0 109px)"></i><i style="left:464px;width:2px;background:linear-gradient(#c23 0 1px,#e86 0 2px,#ea9 0 3px,#ccd 0 4px,#bcd 0 5px,#8ad 0 6px,#ccd 0 7px,#edc 0 8px,#ea8 0 9px,#ddd 0 10px,#ccc 0 11px,#a9b 0 12px,#dba 0 13px,#d88 0 14px,#ccd 0 15px,#abd 0 16px,#bcd 0 17px,#dcc 0 18px,#ccd 0 19px,#abd 0 20px,#89c 0 21px,#cbb 0 22px,#ccd 0 23px,#dcc 0 24px,#cbc 0 25px,#67b 0 26px,#46b 0 27px,#56b 0 28px,#9ad 0 29px,#eba 0 31px,#e98 0 32px,#ecb 0 33px,#cce 0 34px,#67c 0 35px,#57c 0 36px,#45b 0 37px,#bbd 0 38px,#edc 0 39px,#e87 0 40px,#dcc 0 41px,#ccd 0 43px,#ecb 0 44px,#dcc 0 45px,#d87 0 46px,#ea8 0 47px,#ecb 0 48px,#abd 0 50px,#ccc 0 51px,#ea9 0 52px,#e97 0 53px,#ea9 0 54px,#ebb 0 55px,#dbb 0 56px,#d99 0 57px,#ea9 0 58px,#d54 0 59px,#d76 0 60px,#eb9 0 61px,#dcd 0 62px,#ea9 0 63px,#e87 0 64px,#c33 0 65px,#b13 0 66px,#d43 0 67px,#d55 0 68px,#eb9 0 69px,#e86 0 70px,#e75 0 71px,#b13 0 72px,#a12 0 73px,#b13 0 74px,#c33 0 75px,#e65 0 76px,#e87 0 77px,#b23 0 78px,#d75 0 79px,#d65 0 80px,#e76 0 81px,#e75 0 82px,#d55 0 83px,#e76 0 84px,#b33 0 85px,#c23 0 86px,#a12 0 87px,#b23 0 88px,#d98 0 89px,#daa 0 90px,#dbb 0 91px,#eba 0 92px,#e87 0 93px,#ecb 0 94px,#c55 0 95px,#d55 0 96px,#bbc 0 97px,#eba 0 98px,#e87 0 99px,#ecb 0 100px,#abd 0 101px,#ecc 0 102px,#dcc 0 103px,#dcb 0 104px,#eba 0 106px,#d65 0 108px,#a12 0 109px)"></i><i style="left:466px;width:3px;background:linear-gradient(#d54 0 1px,#ea8 0 2px,#dcb 0 3px,#caa 0 4px,#68c 0 5px,#ccc 0 6px,#abd 0 7px,#daa 0 8px,#dcc 0 9px,#b89 0 10px,#ecb 0 11px,#e97 0 12px,#d44 0 13px,#d98 0 14px,#ecc 0 15px,#dcc 0 17px,#eba 0 18px,#bcd 0 19px,#79c 0 20px,#67c 0 21px,#68c 0 22px,#ccd 0 23px,#cbb 0 24px,#ddd 0 25px,#bcd 0 26px,#99d 0 27px,#56b 0 28px,#78c 0 29px,#ccc 0 30px,#cbc 0 32px,#eba 0 33px,#ccd 0 34px,#9ad 0 35px,#ccd 0 36px,#bbc 0 37px,#cbb 0 38px,#da9 0 39px,#d77 0 40px,#ecb 0 41px,#ccc 0 42px,#edc 0 43px,#daa 0 44px,#e98 0 45px,#d87 0 46px,#eaa 0 47px,#dcd 0 48px,#cbc 0 50px,#bcd 0 51px,#da9 0 52px,#d88 0 53px,#d65 0 54px,#e87 0 55px,#d77 0 56px,#e86 0 57px,#eaa 0 58px,#da9 0 59px,#e86 0 60px,#ea8 0 61px,#caa 0 62px,#dbb 0 63px,#d88 0 64px,#eba 0 65px,#d55 0 66px,#e75 0 67px,#eb9 0 68px,#dba 0 69px,#e98 0 70px,#eb9 0 71px,#b13 0 74px,#d55 0 75px,#e76 0 76px,#d66 0 77px,#d55 0 78px,#d54 0 79px,#b23 0 80px,#d54 0 82px,#d65 0 83px,#d44 0 84px,#b13 0 85px,#c55 0 86px,#c44 0 87px,#d54 0 88px,#d66 0 89px,#eba 0 90px,#cbc 0 91px,#ccd 0 92px,#cbc 0 93px,#bbd 0 94px,#eba 0 95px,#e76 0 96px,#dcb 0 97px,#abd 0 98px,#bcd 0 99px,#bbc 0 100px,#ccd 0 101px,#edc 0 102px,#caa 0 103px,#dcc 0 104px,#ddd 0 105px,#edc 0 106px,#abd 0 107px,#bcd 0 108px,#d55 0 109px)"></i><i style="left:469px;width:2px;background:linear-gradient(#eca 0 1px,#67b 0 2px,#bac 0 3px,#67c 0 4px,#34a 0 5px,#44a 0 6px,#57c 0 7px,#89c 0 8px,#9ac 0 9px,#cbc 0 10px,#aac 0 11px,#b9b 0 12px,#d99 0 13px,#c99 0 14px,#bbd 0 15px,#8ad 0 17px,#98a 0 18px,#abd 0 19px,#56b 0 20px,#349 0 21px,#45a 0 22px,#ccd 0 23px,#88b 0 24px,#bbc 0 25px,#a9b 0 26px,#56b 0 27px,#45a 0 28px,#98b 0 29px,#bab 0 30px,#ccd 0 31px,#c78 0 32px,#e98 0 33px,#ccd 0 34px,#aac 0 35px,#bbd 0 36px,#67c 0 37px,#89c 0 38px,#d88 0 39px,#c33 0 40px,#d88 0 41px,#cab 0 42px,#ccc 0 43px,#da9 0 44px,#eca 0 45px,#d98 0 46px,#e87 0 47px,#ea9 0 48px,#ecb 0 49px,#9ad 0 50px,#57b 0 51px,#a9b 0 52px,#d99 0 53px,#d76 0 54px,#cbc 0 55px,#cbb 0 56px,#d76 0 57px,#a9b 0 58px,#cbc 0 59px,#ecb 0 60px,#aac 0 61px,#79c 0 62px,#c89 0 63px,#bbd 0 64px,#dbb 0 65px,#e77 0 66px,#edc 0 67px,#b9a 0 68px,#aac 0 69px,#c77 0 70px,#daa 0 71px,#d55 0 72px,#c66 0 73px,#d99 0 74px,#bab 0 75px,#d98 0 76px,#eba 0 77px,#c34 0 78px,#d54 0 80px,#d65 0 81px,#d76 0 82px,#d88 0 83px,#ecb 0 84px,#b23 0 85px,#c44 0 86px,#c66 0 87px,#d66 0 88px,#eca 0 89px,#bbd 0 90px,#56b 0 91px,#9ac 0 92px,#aad 0 93px,#aac 0 94px,#daa 0 95px,#a9b 0 96px,#9ac 0 97px,#68c 0 98px,#89c 0 99px,#99b 0 100px,#caa 0 101px,#aac 0 102px,#78c 0 103px,#89d 0 104px,#76a 0 105px,#bbc 0 107px,#67b 0 108px,#da9 0 109px)"></i><i style="left:471px;width:3px;background:linear-gradient(#ea8 0 1px,#e76 0 2px,#dba 0 3px,#ccc 0 4px,#bcd 0 5px,#9ad 0 6px,#ccd 0 7px,#bbd 0 8px,#cbc 0 9px,#79c 0 10px,#9ad 0 11px,#edc 0 12px,#d77 0 13px,#eba 0 14px,#ccd 0 16px,#ccc 0 17px,#eba 0 18px,#ccd 0 19px,#78c 0 20px,#349 0 21px,#56b 0 22px,#8ad 0 23px,#bac 0 24px,#9ad 0 25px,#78b 0 26px,#34a 0 28px,#9ad 0 29px,#aac 0 30px,#abd 0 31px,#ebb 0 32px,#dcc 0 33px,#da9 0 34px,#bbc 0 35px,#aac 0 36px,#89c 0 37px,#abd 0 38px,#c99 0 39px,#daa 0 40px,#cbc 0 41px,#aab 0 42px,#dcd 0 43px,#abd 0 44px,#dbb 0 45px,#ecc 0 46px,#d76 0 47px,#d55 0 48px,#eba 0 49px,#aac 0 51px,#b9a 0 52px,#ea9 0 53px,#dcc 0 54px,#abd 0 55px,#dbc 0 56px,#e98 0 57px,#dcb 0 58px,#dcd 0 59px,#e98 0 60px,#eba 0 61px,#dcc 0 62px,#cbc 0 63px,#e87 0 64px,#dcc 0 65px,#eba 0 66px,#ecc 0 67px,#aab 0 68px,#bbc 0 69px,#dbc 0 70px,#ccc 0 71px,#ea9 0 72px,#e87 0 73px,#cbc 0 74px,#cce 0 75px,#cab 0 76px,#edc 0 77px,#abc 0 78px,#e97 0 79px,#d55 0 80px,#e87 0 81px,#eaa 0 82px,#d9a 0 83px,#e98 0 84px,#b23 0 85px,#c33 0 86px,#c45 0 87px,#d66 0 88px,#cab 0 89px,#bbc 0 90px,#9ad 0 91px,#bcd 0 92px,#ecb 0 93px,#dcc 0 94px,#d55 0 95px,#b13 0 96px,#d87 0 97px,#dba 0 98px,#ea9 0 100px,#eba 0 101px,#ccd 0 102px,#67b 0 103px,#bcd 0 104px,#cab 0 105px,#ccc 0 106px,#eba 0 107px,#d98 0 108px,#e87 0 109px)"></i><i style="left:474px;width:2px;background:linear-gradient(#a12 0 1px,#a13 0 2px,#d65 0 3px,#b78 0 4px,#bab 0 5px,#c99 0 6px,#d54 0 7px,#b13 0 8px,#b23 0 9px,#a12 0 10px,#b13 0 11px,#a12 0 14px,#d44 0 15px,#ea8 0 16px,#d76 0 17px,#d87 0 19px,#daa 0 20px,#99b 0 21px,#cab 0 22px,#eba 0 23px,#daa 0 24px,#c88 0 25px,#e97 0 26px,#bbd 0 27px,#b99 0 28px,#da9 0 29px,#e76 0 30px,#d99 0 31px,#d76 0 32px,#d88 0 33px,#c55 0 34px,#ea8 0 35px,#eba 0 36px,#dcc 0 37px,#bab 0 38px,#eba 0 39px,#d55 0 40px,#eba 0 41px,#bbd 0 42px,#dbb 0 43px,#ecb 0 44px,#ea9 0 45px,#d99 0 46px,#a24 0 47px,#e98 0 48px,#d99 0 49px,#bcd 0 50px,#89c 0 51px,#57b 0 52px,#aad 0 53px,#89c 0 54px,#56b 0 55px,#abd 0 56px,#bbc 0 57px,#bbd 0 58px,#a9b 0 59px,#77b 0 60px,#67b 0 61px,#67c 0 62px,#66a 0 63px,#67b 0 64px,#89c 0 65px,#9ad 0 66px,#abd 0 67px,#44a 0 68px,#56b 0 69px,#45a 0 70px,#99b 0 71px,#d98 0 72px,#d76 0 73px,#9ad 0 74px,#89c 0 75px,#aac 0 76px,#79c 0 77px,#78c 0 78px,#eb9 0 79px,#c89 0 80px,#cbb 0 81px,#cbc 0 82px,#99b 0 83px,#edc 0 84px,#c44 0 85px,#d87 0 86px,#b89 0 87px,#d87 0 88px,#e98 0 89px,#cbb 0 90px,#dcd 0 91px,#dcc 0 92px,#a9b 0 93px,#bab 0 94px,#d99 0 95px,#cbc 0 96px,#89d 0 97px,#57c 0 98px,#9ac 0 99px,#89c 0 100px,#bbc 0 101px,#57c 0 102px,#45a 0 103px,#78c 0 104px,#9ac 0 105px,#bbc 0 106px,#dcc 0 107px,#a24 0 108px,#c45 0 109px)"></i><i style="left:476px;width:3px;background:linear-gradient(#c23 0 1px,#a12 0 2px,#e75 0 3px,#d65 0 4px,#ea9 0 5px,#e99 0 6px,#e86 0 7px,#d54 0 8px,#c33 0 9px,#b23 0 10px,#d65 0 11px,#b13 0 12px,#a12 0 14px,#e75 0 15px,#e97 0 16px,#c44 0 18px,#d54 0 19px,#e86 0 20px,#e98 0 21px,#d76 0 22px,#e97 0 23px,#d66 0 24px,#ea9 0 25px,#e98 0 26px,#d88 0 27px,#da9 0 28px,#ea9 0 30px,#eb9 0 31px,#d55 0 32px,#ea9 0 33px,#dcc 0 34px,#dcd 0 35px,#eba 0 36px,#e97 0 37px,#cab 0 38px,#dba 0 39px,#e76 0 40px,#eba 0 41px,#ea9 0 42px,#e98 0 43px,#d77 0 44px,#eb9 0 45px,#d87 0 47px,#dbb 0 48px,#cab 0 49px,#bbd 0 50px,#89c 0 51px,#cbc 0 52px,#dcb 0 53px,#9ad 0 54px,#8ad 0 55px,#68c 0 56px,#79c 0 57px,#57b 0 58px,#79c 0 59px,#bbc 0 60px,#abd 0 61px,#9ad 0 62px,#67c 0 63px,#89d 0 64px,#9ad 0 65px,#cdd 0 66px,#9ad 0 67px,#56b 0 68px,#68c 0 69px,#67c 0 70px,#89d 0 71px,#cbb 0 72px,#dcc 0 73px,#aac 0 74px,#ccd 0 75px,#abd 0 76px,#abc 0 77px,#9ad 0 78px,#edd 0 79px,#dcc 0 82px,#ecb 0 83px,#edc 0 84px,#da9 0 85px,#dcd 0 86px,#dbb 0 87px,#ccc 0 88px,#9ad 0 89px,#78c 0 90px,#bbd 0 91px,#ccc 0 92px,#daa 0 93px,#dcc 0 94px,#cbb 0 95px,#78c 0 96px,#46b 0 97px,#79c 0 98px,#9ad 0 99px,#abd 0 101px,#89d 0 102px,#bbd 0 103px,#ecb 0 105px,#edc 0 106px,#ecb 0 107px,#aac 0 108px,#e98 0 109px)"></i><i style="left:479px;width:2px;background:linear-gradient(#e65 0 1px,#d65 0 2px,#e86 0 3px,#e98 0 4px,#ccd 0 6px,#eba 0 7px,#e86 0 8px,#e75 0 9px,#c23 0 10px,#d65 0 11px,#b23 0 12px,#d44 0 13px,#d87 0 14px,#ecb 0 15px,#eb9 0 16px,#e76 0 17px,#d54 0 18px,#e76 0 19px,#ea9 0 20px,#eba 0 21px,#ecb 0 22px,#edc 0 23px,#eba 0 24px,#e98 0 26px,#edc 0 27px,#dbb 0 28px,#e98 0 29px,#ecb 0 30px,#eb9 0 31px,#e97 0 32px,#ea9 0 33px,#ccd 0 34px,#dcc 0 35px,#ccd 0 36px,#dcc 0 37px,#bbd 0 38px,#edc 0 39px,#ebb 0 40px,#ddd 0 41px,#89d 0 42px,#ccd 0 43px,#eba 0 44px,#ecb 0 45px,#bcd 0 46px,#abd 0 47px,#bbd 0 49px,#8ad 0 50px,#89c 0 51px,#9ad 0 52px,#ddd 0 53px,#cab 0 54px,#edd 0 55px,#ccc 0 56px,#9ad 0 57px,#ddd 0 58px,#bbd 0 59px,#bcd 0 60px,#ccd 0 62px,#9ad 0 63px,#bbd 0 64px,#89c 0 65px,#abd 0 66px,#ccd 0 67px,#78c 0 68px,#79c 0 69px,#9ad 0 70px,#79d 0 71px,#cab 0 72px,#edc 0 73px,#cdd 0 74px,#89d 0 75px,#78c 0 76px,#9ad 0 77px,#abd 0 78px,#bcd 0 81px,#ccd 0 82px,#dba 0 83px,#dcc 0 84px,#dbb 0 85px,#abd 0 86px,#9ac 0 87px,#89d 0 88px,#67c 0 89px,#8ad 0 90px,#9ad 0 91px,#bcd 0 92px,#9ad 0 93px,#9ac 0 94px,#89d 0 95px,#8ad 0 96px,#67c 0 98px,#68c 0 99px,#78c 0 100px,#9bd 0 101px,#79d 0 102px,#57c 0 103px,#abd 0 105px,#ddd 0 106px,#bbd 0 107px,#57b 0 108px,#9ad 0 109px)"></i><i style="left:481px;width:3px;background:linear-gradient(#edd 0 1px,#dcc 0 2px,#89d 0 3px,#67c 0 4px,#35a 0 5px,#56b 0 6px,#57c 0 7px,#ccd 0 8px,#ecb 0 9px,#dcc 0 10px,#eb9 0 11px,#ea9 0 12px,#ecc 0 13px,#dbb 0 14px,#ddd 0 17px,#cce 0 18px,#ccd 0 19px,#9ad 0 20px,#89c 0 21px,#ccd 0 22px,#dcd 0 23px,#edc 0 24px,#edd 0 25px,#bbd 0 26px,#bcd 0 27px,#abd 0 28px,#dcc 0 29px,#ecc 0 30px,#eba 0 31px,#d55 0 32px,#e98 0 33px,#ea8 0 35px,#eb9 0 36px,#e98 0 37px,#eb9 0 38px,#e97 0 39px,#e76 0 40px,#ecc 0 41px,#ddd 0 42px,#eb9 0 43px,#d65 0 44px,#dcb 0 45px,#caa 0 46px,#dcc 0 47px,#eba 0 48px,#dcc 0 49px,#9ad 0 50px,#dcc 0 51px,#ea9 0 52px,#dba 0 53px,#ddd 0 54px,#eba 0 56px,#ea9 0 57px,#d76 0 58px,#d87 0 59px,#d55 0 60px,#eca 0 61px,#eb9 0 62px,#e76 0 63px,#d76 0 64px,#d75 0 65px,#e97 0 66px,#eb9 0 67px,#cbc 0 68px,#dcd 0 69px,#dcc 0 70px,#ea8 0 71px,#c33 0 72px,#d44 0 73px,#c33 0 74px,#d54 0 75px,#e97 0 76px,#eba 0 77px,#c88 0 78px,#eca 0 79px,#c44 0 80px,#e76 0 81px,#e97 0 82px,#d54 0 83px,#d44 0 84px,#d65 0 85px,#eba 0 86px,#e87 0 87px,#eba 0 89px,#edc 0 90px,#e98 0 91px,#ecb 0 92px,#e98 0 93px,#ea9 0 94px,#e98 0 95px,#eba 0 96px,#ccc 0 97px,#bcd 0 98px,#ccd 0 100px,#cce 0 101px,#ccd 0 102px,#ecc 0 103px,#edc 0 104px,#eba 0 105px,#eca 0 106px,#ea9 0 107px,#cbc 0 108px,#d99 0 109px)"></i><i style="left:484px;width:2px;background:linear-gradient(#daa 0 1px,#bbc 0 2px,#abd 0 3px,#46b 0 4px,#45a 0 5px,#56b 0 6px,#79c 0 7px,#dcc 0 8px,#daa 0 9px,#d88 0 10px,#cbc 0 11px,#bab 0 12px,#99c 0 13px,#78c 0 14px,#8ad 0 15px,#9ad 0 16px,#57c 0 17px,#bbd 0 18px,#79d 0 19px,#34a 0 20px,#46b 0 21px,#56b 0 23px,#45b 0 24px,#67c 0 25px,#45a 0 27px,#34a 0 28px,#67c 0 29px,#89d 0 30px,#9ad 0 31px,#8ad 0 32px,#9ad 0 33px,#67c 0 34px,#78c 0 35px,#bbc 0 36px,#88b 0 37px,#89c 0 38px,#ccd 0 39px,#a89 0 40px,#bac 0 41px,#78c 0 42px,#ddd 0 43px,#ecb 0 44px,#dcc 0 46px,#ccd 0 47px,#89c 0 48px,#78c 0 49px,#57c 0 50px,#99c 0 51px,#bbc 0 52px,#daa 0 53px,#eca 0 54px,#eba 0 55px,#eb9 0 56px,#e76 0 57px,#e87 0 58px,#e86 0 59px,#b13 0 60px,#c44 0 61px,#dbb 0 62px,#e87 0 63px,#c55 0 64px,#e86 0 65px,#e87 0 66px,#eba 0 67px,#ccd 0 68px,#ecb 0 69px,#ea9 0 70px,#d76 0 71px,#c44 0 72px,#c33 0 74px,#c44 0 75px,#e87 0 76px,#eba 0 78px,#e97 0 79px,#c33 0 81px,#d54 0 82px,#c33 0 83px,#d44 0 84px,#c33 0 85px,#e98 0 87px,#d88 0 88px,#dcc 0 89px,#ecb 0 90px,#b8a 0 91px,#da9 0 92px,#eba 0 93px,#dba 0 94px,#da9 0 95px,#ea9 0 96px,#bac 0 97px,#bcd 0 98px,#aad 0 99px,#cbc 0 100px,#ccd 0 101px,#abc 0 102px,#89d 0 103px,#ecc 0 104px,#bbc 0 105px,#ecb 0 106px,#d65 0 107px,#b89 0 108px,#b33 0 109px)"></i><i style="left:486px;width:3px;background:linear-gradient(#ea8 0 2px,#eca 0 3px,#cbc 0 4px,#9ac 0 5px,#9ad 0 6px,#ecb 0 7px,#ea8 0 9px,#b13 0 10px,#e76 0 11px,#d98 0 12px,#ea9 0 13px,#e87 0 14px,#edd 0 15px,#ddd 0 16px,#ccd 0 17px,#ddd 0 18px,#edc 0 19px,#abd 0 20px,#caa 0 21px,#8ad 0 22px,#ccd 0 23px,#dcc 0 24px,#ccd 0 25px,#abd 0 26px,#dcd 0 27px,#cbb 0 28px,#ecc 0 30px,#eba 0 32px,#ecc 0 33px,#89d 0 34px,#abd 0 35px,#9ad 0 36px,#abd 0 37px,#dbb 0 39px,#cbc 0 40px,#ccd 0 41px,#ea9 0 42px,#d55 0 43px,#e86 0 44px,#ea9 0 45px,#eba 0 47px,#e75 0 48px,#e87 0 49px,#dbb 0 50px,#eaa 0 51px,#d76 0 52px,#c55 0 53px,#c34 0 54px,#d55 0 55px,#d54 0 56px,#d76 0 57px,#b23 0 58px,#d54 0 59px,#a13 0 60px,#e75 0 61px,#e76 0 62px,#c33 0 63px,#d44 0 64px,#b23 0 65px,#c23 0 66px,#d65 0 67px,#d87 0 68px,#e98 0 69px,#c44 0 70px,#e65 0 71px,#b23 0 72px,#c23 0 73px,#b13 0 74px,#d54 0 75px,#e98 0 76px,#eca 0 77px,#d98 0 78px,#e97 0 79px,#d55 0 80px,#e87 0 81px,#d98 0 82px,#d65 0 83px,#e86 0 84px,#b23 0 85px,#ea8 0 86px,#c44 0 87px,#d65 0 88px,#e97 0 89px,#dbb 0 90px,#ccd 0 91px,#ddd 0 92px,#dcd 0 93px,#dcb 0 94px,#e98 0 96px,#ccd 0 97px,#bcd 0 98px,#89c 0 99px,#8ad 0 100px,#ccd 0 101px,#bcd 0 102px,#bbd 0 103px,#ecb 0 104px,#ebb 0 105px,#edc 0 106px,#ccd 0 107px,#dcb 0 108px,#d76 0 109px)"></i><i style="left:489px;width:2px;background:linear-gradient(#d44 0 2px,#eba 0 3px,#e98 0 4px,#dbb 0 5px,#dcc 0 6px,#eba 0 7px,#ea9 0 8px,#e76 0 9px,#d55 0 10px,#e76 0 11px,#d76 0 12px,#eba 0 13px,#edc 0 14px,#edd 0 16px,#ecc 0 17px,#eb9 0 19px,#ecb 0 20px,#cbb 0 21px,#dbb 0 22px,#edc 0 23px,#e76 0 24px,#e98 0 25px,#ea8 0 26px,#dcb 0 27px,#e97 0 28px,#e86 0 29px,#ea9 0 30px,#eba 0 31px,#e98 0 32px,#e97 0 33px,#e87 0 34px,#eba 0 35px,#ecb 0 36px,#dbb 0 37px,#dba 0 38px,#ccd 0 39px,#ecb 0 40px,#edc 0 41px,#e97 0 42px,#ea8 0 43px,#d76 0 44px,#ebb 0 45px,#dcd 0 46px,#eaa 0 47px,#eba 0 48px,#ecc 0 49px,#cbc 0 50px,#ccd 0 51px,#ecc 0 52px,#dbb 0 53px,#eba 0 54px,#ddd 0 56px,#eba 0 57px,#e98 0 58px,#eb9 0 59px,#d76 0 60px,#e98 0 61px,#ecb 0 62px,#e87 0 63px,#bcd 0 64px,#ccc 0 65px,#dcc 0 66px,#edd 0 67px,#bcd 0 68px,#abd 0 69px,#ddd 0 70px,#eb9 0 71px,#e76 0 72px,#eba 0 73px,#ea8 0 75px,#ecb 0 77px,#ea8 0 78px,#ecb 0 80px,#dcc 0 81px,#ccd 0 82px,#ea8 0 83px,#eba 0 84px,#e76 0 85px,#eb9 0 86px,#e98 0 87px,#eba 0 88px,#dcd 0 89px,#ccd 0 90px,#abd 0 91px,#dcd 0 92px,#edc 0 93px,#ecb 0 94px,#ea9 0 95px,#dba 0 96px,#bbd 0 97px,#ddd 0 98px,#abd 0 99px,#bcd 0 100px,#ecb 0 101px,#abd 0 102px,#9ad 0 103px,#ccd 0 104px,#89c 0 105px,#bce 0 106px,#abd 0 107px,#cce 0 108px,#c44 0 109px)"></i><i style="left:491px;width:2px;background:linear-gradient(#dcc 0 1px,#ea9 0 2px,#ecb 0 3px,#ccc 0 4px,#9ad 0 6px,#dcc 0 7px,#ea9 0 8px,#eb9 0 10px,#e98 0 12px,#edc 0 13px,#bac 0 14px,#cdd 0 15px,#bce 0 16px,#dcb 0 17px,#ecb 0 18px,#ccd 0 19px,#abd 0 20px,#bab 0 21px,#dbc 0 22px,#dcb 0 23px,#eba 0 24px,#d98 0 25px,#d66 0 26px,#e98 0 27px,#d77 0 28px,#d76 0 29px,#d65 0 30px,#e86 0 31px,#c44 0 32px,#e87 0 33px,#c34 0 34px,#d99 0 35px,#caa 0 36px,#d98 0 37px,#e86 0 38px,#ea9 0 39px,#e98 0 41px,#d66 0 42px,#e76 0 43px,#e98 0 44px,#ecc 0 45px,#d99 0 46px,#e98 0 47px,#d76 0 48px,#e98 0 49px,#edd 0 50px,#9ad 0 51px,#bcd 0 52px,#89d 0 53px,#aab 0 54px,#bac 0 55px,#ecb 0 56px,#dcc 0 57px,#e97 0 58px,#ecb 0 59px,#c33 0 60px,#d66 0 61px,#ea8 0 62px,#c77 0 63px,#bac 0 64px,#67c 0 65px,#89d 0 66px,#79d 0 67px,#44a 0 68px,#78c 0 69px,#9ad 0 70px,#bbd 0 71px,#daa 0 72px,#e76 0 73px,#daa 0 74px,#eba 0 75px,#eca 0 76px,#ddd 0 77px,#cbc 0 78px,#dba 0 79px,#e86 0 80px,#e76 0 81px,#dbb 0 82px,#caa 0 83px,#eb9 0 84px,#e65 0 85px,#e76 0 86px,#c54 0 87px,#d77 0 88px,#daa 0 89px,#ccc 0 90px,#cbc 0 92px,#daa 0 93px,#c43 0 94px,#b23 0 95px,#c55 0 96px,#c44 0 97px,#ea9 0 98px,#eca 0 99px,#d65 0 100px,#e98 0 101px,#edd 0 102px,#78c 0 103px,#dcc 0 104px,#daa 0 105px,#bbd 0 107px,#eba 0 108px,#a12 0 109px)"></i><i style="left:493px;width:3px;background:linear-gradient(#eba 0 1px,#d88 0 2px,#ecb 0 3px,#dbb 0 4px,#78c 0 5px,#cce 0 6px,#daa 0 7px,#e87 0 8px,#e97 0 9px,#d76 0 10px,#ea8 0 11px,#da9 0 12px,#cbc 0 13px,#e76 0 14px,#edc 0 15px,#bce 0 16px,#abd 0 17px,#ddd 0 18px,#ccd 0 19px,#ccc 0 21px,#abd 0 22px,#dcb 0 23px,#da9 0 24px,#ea9 0 25px,#d99 0 26px,#ea9 0 27px,#ecb 0 28px,#ea9 0 29px,#eb9 0 30px,#ecb 0 31px,#d66 0 32px,#ea8 0 33px,#e98 0 34px,#ecc 0 35px,#edc 0 36px,#eb9 0 37px,#e87 0 38px,#ea9 0 39px,#dcc 0 40px,#ddd 0 41px,#ea8 0 42px,#ea9 0 43px,#ea8 0 44px,#edc 0 45px,#d77 0 46px,#d76 0 47px,#e86 0 48px,#d87 0 49px,#eb9 0 50px,#dcc 0 51px,#dbb 0 52px,#eaa 0 53px,#daa 0 54px,#e87 0 55px,#e97 0 56px,#e76 0 57px,#e75 0 58px,#e87 0 59px,#c44 0 60px,#da9 0 61px,#eba 0 62px,#d87 0 64px,#cbb 0 65px,#dcc 0 66px,#edc 0 67px,#9ad 0 68px,#abd 0 69px,#dcc 0 70px,#daa 0 71px,#dcc 0 72px,#dbb 0 73px,#ea9 0 74px,#eaa 0 75px,#daa 0 77px,#d98 0 78px,#ebb 0 79px,#e98 0 80px,#ecb 0 81px,#dbb 0 82px,#9ad 0 83px,#dcb 0 84px,#e65 0 85px,#eba 0 86px,#d99 0 87px,#abd 0 88px,#9ad 0 89px,#68c 0 91px,#67c 0 92px,#9ad 0 93px,#dcd 0 94px,#e98 0 95px,#d99 0 96px,#ccd 0 97px,#abc 0 98px,#9ad 0 99px,#ddd 0 100px,#edc 0 101px,#dcc 0 102px,#ccd 0 103px,#dcc 0 104px,#9ad 0 105px,#edd 0 106px,#dcc 0 107px,#eba 0 108px,#a13 0 109px)"></i><i style="left:496px;width:2px;background:linear-gradient(#cbb 0 1px,#b9a 0 2px,#cbc 0 3px,#bbc 0 4px,#89c 0 5px,#bbc 0 6px,#caa 0 7px,#da8 0 8px,#ecb 0 9px,#e87 0 10px,#d76 0 11px,#c33 0 12px,#c78 0 13px,#ea9 0 14px,#ecb 0 15px,#ddd 0 16px,#cbc 0 17px,#daa 0 18px,#cbc 0 19px,#bab 0 20px,#a9c 0 21px,#c99 0 22px,#ebb 0 23px,#d77 0 24px,#d55 0 25px,#c55 0 26px,#c77 0 27px,#d87 0 28px,#c45 0 29px,#e87 0 31px,#c33 0 32px,#e98 0 33px,#d87 0 34px,#c99 0 35px,#dcc 0 36px,#b9a 0 37px,#b9b 0 38px,#d88 0 39px,#e97 0 40px,#c44 0 41px,#d65 0 42px,#dba 0 43px,#cab 0 44px,#d99 0 46px,#d76 0 47px,#eba 0 48px,#dbb 0 49px,#caa 0 50px,#c9a 0 51px,#dcc 0 52px,#bbc 0 54px,#bcd 0 55px,#ccd 0 56px,#ecb 0 57px,#ecc 0 58px,#ccc 0 59px,#d77 0 60px,#e97 0 61px,#d99 0 62px,#d98 0 63px,#c88 0 64px,#ecb 0 65px,#e98 0 66px,#eba 0 67px,#da9 0 68px,#dba 0 69px,#e98 0 70px,#caa 0 71px,#d87 0 72px,#daa 0 73px,#d65 0 74px,#c34 0 75px,#d99 0 76px,#dba 0 77px,#c77 0 78px,#ea8 0 79px,#e87 0 80px,#d87 0 81px,#d98 0 82px,#b9b 0 83px,#ea9 0 84px,#c33 0 85px,#d55 0 86px,#c66 0 87px,#cbb 0 88px,#d99 0 89px,#cbc 0 90px,#9ac 0 91px,#aac 0 92px,#b9a 0 93px,#c55 0 94px,#b23 0 95px,#e87 0 96px,#d99 0 97px,#eba 0 98px,#ebb 0 99px,#d65 0 100px,#ea9 0 101px,#dcd 0 102px,#d87 0 103px,#dbb 0 104px,#cbc 0 105px,#dbc 0 106px,#c99 0 107px,#caa 0 108px,#b13 0 109px)"></i><i style="left:498px;width:3px;background:linear-gradient(#ea8 0 1px,#e65 0 2px,#e75 0 3px,#d55 0 4px,#e86 0 5px,#e97 0 7px,#e86 0 8px,#eb9 0 9px,#d65 0 10px,#eba 0 11px,#e86 0 12px,#dcc 0 13px,#ea9 0 14px,#eba 0 15px,#ecb 0 16px,#ea8 0 17px,#eba 0 18px,#ea9 0 19px,#ddd 0 20px,#cbb 0 21px,#dcc 0 22px,#edc 0 23px,#eb9 0 24px,#eba 0 25px,#e97 0 26px,#c9a 0 27px,#abd 0 28px,#dcc 0 29px,#eb9 0 31px,#eaa 0 32px,#ecc 0 33px,#cbb 0 34px,#bbd 0 35px,#abd 0 36px,#ccc 0 37px,#ecc 0 38px,#eba 0 39px,#e76 0 40px,#e86 0 41px,#d65 0 42px,#ea8 0 43px,#e97 0 44px,#daa 0 45px,#ecb 0 46px,#dcb 0 47px,#edc 0 49px,#ea9 0 50px,#dcb 0 51px,#ecb 0 52px,#dbb 0 53px,#ecb 0 54px,#eba 0 55px,#e97 0 56px,#eba 0 57px,#edd 0 58px,#dcd 0 59px,#ecb 0 60px,#edc 0 61px,#ddd 0 62px,#e98 0 63px,#dcc 0 64px,#dcd 0 65px,#dbb 0 66px,#ddd 0 67px,#abd 0 68px,#ecb 0 69px,#ecc 0 71px,#dcc 0 73px,#d99 0 74px,#ea9 0 75px,#ecb 0 76px,#eba 0 77px,#ea9 0 78px,#edc 0 79px,#ecb 0 81px,#ecc 0 82px,#eba 0 83px,#eca 0 84px,#dbb 0 85px,#ecb 0 86px,#9ad 0 87px,#bbd 0 88px,#9ad 0 90px,#8ad 0 91px,#ccd 0 92px,#ddd 0 93px,#e87 0 95px,#eba 0 96px,#ddd 0 98px,#bcd 0 99px,#ecb 0 101px,#bcd 0 102px,#abd 0 103px,#bbd 0 104px,#ccc 0 105px,#edc 0 106px,#ecc 0 107px,#bbc 0 108px,#ea9 0 109px)"></i><i style="left:501px;width:2px;background:linear-gradient(#e98 0 1px,#c56 0 2px,#d65 0 3px,#c55 0 4px,#dcc 0 5px,#daa 0 6px,#d87 0 7px,#d77 0 8px,#d65 0 9px,#e98 0 10px,#e97 0 11px,#daa 0 12px,#99c 0 13px,#da9 0 14px,#ddd 0 15px,#eba 0 16px,#cbb 0 17px,#99c 0 18px,#9ad 0 19px,#67c 0 20px,#66b 0 21px,#45a 0 22px,#89b 0 23px,#68c 0 24px,#bbd 0 25px,#aac 0 26px,#349 0 28px,#56b 0 29px,#46b 0 30px,#79c 0 31px,#bab 0 32px,#9ad 0 33px,#45b 0 34px,#34a 0 35px,#56b 0 36px,#99c 0 37px,#bab 0 38px,#67c 0 39px,#68c 0 40px,#daa 0 41px,#e87 0 42px,#c89 0 43px,#dba 0 44px,#d99 0 45px,#78c 0 46px,#99b 0 47px,#d76 0 48px,#daa 0 49px,#d9a 0 50px,#bab 0 51px,#ea8 0 52px,#daa 0 53px,#d88 0 54px,#d66 0 55px,#c34 0 56px,#c44 0 57px,#d87 0 58px,#d66 0 59px,#b23 0 60px,#d76 0 61px,#ea9 0 62px,#a12 0 63px,#b23 0 64px,#c89 0 65px,#e97 0 66px,#d77 0 67px,#b78 0 68px,#e98 0 69px,#c56 0 70px,#d44 0 71px,#c78 0 72px,#d98 0 73px,#d55 0 74px,#d76 0 75px,#d99 0 76px,#ecb 0 77px,#daa 0 78px,#dcb 0 79px,#c99 0 80px,#e98 0 81px,#ddd 0 82px,#bac 0 83px,#daa 0 84px,#d55 0 85px,#d77 0 87px,#dcc 0 88px,#88b 0 89px,#68c 0 91px,#9ad 0 92px,#e97 0 93px,#c44 0 94px,#a12 0 96px,#c44 0 97px,#e87 0 98px,#daa 0 99px,#cbc 0 100px,#caa 0 101px,#aac 0 102px,#b77 0 103px,#da9 0 104px,#b33 0 105px,#c44 0 106px,#dcc 0 107px,#b9b 0 108px,#c66 0 109px)"></i><i style="left:503px;width:3px;background:linear-gradient(#8ad 0 1px,#9ad 0 2px,#bbc 0 3px,#b9a 0 4px,#abd 0 5px,#9ad 0 6px,#9ac 0 7px,#9bd 0 8px,#ccd 0 9px,#67c 0 10px,#abd 0 12px,#67b 0 13px,#9bd 0 14px,#cbb 0 15px,#ecb 0 16px,#d77 0 17px,#ebb 0 18px,#dbb 0 19px,#9ad 0 20px,#abd 0 22px,#99c 0 23px,#8ad 0 24px,#bcd 0 25px,#89c 0 26px,#67c 0 27px,#99b 0 28px,#d66 0 29px,#c88 0 30px,#dbb 0 31px,#dba 0 32px,#dcb 0 33px,#c9a 0 34px,#bbc 0 35px,#bcd 0 36px,#979 0 37px,#d98 0 38px,#ea9 0 39px,#d98 0 40px,#daa 0 41px,#dcc 0 42px,#bbd 0 43px,#99c 0 44px,#bbc 0 45px,#a9b 0 46px,#cbb 0 47px,#c88 0 48px,#dbb 0 49px,#dba 0 50px,#d99 0 51px,#ea8 0 52px,#ecb 0 53px,#78c 0 54px,#cbb 0 55px,#d77 0 56px,#d76 0 57px,#eba 0 58px,#d77 0 59px,#d55 0 60px,#d99 0 61px,#ccc 0 62px,#c33 0 63px,#c34 0 64px,#d87 0 65px,#eb9 0 66px,#dcc 0 67px,#bab 0 68px,#ea9 0 69px,#d88 0 70px,#d65 0 71px,#c33 0 72px,#daa 0 73px,#d77 0 74px,#c34 0 75px,#e76 0 76px,#e87 0 77px,#d98 0 78px,#ea8 0 79px,#d88 0 80px,#ecb 0 81px,#dbb 0 82px,#cab 0 83px,#d65 0 84px,#c44 0 86px,#c55 0 87px,#daa 0 88px,#caa 0 89px,#bab 0 90px,#bbd 0 91px,#bbc 0 92px,#dbb 0 93px,#c55 0 94px,#a12 0 95px,#c33 0 96px,#ea9 0 97px,#bab 0 98px,#87b 0 99px,#cbc 0 100px,#9ad 0 101px,#78c 0 102px,#34a 0 103px,#78c 0 105px,#bbd 0 106px,#8ad 0 107px,#78c 0 108px,#d55 0 109px)"></i><i style="left:506px;width:2px;background:linear-gradient(#56a 0 1px,#56b 0 2px,#aac 0 3px,#78b 0 4px,#45b 0 5px,#56b 0 6px,#aac 0 7px,#bbd 0 9px,#68c 0 10px,#88b 0 11px,#56b 0 12px,#67c 0 13px,#baa 0 14px,#dcc 0 15px,#ccc 0 16px,#8ad 0 17px,#79c 0 18px,#67c 0 19px,#34a 0 20px,#45a 0 21px,#34a 0 22px,#45b 0 23px,#56b 0 24px,#78c 0 25px,#89b 0 26px,#78c 0 27px,#aac 0 28px,#b78 0 29px,#cbc 0 30px,#dbb 0 31px,#caa 0 32px,#daa 0 33px,#abd 0 34px,#57b 0 35px,#8ad 0 36px,#78c 0 37px,#9ac 0 38px,#abd 0 39px,#bbc 0 40px,#99c 0 41px,#67c 0 42px,#8ad 0 43px,#56b 0 44px,#9ad 0 45px,#89c 0 46px,#ccd 0 47px,#9ad 0 48px,#78c 0 49px,#57c 0 50px,#aac 0 51px,#caa 0 52px,#9ac 0 53px,#bbc 0 54px,#c66 0 55px,#d55 0 56px,#c56 0 57px,#c45 0 58px,#e76 0 59px,#b23 0 60px,#d99 0 61px,#dcb 0 62px,#b13 0 63px,#c44 0 64px,#c77 0 65px,#e76 0 66px,#daa 0 67px,#c77 0 68px,#e86 0 69px,#b23 0 71px,#c55 0 72px,#ea9 0 73px,#b23 0 74px,#d66 0 75px,#d55 0 76px,#d87 0 77px,#d99 0 78px,#ecb 0 79px,#eba 0 80px,#e98 0 81px,#cbb 0 82px,#aac 0 83px,#cbc 0 84px,#bbc 0 85px,#cbb 0 87px,#9ac 0 88px,#89c 0 89px,#68c 0 90px,#56b 0 92px,#99b 0 93px,#ccd 0 94px,#d66 0 95px,#c9a 0 96px,#9ad 0 97px,#45a 0 98px,#46b 0 99px,#9ad 0 100px,#9ac 0 101px,#57c 0 102px,#34a 0 103px,#9ad 0 104px,#78c 0 105px,#bce 0 106px,#bbc 0 108px,#e86 0 109px)"></i><i style="left:508px;width:3px;background:linear-gradient(#ea8 0 1px,#d77 0 2px,#e98 0 3px,#ea9 0 4px,#89c 0 5px,#ecb 0 6px,#eba 0 7px,#ea9 0 8px,#eba 0 9px,#c88 0 10px,#dcb 0 11px,#daa 0 12px,#bbd 0 13px,#caa 0 14px,#e97 0 15px,#eba 0 16px,#ea8 0 17px,#dcb 0 18px,#d99 0 19px,#cbc 0 20px,#67c 0 21px,#99c 0 22px,#dbb 0 23px,#eba 0 25px,#c56 0 26px,#da9 0 27px,#abd 0 28px,#c88 0 29px,#da9 0 30px,#ea9 0 31px,#d66 0 32px,#e87 0 33px,#c54 0 34px,#d87 0 35px,#dbb 0 36px,#c99 0 37px,#e76 0 38px,#c44 0 40px,#bbc 0 41px,#ea9 0 42px,#daa 0 43px,#da9 0 44px,#caa 0 45px,#d99 0 46px,#d55 0 47px,#d87 0 48px,#c77 0 49px,#d88 0 50px,#c89 0 51px,#e87 0 52px,#c55 0 53px,#b34 0 54px,#b13 0 55px,#c44 0 56px,#c34 0 57px,#d88 0 58px,#ecb 0 59px,#c44 0 60px,#ea8 0 61px,#ecb 0 62px,#c33 0 63px,#b33 0 64px,#d54 0 65px,#da9 0 66px,#ccc 0 67px,#c78 0 68px,#ecb 0 69px,#a12 0 71px,#a13 0 72px,#d55 0 73px,#d76 0 74px,#caa 0 75px,#abc 0 76px,#aac 0 77px,#89d 0 78px,#dcb 0 79px,#ecb 0 80px,#d76 0 81px,#e87 0 82px,#caa 0 83px,#e98 0 84px,#d87 0 85px,#e86 0 86px,#cbb 0 87px,#eba 0 88px,#bab 0 89px,#cab 0 90px,#89c 0 91px,#8ad 0 92px,#aac 0 93px,#c88 0 94px,#e87 0 95px,#eba 0 96px,#ecc 0 97px,#bbc 0 98px,#9ad 0 99px,#c9a 0 100px,#bab 0 101px,#68c 0 102px,#aac 0 103px,#bcd 0 104px,#cbc 0 105px,#ddc 0 106px,#9ad 0 107px,#78c 0 108px,#d76 0 109px)"></i><i style="left:511px;width:2px;background:linear-gradient(#ea9 0 1px,#d55 0 2px,#d44 0 3px,#d99 0 4px,#9bd 0 5px,#dbb 0 6px,#cab 0 7px,#eba 0 8px,#ccd 0 9px,#cbb 0 10px,#ea9 0 11px,#c89 0 12px,#b34 0 13px,#a12 0 14px,#c34 0 15px,#e86 0 16px,#eb9 0 17px,#bbd 0 18px,#bab 0 19px,#99c 0 20px,#88b 0 21px,#78c 0 22px,#abd 0 23px,#bbd 0 24px,#c99 0 25px,#d66 0 26px,#d77 0 28px,#a79 0 29px,#bab 0 30px,#ea9 0 31px,#cbc 0 32px,#eba 0 33px,#c99 0 34px,#daa 0 35px,#abd 0 36px,#cbb 0 37px,#e98 0 38px,#d76 0 39px,#c45 0 40px,#d98 0 41px,#88b 0 42px,#c9a 0 43px,#b89 0 44px,#c99 0 45px,#869 0 46px,#d99 0 47px,#c88 0 48px,#9ac 0 49px,#67c 0 50px,#78c 0 51px,#ccd 0 52px,#67c 0 53px,#56b 0 54px,#aad 0 55px,#cbb 0 56px,#57c 0 57px,#349 0 58px,#67b 0 59px,#c89 0 60px,#67b 0 61px,#45a 0 62px,#57b 0 63px,#67c 0 64px,#99c 0 65px,#68c 0 66px,#89c 0 67px,#78c 0 68px,#cab 0 69px,#d87 0 70px,#daa 0 71px,#cab 0 72px,#bbc 0 73px,#c89 0 74px,#aab 0 75px,#aac 0 76px,#bab 0 77px,#c99 0 78px,#ccd 0 79px,#c44 0 80px,#b33 0 81px,#d66 0 82px,#c66 0 83px,#d65 0 84px,#b34 0 85px,#c54 0 86px,#cbb 0 87px,#d54 0 88px,#c77 0 89px,#d99 0 90px,#bbc 0 91px,#89d 0 93px,#d77 0 94px,#c66 0 95px,#d87 0 96px,#ecb 0 97px,#cbc 0 98px,#8ad 0 99px,#cbc 0 100px,#eba 0 101px,#dba 0 102px,#cbb 0 103px,#ea9 0 104px,#d88 0 105px,#eba 0 106px,#cbb 0 107px,#d65 0 108px,#c44 0 109px)"></i><i style="left:513px;width:3px;background:linear-gradient(#edc 0 1px,#e98 0 2px,#d54 0 3px,#e98 0 4px,#ccd 0 5px,#eba 0 6px,#ea8 0 7px,#ecb 0 8px,#dbb 0 9px,#bac 0 10px,#eca 0 11px,#abc 0 12px,#9ad 0 13px,#eba 0 14px,#ea8 0 15px,#ecb 0 16px,#ccc 0 17px,#cbc 0 18px,#ccd 0 19px,#bbc 0 20px,#78c 0 21px,#68c 0 22px,#bcd 0 23px,#99c 0 24px,#ecb 0 25px,#e98 0 26px,#aad 0 27px,#56b 0 28px,#67c 0 29px,#9ad 0 30px,#89c 0 31px,#79c 0 32px,#89d 0 33px,#68c 0 34px,#a9b 0 35px,#bcd 0 36px,#78c 0 37px,#abc 0 38px,#bbd 0 39px,#abd 0 40px,#9ad 0 42px,#aac 0 43px,#abd 0 44px,#9ad 0 45px,#ccc 0 46px,#c99 0 47px,#eba 0 48px,#ccd 0 49px,#aac 0 50px,#99c 0 51px,#bbc 0 52px,#89c 0 53px,#67c 0 54px,#78c 0 55px,#99b 0 56px,#78c 0 57px,#67b 0 58px,#78c 0 59px,#bbd 0 61px,#9ad 0 62px,#bab 0 63px,#baa 0 64px,#abd 0 65px,#67c 0 66px,#57c 0 68px,#eb9 0 69px,#d76 0 70px,#e97 0 71px,#ecc 0 72px,#cbc 0 73px,#bcd 0 74px,#edd 0 75px,#ccc 0 76px,#dcc 0 77px,#caa 0 78px,#dcc 0 79px,#dbc 0 80px,#dcc 0 81px,#bcd 0 82px,#9ad 0 83px,#dcc 0 84px,#e98 0 85px,#e76 0 86px,#e87 0 87px,#d76 0 88px,#ecb 0 89px,#ea9 0 90px,#daa 0 91px,#ccd 0 92px,#dcb 0 93px,#d75 0 94px,#b33 0 95px,#d55 0 96px,#eba 0 97px,#dab 0 98px,#ccd 0 99px,#daa 0 100px,#dcc 0 101px,#bbc 0 102px,#89d 0 103px,#cbc 0 104px,#d99 0 105px,#dcd 0 106px,#abd 0 107px,#ccc 0 108px,#daa 0 109px)"></i><i style="left:516px;width:2px;background:linear-gradient(#ea9 0 1px,#d44 0 2px,#e86 0 3px,#e76 0 4px,#ea8 0 5px,#eb9 0 6px,#ea9 0 7px,#e87 0 8px,#e97 0 9px,#d76 0 10px,#e76 0 12px,#c44 0 13px,#b33 0 14px,#d65 0 15px,#e86 0 17px,#d76 0 18px,#e87 0 19px,#eba 0 20px,#ddc 0 21px,#eba 0 22px,#e87 0 23px,#e86 0 24px,#e98 0 25px,#b13 0 26px,#c33 0 27px,#da9 0 28px,#ccc 0 30px,#bcd 0 31px,#dbb 0 32px,#ecc 0 33px,#ccc 0 34px,#eba 0 35px,#dcc 0 36px,#dba 0 37px,#e86 0 38px,#eba 0 39px,#dcc 0 40px,#bcd 0 41px,#ccc 0 42px,#dcb 0 43px,#ccd 0 44px,#dcc 0 46px,#ecb 0 47px,#bcd 0 48px,#dcc 0 49px,#ccd 0 50px,#abd 0 52px,#ccc 0 53px,#dcd 0 54px,#bbd 0 55px,#bcd 0 56px,#dcd 0 57px,#abd 0 58px,#ccd 0 59px,#eba 0 60px,#ccc 0 61px,#bce 0 62px,#ccd 0 63px,#dcc 0 64px,#abd 0 65px,#9bd 0 66px,#ccd 0 67px,#bcd 0 68px,#eb9 0 69px,#e76 0 70px,#ecb 0 71px,#ddd 0 72px,#ccd 0 73px,#daa 0 74px,#e87 0 75px,#ecb 0 77px,#dbb 0 78px,#ecb 0 79px,#edd 0 80px,#eba 0 81px,#ea9 0 82px,#ddd 0 83px,#eb9 0 84px,#d65 0 85px,#ebb 0 86px,#dbb 0 88px,#ecb 0 89px,#eca 0 90px,#abd 0 91px,#ccd 0 92px,#dcc 0 93px,#e97 0 94px,#d54 0 95px,#daa 0 96px,#e97 0 97px,#dbb 0 98px,#bbd 0 99px,#abc 0 100px,#dcc 0 101px,#dcd 0 102px,#bbd 0 103px,#ccd 0 105px,#abd 0 106px,#9ad 0 107px,#aac 0 108px,#eb9 0 109px)"></i><i style="left:518px;width:3px;background:linear-gradient(#ecc 0 1px,#e97 0 3px,#e86 0 4px,#eb9 0 6px,#ecc 0 7px,#eca 0 8px,#ecb 0 10px,#ecc 0 11px,#edc 0 12px,#eca 0 13px,#e87 0 14px,#ea8 0 15px,#eca 0 16px,#eb9 0 17px,#eba 0 18px,#eca 0 19px,#ecb 0 20px,#eba 0 21px,#e75 0 22px,#eb9 0 24px,#ea8 0 25px,#e65 0 26px,#eb9 0 27px,#eba 0 28px,#eb9 0 29px,#eca 0 30px,#edc 0 31px,#ea9 0 32px,#ecb 0 33px,#ea9 0 34px,#eba 0 35px,#eb9 0 37px,#ea8 0 38px,#ecb 0 39px,#edd 0 40px,#ecb 0 41px,#edc 0 42px,#ddd 0 43px,#bce 0 44px,#bcd 0 45px,#ecb 0 46px,#eba 0 47px,#ecb 0 48px,#edc 0 49px,#eba 0 50px,#edc 0 51px,#ecb 0 52px,#eb9 0 53px,#ecb 0 54px,#ecc 0 55px,#eb9 0 56px,#ecb 0 57px,#ddd 0 58px,#edd 0 59px,#ecb 0 60px,#dcd 0 61px,#edc 0 62px,#eba 0 63px,#ecb 0 64px,#ddd 0 65px,#edc 0 66px,#ddd 0 67px,#eba 0 68px,#e97 0 69px,#e86 0 70px,#e97 0 71px,#e98 0 72px,#ea9 0 73px,#e97 0 74px,#e86 0 75px,#ea8 0 76px,#eba 0 77px,#ea8 0 78px,#eca 0 79px,#ea8 0 80px,#eba 0 81px,#edc 0 82px,#ecb 0 84px,#ea9 0 85px,#ecb 0 88px,#ddd 0 90px,#bcd 0 91px,#abd 0 92px,#ddd 0 93px,#ecc 0 94px,#ecb 0 95px,#ecc 0 96px,#ddd 0 97px,#dcd 0 98px,#cdd 0 99px,#ddd 0 100px,#ecb 0 102px,#eba 0 103px,#edc 0 105px,#cce 0 106px,#bce 0 107px,#ccc 0 108px,#ea9 0 109px)"></i><i style="left:521px;width:2px;background:linear-gradient(#e76 0 1px,#b23 0 2px,#c33 0 3px,#d76 0 4px,#c78 0 5px,#d44 0 6px,#c45 0 7px,#d44 0 8px,#e76 0 9px,#d87 0 10px,#e87 0 11px,#c55 0 12px,#d65 0 13px,#a12 0 14px,#d33 0 15px,#d54 0 16px,#da9 0 17px,#cbc 0 18px,#d88 0 19px,#ccd 0 20px,#abd 0 21px,#da9 0 22px,#dcc 0 23px,#d77 0 24px,#e99 0 25px,#d54 0 26px,#b99 0 27px,#98a 0 28px,#bab 0 29px,#aad 0 30px,#89c 0 31px,#aac 0 32px,#dcc 0 33px,#89c 0 34px,#79c 0 35px,#bbc 0 36px,#56b 0 37px,#9ad 0 38px,#bbc 0 39px,#57c 0 40px,#9ad 0 41px,#88c 0 42px,#89d 0 43px,#34a 0 46px,#99c 0 47px,#67b 0 48px,#67c 0 49px,#bbc 0 50px,#9ac 0 51px,#cbb 0 52px,#c9a 0 53px,#c77 0 54px,#d99 0 55px,#d88 0 56px,#daa 0 57px,#bab 0 58px,#abd 0 59px,#d99 0 60px,#bbd 0 61px,#9ad 0 62px,#cab 0 63px,#bac 0 64px,#abd 0 65px,#67c 0 66px,#9ad 0 67px,#78c 0 68px,#dcc 0 69px,#e88 0 70px,#daa 0 71px,#bbc 0 72px,#bbd 0 73px,#d98 0 74px,#ea9 0 75px,#d88 0 76px,#ccd 0 77px,#abd 0 78px,#aac 0 79px,#9ac 0 80px,#bbb 0 81px,#dcc 0 82px,#bbc 0 83px,#ecb 0 84px,#cab 0 85px,#bcd 0 86px,#aac 0 87px,#cbc 0 88px,#cbb 0 89px,#99b 0 90px,#89d 0 91px,#aac 0 92px,#bbc 0 93px,#e87 0 94px,#c77 0 95px,#cab 0 96px,#99c 0 97px,#bbd 0 98px,#67b 0 99px,#9ac 0 100px,#eca 0 101px,#ea8 0 102px,#c88 0 103px,#e86 0 104px,#b45 0 105px,#caa 0 106px,#89c 0 107px,#bcd 0 108px,#b13 0 109px)"></i><i style="left:523px;width:3px;background:linear-gradient(#bbd 0 1px,#d55 0 2px,#b23 0 3px,#c34 0 4px,#bab 0 5px,#ea9 0 6px,#dba 0 7px,#dcc 0 8px,#cab 0 9px,#daa 0 10px,#dcc 0 11px,#cbb 0 12px,#a9b 0 13px,#d88 0 14px,#d64 0 15px,#e87 0 16px,#ea8 0 17px,#caa 0 18px,#d87 0 19px,#e87 0 20px,#e98 0 21px,#c44 0 22px,#c33 0 23px,#b23 0 24px,#a12 0 27px,#c66 0 28px,#e76 0 29px,#e98 0 30px,#ccd 0 31px,#dbb 0 32px,#ecc 0 33px,#abd 0 34px,#c99 0 35px,#d98 0 37px,#eb9 0 38px,#dbb 0 39px,#bab 0 40px,#cbc 0 41px,#daa 0 42px,#edc 0 43px,#89c 0 45px,#c99 0 46px,#cbc 0 47px,#89c 0 48px,#aac 0 49px,#eba 0 50px,#dcc 0 51px,#eba 0 52px,#cab 0 53px,#78c 0 55px,#9ad 0 57px,#45a 0 58px,#56b 0 59px,#99b 0 60px,#9ad 0 61px,#68c 0 62px,#abd 0 63px,#89c 0 64px,#46b 0 65px,#45a 0 66px,#45b 0 67px,#45a 0 68px,#9ad 0 69px,#ea9 0 70px,#ecc 0 71px,#78c 0 72px,#57c 0 73px,#88c 0 74px,#99c 0 75px,#56b 0 77px,#44a 0 78px,#68c 0 79px,#46b 0 80px,#79c 0 81px,#78c 0 82px,#45a 0 83px,#9ad 0 84px,#78c 0 86px,#67c 0 87px,#89d 0 88px,#56b 0 89px,#57b 0 90px,#45a 0 91px,#45b 0 92px,#67b 0 93px,#dcd 0 94px,#aac 0 95px,#77b 0 96px,#68c 0 97px,#45b 0 98px,#34a 0 99px,#45a 0 100px,#9bd 0 101px,#89d 0 102px,#78c 0 103px,#cbc 0 104px,#869 0 105px,#9ad 0 106px,#45a 0 107px,#bbc 0 108px,#a12 0 109px)"></i><i style="left:526px;width:2px;background:linear-gradient(#bbd 0 1px,#cbc 0 2px,#ea9 0 3px,#da9 0 4px,#cab 0 5px,#ebb 0 6px,#eba 0 7px,#e98 0 8px,#eba 0 9px,#d98 0 10px,#ebb 0 11px,#a8a 0 12px,#dba 0 13px,#d65 0 14px,#ea9 0 15px,#eb9 0 16px,#eba 0 18px,#e98 0 19px,#d65 0 20px,#d77 0 21px,#d76 0 22px,#ea9 0 23px,#c66 0 24px,#d54 0 25px,#b34 0 26px,#b33 0 27px,#b34 0 28px,#d66 0 29px,#e87 0 30px,#ecb 0 31px,#e87 0 32px,#ea8 0 33px,#dba 0 34px,#ecb 0 35px,#bbd 0 36px,#89c 0 37px,#d99 0 38px,#eba 0 39px,#dbb 0 40px,#bbc 0 41px,#ecb 0 43px,#aad 0 44px,#9ad 0 45px,#d99 0 46px,#e86 0 47px,#eba 0 48px,#dbb 0 49px,#ea9 0 50px,#ca9 0 51px,#bbc 0 52px,#dcb 0 53px,#ccc 0 54px,#99c 0 55px,#ccc 0 56px,#cab 0 57px,#cbc 0 58px,#ecb 0 59px,#d76 0 60px,#dbb 0 61px,#cbb 0 63px,#9ad 0 65px,#68c 0 67px,#89c 0 68px,#cbc 0 69px,#dba 0 70px,#dbb 0 71px,#bbc 0 72px,#abd 0 73px,#dcb 0 74px,#e76 0 75px,#ccc 0 76px,#89d 0 77px,#bbc 0 78px,#89d 0 79px,#9ad 0 80px,#bbd 0 81px,#abd 0 82px,#67b 0 83px,#abd 0 84px,#ebb 0 85px,#dba 0 86px,#abd 0 87px,#bbc 0 88px,#8ad 0 89px,#67c 0 90px,#abd 0 92px,#bac 0 93px,#e75 0 94px,#daa 0 95px,#ecb 0 96px,#daa 0 97px,#ccd 0 98px,#79c 0 99px,#aad 0 100px,#ecc 0 102px,#dbb 0 103px,#edc 0 104px,#dcb 0 105px,#ddc 0 106px,#bac 0 107px,#aad 0 108px,#c55 0 109px)"></i><i style="left:528px;width:3px;background:linear-gradient(#eba 0 1px,#d54 0 2px,#d55 0 3px,#e76 0 4px,#e98 0 5px,#d55 0 6px,#c33 0 7px,#d44 0 8px,#e97 0 9px,#e86 0 10px,#ea9 0 11px,#daa 0 12px,#d99 0 13px,#c34 0 14px,#e86 0 15px,#e97 0 16px,#ea9 0 17px,#bcd 0 18px,#ecc 0 19px,#dcc 0 20px,#bab 0 21px,#ecb 0 22px,#e76 0 23px,#d65 0 24px,#d87 0 25px,#d54 0 26px,#d65 0 28px,#d54 0 29px,#d76 0 30px,#e86 0 31px,#c33 0 32px,#ea8 0 33px,#ea9 0 34px,#cbb 0 35px,#dcc 0 36px,#daa 0 37px,#ea9 0 38px,#e97 0 39px,#eb9 0 40px,#eba 0 41px,#cbb 0 42px,#fca 0 43px,#ecb 0 45px,#d76 0 46px,#d65 0 47px,#dcd 0 48px,#cbc 0 49px,#da9 0 50px,#cbb 0 51px,#bcd 0 52px,#e98 0 53px,#daa 0 54px,#cbc 0 55px,#eca 0 56px,#ea8 0 57px,#dbb 0 58px,#dcc 0 59px,#d87 0 60px,#e76 0 61px,#ccc 0 62px,#abd 0 64px,#ddd 0 65px,#9ad 0 66px,#8ad 0 67px,#bcd 0 68px,#ecb 0 69px,#dcc 0 70px,#dba 0 71px,#ecb 0 72px,#dcb 0 73px,#e98 0 74px,#e87 0 75px,#e98 0 76px,#dcd 0 77px,#ccd 0 78px,#edc 0 79px,#da9 0 80px,#ecb 0 81px,#dcc 0 82px,#a9b 0 83px,#ecc 0 84px,#e98 0 85px,#ccc 0 86px,#bbd 0 87px,#bab 0 88px,#daa 0 89px,#ebb 0 90px,#eba 0 91px,#dbb 0 92px,#eba 0 93px,#b23 0 94px,#c43 0 95px,#d76 0 96px,#e87 0 97px,#eca 0 98px,#dbb 0 99px,#d76 0 100px,#eb9 0 101px,#e97 0 102px,#d54 0 103px,#e87 0 104px,#d66 0 105px,#edc 0 106px,#ddd 0 107px,#b89 0 108px,#b33 0 109px)"></i><i style="left:531px;width:2px;background:linear-gradient(#cbc 0 1px,#c55 0 2px,#d55 0 3px,#d54 0 4px,#eba 0 5px,#eca 0 6px,#d65 0 7px,#d88 0 8px,#eba 0 9px,#d76 0 10px,#ea8 0 11px,#bab 0 13px,#d55 0 14px,#e87 0 15px,#e97 0 16px,#e98 0 17px,#eca 0 18px,#e87 0 19px,#c34 0 20px,#d77 0 21px,#d76 0 23px,#c44 0 24px,#e87 0 25px,#b45 0 26px,#d77 0 27px,#b33 0 28px,#e98 0 29px,#ea9 0 30px,#dcc 0 31px,#ccd 0 33px,#67c 0 34px,#e98 0 35px,#dbb 0 36px,#eba 0 37px,#dba 0 38px,#eba 0 39px,#b9a 0 40px,#ccd 0 41px,#dcc 0 42px,#bab 0 43px,#9ad 0 44px,#bbc 0 45px,#c67 0 46px,#d77 0 47px,#bce 0 48px,#ea9 0 49px,#d77 0 50px,#caa 0 51px,#bbc 0 52px,#ea9 0 53px,#c9a 0 54px,#ecb 0 55px,#c66 0 56px,#c44 0 57px,#c9a 0 58px,#cbc 0 59px,#b13 0 60px,#e76 0 61px,#edc 0 62px,#caa 0 63px,#c55 0 64px,#e87 0 65px,#ddd 0 66px,#dcc 0 67px,#c88 0 68px,#e98 0 69px,#c44 0 70px,#d65 0 71px,#d76 0 72px,#daa 0 73px,#b34 0 74px,#a13 0 75px,#b23 0 76px,#c54 0 77px,#a13 0 78px,#c44 0 79px,#c34 0 80px,#c44 0 81px,#b23 0 82px,#a12 0 83px,#b23 0 84px,#a12 0 85px,#b13 0 87px,#a12 0 89px,#b13 0 90px,#b23 0 91px,#d54 0 92px,#c33 0 93px,#a13 0 94px,#a12 0 95px,#d66 0 96px,#b23 0 97px,#d44 0 98px,#da9 0 99px,#dbb 0 100px,#eb9 0 101px,#d65 0 102px,#b13 0 103px,#d54 0 104px,#a12 0 105px,#dcc 0 106px,#89d 0 107px,#b9b 0 108px,#d65 0 109px)"></i><i style="left:533px;width:3px;background:linear-gradient(#45b 0 1px,#79d 0 2px,#ccc 0 3px,#78c 0 4px,#57c 0 5px,#67c 0 6px,#abd 0 7px,#aac 0 8px,#89d 0 9px,#57b 0 10px,#9ac 0 11px,#79c 0 12px,#45b 0 13px,#78c 0 14px,#ccd 0 15px,#cce 0 16px,#56b 0 17px,#46b 0 18px,#67c 0 19px,#56b 0 20px,#349 0 22px,#78c 0 23px,#77b 0 24px,#89d 0 25px,#89c 0 26px,#9ad 0 27px,#a9b 0 28px,#78c 0 29px,#9ad 0 30px,#bcd 0 31px,#89d 0 32px,#abd 0 34px,#eba 0 35px,#e98 0 36px,#daa 0 37px,#d65 0 38px,#c44 0 39px,#dbb 0 40px,#dcc 0 41px,#ccd 0 43px,#99c 0 44px,#abd 0 45px,#e98 0 46px,#ea8 0 47px,#ccd 0 48px,#bbc 0 49px,#ccd 0 50px,#bab 0 51px,#bbc 0 52px,#abd 0 53px,#aad 0 54px,#daa 0 55px,#c88 0 56px,#e98 0 57px,#eba 0 59px,#d77 0 60px,#d87 0 61px,#eca 0 62px,#d98 0 63px,#ebb 0 64px,#e86 0 65px,#ea8 0 66px,#ddd 0 67px,#eaa 0 68px,#d99 0 69px,#d98 0 70px,#d77 0 71px,#d55 0 72px,#e87 0 73px,#d77 0 74px,#d65 0 75px,#d88 0 76px,#daa 0 77px,#d87 0 78px,#e98 0 79px,#c88 0 80px,#d76 0 81px,#e65 0 82px,#d65 0 83px,#e65 0 84px,#b23 0 85px,#d77 0 86px,#d54 0 87px,#d44 0 88px,#e87 0 89px,#e98 0 90px,#ea9 0 91px,#dcc 0 92px,#ea9 0 93px,#c33 0 94px,#c55 0 95px,#67c 0 96px,#78c 0 97px,#abd 0 98px,#bac 0 99px,#78c 0 100px,#aac 0 101px,#bcd 0 102px,#ecc 0 103px,#da9 0 104px,#e98 0 105px,#ecb 0 106px,#bbd 0 107px,#89c 0 108px,#d77 0 109px)"></i><i style="left:536px;width:2px;background:linear-gradient(#68c 0 1px,#78c 0 2px,#bcd 0 3px,#89d 0 4px,#68c 0 5px,#9ad 0 7px,#abd 0 9px,#57c 0 10px,#9ad 0 11px,#56b 0 12px,#45b 0 13px,#68c 0 14px,#9ad 0 15px,#cce 0 16px,#bcd 0 17px,#abd 0 18px,#ddd 0 19px,#abd 0 21px,#dcc 0 22px,#ddd 0 23px,#dbb 0 24px,#dcc 0 25px,#eba 0 27px,#dba 0 28px,#ddd 0 30px,#ddc 0 31px,#eba 0 32px,#ecb 0 33px,#ea8 0 34px,#ecb 0 35px,#eba 0 36px,#e97 0 37px,#d75 0 38px,#e97 0 39px,#e76 0 40px,#ea8 0 41px,#e97 0 42px,#ea8 0 43px,#e87 0 44px,#ea8 0 45px,#c33 0 46px,#d44 0 47px,#eb9 0 48px,#ea9 0 49px,#e76 0 50px,#c44 0 51px,#e75 0 52px,#d54 0 53px,#a12 0 54px,#c34 0 55px,#b23 0 57px,#c33 0 58px,#d65 0 59px,#a12 0 60px,#b23 0 61px,#e65 0 62px,#b13 0 63px,#c33 0 64px,#c23 0 65px,#e64 0 66px,#ea8 0 67px,#c33 0 68px,#b13 0 70px,#c33 0 71px,#b23 0 72px,#c44 0 73px,#b23 0 74px,#b13 0 75px,#e65 0 76px,#e87 0 77px,#e97 0 78px,#eb9 0 79px,#d55 0 80px,#e87 0 81px,#e98 0 82px,#d75 0 83px,#e98 0 84px,#e76 0 85px,#eca 0 86px,#ea9 0 87px,#e98 0 88px,#ea8 0 89px,#eb9 0 90px,#ecb 0 91px,#dcd 0 92px,#d99 0 93px,#e97 0 94px,#e87 0 95px,#bcd 0 96px,#dcd 0 97px,#ddd 0 100px,#eca 0 101px,#ecb 0 102px,#eb9 0 103px,#ecc 0 105px,#edc 0 106px,#dcc 0 107px,#dbb 0 108px,#d44 0 109px)"></i><i style="left:538px;width:3px;background:linear-gradient(#45a 0 1px,#78c 0 2px,#c9a 0 3px,#88c 0 4px,#78c 0 6px,#abd 0 7px,#dbb 0 8px,#dcd 0 9px,#56b 0 10px,#45a 0 11px,#349 0 13px,#56b 0 14px,#bcd 0 15px,#dcc 0 16px,#bac 0 17px,#79c 0 18px,#78c 0 19px,#56b 0 20px,#34a 0 21px,#45a 0 22px,#57b 0 23px,#56b 0 24px,#bbc 0 25px,#d77 0 26px,#baa 0 27px,#ccc 0 28px,#8ad 0 29px,#cbc 0 30px,#ccc 0 31px,#ccd 0 32px,#d87 0 33px,#eb9 0 34px,#d87 0 35px,#e87 0 36px,#d55 0 38px,#b23 0 39px,#c88 0 40px,#d99 0 41px,#da9 0 42px,#eaa 0 43px,#cab 0 44px,#dba 0 45px,#b23 0 46px,#b13 0 47px,#ecb 0 48px,#ebb 0 49px,#c55 0 50px,#b34 0 51px,#b13 0 52px,#a12 0 53px,#b23 0 54px,#a12 0 60px,#a13 0 61px,#a12 0 65px,#b13 0 66px,#d76 0 67px,#b13 0 68px,#a12 0 71px,#b23 0 72px,#c34 0 73px,#b13 0 74px,#a12 0 75px,#c44 0 76px,#d76 0 77px,#b13 0 78px,#d76 0 79px,#c55 0 80px,#e76 0 81px,#c55 0 82px,#a57 0 83px,#d65 0 84px,#b44 0 85px,#c44 0 86px,#d66 0 87px,#c33 0 88px,#c44 0 89px,#e98 0 90px,#d99 0 91px,#e87 0 92px,#eaa 0 93px,#b23 0 95px,#bbc 0 96px,#78b 0 97px,#89c 0 98px,#68c 0 99px,#78c 0 100px,#abd 0 101px,#9bd 0 102px,#56b 0 103px,#89d 0 104px,#45b 0 105px,#68c 0 106px,#78c 0 108px,#c89 0 109px)"></i><i style="left:541px;width:2px;background:linear-gradient(#abd 0 1px,#e86 0 2px,#e98 0 3px,#c9a 0 4px,#ccd 0 6px,#dcc 0 7px,#e98 0 8px,#ecc 0 9px,#cbb 0 10px,#bbd 0 11px,#bcd 0 12px,#dcc 0 13px,#ddd 0 14px,#edc 0 15px,#ea8 0 16px,#e76 0 17px,#ea9 0 18px,#eb9 0 19px,#ea8 0 20px,#e98 0 21px,#ecb 0 22px,#eca 0 23px,#ea9 0 24px,#e87 0 25px,#b13 0 26px,#d55 0 27px,#c33 0 28px,#d99 0 29px,#dbc 0 30px,#dcc 0 31px,#eb9 0 32px,#ecb 0 33px,#d65 0 34px,#c33 0 35px,#d65 0 36px,#b23 0 37px,#c33 0 38px,#d54 0 39px,#d88 0 40px,#dcc 0 41px,#ea9 0 42px,#dbb 0 43px,#bac 0 44px,#ddd 0 45px,#daa 0 46px,#ea9 0 47px,#9bd 0 48px,#dcc 0 49px,#eba 0 50px,#daa 0 51px,#da9 0 52px,#d87 0 53px,#e97 0 54px,#ea9 0 55px,#e76 0 56px,#c55 0 57px,#d99 0 58px,#ecb 0 59px,#caa 0 60px,#eb9 0 61px,#dcc 0 62px,#d44 0 63px,#d77 0 64px,#e87 0 65px,#ebb 0 66px,#edc 0 67px,#d76 0 68px,#c43 0 69px,#c33 0 70px,#e99 0 71px,#eba 0 72px,#dcd 0 73px,#edc 0 74px,#e87 0 75px,#e98 0 76px,#edc 0 77px,#e86 0 78px,#ea8 0 79px,#ea9 0 80px,#ecc 0 81px,#dcc 0 82px,#bcd 0 83px,#ccd 0 84px,#c99 0 85px,#edc 0 86px,#dba 0 87px,#dbb 0 88px,#cbb 0 89px,#edc 0 90px,#89c 0 91px,#89d 0 92px,#abd 0 93px,#dbb 0 94px,#eba 0 95px,#67b 0 96px,#67c 0 97px,#56b 0 99px,#89c 0 100px,#abd 0 101px,#aac 0 102px,#dbb 0 103px,#ccd 0 104px,#78c 0 105px,#bbd 0 106px,#89d 0 107px,#67c 0 108px,#eba 0 109px)"></i><i style="left:543px;width:3px;background:linear-gradient(#abd 0 1px,#eba 0 2px,#e97 0 3px,#eb9 0 4px,#dcc 0 5px,#ecc 0 6px,#dcb 0 7px,#e97 0 8px,#ecb 0 9px,#b89 0 10px,#89d 0 11px,#68c 0 12px,#9ac 0 13px,#bbc 0 14px,#dcc 0 15px,#ddd 0 16px,#dbb 0 17px,#edc 0 18px,#ecb 0 19px,#bcd 0 20px,#ccd 0 21px,#9ac 0 22px,#abd 0 23px,#bbc 0 24px,#ddd 0 25px,#d87 0 26px,#eba 0 27px,#ddd 0 28px,#89d 0 30px,#abd 0 31px,#9ad 0 32px,#edd 0 33px,#dcc 0 34px,#ea9 0 35px,#da9 0 36px,#d87 0 37px,#ea8 0 38px,#aac 0 39px,#ddd 0 40px,#eba 0 41px,#edc 0 42px,#eb9 0 43px,#dbb 0 44px,#ecb 0 45px,#e98 0 46px,#ea9 0 47px,#edc 0 48px,#bbd 0 49px,#dcd 0 50px,#daa 0 51px,#ea8 0 53px,#ea9 0 54px,#ecb 0 55px,#eba 0 56px,#e76 0 57px,#d77 0 58px,#ecb 0 59px,#cbb 0 60px,#cbc 0 61px,#bcd 0 62px,#dcc 0 63px,#caa 0 64px,#daa 0 65px,#bbd 0 66px,#9ad 0 67px,#dcd 0 68px,#dcb 0 69px,#edc 0 70px,#abd 0 71px,#79c 0 72px,#abd 0 73px,#bcd 0 74px,#eb9 0 75px,#bbc 0 76px,#9ad 0 77px,#67b 0 78px,#abd 0 79px,#ccd 0 80px,#bbd 0 81px,#abd 0 82px,#bbd 0 83px,#abd 0 84px,#bbd 0 85px,#dcd 0 86px,#ecb 0 87px,#da9 0 88px,#ea9 0 89px,#ecb 0 90px,#dcc 0 91px,#ddd 0 92px,#ea8 0 93px,#d65 0 94px,#e98 0 95px,#bab 0 96px,#9ad 0 97px,#bce 0 98px,#dcb 0 99px,#dcc 0 101px,#ecb 0 102px,#eb9 0 103px,#edc 0 104px,#ddd 0 105px,#ccd 0 106px,#edc 0 107px,#ebb 0 108px,#ea8 0 109px)"></i><i style="left:546px;width:2px;background:linear-gradient(#ea8 0 1px,#d76 0 2px,#e87 0 3px,#ea9 0 4px,#dcc 0 5px,#ecb 0 6px,#d99 0 7px,#c56 0 8px,#e98 0 9px,#ea9 0 10px,#bab 0 11px,#d88 0 12px,#e98 0 13px,#cab 0 14px,#ecb 0 15px,#edc 0 16px,#ea8 0 17px,#da9 0 18px,#ea8 0 19px,#ecb 0 20px,#ea8 0 21px,#daa 0 22px,#eba 0 23px,#d99 0 24px,#daa 0 25px,#d76 0 26px,#e87 0 29px,#eba 0 30px,#bbc 0 31px,#d65 0 32px,#e87 0 33px,#c44 0 34px,#b34 0 35px,#d64 0 36px,#b13 0 37px,#c76 0 38px,#dbb 0 39px,#bac 0 40px,#ccd 0 41px,#daa 0 42px,#dcc 0 43px,#98b 0 44px,#bcd 0 45px,#c66 0 46px,#d88 0 47px,#ccd 0 48px,#bcd 0 49px,#dcb 0 50px,#c9a 0 51px,#d66 0 52px,#e97 0 53px,#caa 0 54px,#c9a 0 55px,#dcc 0 56px,#ecc 0 57px,#bab 0 58px,#abd 0 59px,#89c 0 60px,#8ad 0 61px,#9ad 0 62px,#cbc 0 63px,#dcc 0 64px,#9ad 0 65px,#89d 0 66px,#abd 0 67px,#dbb 0 68px,#daa 0 69px,#dcd 0 70px,#89d 0 71px,#99c 0 72px,#89c 0 73px,#67b 0 74px,#89c 0 75px,#cbc 0 76px,#79c 0 77px,#89d 0 78px,#cbc 0 79px,#dcc 0 80px,#abd 0 81px,#ccd 0 82px,#9ac 0 83px,#ddd 0 84px,#da9 0 85px,#d99 0 86px,#e98 0 87px,#eaa 0 88px,#daa 0 89px,#dbb 0 90px,#cbb 0 91px,#bbd 0 92px,#edc 0 93px,#d55 0 94px,#d76 0 95px,#9ad 0 96px,#dbb 0 97px,#dcc 0 98px,#99c 0 99px,#cbc 0 100px,#bcd 0 101px,#aac 0 102px,#dbb 0 103px,#bbd 0 104px,#89c 0 105px,#89d 0 106px,#89c 0 107px,#b9a 0 108px,#d88 0 109px)"></i><i style="left:548px;width:3px;background:linear-gradient(#dbb 0 1px,#c77 0 2px,#e87 0 3px,#eaa 0 4px,#eba 0 5px,#e98 0 6px,#c77 0 7px,#ea8 0 8px,#c88 0 9px,#b9a 0 10px,#bcd 0 11px,#baa 0 12px,#dcc 0 13px,#b67 0 14px,#e99 0 15px,#ecb 0 16px,#ccd 0 17px,#cab 0 18px,#dcb 0 19px,#bbd 0 20px,#aac 0 21px,#bbc 0 22px,#dbb 0 24px,#eba 0 25px,#c45 0 26px,#d99 0 27px,#c55 0 28px,#daa 0 29px,#ea9 0 30px,#dcd 0 31px,#d76 0 32px,#e76 0 33px,#d65 0 34px,#b78 0 35px,#d65 0 36px,#b67 0 37px,#bbc 0 38px,#a9b 0 39px,#abd 0 40px,#caa 0 41px,#d65 0 42px,#e76 0 43px,#c88 0 44px,#e97 0 45px,#a12 0 46px,#b23 0 48px,#d65 0 49px,#c33 0 50px,#a12 0 51px,#c34 0 52px,#a12 0 53px,#b34 0 54px,#dcc 0 55px,#d66 0 56px,#a12 0 58px,#d65 0 59px,#c45 0 60px,#eaa 0 61px,#dcc 0 62px,#d77 0 63px,#d76 0 64px,#d65 0 65px,#c78 0 66px,#dcb 0 67px,#cbc 0 68px,#e97 0 69px,#c55 0 70px,#ea8 0 71px,#c66 0 72px,#cbc 0 74px,#b78 0 75px,#c55 0 76px,#ea9 0 77px,#bab 0 78px,#dcd 0 79px,#89c 0 80px,#cab 0 81px,#aac 0 82px,#c99 0 83px,#caa 0 84px,#c56 0 85px,#d76 0 86px,#c56 0 87px,#d55 0 88px,#cbb 0 89px,#b9b 0 90px,#aad 0 91px,#68c 0 92px,#bac 0 93px,#ea9 0 94px,#e87 0 95px,#67b 0 96px,#45a 0 97px,#99b 0 98px,#bcd 0 99px,#abd 0 100px,#78c 0 101px,#89c 0 102px,#a9a 0 103px,#bbd 0 104px,#77b 0 105px,#9ad 0 106px,#89c 0 107px,#b9b 0 108px,#e97 0 109px)"></i><i style="left:551px;width:2px;background:linear-gradient(#d65 0 1px,#d55 0 2px,#e86 0 3px,#eb9 0 4px,#ea9 0 5px,#eba 0 7px,#eb9 0 8px,#ea9 0 9px,#eaa 0 10px,#dcc 0 11px,#dba 0 12px,#eba 0 13px,#e87 0 14px,#ea9 0 15px,#eb9 0 16px,#ecb 0 17px,#eb9 0 18px,#ebb 0 19px,#eca 0 20px,#eba 0 22px,#ecb 0 23px,#e76 0 24px,#e87 0 25px,#d43 0 26px,#d54 0 27px,#c55 0 28px,#e87 0 29px,#e98 0 30px,#eb9 0 31px,#d64 0 32px,#d65 0 34px,#ea8 0 35px,#d65 0 36px,#b23 0 37px,#e76 0 38px,#ecb 0 39px,#eba 0 40px,#ecb 0 41px,#e76 0 42px,#ea8 0 43px,#e76 0 44px,#d54 0 45px,#b13 0 46px,#b23 0 47px,#d44 0 48px,#e87 0 49px,#e86 0 50px,#b13 0 51px,#b23 0 52px,#c33 0 53px,#d76 0 54px,#ea9 0 55px,#eba 0 57px,#e98 0 58px,#ea8 0 60px,#ecb 0 61px,#dcd 0 62px,#dcc 0 63px,#ccd 0 64px,#dcc 0 65px,#dcd 0 66px,#edd 0 67px,#dbb 0 68px,#bcd 0 69px,#ccc 0 70px,#eba 0 71px,#edd 0 72px,#ccd 0 73px,#9ad 0 74px,#ecb 0 75px,#e98 0 76px,#edc 0 77px,#9ad 0 78px,#cce 0 79px,#dcd 0 80px,#edd 0 81px,#9ad 0 82px,#abd 0 83px,#ecc 0 84px,#e75 0 85px,#ecb 0 86px,#dbb 0 87px,#dcc 0 88px,#bbd 0 89px,#dcd 0 90px,#ddd 0 91px,#ccd 0 92px,#bcd 0 93px,#eba 0 94px,#ccd 0 95px,#89c 0 96px,#9ad 0 97px,#eba 0 98px,#ddc 0 99px,#ccd 0 101px,#bcd 0 102px,#edd 0 103px,#dcc 0 106px,#dbc 0 107px,#ea9 0 108px,#dcc 0 109px)"></i><i style="left:553px;width:3px;background:linear-gradient(#eb9 0 1px,#ea8 0 2px,#e87 0 3px,#e97 0 4px,#eba 0 5px,#dcc 0 6px,#dba 0 7px,#e97 0 8px,#eb9 0 9px,#eba 0 10px,#dcd 0 11px,#abd 0 12px,#cab 0 13px,#ecb 0 14px,#eba 0 15px,#eb9 0 16px,#ea9 0 17px,#e98 0 18px,#ebb 0 19px,#ea9 0 20px,#cbc 0 21px,#ea9 0 22px,#ea8 0 23px,#e98 0 24px,#e86 0 25px,#c23 0 26px,#d55 0 27px,#c55 0 28px,#d87 0 29px,#ea8 0 30px,#e98 0 31px,#b33 0 32px,#c23 0 33px,#a12 0 34px,#b13 0 37px,#e98 0 38px,#ccd 0 39px,#ecb 0 40px,#eba 0 41px,#d98 0 42px,#eba 0 43px,#dcc 0 44px,#eba 0 45px,#a12 0 46px,#b23 0 47px,#eba 0 48px,#ccc 0 49px,#ea9 0 50px,#d65 0 51px,#c55 0 52px,#e65 0 53px,#e87 0 54px,#ccc 0 55px,#cbc 0 56px,#e98 0 57px,#eb9 0 58px,#ebb 0 59px,#9ac 0 60px,#abd 0 62px,#79c 0 63px,#abd 0 64px,#dbb 0 65px,#ddd 0 66px,#abd 0 67px,#77b 0 68px,#bcd 0 69px,#ccd 0 70px,#abd 0 71px,#78c 0 72px,#89c 0 73px,#68c 0 74px,#dcc 0 75px,#ccd 0 76px,#edc 0 77px,#89c 0 78px,#bbd 0 79px,#67b 0 80px,#78c 0 81px,#79c 0 82px,#57c 0 83px,#ccd 0 84px,#ea9 0 85px,#ecb 0 86px,#cbc 0 87px,#ecb 0 88px,#ea9 0 89px,#dbb 0 90px,#ddc 0 91px,#da9 0 92px,#abd 0 93px,#dbb 0 94px,#ccd 0 95px,#349 0 96px,#45b 0 97px,#9ad 0 98px,#edc 0 99px,#abd 0 101px,#dcd 0 102px,#dba 0 103px,#ecb 0 104px,#d99 0 105px,#dcc 0 106px,#bbd 0 107px,#d88 0 108px,#eba 0 109px)"></i><i style="left:556px;width:2px;background:linear-gradient(#ecb 0 1px,#e98 0 2px,#e97 0 3px,#e98 0 4px,#eba 0 5px,#eca 0 6px,#dbb 0 7px,#e98 0 8px,#eca 0 9px,#ebb 0 10px,#dcc 0 11px,#bbc 0 12px,#9ac 0 13px,#cbc 0 14px,#eba 0 15px,#ecb 0 16px,#e98 0 17px,#e87 0 18px,#ea8 0 19px,#ea9 0 22px,#ea8 0 23px,#ecb 0 25px,#cab 0 26px,#e98 0 27px,#d65 0 28px,#ea8 0 29px,#ddd 0 30px,#edc 0 31px,#d76 0 32px,#e86 0 33px,#c44 0 35px,#d55 0 37px,#dcc 0 38px,#cbc 0 39px,#eba 0 40px,#e98 0 41px,#e87 0 42px,#e76 0 43px,#ea9 0 44px,#e86 0 45px,#d54 0 46px,#e76 0 47px,#ecc 0 48px,#daa 0 49px,#e87 0 50px,#c54 0 51px,#c44 0 52px,#d76 0 53px,#d65 0 54px,#dbb 0 56px,#ea8 0 57px,#eb9 0 59px,#dcc 0 60px,#ccd 0 63px,#ebb 0 64px,#eb9 0 65px,#eba 0 66px,#dcc 0 67px,#abd 0 68px,#dcd 0 69px,#cbc 0 70px,#bbd 0 71px,#bcd 0 72px,#abd 0 73px,#ddc 0 74px,#ddd 0 75px,#ccd 0 76px,#dcc 0 78px,#ccd 0 79px,#dcc 0 80px,#ccd 0 81px,#bcd 0 82px,#bbc 0 83px,#ecb 0 84px,#e98 0 85px,#d55 0 86px,#e87 0 87px,#ea9 0 88px,#cbc 0 89px,#ddd 0 90px,#ccd 0 91px,#eb9 0 92px,#e98 0 93px,#ea9 0 94px,#ecb 0 95px,#79d 0 96px,#bbd 0 97px,#da9 0 98px,#e86 0 99px,#ecc 0 100px,#dcc 0 101px,#dcb 0 102px,#eb9 0 103px,#ecb 0 104px,#dba 0 105px,#ccc 0 106px,#bcd 0 107px,#ddd 0 108px,#cbc 0 109px)"></i><i style="left:558px;width:3px;background:linear-gradient(#89d 0 1px,#9ad 0 2px,#bcd 0 3px,#8ad 0 4px,#abd 0 5px,#9ad 0 6px,#8ad 0 7px,#bcd 0 8px,#abd 0 9px,#78c 0 10px,#abd 0 11px,#aac 0 12px,#ccd 0 13px,#9ad 0 14px,#ddd 0 15px,#edc 0 16px,#dcc 0 17px,#ecb 0 18px,#ddd 0 19px,#ccd 0 20px,#bbc 0 21px,#dcc 0 22px,#edc 0 23px,#eba 0 24px,#edc 0 25px,#dbb 0 26px,#dba 0 27px,#bcd 0 28px,#cbb 0 29px,#ddd 0 30px,#edd 0 31px,#eb9 0 32px,#e75 0 33px,#d54 0 34px,#e87 0 35px,#e86 0 36px,#ea9 0 37px,#ccd 0 39px,#eba 0 40px,#ecb 0 41px,#eba 0 43px,#ecc 0 44px,#edc 0 45px,#d76 0 46px,#e97 0 47px,#ddd 0 48px,#ccd 0 49px,#dcc 0 50px,#eba 0 51px,#ecb 0 53px,#eca 0 54px,#edc 0 55px,#dcc 0 56px,#edc 0 57px,#ecb 0 59px,#cbc 0 60px,#edd 0 61px,#abd 0 62px,#ccd 0 63px,#abd 0 64px,#dbb 0 65px,#dcc 0 66px,#ccd 0 67px,#ccc 0 68px,#ddd 0 69px,#cbc 0 70px,#ddd 0 71px,#ccd 0 72px,#bcd 0 73px,#ccc 0 74px,#ccd 0 75px,#ccc 0 76px,#ddd 0 77px,#bbd 0 78px,#ddd 0 79px,#dcd 0 81px,#ccd 0 82px,#8ad 0 83px,#bcd 0 84px,#dcc 0 85px,#edc 0 86px,#eba 0 87px,#ccc 0 88px,#bbd 0 89px,#ccd 0 90px,#abd 0 91px,#ccd 0 92px,#bbc 0 93px,#eba 0 94px,#dcc 0 95px,#89c 0 96px,#9ac 0 97px,#ddd 0 98px,#ecb 0 99px,#dcc 0 100px,#bbd 0 101px,#9ad 0 102px,#ccc 0 103px,#ecb 0 104px,#ea9 0 105px,#edc 0 106px,#ddd 0 107px,#ecb 0 108px,#e98 0 109px)"></i><i style="left:561px;width:2px;background:linear-gradient(#bce 0 1px,#ccd 0 2px,#edd 0 3px,#cde 0 4px,#cce 0 5px,#ddd 0 6px,#cce 0 7px,#edc 0 8px,#edd 0 9px,#ccd 0 10px,#bcd 0 12px,#abd 0 13px,#ccd 0 14px,#ddd 0 15px,#edd 0 17px,#ddd 0 18px,#edd 0 19px,#edc 0 20px,#bce 0 21px,#abd 0 22px,#ddd 0 23px,#edc 0 24px,#ddd 0 25px,#ccd 0 26px,#abd 0 31px,#ddd 0 33px,#edc 0 36px,#ddd 0 37px,#9bd 0 38px,#9ad 0 39px,#ccd 0 40px,#ddd 0 42px,#cde 0 43px,#ccd 0 44px,#edc 0 45px,#eca 0 46px,#ecc 0 47px,#ccd 0 48px,#edd 0 49px,#ccd 0 50px,#cde 0 51px,#ecb 0 53px,#ddd 0 54px,#dcd 0 55px,#ddd 0 56px,#ecb 0 57px,#edc 0 59px,#eba 0 60px,#edd 0 61px,#edc 0 62px,#ecb 0 63px,#edc 0 64px,#eca 0 66px,#ddd 0 67px,#ecc 0 68px,#ecb 0 69px,#ddd 0 70px,#edc 0 71px,#dcc 0 72px,#edd 0 73px,#ddd 0 74px,#edd 0 75px,#ecb 0 76px,#edc 0 77px,#dcc 0 78px,#edc 0 79px,#ecc 0 80px,#edd 0 82px,#ecc 0 83px,#edc 0 84px,#eb9 0 85px,#eba 0 86px,#ea8 0 87px,#edb 0 88px,#ecb 0 89px,#edd 0 90px,#eca 0 91px,#ecb 0 92px,#edc 0 94px,#ddd 0 95px,#89d 0 96px,#9bd 0 97px,#edd 0 98px,#eba 0 99px,#eca 0 100px,#edd 0 101px,#edc 0 103px,#edb 0 104px,#ecb 0 105px,#edc 0 106px,#ddd 0 107px,#edd 0 108px,#edc 0 109px)"></i><i style="left:563px;width:3px;background:linear-gradient(#35a 0 1px,#9ac 0 2px,#ccd 0 3px,#78c 0 4px,#89d 0 5px,#89c 0 6px,#56b 0 7px,#78c 0 8px,#bcd 0 9px,#56b 0 10px,#57b 0 11px,#89c 0 13px,#9ac 0 14px,#dcd 0 15px,#dcc 0 16px,#bac 0 17px,#9ad 0 18px,#68c 0 19px,#aad 0 20px,#78c 0 21px,#89c 0 22px,#dbb 0 23px,#bbd 0 24px,#78c 0 25px,#34a 0 26px,#67b 0 27px,#56b 0 28px,#46b 0 29px,#56b 0 30px,#57c 0 31px,#9ac 0 32px,#ecc 0 33px,#dbb 0 34px,#c78 0 35px,#ecb 0 36px,#dbb 0 37px,#45b 0 39px,#9ad 0 40px,#ccd 0 41px,#ddd 0 42px,#9ad 0 43px,#57b 0 44px,#ccd 0 45px,#ea9 0 46px,#aac 0 47px,#68c 0 48px,#45a 0 49px,#56b 0 50px,#89c 0 51px,#aac 0 52px,#caa 0 53px,#cab 0 54px,#ccc 0 55px,#caa 0 56px,#dbb 0 57px,#bbc 0 58px,#dcc 0 59px,#b9a 0 60px,#cbc 0 61px,#bbc 0 62px,#9ad 0 63px,#cbb 0 64px,#e98 0 65px,#d99 0 66px,#ccc 0 67px,#cbb 0 68px,#ecc 0 69px,#dbb 0 70px,#cbc 0 71px,#99c 0 72px,#dcc 0 73px,#bab 0 74px,#d87 0 75px,#ea9 0 77px,#b34 0 78px,#d77 0 79px,#c44 0 80px,#e86 0 81px,#da9 0 82px,#c99 0 83px,#dbb 0 84px,#c55 0 85px,#b23 0 86px,#c33 0 87px,#d44 0 88px,#d76 0 89px,#cbc 0 90px,#dbb 0 91px,#daa 0 92px,#d54 0 93px,#e76 0 94px,#ebb 0 95px,#88c 0 96px,#dcc 0 97px,#c33 0 98px,#b23 0 99px,#e86 0 100px,#dbb 0 101px,#ea8 0 102px,#c55 0 103px,#da9 0 104px,#d65 0 105px,#d76 0 107px,#c55 0 108px,#d66 0 109px)"></i><i style="left:566px;width:2px;background:linear-gradient(#dcc 0 1px,#ddc 0 2px,#dbb 0 3px,#ccd 0 5px,#bbd 0 6px,#9ad 0 7px,#bcd 0 8px,#ecc 0 9px,#cab 0 10px,#bcd 0 11px,#ea9 0 12px,#ccd 0 13px,#cbc 0 14px,#edd 0 15px,#edc 0 16px,#ecb 0 17px,#ddd 0 18px,#bbd 0 19px,#ccd 0 20px,#abd 0 21px,#b9b 0 22px,#abd 0 23px,#ccd 0 24px,#9ad 0 25px,#68c 0 27px,#67c 0 28px,#56b 0 29px,#57c 0 30px,#79d 0 31px,#abd 0 32px,#dcd 0 33px,#dcc 0 34px,#ea8 0 35px,#eba 0 36px,#ecb 0 37px,#9ad 0 38px,#89d 0 39px,#79c 0 40px,#9ad 0 41px,#bbd 0 42px,#bcd 0 43px,#89d 0 44px,#bbd 0 45px,#9bd 0 46px,#56b 0 47px,#46b 0 48px,#67c 0 49px,#9ad 0 51px,#8ad 0 52px,#9ad 0 53px,#89d 0 55px,#9ad 0 56px,#abd 0 59px,#89d 0 60px,#abd 0 61px,#bcd 0 62px,#78c 0 63px,#89d 0 64px,#ccd 0 65px,#bcd 0 66px,#89d 0 67px,#bac 0 68px,#abd 0 69px,#a9b 0 70px,#ccd 0 71px,#68c 0 72px,#9ad 0 73px,#8ad 0 74px,#dcc 0 76px,#ecb 0 78px,#eba 0 79px,#d77 0 80px,#ecb 0 81px,#ddd 0 82px,#bac 0 83px,#ccd 0 84px,#e98 0 85px,#e76 0 87px,#e75 0 88px,#c44 0 89px,#e75 0 90px,#ea9 0 91px,#eba 0 92px,#ea8 0 93px,#eb9 0 94px,#ccd 0 95px,#9ac 0 96px,#9ad 0 97px,#ecb 0 98px,#d98 0 99px,#dcd 0 100px,#dcc 0 101px,#ecb 0 102px,#e87 0 103px,#dcb 0 104px,#ccc 0 105px,#ecc 0 106px,#d99 0 107px,#d44 0 108px,#ea9 0 109px)"></i><i style="left:568px;width:2px;background:linear-gradient(#89d 0 1px,#bbd 0 2px,#bcd 0 3px,#ccc 0 4px,#89c 0 5px,#79d 0 6px,#57c 0 7px,#abd 0 8px,#9ad 0 9px,#45b 0 11px,#45a 0 12px,#57b 0 13px,#89c 0 14px,#bcd 0 15px,#edc 0 16px,#dcb 0 17px,#aac 0 18px,#45b 0 19px,#56b 0 20px,#67c 0 21px,#56b 0 22px,#9ac 0 23px,#79c 0 24px,#78c 0 25px,#56b 0 26px,#78c 0 27px,#78b 0 28px,#56b 0 29px,#45b 0 30px,#56b 0 31px,#68c 0 32px,#ccc 0 33px,#cbc 0 35px,#bbd 0 37px,#56b 0 38px,#45b 0 39px,#56b 0 40px,#57b 0 41px,#68c 0 42px,#56b 0 43px,#34a 0 44px,#45a 0 45px,#57c 0 46px,#77b 0 47px,#67c 0 48px,#78c 0 49px,#aad 0 50px,#56b 0 51px,#46b 0 52px,#aad 0 53px,#89c 0 54px,#9ac 0 55px,#89c 0 56px,#ccd 0 57px,#b9b 0 58px,#ccc 0 59px,#bbc 0 60px,#bbd 0 61px,#ccc 0 62px,#89c 0 63px,#99c 0 64px,#ea9 0 65px,#cbc 0 66px,#9ad 0 67px,#ccd 0 68px,#baa 0 69px,#ecb 0 70px,#eba 0 71px,#d88 0 72px,#e98 0 73px,#eba 0 74px,#e87 0 75px,#e98 0 76px,#daa 0 77px,#e87 0 78px,#d65 0 79px,#c33 0 80px,#eb9 0 81px,#89c 0 82px,#78c 0 83px,#9ad 0 84px,#dbc 0 85px,#e98 0 86px,#b34 0 87px,#c66 0 88px,#a12 0 89px,#b23 0 90px,#b13 0 91px,#d43 0 92px,#c33 0 93px,#d43 0 94px,#d99 0 95px,#caa 0 96px,#ccc 0 97px,#dbb 0 98px,#bbc 0 99px,#9ac 0 100px,#dcd 0 101px,#dcb 0 102px,#c55 0 103px,#dcc 0 104px,#bab 0 105px,#dcc 0 106px,#ea9 0 107px,#c44 0 108px,#d65 0 109px)"></i><i style="left:570px;width:3px;background:linear-gradient(#89d 0 1px,#bbd 0 2px,#dba 0 3px,#abd 0 4px,#98b 0 5px,#89c 0 7px,#cab 0 8px,#c89 0 9px,#45a 0 11px,#56b 0 12px,#a8a 0 13px,#aac 0 14px,#abd 0 15px,#ecb 0 16px,#a9b 0 17px,#78c 0 18px,#34a 0 19px,#46b 0 20px,#56b 0 21px,#89c 0 22px,#57c 0 23px,#78b 0 24px,#56b 0 25px,#34a 0 26px,#56b 0 27px,#45b 0 28px,#57b 0 29px,#45b 0 30px,#349 0 31px,#56a 0 32px,#89d 0 33px,#9ac 0 34px,#67c 0 35px,#99c 0 36px,#99b 0 37px,#56b 0 38px,#44a 0 39px,#45b 0 40px,#79d 0 41px,#9ad 0 42px,#56b 0 43px,#349 0 45px,#34a 0 47px,#349 0 48px,#34a 0 49px,#45a 0 50px,#78c 0 51px,#67b 0 53px,#89d 0 54px,#77b 0 55px,#ccc 0 56px,#bbc 0 57px,#eb9 0 58px,#bbd 0 59px,#67b 0 60px,#79c 0 61px,#edd 0 62px,#77b 0 63px,#89c 0 64px,#d77 0 65px,#cbb 0 66px,#ccc 0 67px,#c9a 0 69px,#dbb 0 70px,#ecb 0 71px,#cbb 0 72px,#daa 0 73px,#bab 0 74px,#d77 0 75px,#daa 0 76px,#cbb 0 77px,#d54 0 78px,#d44 0 79px,#c44 0 80px,#eba 0 81px,#ccc 0 82px,#88b 0 83px,#dcc 0 84px,#d76 0 85px,#c55 0 86px,#b23 0 87px,#a12 0 89px,#b23 0 90px,#b34 0 91px,#c45 0 92px,#d77 0 93px,#cab 0 94px,#9ad 0 95px,#66b 0 96px,#56b 0 97px,#bcd 0 98px,#aac 0 99px,#56b 0 100px,#bbd 0 101px,#dcc 0 102px,#eca 0 103px,#ccd 0 104px,#b8a 0 105px,#dbb 0 106px,#c56 0 107px,#a12 0 108px,#c55 0 109px)"></i><i style="left:573px;width:2px;background:linear-gradient(#79c 0 1px,#ccd 0 2px,#ddd 0 3px,#dcc 0 4px,#cbc 0 5px,#abd 0 6px,#bbc 0 7px,#abd 0 9px,#45a 0 10px,#abd 0 11px,#78c 0 12px,#bcd 0 13px,#99b 0 14px,#bcd 0 15px,#edc 0 17px,#78c 0 18px,#8ad 0 19px,#89d 0 20px,#89c 0 21px,#9ad 0 23px,#8ad 0 24px,#67c 0 25px,#44a 0 26px,#78c 0 27px,#dbb 0 28px,#ccd 0 29px,#9ad 0 30px,#89d 0 31px,#bbc 0 32px,#ecc 0 33px,#ea9 0 34px,#cab 0 35px,#bbc 0 36px,#99c 0 37px,#56b 0 38px,#67c 0 39px,#9ad 0 40px,#8ad 0 41px,#ccd 0 42px,#bcd 0 43px,#45b 0 44px,#78c 0 45px,#b9b 0 46px,#aac 0 47px,#67c 0 48px,#56b 0 49px,#bab 0 50px,#cbb 0 51px,#bcd 0 52px,#aab 0 53px,#89c 0 54px,#88b 0 55px,#a9c 0 56px,#aac 0 57px,#cbc 0 58px,#dcc 0 59px,#ccd 0 60px,#abd 0 61px,#9ad 0 62px,#aad 0 63px,#9ac 0 64px,#eba 0 65px,#dcc 0 66px,#abd 0 67px,#abc 0 68px,#dcd 0 69px,#dcc 0 70px,#ecb 0 72px,#abd 0 73px,#ccc 0 74px,#ecb 0 75px,#ea9 0 76px,#ea8 0 77px,#c44 0 78px,#e86 0 79px,#b23 0 80px,#ea9 0 81px,#abd 0 82px,#89c 0 83px,#dcc 0 84px,#e87 0 87px,#d65 0 88px,#b13 0 89px,#e98 0 90px,#d65 0 91px,#ea8 0 92px,#d98 0 93px,#eba 0 94px,#daa 0 95px,#cbc 0 96px,#abd 0 97px,#ccd 0 98px,#ddd 0 99px,#dcd 0 100px,#ccd 0 101px,#ecb 0 102px,#dcc 0 103px,#bcd 0 104px,#89c 0 105px,#dcd 0 106px,#da9 0 107px,#d54 0 108px,#eba 0 109px)"></i><i style="left:575px;width:3px;background:linear-gradient(#9ad 0 1px,#e76 0 2px,#d65 0 3px,#ea9 0 4px,#d99 0 5px,#ccd 0 6px,#abd 0 7px,#e98 0 8px,#ea9 0 9px,#caa 0 10px,#9ad 0 11px,#c99 0 12px,#ea9 0 13px,#e98 0 14px,#eba 0 16px,#ea9 0 17px,#ccc 0 18px,#abd 0 19px,#bbc 0 21px,#89d 0 22px,#cbc 0 23px,#ea9 0 24px,#ecc 0 25px,#89c 0 26px,#68c 0 27px,#9ad 0 28px,#9ac 0 29px,#bbd 0 30px,#9ad 0 31px,#89d 0 32px,#ccd 0 33px,#daa 0 34px,#eba 0 35px,#dcb 0 36px,#ccd 0 37px,#68c 0 38px,#45a 0 39px,#57b 0 40px,#78c 0 42px,#aad 0 43px,#45a 0 44px,#45b 0 45px,#67c 0 46px,#99c 0 47px,#45a 0 48px,#34a 0 49px,#67c 0 50px,#56b 0 51px,#67c 0 52px,#78b 0 53px,#56b 0 54px,#67b 0 55px,#56b 0 56px,#46b 0 57px,#67c 0 59px,#34a 0 60px,#46b 0 61px,#67c 0 62px,#34a 0 64px,#78c 0 66px,#56b 0 68px,#46b 0 69px,#34a 0 70px,#46b 0 71px,#aac 0 72px,#bbd 0 73px,#8ad 0 74px,#cab 0 75px,#ccd 0 76px,#ddd 0 77px,#57b 0 78px,#ddd 0 79px,#cbc 0 80px,#9ad 0 81px,#78c 0 82px,#34a 0 83px,#bbd 0 84px,#ecb 0 85px,#eca 0 86px,#ddd 0 87px,#d65 0 88px,#d55 0 89px,#d75 0 90px,#e98 0 91px,#d55 0 92px,#d54 0 93px,#d44 0 94px,#e97 0 95px,#aac 0 96px,#abd 0 97px,#eba 0 98px,#e86 0 99px,#ea9 0 101px,#ecc 0 102px,#ebb 0 103px,#ccd 0 104px,#c99 0 105px,#ecb 0 106px,#d65 0 107px,#b13 0 108px,#ea9 0 109px)"></i><i style="left:578px;width:2px;background:linear-gradient(#89d 0 1px,#abd 0 2px,#dcd 0 3px,#bcd 0 4px,#ccd 0 5px,#ddd 0 6px,#bcd 0 7px,#edc 0 8px,#eba 0 9px,#9ad 0 14px,#ccd 0 15px,#edc 0 16px,#ddd 0 17px,#dcd 0 18px,#ccd 0 19px,#bcd 0 20px,#dcd 0 21px,#ddd 0 22px,#ecb 0 23px,#ea8 0 24px,#ecb 0 25px,#ecc 0 26px,#ccd 0 27px,#bbd 0 28px,#bbc 0 29px,#abd 0 31px,#dcd 0 32px,#ecb 0 33px,#e97 0 34px,#d54 0 35px,#e87 0 36px,#eba 0 37px,#dcc 0 38px,#9ad 0 39px,#bbd 0 40px,#bce 0 41px,#ccd 0 42px,#ddd 0 43px,#57c 0 44px,#bbd 0 45px,#ccd 0 46px,#bbd 0 47px,#89d 0 48px,#68c 0 49px,#8ad 0 50px,#9ad 0 52px,#78c 0 53px,#67c 0 55px,#56b 0 56px,#67c 0 57px,#68c 0 59px,#56b 0 60px,#bcd 0 61px,#89d 0 62px,#45b 0 63px,#56b 0 64px,#9ad 0 65px,#abd 0 66px,#9ad 0 67px,#67c 0 68px,#68c 0 70px,#9ad 0 71px,#89d 0 72px,#abd 0 73px,#89c 0 74px,#abd 0 75px,#bcd 0 76px,#dcc 0 77px,#bcd 0 78px,#edc 0 79px,#ecb 0 80px,#ddd 0 81px,#abd 0 83px,#dcc 0 84px,#e97 0 87px,#d44 0 88px,#d54 0 90px,#b23 0 91px,#d54 0 92px,#e65 0 93px,#d65 0 94px,#c44 0 95px,#eaa 0 96px,#ebb 0 97px,#e97 0 98px,#d44 0 99px,#e65 0 100px,#edc 0 101px,#eba 0 102px,#e98 0 103px,#ecb 0 104px,#eb9 0 105px,#e75 0 106px,#e65 0 107px,#b23 0 108px,#dbb 0 109px)"></i><i style="left:580px;width:3px;background:linear-gradient(#e98 0 1px,#b23 0 2px,#c44 0 3px,#c23 0 4px,#c44 0 5px,#d55 0 6px,#eb9 0 7px,#d76 0 8px,#d55 0 9px,#d66 0 10px,#ea9 0 11px,#e76 0 12px,#d87 0 13px,#d77 0 14px,#eb9 0 15px,#e97 0 16px,#d65 0 17px,#e87 0 18px,#ecb 0 19px,#e98 0 20px,#edc 0 21px,#d88 0 22px,#ea9 0 23px,#daa 0 24px,#eba 0 25px,#dcb 0 26px,#79d 0 27px,#34a 0 28px,#67c 0 29px,#89d 0 30px,#79c 0 31px,#67c 0 32px,#abd 0 33px,#9bd 0 34px,#dcc 0 36px,#9ac 0 37px,#45a 0 38px,#34a 0 40px,#57b 0 41px,#56b 0 42px,#57c 0 43px,#67b 0 44px,#57c 0 45px,#89c 0 46px,#46b 0 47px,#34a 0 48px,#46b 0 49px,#34a 0 50px,#99c 0 51px,#9ad 0 53px,#34a 0 54px,#46b 0 55px,#45a 0 56px,#56b 0 57px,#78c 0 58px,#abd 0 59px,#56b 0 60px,#9ad 0 61px,#78c 0 62px,#45b 0 63px,#67c 0 64px,#daa 0 65px,#dcb 0 66px,#bcd 0 67px,#bbd 0 68px,#9ad 0 69px,#56b 0 70px,#67b 0 71px,#89d 0 72px,#bbc 0 73px,#56b 0 74px,#aac 0 75px,#e98 0 76px,#d65 0 77px,#daa 0 78px,#ea8 0 80px,#ddc 0 81px,#ccc 0 82px,#89c 0 83px,#abc 0 84px,#eba 0 85px,#eb9 0 86px,#d65 0 87px,#a12 0 89px,#c44 0 91px,#c23 0 92px,#a12 0 93px,#d54 0 94px,#d66 0 95px,#d98 0 96px,#cbc 0 97px,#e76 0 98px,#b33 0 99px,#e98 0 100px,#ecb 0 101px,#ddd 0 102px,#bbc 0 103px,#ccd 0 104px,#cab 0 105px,#eba 0 106px,#e75 0 107px,#c33 0 108px,#dbb 0 109px)"></i><i style="left:583px;width:2px;background:linear-gradient(#ddd 0 1px,#e98 0 2px,#ea8 0 3px,#eba 0 4px,#eb9 0 5px,#edc 0 6px,#ea8 0 7px,#eba 0 8px,#ea8 0 9px,#eba 0 10px,#ecc 0 11px,#dcc 0 12px,#dcd 0 13px,#ccd 0 14px,#edc 0 15px,#eb9 0 16px,#e87 0 17px,#ea9 0 18px,#ecb 0 21px,#dbb 0 22px,#ecb 0 25px,#edc 0 26px,#ddd 0 27px,#abd 0 28px,#bcd 0 30px,#cce 0 31px,#bcd 0 32px,#ecb 0 33px,#ddd 0 34px,#dbb 0 35px,#ccd 0 36px,#bcd 0 37px,#79c 0 38px,#67c 0 39px,#8ad 0 40px,#9ad 0 41px,#89d 0 42px,#abd 0 43px,#78c 0 44px,#9ad 0 45px,#9bd 0 46px,#8ad 0 47px,#89d 0 48px,#79c 0 49px,#abd 0 50px,#bbd 0 51px,#ccd 0 52px,#ddd 0 53px,#abd 0 56px,#ccd 0 57px,#bcd 0 58px,#abd 0 59px,#9ad 0 60px,#bcd 0 61px,#abd 0 62px,#9ad 0 63px,#8ad 0 64px,#ddd 0 65px,#dcd 0 66px,#bcd 0 68px,#bbd 0 69px,#9ad 0 70px,#79d 0 71px,#9ad 0 72px,#bbd 0 73px,#9ad 0 74px,#ccc 0 75px,#edc 0 76px,#dcc 0 77px,#dcd 0 78px,#ddd 0 79px,#ecb 0 80px,#ddc 0 81px,#ccd 0 83px,#ecb 0 84px,#ea8 0 85px,#eba 0 86px,#ea9 0 87px,#ea8 0 88px,#e98 0 89px,#eca 0 90px,#ecb 0 91px,#eba 0 92px,#ea9 0 94px,#ecc 0 95px,#bbd 0 97px,#eba 0 99px,#ecb 0 102px,#ecc 0 104px,#dcc 0 105px,#ddd 0 106px,#edc 0 107px,#cce 0 108px,#abd 0 109px)"></i><i style="left:585px;width:3px;background:linear-gradient(#ecb 0 1px,#d44 0 2px,#e86 0 3px,#e87 0 4px,#ea9 0 5px,#ea8 0 6px,#e97 0 8px,#ea8 0 9px,#e98 0 10px,#eba 0 11px,#eca 0 12px,#ecb 0 13px,#eca 0 14px,#ecb 0 16px,#ea8 0 17px,#eb9 0 18px,#eba 0 19px,#eb9 0 20px,#ecb 0 23px,#eba 0 24px,#edd 0 25px,#dcd 0 26px,#edc 0 27px,#bbd 0 28px,#bcd 0 29px,#cdd 0 30px,#cce 0 31px,#bcd 0 32px,#edc 0 33px,#ecc 0 35px,#edc 0 36px,#ddd 0 37px,#8ad 0 38px,#68c 0 39px,#9ad 0 40px,#bcd 0 41px,#abd 0 42px,#bcd 0 43px,#8ad 0 44px,#abd 0 45px,#9ad 0 46px,#8ad 0 47px,#89d 0 48px,#79d 0 50px,#9ad 0 52px,#8ad 0 53px,#78c 0 54px,#79d 0 55px,#9ad 0 56px,#abd 0 58px,#9ad 0 59px,#89d 0 60px,#9ad 0 62px,#56b 0 63px,#67c 0 64px,#9ad 0 65px,#abd 0 67px,#9ad 0 70px,#ccd 0 71px,#dcd 0 72px,#bcd 0 73px,#ddd 0 74px,#edd 0 75px,#dcc 0 76px,#ddd 0 77px,#bcd 0 78px,#ddd 0 79px,#dcd 0 80px,#ddd 0 81px,#bcd 0 82px,#abd 0 83px,#ddd 0 84px,#ea9 0 85px,#ecb 0 86px,#eba 0 88px,#eb9 0 89px,#eca 0 90px,#eb9 0 91px,#ea9 0 92px,#ea8 0 94px,#eba 0 96px,#ecc 0 97px,#eb9 0 98px,#ea8 0 99px,#ecb 0 101px,#eca 0 102px,#eb9 0 103px,#ecb 0 104px,#ea8 0 105px,#eba 0 106px,#e97 0 107px,#e87 0 108px,#ecb 0 109px)"></i><i style="left:588px;width:2px;background:linear-gradient(#edc 0 1px,#c44 0 2px,#d44 0 3px,#e86 0 5px,#ea9 0 6px,#ea8 0 7px,#eba 0 8px,#e86 0 9px,#e97 0 10px,#eca 0 12px,#ccc 0 13px,#d98 0 14px,#eb9 0 15px,#ea8 0 16px,#e86 0 17px,#eba 0 19px,#e97 0 20px,#ea8 0 21px,#dbb 0 22px,#edc 0 23px,#ecc 0 24px,#ccd 0 25px,#ea8 0 26px,#eba 0 27px,#cbb 0 28px,#ccd 0 29px,#bcd 0 30px,#9bd 0 31px,#ccd 0 32px,#ecc 0 33px,#dba 0 34px,#cbc 0 35px,#dcc 0 36px,#daa 0 37px,#89d 0 38px,#57c 0 39px,#89d 0 40px,#8ad 0 41px,#9ad 0 42px,#bbd 0 43px,#67c 0 44px,#89d 0 45px,#56b 0 47px,#67c 0 48px,#45b 0 49px,#78c 0 50px,#79c 0 51px,#bbd 0 52px,#ccd 0 53px,#79c 0 54px,#78c 0 55px,#67c 0 56px,#8ad 0 57px,#78c 0 58px,#9ad 0 59px,#78c 0 60px,#bbd 0 61px,#8ad 0 63px,#56b 0 64px,#abd 0 65px,#9ad 0 67px,#aac 0 68px,#89d 0 69px,#78c 0 70px,#cce 0 71px,#ccc 0 72px,#bbd 0 73px,#ccd 0 74px,#dcd 0 75px,#ecb 0 76px,#eca 0 77px,#ecb 0 78px,#dcc 0 79px,#dcd 0 80px,#dcb 0 81px,#dcc 0 82px,#cce 0 83px,#ccd 0 84px,#ecb 0 85px,#fca 0 86px,#eca 0 87px,#eba 0 88px,#d65 0 89px,#ecc 0 90px,#ccc 0 91px,#ea9 0 92px,#d76 0 93px,#e98 0 94px,#ea8 0 95px,#ecb 0 96px,#cbc 0 97px,#ea8 0 98px,#d65 0 99px,#e98 0 100px,#eba 0 101px,#ea9 0 102px,#eca 0 103px,#dcc 0 104px,#ea9 0 105px,#eb9 0 106px,#e87 0 107px,#d76 0 108px,#eba 0 109px)"></i><i style="left:590px;width:3px;background:linear-gradient(#ecb 0 1px,#b23 0 2px,#c55 0 3px,#d54 0 4px,#c44 0 5px,#e98 0 6px,#ea9 0 7px,#eb9 0 8px,#e87 0 9px,#ea9 0 10px,#dcb 0 11px,#dba 0 12px,#ccc 0 13px,#d76 0 14px,#e98 0 15px,#e97 0 16px,#e87 0 17px,#ea9 0 18px,#dcd 0 19px,#cab 0 20px,#bbc 0 22px,#ecb 0 23px,#aac 0 24px,#8ad 0 25px,#c88 0 26px,#d76 0 27px,#d99 0 28px,#bab 0 29px,#dcc 0 30px,#bbd 0 31px,#cbc 0 32px,#ecc 0 34px,#abd 0 35px,#bcd 0 36px,#68c 0 37px,#45a 0 39px,#56b 0 40px,#78c 0 41px,#89d 0 42px,#67c 0 43px,#34a 0 44px,#45b 0 45px,#45a 0 46px,#34a 0 47px,#57b 0 48px,#56b 0 49px,#79c 0 50px,#45a 0 51px,#89c 0 52px,#67c 0 53px,#78c 0 54px,#79d 0 55px,#45a 0 56px,#46b 0 57px,#45b 0 58px,#67c 0 59px,#34a 0 60px,#78b 0 61px,#89d 0 62px,#349 0 64px,#45b 0 65px,#67b 0 66px,#79c 0 67px,#45b 0 68px,#57b 0 69px,#68c 0 70px,#abd 0 71px,#ccd 0 72px,#abd 0 73px,#9ad 0 74px,#89c 0 75px,#abd 0 76px,#9bd 0 77px,#8ad 0 78px,#89d 0 79px,#78c 0 80px,#abd 0 81px,#67c 0 83px,#89d 0 84px,#bbc 0 85px,#9ad 0 86px,#bbc 0 87px,#cbc 0 88px,#dcb 0 89px,#d98 0 90px,#cbc 0 91px,#bbc 0 93px,#dbb 0 94px,#9ad 0 95px,#88c 0 96px,#67b 0 97px,#ea9 0 98px,#eba 0 99px,#dcd 0 100px,#ccd 0 101px,#dcc 0 102px,#dcd 0 103px,#ecb 0 104px,#d88 0 105px,#eb9 0 106px,#d76 0 107px,#c66 0 108px,#d55 0 109px)"></i><i style="left:593px;width:2px;background:linear-gradient(#dcb 0 1px,#d66 0 2px,#e86 0 3px,#eb9 0 4px,#e98 0 5px,#ea9 0 6px,#ecb 0 7px,#ddd 0 8px,#ea8 0 9px,#eb9 0 10px,#dbb 0 11px,#bbd 0 12px,#9bd 0 13px,#edc 0 14px,#ecc 0 15px,#ecb 0 16px,#ecc 0 17px,#ccd 0 18px,#edd 0 19px,#ea8 0 20px,#ecb 0 21px,#eba 0 22px,#dcc 0 23px,#dcb 0 24px,#89d 0 25px,#bbd 0 26px,#ecb 0 27px,#bbd 0 28px,#78c 0 29px,#9ad 0 32px,#ccd 0 33px,#abc 0 34px,#aad 0 35px,#bcd 0 36px,#67b 0 37px,#34a 0 38px,#349 0 39px,#45a 0 40px,#56b 0 41px,#78c 0 42px,#56b 0 43px,#349 0 44px,#34a 0 47px,#45b 0 48px,#68c 0 49px,#67c 0 50px,#45b 0 51px,#45a 0 52px,#45b 0 53px,#349 0 54px,#34a 0 56px,#45b 0 57px,#34a 0 58px,#46b 0 59px,#349 0 60px,#56b 0 61px,#57c 0 62px,#349 0 65px,#34a 0 66px,#56b 0 67px,#45b 0 69px,#57b 0 70px,#9ad 0 71px,#8ad 0 72px,#9ad 0 73px,#9bd 0 74px,#9ad 0 75px,#89d 0 76px,#9ad 0 77px,#78c 0 78px,#abd 0 79px,#79d 0 80px,#9ad 0 81px,#abd 0 82px,#67c 0 83px,#ddd 0 84px,#d87 0 85px,#dba 0 86px,#dcc 0 88px,#e97 0 89px,#ecb 0 90px,#ebb 0 91px,#ecb 0 92px,#eba 0 93px,#ea9 0 94px,#bbd 0 95px,#9ad 0 96px,#ccd 0 97px,#edd 0 99px,#ecb 0 100px,#eba 0 101px,#ea9 0 103px,#ecb 0 104px,#dbb 0 105px,#ea8 0 106px,#ecb 0 107px,#eb9 0 108px,#dbb 0 109px)"></i><i style="left:595px;width:3px;background:linear-gradient(#ecb 0 1px,#e87 0 2px,#d87 0 3px,#d65 0 4px,#e97 0 5px,#eba 0 6px,#dcd 0 7px,#cbc 0 8px,#ecb 0 9px,#e97 0 10px,#ea8 0 11px,#ecb 0 12px,#dbb 0 13px,#ebb 0 14px,#ecc 0 15px,#eb9 0 16px,#ecc 0 17px,#ccd 0 18px,#bbd 0 19px,#9ad 0 20px,#78c 0 21px,#68c 0 22px,#ccc 0 23px,#bbc 0 24px,#ccd 0 25px,#cbc 0 26px,#dba 0 27px,#aac 0 28px,#ccd 0 29px,#79d 0 30px,#89d 0 31px,#89c 0 32px,#9ad 0 33px,#cbc 0 34px,#89c 0 35px,#bcd 0 36px,#8ad 0 37px,#79d 0 38px,#34a 0 40px,#56b 0 42px,#78c 0 43px,#45b 0 44px,#8ad 0 45px,#78c 0 46px,#79c 0 47px,#89d 0 49px,#9ac 0 50px,#67b 0 51px,#56b 0 52px,#68c 0 53px,#66b 0 54px,#67b 0 55px,#57b 0 56px,#bcd 0 57px,#ccd 0 59px,#8ad 0 60px,#79c 0 61px,#9ad 0 62px,#56b 0 63px,#34a 0 64px,#56b 0 65px,#68c 0 66px,#78c 0 67px,#34a 0 68px,#89c 0 69px,#79d 0 70px,#9ad 0 71px,#bbc 0 72px,#ccd 0 73px,#abd 0 74px,#ccd 0 75px,#89d 0 76px,#ccd 0 77px,#9ad 0 78px,#ddd 0 79px,#89d 0 80px,#aad 0 81px,#9ad 0 82px,#cbc 0 83px,#ecc 0 84px,#eaa 0 85px,#ea9 0 86px,#eb9 0 87px,#e87 0 88px,#e98 0 89px,#ecc 0 90px,#bcd 0 91px,#dcc 0 92px,#ecb 0 93px,#e98 0 94px,#edc 0 95px,#bbc 0 96px,#dbb 0 97px,#eba 0 98px,#ecb 0 99px,#dcc 0 100px,#bcd 0 101px,#dcc 0 102px,#cbc 0 103px,#abd 0 104px,#dcd 0 105px,#dba 0 106px,#ecb 0 107px,#e98 0 108px,#dcc 0 109px)"></i><i style="left:598px;width:2px;background:linear-gradient(#edc 0 1px,#ea8 0 2px,#ecb 0 3px,#ecc 0 4px,#ecb 0 5px,#ccd 0 6px,#ddd 0 8px,#ecb 0 9px,#daa 0 10px,#cdd 0 11px,#ddd 0 12px,#bbc 0 13px,#bbd 0 14px,#ddd 0 15px,#ecb 0 16px,#dcc 0 17px,#9ad 0 18px,#cce 0 19px,#9ad 0 21px,#bbd 0 22px,#ddd 0 23px,#dcc 0 24px,#cbc 0 25px,#78c 0 26px,#bcd 0 27px,#bbd 0 28px,#89c 0 29px,#78c 0 30px,#45a 0 31px,#56b 0 32px,#89d 0 33px,#abd 0 34px,#89c 0 35px,#78c 0 36px,#45b 0 38px,#34a 0 39px,#56b 0 40px,#78c 0 41px,#68c 0 42px,#9ad 0 43px,#78c 0 44px,#57c 0 45px,#45b 0 46px,#56b 0 47px,#67c 0 48px,#9bd 0 49px,#9ad 0 50px,#89c 0 51px,#ccd 0 52px,#abd 0 53px,#89c 0 54px,#abd 0 55px,#bbd 0 56px,#ecc 0 57px,#eba 0 58px,#ddd 0 59px,#89c 0 60px,#ccd 0 61px,#abd 0 62px,#68c 0 63px,#34a 0 64px,#79c 0 65px,#abd 0 67px,#bbd 0 68px,#abd 0 69px,#dcb 0 70px,#ecc 0 71px,#cbc 0 72px,#ddd 0 73px,#bbd 0 74px,#79c 0 75px,#bcd 0 76px,#ccd 0 77px,#cbc 0 78px,#ddd 0 79px,#dcd 0 80px,#ccd 0 81px,#cbb 0 83px,#ecb 0 84px,#daa 0 85px,#ecb 0 86px,#eba 0 88px,#e97 0 89px,#ecb 0 90px,#daa 0 91px,#edc 0 92px,#eba 0 93px,#e86 0 94px,#d98 0 95px,#eba 0 96px,#cbb 0 97px,#ecb 0 98px,#daa 0 99px,#ecb 0 100px,#ddd 0 101px,#9ad 0 102px,#bcd 0 103px,#ecc 0 105px,#dcd 0 106px,#ecb 0 107px,#dcb 0 108px,#eba 0 109px)"></i><i style="left:600px;width:3px;background:linear-gradient(#e97 0 1px,#d54 0 2px,#ea8 0 4px,#eba 0 6px,#ecb 0 8px,#edd 0 9px,#e88 0 10px,#eba 0 11px,#e97 0 12px,#eba 0 13px,#ea9 0 14px,#ecb 0 15px,#eb9 0 16px,#ea8 0 17px,#edc 0 18px,#ddd 0 20px,#bcd 0 21px,#abd 0 22px,#ddd 0 23px,#ecb 0 24px,#ccd 0 25px,#ecb 0 27px,#dcd 0 28px,#9ad 0 29px,#bbd 0 30px,#9bd 0 31px,#9ad 0 32px,#ccd 0 34px,#abd 0 35px,#ccd 0 36px,#9ad 0 37px,#67c 0 38px,#45b 0 39px,#67c 0 40px,#9ad 0 41px,#abd 0 43px,#79c 0 44px,#89d 0 46px,#78c 0 47px,#89d 0 48px,#abd 0 49px,#ccd 0 50px,#89d 0 51px,#abd 0 52px,#9ad 0 53px,#9bd 0 54px,#79d 0 55px,#abd 0 56px,#eca 0 57px,#eb9 0 58px,#ecb 0 59px,#abd 0 60px,#79d 0 61px,#abd 0 62px,#67c 0 63px,#34a 0 64px,#79c 0 65px,#abd 0 66px,#bcd 0 67px,#9ad 0 68px,#abd 0 69px,#9ad 0 70px,#bcd 0 71px,#abd 0 73px,#68c 0 74px,#78c 0 75px,#89d 0 76px,#abd 0 77px,#ddd 0 78px,#edc 0 79px,#9ad 0 80px,#ccd 0 81px,#edc 0 82px,#ccd 0 83px,#bcd 0 84px,#9bd 0 85px,#bcd 0 86px,#ccd 0 87px,#ecb 0 88px,#dcd 0 89px,#bcd 0 90px,#abd 0 91px,#ccd 0 92px,#dbb 0 93px,#da9 0 94px,#ecb 0 95px,#dcc 0 96px,#ccd 0 98px,#bcd 0 99px,#ccd 0 100px,#dcc 0 101px,#bbd 0 102px,#9ad 0 103px,#ccd 0 104px,#dcc 0 106px,#ecb 0 107px,#e87 0 108px,#e86 0 109px)"></i><i style="left:603px;width:2px;background:linear-gradient(#c33 0 1px,#a12 0 2px,#c44 0 3px,#b23 0 4px,#d55 0 5px,#e97 0 6px,#ea8 0 7px,#e97 0 8px,#ea9 0 9px,#d76 0 10px,#ea9 0 11px,#cbc 0 12px,#bbd 0 13px,#aac 0 14px,#ecb 0 15px,#ea9 0 16px,#d99 0 17px,#ea8 0 18px,#ecb 0 19px,#ccc 0 20px,#78c 0 22px,#aac 0 23px,#99b 0 24px,#9ad 0 25px,#b9b 0 26px,#bbc 0 27px,#45a 0 28px,#67c 0 29px,#56b 0 30px,#67b 0 31px,#46b 0 32px,#79c 0 33px,#78c 0 34px,#57c 0 35px,#68c 0 36px,#45a 0 37px,#349 0 39px,#34a 0 40px,#78c 0 41px,#56b 0 43px,#45a 0 44px,#67c 0 45px,#56b 0 46px,#88c 0 47px,#abd 0 48px,#cbc 0 49px,#ccd 0 50px,#8ad 0 51px,#89c 0 52px,#89d 0 53px,#a8a 0 54px,#bcd 0 55px,#9bd 0 56px,#cbb 0 57px,#e87 0 58px,#ea8 0 59px,#99c 0 60px,#abd 0 61px,#8ad 0 62px,#56b 0 63px,#45a 0 64px,#46b 0 65px,#bab 0 66px,#dbc 0 67px,#99c 0 68px,#bbd 0 69px,#ebb 0 70px,#ea9 0 71px,#eba 0 72px,#cab 0 73px,#89c 0 74px,#89d 0 75px,#abd 0 76px,#9ad 0 77px,#aac 0 78px,#abd 0 79px,#dbb 0 80px,#dcb 0 81px,#d76 0 82px,#c55 0 83px,#c34 0 84px,#b23 0 85px,#dba 0 86px,#d65 0 87px,#c43 0 88px,#ea9 0 89px,#cab 0 90px,#d99 0 91px,#dcc 0 92px,#d76 0 93px,#d65 0 94px,#c45 0 95px,#b23 0 96px,#d76 0 97px,#ea9 0 98px,#d65 0 99px,#d77 0 100px,#eba 0 101px,#ebb 0 102px,#edd 0 103px,#ecb 0 104px,#e87 0 105px,#daa 0 106px,#ea9 0 107px,#d66 0 108px,#c44 0 109px)"></i><i style="left:605px;width:3px;background:linear-gradient(#d54 0 1px,#b23 0 2px,#c34 0 3px,#d66 0 4px,#d65 0 5px,#d76 0 6px,#c33 0 7px,#c54 0 8px,#e87 0 9px,#b33 0 10px,#dcb 0 11px,#ea9 0 12px,#aac 0 13px,#c9a 0 14px,#ea9 0 15px,#e97 0 16px,#e76 0 17px,#e98 0 18px,#ebb 0 19px,#edc 0 20px,#78c 0 21px,#89d 0 22px,#ecb 0 23px,#c88 0 24px,#e98 0 25px,#c44 0 26px,#b23 0 27px,#ea9 0 28px,#e97 0 29px,#dbb 0 30px,#ccd 0 31px,#89c 0 32px,#abd 0 33px,#daa 0 34px,#caa 0 35px,#bcd 0 36px,#89c 0 37px,#68c 0 38px,#66b 0 39px,#67b 0 40px,#9ac 0 41px,#45b 0 42px,#56b 0 43px,#45a 0 44px,#9ac 0 45px,#67b 0 46px,#89c 0 47px,#ccc 0 48px,#dbb 0 49px,#b9a 0 50px,#89c 0 51px,#68c 0 52px,#79c 0 53px,#78b 0 54px,#88b 0 55px,#9ac 0 56px,#aac 0 57px,#dbb 0 58px,#eba 0 59px,#77b 0 60px,#79c 0 61px,#9ad 0 62px,#67b 0 63px,#349 0 64px,#67b 0 65px,#78c 0 66px,#aac 0 67px,#57c 0 68px,#89d 0 69px,#aac 0 70px,#abd 0 71px,#67b 0 72px,#78c 0 74px,#99c 0 75px,#9ad 0 76px,#dcb 0 77px,#da9 0 78px,#ecb 0 79px,#e98 0 80px,#eb9 0 81px,#e87 0 82px,#c54 0 83px,#d65 0 84px,#d88 0 85px,#dba 0 86px,#d87 0 87px,#d54 0 88px,#c33 0 89px,#c55 0 90px,#d54 0 91px,#e88 0 92px,#d66 0 93px,#c44 0 94px,#d54 0 95px,#c34 0 96px,#b44 0 97px,#d65 0 98px,#c45 0 99px,#c66 0 100px,#eba 0 101px,#ea9 0 102px,#da9 0 103px,#e87 0 104px,#d77 0 105px,#e97 0 106px,#e98 0 107px,#ea9 0 108px,#bab 0 109px)"></i><i style="left:608px;width:2px;background:linear-gradient(#cbc 0 1px,#eb9 0 2px,#e98 0 3px,#d87 0 4px,#ea9 0 5px,#e98 0 6px,#d66 0 8px,#d87 0 9px,#c45 0 10px,#c88 0 11px,#c66 0 12px,#dba 0 13px,#e86 0 14px,#d55 0 15px,#d54 0 16px,#b23 0 17px,#e98 0 18px,#eb9 0 19px,#d87 0 20px,#bcd 0 21px,#cbc 0 22px,#ea9 0 23px,#e87 0 24px,#ea9 0 25px,#d65 0 26px,#c44 0 27px,#d88 0 28px,#e86 0 29px,#eba 0 30px,#ecb 0 31px,#aad 0 32px,#bbd 0 33px,#9ad 0 34px,#ccd 0 35px,#ccc 0 36px,#99c 0 37px,#89c 0 38px,#45a 0 39px,#45b 0 40px,#68c 0 41px,#46b 0 42px,#45b 0 43px,#46b 0 44px,#78c 0 45px,#cbb 0 46px,#9ad 0 48px,#c9a 0 49px,#bac 0 50px,#68c 0 51px,#99c 0 52px,#bbc 0 54px,#e87 0 55px,#bab 0 56px,#bbc 0 57px,#ebb 0 58px,#ccd 0 59px,#56b 0 60px,#78c 0 61px,#bbd 0 62px,#67b 0 63px,#34a 0 64px,#45b 0 65px,#67b 0 66px,#67c 0 67px,#45a 0 68px,#79c 0 69px,#89c 0 70px,#68c 0 71px,#45a 0 72px,#abd 0 73px,#78b 0 74px,#56b 0 75px,#78b 0 76px,#89c 0 77px,#78c 0 78px,#89d 0 79px,#99b 0 80px,#bbc 0 81px,#bbb 0 82px,#dcc 0 83px,#ebb 0 84px,#aac 0 85px,#8ad 0 86px,#a9b 0 87px,#c89 0 88px,#c33 0 89px,#d87 0 90px,#ecc 0 91px,#cab 0 92px,#daa 0 93px,#ddd 0 94px,#a89 0 95px,#d65 0 96px,#d76 0 97px,#eba 0 98px,#d77 0 99px,#c99 0 100px,#edc 0 101px,#cbc 0 102px,#b55 0 103px,#c66 0 104px,#c44 0 105px,#e98 0 106px,#cbc 0 107px,#a9b 0 108px,#9ad 0 109px)"></i><i style="left:610px;width:3px;background:linear-gradient(#dcc 0 1px,#c44 0 2px,#e98 0 3px,#c9a 0 4px,#cbc 0 5px,#ddd 0 6px,#e76 0 7px,#ea8 0 8px,#e98 0 10px,#dba 0 11px,#cbc 0 12px,#d88 0 13px,#ea8 0 14px,#e86 0 16px,#d44 0 17px,#e76 0 18px,#edd 0 19px,#bbc 0 20px,#dbb 0 21px,#daa 0 22px,#d88 0 23px,#c9a 0 24px,#bbd 0 25px,#aab 0 26px,#e98 0 27px,#caa 0 28px,#ecb 0 29px,#cbc 0 30px,#99c 0 31px,#9ad 0 33px,#ccd 0 34px,#bbb 0 35px,#cbb 0 36px,#98b 0 37px,#79c 0 38px,#67b 0 39px,#89d 0 41px,#45b 0 42px,#46b 0 43px,#67c 0 44px,#bbd 0 45px,#78c 0 46px,#66b 0 47px,#68c 0 48px,#abd 0 49px,#89c 0 50px,#349 0 52px,#34a 0 53px,#56b 0 54px,#89d 0 55px,#79d 0 56px,#34a 0 57px,#9ad 0 58px,#89d 0 59px,#56b 0 60px,#35a 0 61px,#89c 0 62px,#45a 0 63px,#45b 0 64px,#67c 0 65px,#aac 0 66px,#cdd 0 67px,#34a 0 68px,#9ad 0 69px,#cbc 0 70px,#9ad 0 71px,#89d 0 72px,#78c 0 73px,#56b 0 75px,#68c 0 76px,#bbd 0 77px,#67b 0 78px,#45b 0 79px,#56b 0 80px,#9ad 0 81px,#cbc 0 82px,#c98 0 83px,#ccd 0 84px,#46b 0 85px,#45a 0 86px,#67b 0 87px,#ccc 0 88px,#cab 0 89px,#88b 0 90px,#45b 0 91px,#89c 0 92px,#78c 0 93px,#79d 0 94px,#56b 0 95px,#aac 0 96px,#9ad 0 98px,#ccc 0 99px,#dcd 0 100px,#ddd 0 101px,#caa 0 102px,#e98 0 103px,#d55 0 104px,#b13 0 105px,#d65 0 106px,#e98 0 107px,#baa 0 108px,#99c 0 109px)"></i><i style="left:613px;width:2px;background:linear-gradient(#d54 0 1px,#c33 0 2px,#e65 0 3px,#d65 0 4px,#d87 0 5px,#d65 0 6px,#c33 0 7px,#d43 0 8px,#d44 0 9px,#b23 0 10px,#e98 0 11px,#eba 0 12px,#d87 0 13px,#e87 0 14px,#e65 0 15px,#d65 0 16px,#c33 0 17px,#d55 0 18px,#d76 0 19px,#e97 0 20px,#dbb 0 21px,#edd 0 22px,#eba 0 23px,#d99 0 24px,#eba 0 25px,#d65 0 26px,#e75 0 27px,#dba 0 28px,#d76 0 29px,#eca 0 30px,#ecb 0 31px,#9ad 0 32px,#abd 0 33px,#ddc 0 34px,#e98 0 36px,#d98 0 37px,#dcc 0 38px,#bbd 0 39px,#bbc 0 40px,#dbb 0 41px,#abd 0 42px,#9ad 0 43px,#9ac 0 44px,#abd 0 45px,#bac 0 46px,#cbc 0 47px,#bbd 0 48px,#dcb 0 49px,#eba 0 50px,#9ac 0 51px,#9ad 0 53px,#dcb 0 54px,#cdd 0 55px,#ccc 0 56px,#cbc 0 57px,#ecc 0 58px,#ecb 0 59px,#bbc 0 60px,#ccd 0 61px,#bcd 0 62px,#57b 0 63px,#56b 0 64px,#abd 0 65px,#bbd 0 66px,#ccd 0 67px,#89c 0 68px,#abd 0 69px,#ccd 0 70px,#abd 0 71px,#78c 0 73px,#88c 0 74px,#56b 0 75px,#67c 0 76px,#bbd 0 77px,#88c 0 78px,#89d 0 79px,#78c 0 80px,#dcc 0 81px,#eba 0 83px,#ecc 0 84px,#9ad 0 85px,#bbd 0 87px,#ea9 0 88px,#da9 0 89px,#cbc 0 90px,#9ac 0 91px,#dcd 0 92px,#bbc 0 93px,#dbb 0 94px,#b9b 0 95px,#d77 0 96px,#d54 0 97px,#eb9 0 98px,#e97 0 99px,#e98 0 100px,#ccd 0 102px,#daa 0 103px,#e87 0 104px,#d65 0 105px,#ea8 0 106px,#ecc 0 107px,#e98 0 108px,#eba 0 109px)"></i><i style="left:615px;width:3px;background:linear-gradient(#ecb 0 1px,#ea9 0 2px,#eb9 0 3px,#ea9 0 4px,#fca 0 5px,#eb9 0 6px,#ea9 0 7px,#eba 0 8px,#ecb 0 9px,#ea8 0 10px,#ecb 0 13px,#edc 0 15px,#ecb 0 16px,#fca 0 17px,#ecb 0 18px,#edc 0 19px,#ddd 0 22px,#edd 0 23px,#ddd 0 26px,#edc 0 27px,#cce 0 28px,#cdd 0 29px,#ddd 0 31px,#ccd 0 32px,#cde 0 33px,#ddd 0 34px,#edc 0 35px,#edd 0 36px,#ddd 0 37px,#dde 0 38px,#ddd 0 39px,#cce 0 40px,#edd 0 41px,#cdd 0 42px,#cde 0 43px,#ccd 0 44px,#ddd 0 45px,#bcd 0 46px,#ccd 0 47px,#ddd 0 48px,#edc 0 49px,#edd 0 50px,#bcd 0 51px,#cce 0 52px,#ccd 0 53px,#bce 0 54px,#cce 0 55px,#ddd 0 56px,#edc 0 57px,#eb9 0 58px,#edd 0 59px,#cdd 0 60px,#dde 0 61px,#ddd 0 62px,#bcd 0 63px,#abd 0 65px,#ddd 0 67px,#bcd 0 68px,#ccd 0 69px,#dcc 0 70px,#ddd 0 71px,#bcd 0 72px,#dde 0 73px,#ddd 0 75px,#cce 0 76px,#ddd 0 77px,#ddc 0 78px,#edd 0 79px,#ddd 0 80px,#edd 0 81px,#ecc 0 82px,#eb9 0 83px,#edc 0 84px,#eb9 0 85px,#edc 0 87px,#ecc 0 88px,#edc 0 89px,#edd 0 90px,#cce 0 91px,#cde 0 92px,#ddd 0 94px,#ecc 0 95px,#eca 0 96px,#edc 0 97px,#ecb 0 99px,#edb 0 100px,#edd 0 101px,#ddd 0 102px,#edd 0 104px,#eba 0 105px,#edc 0 107px,#dcc 0 108px,#ecb 0 109px)"></i><i style="left:618px;width:2px;background:linear-gradient(#dcd 0 1px,#d66 0 2px,#d54 0 3px,#c33 0 4px,#d65 0 5px,#d54 0 6px,#e75 0 7px,#ea9 0 8px,#ecb 0 9px,#d87 0 10px,#d65 0 11px,#dba 0 12px,#caa 0 13px,#d99 0 14px,#eba 0 15px,#ea8 0 16px,#e76 0 17px,#d76 0 18px,#eb9 0 19px,#ea9 0 20px,#cab 0 21px,#bbd 0 22px,#eba 0 23px,#dcc 0 24px,#ddd 0 25px,#d65 0 26px,#d98 0 27px,#78c 0 28px,#9ad 0 29px,#dcc 0 30px,#ddc 0 31px,#abd 0 32px,#ccd 0 33px,#dbb 0 34px,#bcd 0 35px,#9ac 0 36px,#89d 0 37px,#ccd 0 38px,#abd 0 40px,#ccd 0 41px,#bcd 0 42px,#79d 0 43px,#34a 0 44px,#68c 0 45px,#78c 0 46px,#68c 0 47px,#ccd 0 48px,#edd 0 49px,#bcd 0 50px,#57b 0 51px,#45a 0 54px,#57c 0 55px,#abd 0 56px,#eaa 0 57px,#eba 0 58px,#bbd 0 59px,#9ad 0 60px,#abd 0 61px,#79d 0 62px,#349 0 64px,#45a 0 65px,#8ad 0 66px,#abd 0 67px,#56b 0 68px,#89c 0 69px,#bbd 0 70px,#9ad 0 71px,#57c 0 72px,#79c 0 73px,#56b 0 74px,#78c 0 75px,#67c 0 76px,#abd 0 77px,#79d 0 78px,#9ad 0 79px,#67c 0 80px,#9ad 0 81px,#ccc 0 82px,#e98 0 84px,#e86 0 85px,#cbc 0 86px,#ea9 0 87px,#e87 0 88px,#d55 0 89px,#eba 0 90px,#cce 0 91px,#89d 0 92px,#abd 0 93px,#ecb 0 94px,#ea8 0 95px,#d54 0 96px,#c33 0 97px,#e86 0 98px,#ea9 0 99px,#ecb 0 100px,#dbb 0 101px,#bcd 0 102px,#edc 0 103px,#ea9 0 104px,#d54 0 105px,#ea9 0 106px,#e98 0 107px,#c55 0 108px,#b13 0 109px)"></i><i style="left:620px;width:3px;background:linear-gradient(#d88 0 1px,#b34 0 2px,#b23 0 3px,#c23 0 4px,#b23 0 5px,#c54 0 6px,#b23 0 7px,#d55 0 8px,#d65 0 9px,#b23 0 10px,#b13 0 11px,#b33 0 12px,#e98 0 13px,#d76 0 14px,#e86 0 15px,#e87 0 16px,#c23 0 17px,#d55 0 18px,#ea9 0 19px,#da9 0 20px,#dba 0 21px,#ecb 0 22px,#bbc 0 23px,#d99 0 24px,#dcc 0 25px,#ea8 0 26px,#c55 0 27px,#b88 0 28px,#cab 0 29px,#edd 0 30px,#cbb 0 31px,#eba 0 32px,#dbb 0 33px,#d88 0 34px,#d76 0 35px,#dbb 0 36px,#bab 0 37px,#bac 0 38px,#68c 0 39px,#cbc 0 40px,#dbb 0 41px,#bab 0 42px,#abd 0 43px,#57c 0 44px,#aac 0 45px,#bac 0 46px,#c99 0 47px,#ea9 0 48px,#c55 0 49px,#d76 0 50px,#c88 0 51px,#cbb 0 52px,#bcd 0 53px,#c9a 0 54px,#dcc 0 55px,#e76 0 56px,#a12 0 57px,#b13 0 58px,#e65 0 59px,#caa 0 60px,#bbc 0 61px,#bbd 0 62px,#67b 0 63px,#57b 0 64px,#b99 0 65px,#d87 0 66px,#eb9 0 67px,#dba 0 68px,#ea9 0 69px,#e98 0 70px,#dcc 0 71px,#abd 0 72px,#ccd 0 73px,#aac 0 74px,#9ad 0 75px,#abd 0 76px,#dcc 0 77px,#99c 0 78px,#abd 0 79px,#8ad 0 80px,#abd 0 81px,#dcc 0 82px,#b78 0 83px,#e76 0 84px,#c33 0 85px,#e87 0 86px,#c77 0 87px,#d66 0 88px,#c78 0 89px,#79d 0 90px,#55a 0 91px,#45a 0 92px,#66a 0 93px,#99b 0 94px,#9ad 0 95px,#cbb 0 96px,#c44 0 97px,#e76 0 98px,#d98 0 99px,#cbb 0 100px,#bcd 0 101px,#9ac 0 102px,#bbd 0 103px,#ecb 0 104px,#d77 0 105px,#ccd 0 106px,#c9a 0 107px,#c44 0 108px,#a12 0 109px)"></i><i style="left:623px;width:2px;background:linear-gradient(#ecb 0 1px,#e76 0 2px,#ea8 0 3px,#ecb 0 4px,#eba 0 5px,#e98 0 6px,#eb9 0 7px,#edc 0 9px,#ea8 0 10px,#ea9 0 11px,#e98 0 12px,#ccd 0 13px,#ecb 0 14px,#eca 0 15px,#ecb 0 16px,#ea8 0 17px,#ecb 0 19px,#edc 0 20px,#ecb 0 21px,#edc 0 22px,#edd 0 23px,#ecb 0 24px,#ddd 0 25px,#e98 0 26px,#eb9 0 27px,#ccd 0 28px,#bcd 0 29px,#ccd 0 30px,#cde 0 31px,#edd 0 32px,#ddd 0 34px,#edc 0 35px,#ddd 0 36px,#bcd 0 37px,#ddd 0 38px,#ccd 0 39px,#bcd 0 40px,#ddd 0 42px,#bcd 0 44px,#cce 0 45px,#bcd 0 46px,#abd 0 47px,#ccd 0 48px,#ddd 0 49px,#edd 0 50px,#ddd 0 51px,#abd 0 52px,#9bd 0 53px,#89d 0 54px,#bce 0 55px,#ccd 0 56px,#eba 0 58px,#edd 0 59px,#9ad 0 60px,#ccd 0 61px,#bbd 0 62px,#68c 0 63px,#46b 0 64px,#89d 0 65px,#cce 0 66px,#ccd 0 67px,#89d 0 68px,#abd 0 69px,#cce 0 70px,#cdd 0 71px,#9ad 0 72px,#89d 0 73px,#8ad 0 74px,#9ad 0 75px,#abd 0 76px,#ccd 0 77px,#9ad 0 78px,#bce 0 79px,#9ad 0 80px,#ccd 0 81px,#ddd 0 82px,#dcc 0 83px,#eca 0 84px,#ea9 0 85px,#ddd 0 87px,#dcc 0 88px,#edd 0 89px,#bcd 0 90px,#8ad 0 91px,#9bd 0 92px,#bcd 0 93px,#ccd 0 94px,#edd 0 95px,#ecb 0 96px,#e86 0 97px,#eba 0 98px,#eb9 0 99px,#edc 0 101px,#ddd 0 103px,#edc 0 104px,#ea8 0 105px,#edc 0 106px,#edd 0 107px,#eba 0 108px,#e97 0 109px)"></i><i style="left:625px;width:3px;background:linear-gradient(#edc 0 1px,#eb9 0 3px,#edc 0 4px,#ecb 0 5px,#eb9 0 6px,#eca 0 7px,#edc 0 9px,#edb 0 10px,#ecb 0 11px,#edc 0 13px,#ddd 0 14px,#edd 0 15px,#ecb 0 16px,#eb9 0 17px,#eba 0 18px,#eca 0 19px,#ecb 0 25px,#e87 0 26px,#e86 0 27px,#eca 0 28px,#ecb 0 29px,#edc 0 33px,#eb9 0 34px,#ea9 0 35px,#ecb 0 36px,#eb9 0 37px,#eba 0 38px,#edd 0 39px,#ecc 0 40px,#edd 0 41px,#ccd 0 42px,#abd 0 44px,#abe 0 45px,#bcd 0 46px,#cce 0 47px,#ddd 0 48px,#edd 0 49px,#ddd 0 50px,#abd 0 51px,#9ad 0 52px,#8ad 0 53px,#9ad 0 54px,#bcd 0 55px,#edd 0 56px,#ecb 0 57px,#ecc 0 58px,#ddd 0 59px,#ccd 0 60px,#cde 0 61px,#ddd 0 62px,#abd 0 63px,#89d 0 64px,#bcd 0 65px,#cce 0 66px,#cde 0 67px,#abd 0 68px,#bcd 0 69px,#edc 0 70px,#edd 0 72px,#cde 0 73px,#bcd 0 76px,#ddd 0 77px,#dcd 0 78px,#edd 0 79px,#edc 0 80px,#edd 0 81px,#ecb 0 82px,#eba 0 83px,#edc 0 84px,#ecb 0 85px,#edc 0 86px,#dcc 0 87px,#ecb 0 88px,#eca 0 89px,#edd 0 90px,#bcd 0 91px,#ddd 0 92px,#edd 0 93px,#edc 0 94px,#dcd 0 95px,#ecc 0 96px,#ecb 0 97px,#edc 0 98px,#ecb 0 99px,#edd 0 100px,#ddd 0 101px,#cce 0 102px,#bcd 0 103px,#edd 0 104px,#ecb 0 105px,#edc 0 106px,#ecb 0 107px,#ea9 0 108px,#ea8 0 109px)"></i><i style="left:628px;width:2px;background:linear-gradient(#d65 0 1px,#b13 0 2px,#c33 0 3px,#d54 0 4px,#b34 0 5px,#d44 0 6px,#c44 0 7px,#eb9 0 8px,#eba 0 9px,#c33 0 10px,#c23 0 11px,#b23 0 12px,#ea8 0 13px,#dbb 0 14px,#ecb 0 15px,#e97 0 16px,#e65 0 17px,#eba 0 18px,#e76 0 19px,#eba 0 20px,#e98 0 21px,#d77 0 22px,#dcc 0 23px,#ddd 0 24px,#dbc 0 25px,#d99 0 27px,#b9a 0 28px,#9ac 0 29px,#ccd 0 30px,#ecc 0 31px,#ccd 0 33px,#ccc 0 34px,#dcc 0 35px,#ecc 0 36px,#cbb 0 37px,#caa 0 38px,#89c 0 39px,#bbd 0 40px,#dcd 0 41px,#abd 0 42px,#89d 0 43px,#99c 0 44px,#abd 0 45px,#bcd 0 46px,#bbc 0 47px,#cbb 0 48px,#daa 0 49px,#9ac 0 50px,#78c 0 51px,#67c 0 53px,#97a 0 54px,#baa 0 55px,#e97 0 56px,#d54 0 57px,#e76 0 58px,#ecb 0 59px,#cab 0 60px,#dcc 0 61px,#ccd 0 62px,#bbc 0 63px,#9ac 0 64px,#88c 0 65px,#bcd 0 66px,#ccd 0 67px,#bbc 0 68px,#abd 0 70px,#bbd 0 71px,#cbc 0 72px,#bbd 0 73px,#9ad 0 74px,#67c 0 75px,#aac 0 76px,#dbb 0 77px,#ecb 0 78px,#bbd 0 80px,#bcd 0 81px,#ebb 0 82px,#d55 0 83px,#eb9 0 84px,#dba 0 85px,#ddd 0 86px,#dcb 0 87px,#c55 0 88px,#d77 0 89px,#d88 0 90px,#cbb 0 91px,#ccd 0 92px,#cbc 0 93px,#dcc 0 94px,#daa 0 95px,#d66 0 96px,#b13 0 97px,#c33 0 98px,#b23 0 99px,#a12 0 100px,#e86 0 101px,#e76 0 102px,#d76 0 103px,#e97 0 104px,#b23 0 105px,#d65 0 106px,#e87 0 107px,#a12 0 108px,#b23 0 109px)"></i><i style="left:630px;width:3px;background:linear-gradient(#e97 0 1px,#d44 0 2px,#d55 0 3px,#d76 0 4px,#d44 0 5px,#c33 0 7px,#e76 0 8px,#e86 0 9px,#b23 0 10px,#c23 0 11px,#a12 0 12px,#c34 0 13px,#d54 0 14px,#ea8 0 16px,#e98 0 17px,#ea9 0 18px,#e86 0 19px,#e98 0 20px,#ea9 0 21px,#e87 0 22px,#d65 0 23px,#eb9 0 24px,#dba 0 25px,#d88 0 26px,#d99 0 27px,#bbc 0 28px,#89d 0 29px,#abd 0 30px,#edc 0 31px,#bcd 0 32px,#ccd 0 33px,#dcd 0 34px,#eba 0 35px,#ecc 0 36px,#ecb 0 38px,#bbd 0 39px,#99c 0 40px,#bcd 0 41px,#abd 0 42px,#9ac 0 43px,#9ad 0 44px,#bcd 0 45px,#99c 0 46px,#8ad 0 47px,#bcd 0 48px,#ccd 0 50px,#57b 0 51px,#67c 0 52px,#68c 0 53px,#57b 0 54px,#ccd 0 55px,#ddc 0 56px,#e98 0 57px,#ecb 0 58px,#dbc 0 59px,#9ad 0 60px,#bce 0 61px,#abd 0 62px,#78c 0 63px,#56b 0 64px,#67c 0 65px,#9ad 0 66px,#bcd 0 67px,#9ad 0 68px,#bcd 0 69px,#9ad 0 70px,#aad 0 71px,#9ad 0 72px,#abd 0 73px,#78c 0 74px,#56b 0 75px,#89c 0 76px,#bcd 0 77px,#68c 0 78px,#9bd 0 79px,#78c 0 80px,#bbd 0 81px,#ddd 0 82px,#ccd 0 83px,#dcc 0 84px,#ccd 0 85px,#abd 0 86px,#89d 0 87px,#abd 0 88px,#eba 0 89px,#dcd 0 90px,#79c 0 91px,#67c 0 92px,#78c 0 93px,#abd 0 94px,#9ad 0 97px,#bbd 0 98px,#ecb 0 99px,#cbc 0 100px,#ddd 0 101px,#ecb 0 102px,#ea9 0 103px,#ecb 0 104px,#eba 0 105px,#ecb 0 106px,#dcd 0 107px,#d99 0 108px,#ecb 0 109px)"></i><i style="left:633px;width:2px;background:linear-gradient(#d54 0 1px,#c23 0 2px,#d54 0 3px,#d65 0 4px,#d44 0 6px,#d54 0 7px,#e76 0 8px,#eb9 0 9px,#c44 0 10px,#d54 0 12px,#ea8 0 13px,#eba 0 14px,#ecb 0 15px,#ecc 0 16px,#eb9 0 17px,#e87 0 18px,#e98 0 19px,#ea9 0 20px,#ea8 0 21px,#e87 0 22px,#ecb 0 23px,#dcd 0 24px,#abd 0 25px,#cbc 0 26px,#ddd 0 27px,#bbd 0 28px,#abd 0 29px,#89d 0 30px,#9ad 0 31px,#79c 0 32px,#9ad 0 33px,#67c 0 34px,#bbc 0 35px,#cbc 0 36px,#ccc 0 37px,#9ad 0 38px,#79c 0 39px,#89d 0 40px,#8ad 0 41px,#abd 0 42px,#9ad 0 44px,#abd 0 45px,#bcd 0 46px,#bab 0 47px,#ddd 0 48px,#bcd 0 49px,#dcd 0 50px,#abd 0 51px,#89d 0 52px,#9ad 0 53px,#89d 0 54px,#9ad 0 55px,#ecb 0 56px,#e76 0 57px,#e98 0 58px,#dcc 0 59px,#ecc 0 60px,#ddd 0 61px,#bcd 0 62px,#bbd 0 63px,#bcd 0 64px,#abd 0 65px,#ddd 0 66px,#dcc 0 67px,#cab 0 68px,#dbb 0 69px,#cbb 0 70px,#dcc 0 71px,#abd 0 72px,#8ad 0 73px,#89d 0 74px,#67c 0 76px,#abd 0 77px,#78c 0 78px,#8ad 0 79px,#35a 0 80px,#9ad 0 81px,#abd 0 82px,#bbd 0 83px,#ccd 0 84px,#bcd 0 85px,#abd 0 86px,#89d 0 87px,#ddd 0 88px,#edd 0 89px,#ccd 0 90px,#89d 0 91px,#9ad 0 92px,#8ad 0 93px,#ddd 0 94px,#9bd 0 95px,#aac 0 96px,#bbd 0 97px,#ccd 0 98px,#dcc 0 99px,#dcd 0 100px,#abd 0 101px,#8ad 0 102px,#abd 0 103px,#9ad 0 104px,#bcd 0 105px,#ccd 0 106px,#bcd 0 107px,#ccc 0 108px,#ccd 0 109px)"></i><i style="left:635px;width:3px;background:linear-gradient(#d54 0 1px,#b23 0 2px,#d65 0 3px,#ea8 0 4px,#e98 0 5px,#c55 0 6px,#c44 0 7px,#d65 0 8px,#d77 0 9px,#c44 0 10px,#c89 0 11px,#ebb 0 12px,#99c 0 13px,#9ad 0 14px,#dbb 0 15px,#eba 0 17px,#e98 0 18px,#e87 0 19px,#ea9 0 20px,#d98 0 21px,#dbb 0 22px,#ccd 0 23px,#aad 0 24px,#bbd 0 25px,#b9a 0 26px,#aab 0 27px,#77a 0 28px,#67c 0 29px,#9ac 0 30px,#89d 0 31px,#68c 0 33px,#67b 0 34px,#cbb 0 35px,#caa 0 36px,#bbc 0 37px,#9ad 0 38px,#56b 0 40px,#9ad 0 41px,#56b 0 43px,#45a 0 44px,#56b 0 45px,#349 0 46px,#78b 0 47px,#bbc 0 48px,#cbc 0 49px,#da9 0 50px,#abd 0 51px,#67c 0 52px,#56b 0 53px,#aac 0 54px,#9ad 0 55px,#cab 0 56px,#d78 0 57px,#b23 0 58px,#ea8 0 59px,#c88 0 60px,#bab 0 61px,#ccd 0 62px,#aac 0 63px,#78c 0 64px,#67c 0 65px,#abd 0 67px,#67b 0 68px,#68c 0 69px,#ecb 0 70px,#ccc 0 71px,#45a 0 72px,#56b 0 73px,#88c 0 74px,#89c 0 75px,#78c 0 76px,#89d 0 77px,#78c 0 78px,#bcd 0 79px,#56b 0 80px,#78c 0 81px,#aad 0 82px,#d55 0 83px,#eba 0 84px,#a9a 0 85px,#9ad 0 86px,#45a 0 87px,#88b 0 88px,#aac 0 89px,#89c 0 90px,#34a 0 91px,#9ad 0 92px,#aac 0 93px,#bbc 0 94px,#caa 0 95px,#daa 0 96px,#cbc 0 97px,#dba 0 98px,#dbb 0 99px,#c44 0 100px,#eb9 0 101px,#ea9 0 102px,#d99 0 103px,#da9 0 104px,#e98 0 105px,#ea9 0 106px,#e87 0 107px,#ea9 0 108px,#e76 0 109px)"></i><i style="left:638px;width:2px;background:linear-gradient(#e87 0 1px,#ea9 0 2px,#cbc 0 3px,#aad 0 4px,#9ad 0 5px,#ccc 0 6px,#eb9 0 7px,#cbb 0 8px,#cbc 0 9px,#dcc 0 10px,#ecc 0 11px,#b9a 0 12px,#89d 0 13px,#cbc 0 14px,#ecb 0 15px,#ecc 0 16px,#ddd 0 17px,#bcd 0 18px,#ecb 0 19px,#bbc 0 20px,#78c 0 21px,#67b 0 22px,#9ad 0 23px,#67b 0 24px,#68c 0 25px,#89d 0 26px,#abd 0 27px,#67b 0 28px,#89c 0 29px,#79c 0 30px,#89d 0 31px,#78c 0 32px,#9bd 0 33px,#89c 0 35px,#ccd 0 36px,#bab 0 37px,#68c 0 38px,#89c 0 40px,#ccc 0 41px,#89c 0 42px,#67c 0 43px,#56b 0 44px,#68c 0 45px,#67b 0 46px,#88c 0 47px,#dcd 0 48px,#ea9 0 49px,#e98 0 50px,#c88 0 51px,#9ad 0 52px,#68c 0 53px,#57c 0 54px,#79d 0 55px,#ccd 0 56px,#dbb 0 57px,#c33 0 58px,#e65 0 59px,#c99 0 60px,#bbc 0 61px,#dcc 0 62px,#abd 0 63px,#9ac 0 64px,#8ad 0 65px,#bbc 0 66px,#ebb 0 67px,#bbc 0 68px,#ca9 0 69px,#d99 0 70px,#eba 0 71px,#cbc 0 73px,#bbd 0 74px,#9ad 0 76px,#bcd 0 77px,#ecb 0 78px,#ddd 0 79px,#daa 0 80px,#bbd 0 82px,#eba 0 83px,#ddc 0 84px,#ccd 0 86px,#89c 0 87px,#daa 0 88px,#9ac 0 89px,#9ad 0 90px,#67b 0 91px,#89c 0 92px,#abd 0 93px,#bcd 0 94px,#cbc 0 95px,#d76 0 96px,#e97 0 98px,#d76 0 99px,#e76 0 100px,#ea8 0 101px,#e76 0 102px,#d55 0 103px,#c33 0 104px,#a12 0 105px,#d44 0 106px,#e87 0 107px,#d66 0 108px,#c33 0 109px)"></i><i style="left:640px;width:3px;background:linear-gradient(#c33 0 1px,#b13 0 2px,#d54 0 3px,#e87 0 4px,#e86 0 5px,#d65 0 6px,#b23 0 7px,#d44 0 8px,#e86 0 9px,#d44 0 10px,#ecb 0 11px,#eba 0 12px,#ecb 0 13px,#e97 0 14px,#eb9 0 15px,#eba 0 16px,#ea9 0 17px,#eb9 0 18px,#e98 0 19px,#eb9 0 20px,#ecb 0 21px,#9bd 0 22px,#abd 0 23px,#ecc 0 24px,#bbd 0 26px,#dcc 0 27px,#ccd 0 28px,#ea9 0 29px,#ecc 0 30px,#ccc 0 31px,#ecb 0 33px,#eb9 0 34px,#ccd 0 35px,#dcc 0 36px,#edc 0 37px,#abd 0 38px,#9ad 0 39px,#cbc 0 40px,#bcd 0 41px,#abd 0 42px,#89d 0 43px,#67c 0 44px,#79d 0 45px,#9ad 0 46px,#aad 0 47px,#ccd 0 48px,#edd 0 49px,#dbb 0 50px,#ecb 0 51px,#79d 0 52px,#67c 0 53px,#57b 0 54px,#79d 0 55px,#78c 0 56px,#ccc 0 57px,#ecb 0 58px,#ddd 0 59px,#89d 0 60px,#aad 0 61px,#bcd 0 62px,#abd 0 63px,#9ac 0 64px,#9ad 0 65px,#edc 0 66px,#ccd 0 67px,#abd 0 68px,#dcc 0 69px,#eba 0 70px,#ecc 0 71px,#9ad 0 74px,#abd 0 75px,#9ad 0 77px,#bcd 0 78px,#ddd 0 79px,#9bd 0 80px,#bbd 0 81px,#ea8 0 82px,#e76 0 83px,#edc 0 84px,#dcc 0 85px,#ccd 0 86px,#bbc 0 87px,#eba 0 88px,#e98 0 89px,#dcc 0 90px,#abd 0 91px,#dcc 0 92px,#dcd 0 93px,#dbb 0 94px,#ea9 0 95px,#d54 0 96px,#a12 0 97px,#c33 0 98px,#c23 0 99px,#c44 0 100px,#e76 0 102px,#d55 0 103px,#d76 0 104px,#b13 0 105px,#c44 0 106px,#e87 0 107px,#c33 0 108px,#c44 0 109px)"></i><i style="left:643px;width:2px;background:linear-gradient(#ea9 0 1px,#ea8 0 2px,#ecc 0 3px,#abd 0 4px,#bbd 0 5px,#eba 0 6px,#d76 0 7px,#dba 0 8px,#eca 0 9px,#eba 0 10px,#dbb 0 11px,#ccd 0 12px,#dcc 0 13px,#dba 0 14px,#ecb 0 16px,#eca 0 17px,#dcc 0 18px,#ecc 0 19px,#ecb 0 20px,#9ad 0 21px,#46b 0 23px,#45b 0 25px,#56b 0 26px,#9ad 0 27px,#57b 0 28px,#abd 0 29px,#ddd 0 30px,#cce 0 31px,#abd 0 32px,#cdd 0 33px,#bac 0 34px,#9ad 0 35px,#8ad 0 36px,#67c 0 39px,#ccd 0 41px,#8ad 0 42px,#9ad 0 43px,#67b 0 44px,#78c 0 45px,#67c 0 46px,#78c 0 47px,#abd 0 48px,#aad 0 49px,#abd 0 50px,#79d 0 51px,#57c 0 53px,#56b 0 55px,#67c 0 56px,#79c 0 57px,#bbd 0 58px,#abd 0 60px,#8ad 0 61px,#9ad 0 62px,#89d 0 63px,#78c 0 64px,#8ad 0 65px,#dcc 0 66px,#ddd 0 67px,#ecc 0 68px,#ccd 0 69px,#edc 0 71px,#ccc 0 72px,#ccd 0 73px,#abd 0 74px,#89d 0 75px,#ccd 0 76px,#bcd 0 77px,#89d 0 78px,#ddd 0 79px,#ccd 0 81px,#e97 0 82px,#ea9 0 83px,#ecb 0 84px,#dbb 0 85px,#e98 0 86px,#dbb 0 87px,#ea9 0 88px,#ebb 0 89px,#9ad 0 90px,#8ad 0 91px,#bbd 0 92px,#ddd 0 93px,#dbc 0 94px,#e98 0 95px,#c23 0 96px,#c44 0 97px,#e87 0 98px,#d55 0 99px,#c44 0 100px,#e87 0 101px,#e76 0 102px,#c33 0 104px,#a12 0 105px,#d44 0 106px,#d54 0 107px,#b23 0 108px,#a12 0 109px)"></i></div>
<svg width="685" height="307" viewBox="0 0 685 307">
<text x="0" y="7" font-size="9.35"><tspan font-weight="bold">A:</tspan> Time-series of KEGG ortholog frequencies</text><rect x="23.5" y="13.5" width="622" height="110" fill="none" stroke="#6e6e6e" stroke-width="1"/><text x="23.3" y="132.7" font-size="6.3" text-anchor="middle" >2011</text><line x1="23.3" y1="14" x2="23.3" y2="17.5" stroke="#333" stroke-width="0.7"/><line x1="23.3" y1="123" x2="23.3" y2="119.5" stroke="#333" stroke-width="0.7"/><text x="79.6" y="132.7" font-size="6.3" text-anchor="middle" >2012</text><line x1="79.6" y1="14" x2="79.6" y2="17.5" stroke="#333" stroke-width="0.7"/><line x1="79.6" y1="123" x2="79.6" y2="119.5" stroke="#333" stroke-width="0.7"/><text x="130.9" y="132.7" font-size="6.3" text-anchor="middle" >2013</text><line x1="130.9" y1="14" x2="130.9" y2="17.5" stroke="#333" stroke-width="0.7"/><line x1="130.9" y1="123" x2="130.9" y2="119.5" stroke="#333" stroke-width="0.7"/><text x="187.3" y="132.7" font-size="6.3" text-anchor="middle" >2014</text><line x1="187.3" y1="14" x2="187.3" y2="17.5" stroke="#333" stroke-width="0.7"/><line x1="187.3" y1="123" x2="187.3" y2="119.5" stroke="#333" stroke-width="0.7"/><text x="229.2" y="132.7" font-size="6.3" text-anchor="middle" >2015</text><line x1="229.2" y1="14" x2="229.2" y2="17.5" stroke="#333" stroke-width="0.7"/><line x1="229.2" y1="123" x2="229.2" y2="119.5" stroke="#333" stroke-width="0.7"/><text x="284.8" y="132.7" font-size="6.3" text-anchor="middle" >2016</text><line x1="284.8" y1="14" x2="284.8" y2="17.5" stroke="#333" stroke-width="0.7"/><line x1="284.8" y1="123" x2="284.8" y2="119.5" stroke="#333" stroke-width="0.7"/><text x="343.5" y="132.7" font-size="6.3" text-anchor="middle" >2017</text><line x1="343.5" y1="14" x2="343.5" y2="17.5" stroke="#333" stroke-width="0.7"/><line x1="343.5" y1="123" x2="343.5" y2="119.5" stroke="#333" stroke-width="0.7"/><text x="404.3" y="132.7" font-size="6.3" text-anchor="middle" >2018</text><line x1="404.3" y1="14" x2="404.3" y2="17.5" stroke="#333" stroke-width="0.7"/><line x1="404.3" y1="123" x2="404.3" y2="119.5" stroke="#333" stroke-width="0.7"/><text x="451" y="132.7" font-size="6.3" text-anchor="middle" >2019</text><line x1="451" y1="14" x2="451" y2="17.5" stroke="#333" stroke-width="0.7"/><line x1="451" y1="123" x2="451" y2="119.5" stroke="#333" stroke-width="0.7"/><text x="523.9" y="132.7" font-size="6.3" text-anchor="middle" >2020</text><line x1="523.9" y1="14" x2="523.9" y2="17.5" stroke="#333" stroke-width="0.7"/><line x1="523.9" y1="123" x2="523.9" y2="119.5" stroke="#333" stroke-width="0.7"/><text x="572.3" y="132.7" font-size="6.3" text-anchor="middle" >2021</text><line x1="572.3" y1="14" x2="572.3" y2="17.5" stroke="#333" stroke-width="0.7"/><line x1="572.3" y1="123" x2="572.3" y2="119.5" stroke="#333" stroke-width="0.7"/><text x="635.8" y="132.7" font-size="6.3" text-anchor="middle" >2022</text><line x1="635.8" y1="14" x2="635.8" y2="17.5" stroke="#333" stroke-width="0.7"/><line x1="635.8" y1="123" x2="635.8" y2="119.5" stroke="#333" stroke-width="0.7"/><text x="342.6" y="142.2" font-size="8.1" text-anchor="middle" >Time (yr)</text><text transform="translate(12.2,64.8) rotate(-90)" font-size="9.2" text-anchor="middle">KEGG orthologs</text><defs><linearGradient id="rb" x1="0" y1="0" x2="0" y2="1"><stop offset="0.0" stop-color="#a50026"/><stop offset="0.1" stop-color="#d73027"/><stop offset="0.2" stop-color="#f46d43"/><stop offset="0.3" stop-color="#fdae61"/><stop offset="0.4" stop-color="#fee090"/><stop offset="0.5" stop-color="#ffffbf"/><stop offset="0.6" stop-color="#e0f3f8"/><stop offset="0.7" stop-color="#abd9e9"/><stop offset="0.8" stop-color="#74add1"/><stop offset="0.9" stop-color="#4575b4"/><stop offset="1.0" stop-color="#313695"/></linearGradient><linearGradient id="jt" x1="0" y1="0" x2="0" y2="1"><stop offset="0.0" stop-color="#800000"/><stop offset="0.03125" stop-color="#9f0000"/><stop offset="0.0625" stop-color="#bf0000"/><stop offset="0.09375" stop-color="#df0000"/><stop offset="0.125" stop-color="#ff0000"/><stop offset="0.15625" stop-color="#ff2000"/><stop offset="0.1875" stop-color="#ff4000"/><stop offset="0.21875" stop-color="#ff6000"/><stop offset="0.25" stop-color="#ff8000"/><stop offset="0.28125" stop-color="#ff9f00"/><stop offset="0.3125" stop-color="#ffbf00"/><stop offset="0.34375" stop-color="#ffdf00"/><stop offset="0.375" stop-color="#ffff00"/><stop offset="0.40625" stop-color="#dfff20"/><stop offset="0.4375" stop-color="#bfff40"/><stop offset="0.46875" stop-color="#9fff60"/><stop offset="0.5" stop-color="#80ff80"/><stop offset="0.53125" stop-color="#60ff9f"/><stop offset="0.5625" stop-color="#40ffbf"/><stop offset="0.59375" stop-color="#20ffdf"/><stop offset="0.625" stop-color="#00ffff"/><stop offset="0.65625" stop-color="#00dfff"/><stop offset="0.6875" stop-color="#00bfff"/><stop offset="0.71875" stop-color="#009fff"/><stop offset="0.75" stop-color="#0080ff"/><stop offset="0.78125" stop-color="#0060ff"/><stop offset="0.8125" stop-color="#0040ff"/><stop offset="0.84375" stop-color="#0020ff"/><stop offset="0.875" stop-color="#0000ff"/><stop offset="0.90625" stop-color="#0000df"/><stop offset="0.9375" stop-color="#0000bf"/><stop offset="0.96875" stop-color="#00009f"/><stop offset="1.0" stop-color="#000080"/></linearGradient></defs><rect x="652.5" y="13.5" width="12" height="110" fill="url(#rb)" stroke="#7a7a7a" stroke-width="0.8"/><text x="667" y="17.3" font-size="6.4" text-anchor="start" >1</text><line x1="664.5" y1="13.5" x2="663" y2="13.5" stroke="#333" stroke-width="0.6"/><text x="667" y="43.3" font-size="6.4" text-anchor="start" >0.5</text><line x1="664.5" y1="41" x2="663" y2="41" stroke="#333" stroke-width="0.6"/><text x="667" y="71.1" font-size="6.4" text-anchor="start" >0</text><line x1="664.5" y1="68.5" x2="663" y2="68.5" stroke="#333" stroke-width="0.6"/><text x="667" y="98.8" font-size="6.4" text-anchor="start" >-0.5</text><line x1="664.5" y1="96" x2="663" y2="96" stroke="#333" stroke-width="0.6"/><text x="667" y="125.5" font-size="6.4" text-anchor="start" >-1</text><line x1="664.5" y1="123.5" x2="663" y2="123.5" stroke="#333" stroke-width="0.6"/><text transform="translate(683.6,62.7) rotate(-90)" font-size="7.35" text-anchor="middle">Relative frequency</text><text x="0.3" y="162.3" font-size="9.3"><tspan font-weight="bold">B:</tspan> Sample similarity (KEGG orthologs)</text><rect x="22.5" y="171" width="189.0" height="115.5" fill="none" stroke="#404040" stroke-width="0.8"/><text x="34.3125" y="296" font-size="6.3" text-anchor="middle" >-80</text><line x1="34.3125" y1="286.5" x2="34.3125" y2="284.5" stroke="#404040" stroke-width="0.6"/><line x1="34.3125" y1="171" x2="34.3125" y2="173" stroke="#404040" stroke-width="0.6"/><text x="57.9375" y="296" font-size="6.3" text-anchor="middle" >-60</text><line x1="57.9375" y1="286.5" x2="57.9375" y2="284.5" stroke="#404040" stroke-width="0.6"/><line x1="57.9375" y1="171" x2="57.9375" y2="173" stroke="#404040" stroke-width="0.6"/><text x="81.5625" y="296" font-size="6.3" text-anchor="middle" >-40</text><line x1="81.5625" y1="286.5" x2="81.5625" y2="284.5" stroke="#404040" stroke-width="0.6"/><line x1="81.5625" y1="171" x2="81.5625" y2="173" stroke="#404040" stroke-width="0.6"/><text x="105.1875" y="296" font-size="6.3" text-anchor="middle" >-20</text><line x1="105.1875" y1="286.5" x2="105.1875" y2="284.5" stroke="#404040" stroke-width="0.6"/><line x1="105.1875" y1="171" x2="105.1875" y2="173" stroke="#404040" stroke-width="0.6"/><text x="128.8125" y="296" font-size="6.3" text-anchor="middle" >0</text><line x1="128.8125" y1="286.5" x2="128.8125" y2="284.5" stroke="#404040" stroke-width="0.6"/><line x1="128.8125" y1="171" x2="128.8125" y2="173" stroke="#404040" stroke-width="0.6"/><text x="152.4375" y="296" font-size="6.3" text-anchor="middle" >20</text><line x1="152.4375" y1="286.5" x2="152.4375" y2="284.5" stroke="#404040" stroke-width="0.6"/><line x1="152.4375" y1="171" x2="152.4375" y2="173" stroke="#404040" stroke-width="0.6"/><text x="176.0625" y="296" font-size="6.3" text-anchor="middle" >40</text><line x1="176.0625" y1="286.5" x2="176.0625" y2="284.5" stroke="#404040" stroke-width="0.6"/><line x1="176.0625" y1="171" x2="176.0625" y2="173" stroke="#404040" stroke-width="0.6"/><text x="199.6875" y="296" font-size="6.3" text-anchor="middle" >60</text><line x1="199.6875" y1="286.5" x2="199.6875" y2="284.5" stroke="#404040" stroke-width="0.6"/><line x1="199.6875" y1="171" x2="199.6875" y2="173" stroke="#404040" stroke-width="0.6"/><text x="18.5" y="173.4" font-size="6.4" text-anchor="end" >30</text><line x1="22.5" y1="171.0" x2="24.5" y2="171.0" stroke="#404040" stroke-width="0.6"/><line x1="211.5" y1="171.0" x2="209.5" y2="171.0" stroke="#404040" stroke-width="0.6"/><text x="18.5" y="188.8" font-size="6.4" text-anchor="end" >20</text><line x1="22.5" y1="186.4" x2="24.5" y2="186.4" stroke="#404040" stroke-width="0.6"/><line x1="211.5" y1="186.4" x2="209.5" y2="186.4" stroke="#404040" stroke-width="0.6"/><text x="18.5" y="204.20000000000002" font-size="6.4" text-anchor="end" >10</text><line x1="22.5" y1="201.8" x2="24.5" y2="201.8" stroke="#404040" stroke-width="0.6"/><line x1="211.5" y1="201.8" x2="209.5" y2="201.8" stroke="#404040" stroke-width="0.6"/><text x="18.5" y="219.6" font-size="6.4" text-anchor="end" >0</text><line x1="22.5" y1="217.2" x2="24.5" y2="217.2" stroke="#404040" stroke-width="0.6"/><line x1="211.5" y1="217.2" x2="209.5" y2="217.2" stroke="#404040" stroke-width="0.6"/><text x="18.5" y="235.0" font-size="6.4" text-anchor="end" >-10</text><line x1="22.5" y1="232.6" x2="24.5" y2="232.6" stroke="#404040" stroke-width="0.6"/><line x1="211.5" y1="232.6" x2="209.5" y2="232.6" stroke="#404040" stroke-width="0.6"/><text x="18.5" y="250.4" font-size="6.4" text-anchor="end" >-20</text><line x1="22.5" y1="248.0" x2="24.5" y2="248.0" stroke="#404040" stroke-width="0.6"/><line x1="211.5" y1="248.0" x2="209.5" y2="248.0" stroke="#404040" stroke-width="0.6"/><text x="18.5" y="265.79999999999995" font-size="6.4" text-anchor="end" >-30</text><line x1="22.5" y1="263.4" x2="24.5" y2="263.4" stroke="#404040" stroke-width="0.6"/><line x1="211.5" y1="263.4" x2="209.5" y2="263.4" stroke="#404040" stroke-width="0.6"/><text x="18.5" y="281.2" font-size="6.4" text-anchor="end" >-40</text><line x1="22.5" y1="278.8" x2="24.5" y2="278.8" stroke="#404040" stroke-width="0.6"/><line x1="211.5" y1="278.8" x2="209.5" y2="278.8" stroke="#404040" stroke-width="0.6"/><text x="118.9" y="305" font-size="8" text-anchor="middle" >PC1 (31%)</text><text transform="translate(6.5,226.6) rotate(-90)" font-size="8" text-anchor="middle">PC2 (12%)</text><text x="223" y="164.3" font-size="9.3"><tspan font-weight="bold">C:</tspan> Sample similarity (all annotations and taxa)</text><rect x="240.5" y="171" width="178.0" height="115.5" fill="none" stroke="#404040" stroke-width="0.8"/><text x="240.5" y="296" font-size="6.3" text-anchor="middle" >-3</text><line x1="240.5" y1="286.5" x2="240.5" y2="284.5" stroke="#404040" stroke-width="0.6"/><line x1="240.5" y1="171" x2="240.5" y2="173" stroke="#404040" stroke-width="0.6"/><text x="272.8636363636364" y="296" font-size="6.3" text-anchor="middle" >-2</text><line x1="272.8636363636364" y1="286.5" x2="272.8636363636364" y2="284.5" stroke="#404040" stroke-width="0.6"/><line x1="272.8636363636364" y1="171" x2="272.8636363636364" y2="173" stroke="#404040" stroke-width="0.6"/><text x="305.22727272727275" y="296" font-size="6.3" text-anchor="middle" >-1</text><line x1="305.22727272727275" y1="286.5" x2="305.22727272727275" y2="284.5" stroke="#404040" stroke-width="0.6"/><line x1="305.22727272727275" y1="171" x2="305.22727272727275" y2="173" stroke="#404040" stroke-width="0.6"/><text x="337.5909090909091" y="296" font-size="6.3" text-anchor="middle" >0</text><line x1="337.5909090909091" y1="286.5" x2="337.5909090909091" y2="284.5" stroke="#404040" stroke-width="0.6"/><line x1="337.5909090909091" y1="171" x2="337.5909090909091" y2="173" stroke="#404040" stroke-width="0.6"/><text x="369.9545454545455" y="296" font-size="6.3" text-anchor="middle" >1</text><line x1="369.9545454545455" y1="286.5" x2="369.9545454545455" y2="284.5" stroke="#404040" stroke-width="0.6"/><line x1="369.9545454545455" y1="171" x2="369.9545454545455" y2="173" stroke="#404040" stroke-width="0.6"/><text x="402.31818181818187" y="296" font-size="6.3" text-anchor="middle" >2</text><line x1="402.31818181818187" y1="286.5" x2="402.31818181818187" y2="284.5" stroke="#404040" stroke-width="0.6"/><line x1="402.31818181818187" y1="171" x2="402.31818181818187" y2="173" stroke="#404040" stroke-width="0.6"/><text x="236.5" y="173.4" font-size="6.4" text-anchor="end" >2</text><line x1="240.5" y1="171.0" x2="242.5" y2="171.0" stroke="#404040" stroke-width="0.6"/><line x1="418.5" y1="171.0" x2="416.5" y2="171.0" stroke="#404040" stroke-width="0.6"/><text x="236.5" y="196.5" font-size="6.4" text-anchor="end" >1</text><line x1="240.5" y1="194.1" x2="242.5" y2="194.1" stroke="#404040" stroke-width="0.6"/><line x1="418.5" y1="194.1" x2="416.5" y2="194.1" stroke="#404040" stroke-width="0.6"/><text x="236.5" y="219.6" font-size="6.4" text-anchor="end" >0</text><line x1="240.5" y1="217.2" x2="242.5" y2="217.2" stroke="#404040" stroke-width="0.6"/><line x1="418.5" y1="217.2" x2="416.5" y2="217.2" stroke="#404040" stroke-width="0.6"/><text x="236.5" y="242.70000000000002" font-size="6.4" text-anchor="end" >-1</text><line x1="240.5" y1="240.3" x2="242.5" y2="240.3" stroke="#404040" stroke-width="0.6"/><line x1="418.5" y1="240.3" x2="416.5" y2="240.3" stroke="#404040" stroke-width="0.6"/><text x="236.5" y="265.79999999999995" font-size="6.4" text-anchor="end" >-2</text><line x1="240.5" y1="263.4" x2="242.5" y2="263.4" stroke="#404040" stroke-width="0.6"/><line x1="418.5" y1="263.4" x2="416.5" y2="263.4" stroke="#404040" stroke-width="0.6"/><text x="236.5" y="288.9" font-size="6.4" text-anchor="end" >-3</text><line x1="240.5" y1="286.5" x2="242.5" y2="286.5" stroke="#404040" stroke-width="0.6"/><line x1="418.5" y1="286.5" x2="416.5" y2="286.5" stroke="#404040" stroke-width="0.6"/><text x="336.3" y="305" font-size="8" text-anchor="middle" >PC1 (35%)</text><text transform="translate(228.5,226.6) rotate(-90)" font-size="8" text-anchor="middle">PC2 (16%)</text><text x="472" y="164.3" font-size="9.3"><tspan font-weight="bold">D:</tspan> KEGG ortholog similarity</text><rect x="491" y="171" width="157" height="115.5" fill="none" stroke="#404040" stroke-width="0.8"/><text x="491.0" y="296" font-size="6.3" text-anchor="middle" >-20</text><line x1="491.0" y1="286.5" x2="491.0" y2="284.5" stroke="#404040" stroke-width="0.6"/><line x1="491.0" y1="171" x2="491.0" y2="173" stroke="#404040" stroke-width="0.6"/><text x="513.4285714285714" y="296" font-size="6.3" text-anchor="middle" >-15</text><line x1="513.4285714285714" y1="286.5" x2="513.4285714285714" y2="284.5" stroke="#404040" stroke-width="0.6"/><line x1="513.4285714285714" y1="171" x2="513.4285714285714" y2="173" stroke="#404040" stroke-width="0.6"/><text x="535.8571428571429" y="296" font-size="6.3" text-anchor="middle" >-10</text><line x1="535.8571428571429" y1="286.5" x2="535.8571428571429" y2="284.5" stroke="#404040" stroke-width="0.6"/><line x1="535.8571428571429" y1="171" x2="535.8571428571429" y2="173" stroke="#404040" stroke-width="0.6"/><text x="558.2857142857143" y="296" font-size="6.3" text-anchor="middle" >-5</text><line x1="558.2857142857143" y1="286.5" x2="558.2857142857143" y2="284.5" stroke="#404040" stroke-width="0.6"/><line x1="558.2857142857143" y1="171" x2="558.2857142857143" y2="173" stroke="#404040" stroke-width="0.6"/><text x="580.7142857142858" y="296" font-size="6.3" text-anchor="middle" >0</text><line x1="580.7142857142858" y1="286.5" x2="580.7142857142858" y2="284.5" stroke="#404040" stroke-width="0.6"/><line x1="580.7142857142858" y1="171" x2="580.7142857142858" y2="173" stroke="#404040" stroke-width="0.6"/><text x="603.1428571428571" y="296" font-size="6.3" text-anchor="middle" >5</text><line x1="603.1428571428571" y1="286.5" x2="603.1428571428571" y2="284.5" stroke="#404040" stroke-width="0.6"/><line x1="603.1428571428571" y1="171" x2="603.1428571428571" y2="173" stroke="#404040" stroke-width="0.6"/><text x="625.5714285714286" y="296" font-size="6.3" text-anchor="middle" >10</text><line x1="625.5714285714286" y1="286.5" x2="625.5714285714286" y2="284.5" stroke="#404040" stroke-width="0.6"/><line x1="625.5714285714286" y1="171" x2="625.5714285714286" y2="173" stroke="#404040" stroke-width="0.6"/><text x="648.0" y="296" font-size="6.3" text-anchor="middle" >15</text><line x1="648.0" y1="286.5" x2="648.0" y2="284.5" stroke="#404040" stroke-width="0.6"/><line x1="648.0" y1="171" x2="648.0" y2="173" stroke="#404040" stroke-width="0.6"/><text x="487.0" y="173.4" font-size="6.4" text-anchor="end" >15</text><line x1="491" y1="171.0" x2="493" y2="171.0" stroke="#404040" stroke-width="0.6"/><line x1="648" y1="171.0" x2="646" y2="171.0" stroke="#404040" stroke-width="0.6"/><text x="487.0" y="192.65" font-size="6.4" text-anchor="end" >10</text><line x1="491" y1="190.25" x2="493" y2="190.25" stroke="#404040" stroke-width="0.6"/><line x1="648" y1="190.25" x2="646" y2="190.25" stroke="#404040" stroke-width="0.6"/><text x="487.0" y="211.9" font-size="6.4" text-anchor="end" >5</text><line x1="491" y1="209.5" x2="493" y2="209.5" stroke="#404040" stroke-width="0.6"/><line x1="648" y1="209.5" x2="646" y2="209.5" stroke="#404040" stroke-width="0.6"/><text x="487.0" y="231.15" font-size="6.4" text-anchor="end" >0</text><line x1="491" y1="228.75" x2="493" y2="228.75" stroke="#404040" stroke-width="0.6"/><line x1="648" y1="228.75" x2="646" y2="228.75" stroke="#404040" stroke-width="0.6"/><text x="487.0" y="250.4" font-size="6.4" text-anchor="end" >-5</text><line x1="491" y1="248.0" x2="493" y2="248.0" stroke="#404040" stroke-width="0.6"/><line x1="648" y1="248.0" x2="646" y2="248.0" stroke="#404040" stroke-width="0.6"/><text x="487.0" y="269.65" font-size="6.4" text-anchor="end" >-10</text><line x1="491" y1="267.25" x2="493" y2="267.25" stroke="#404040" stroke-width="0.6"/><line x1="648" y1="267.25" x2="646" y2="267.25" stroke="#404040" stroke-width="0.6"/><text x="487.0" y="288.9" font-size="6.4" text-anchor="end" >-15</text><line x1="491" y1="286.5" x2="493" y2="286.5" stroke="#404040" stroke-width="0.6"/><line x1="648" y1="286.5" x2="646" y2="286.5" stroke="#404040" stroke-width="0.6"/><text x="571.4" y="305" font-size="8" text-anchor="middle" >PC1 (32%)</text><text transform="translate(476.9,226.6) rotate(-90)" font-size="8" text-anchor="middle">PC2 (11%)</text><rect x="422" y="171" width="12.5" height="115.5" fill="url(#jt)" stroke="#404040" stroke-width="0.6"/><text x="437" y="278.3" font-size="6.5" text-anchor="start" >2</text><line x1="434.5" y1="276.0" x2="433" y2="276.0" stroke="#333" stroke-width="0.6"/><text x="437" y="257.3" font-size="6.5" text-anchor="start" >4</text><line x1="434.5" y1="255.0" x2="433" y2="255.0" stroke="#333" stroke-width="0.6"/><text x="437" y="236.3" font-size="6.5" text-anchor="start" >6</text><line x1="434.5" y1="234.0" x2="433" y2="234.0" stroke="#333" stroke-width="0.6"/><text x="437" y="215.3" font-size="6.5" text-anchor="start" >8</text><line x1="434.5" y1="213.0" x2="433" y2="213.0" stroke="#333" stroke-width="0.6"/><text x="437" y="194.3" font-size="6.5" text-anchor="start" >10</text><line x1="434.5" y1="192.0" x2="433" y2="192.0" stroke="#333" stroke-width="0.6"/><text x="437" y="173.3" font-size="6.5" text-anchor="start" >12</text><line x1="434.5" y1="171.0" x2="433" y2="171.0" stroke="#333" stroke-width="0.6"/><text transform="translate(448.7,224.3) rotate(-90)" font-size="7.35" text-anchor="middle">Sample Month</text><rect x="652" y="171" width="12.5" height="115.5" fill="url(#jt)" stroke="#404040" stroke-width="0.6"/><text x="667" y="278.3" font-size="6.5" text-anchor="start" >2</text><line x1="664.5" y1="276.0" x2="663" y2="276.0" stroke="#333" stroke-width="0.6"/><text x="667" y="257.3" font-size="6.5" text-anchor="start" >4</text><line x1="664.5" y1="255.0" x2="663" y2="255.0" stroke="#333" stroke-width="0.6"/><text x="667" y="236.3" font-size="6.5" text-anchor="start" >6</text><line x1="664.5" y1="234.0" x2="663" y2="234.0" stroke="#333" stroke-width="0.6"/><text x="667" y="215.3" font-size="6.5" text-anchor="start" >8</text><line x1="664.5" y1="213.0" x2="663" y2="213.0" stroke="#333" stroke-width="0.6"/><text x="667" y="194.3" font-size="6.5" text-anchor="start" >10</text><line x1="664.5" y1="192.0" x2="663" y2="192.0" stroke="#333" stroke-width="0.6"/><text x="667" y="173.3" font-size="6.5" text-anchor="start" >12</text><line x1="664.5" y1="171.0" x2="663" y2="171.0" stroke="#333" stroke-width="0.6"/><text transform="translate(683.6,225.5) rotate(-90)" font-size="7.35" text-anchor="middle">Peak Month</text>
<g stroke-linecap="round" fill="none"><path d="M106 179.2h0M96.2 187.2h0M93.7 194h0M119.7 196h0M107.9 211.6h0M108.5 228h0M136 180.2h0M155.9 180.4h0M155.4 181.3h0M169.6 193.8h0M131.5 202.8h0M123.7 206.1h0M128.6 207.1h0M138.4 212.6h0M137 217.9h0M143.8 216.9h0M152.6 218.8h0M168.6 216.9h0M113.8 282.7h0M132.5 240.3h0" stroke="#fff300" stroke-width="2.4"/><path d="M97.8 185.2h0M45 196h0M70.4 192.1h0M110.9 193.4h0M113.4 196.4h0M118.3 199.9h0M97.2 202.2h0M107.9 225.3h0M50.9 227.6h0M138.8 185.6h0M139.9 188h0M143.3 189.1h0M157.3 188.6h0M168.6 195h0M149.1 199.7h0M126.1 201.6h0M146.2 205.2h0M138 208.7h0M162.4 208.7h0M143.3 212h0M88.8 235.8h0" stroke="#00f3ff" stroke-width="2.4"/><path d="M99.7 185.6h0M92.7 200.9h0M120.6 201.8h0M90.4 205.7h0M95.8 205.2h0M107.9 206.7h0M77.3 208.7h0M112.8 211.6h0M97.6 216.3h0M119.3 214.9h0M98.6 218.8h0M80 223.7h0M117.7 224.7h0M102.1 227.6h0M146.2 193.8h0M157.3 195.8h0M127.2 197.3h0M123.7 199.9h0M133.9 209.1h0M155.4 212h0M154.6 213.4h0M132.9 216.3h0M164.7 219.8h0M130.9 220.4h0M130.6 222.3h0M135 227.2h0M146.2 227h0M107.9 236.8h0M113.8 233.9h0M121 246h0M121 273.3h0M137.8 231.9h0M129.2 247.9h0M153 240.7h0M159.9 240.7h0M166.7 243.2h0M134.9 252.4h0M165.7 273.9h0" stroke="#0000dc" stroke-width="2.4"/><path d="M95.6 189.9h0M105 201.8h0M79 204.6h0M73.8 208.7h0M115.4 210.6h0M113.8 221.2h0M149.1 176.3h0M140.7 178.4h0M146.2 180.2h0M130.6 183.1h0M139.7 199.3h0M104 232.3h0" stroke="#aeff51" stroke-width="2.4"/><path d="M52.3 188.2h0M74.7 198.9h0M146.8 187.6h0M133.5 197h0M163.8 203.2h0M143.3 203.6h0M159.9 206.1h0M149.1 216.5h0M168.2 221.8h0M181.3 220.8h0M124.1 222.7h0M131.5 223.7h0M153.4 223.7h0M157.3 225.1h0M101.7 253.8h0M105 255.3h0M150.1 230.3h0M138 239.1h0M123.7 245.6h0M145.6 246.2h0M155.9 239.1h0M163.2 244h0M130.6 253h0M153.6 256.9h0M157.9 251h0M126.1 262.8h0M143.8 270h0M143.6 271.9h0M133.5 275.3h0" stroke="#ff3a00" stroke-width="2.4"/><path d="M110.3 188.6h0M91.3 201.3h0M81.6 213.4h0M118.3 228.6h0M170 182.1h0M157.9 193h0M160.4 191.9h0M163.2 197.3h0M184.3 197.7h0M132.5 197.7h0M150.1 206.1h0M140.3 210h0M182.3 216.9h0M196 217.9h0M150.1 221.8h0M129.6 225.3h0M113.4 258.9h0M115.8 267.1h0M144.2 232.3h0M155.4 234.3h0M136.8 242.6h0M124.7 247.5h0M137.8 260.2h0" stroke="#dc0000" stroke-width="2.4"/><path d="M118.7 188.9h0M69.9 201.6h0M120.6 216.5h0M104 217.5h0M154 195h0M172 195.4h0M175.5 198.3h0M179 200.7h0M139.3 195.4h0M158.9 201.3h0M125.7 215.9h0M148.3 218.4h0M160.8 217.3h0M142.3 223.1h0M119.1 243.2h0M163.2 242.1h0M176.8 239.3h0M175.9 246h0M148.7 255h0" stroke="#ff9700" stroke-width="2.4"/><path d="M86.8 194.8h0M89.2 196h0M108.9 203.6h0M117.7 208.3h0M88 208.7h0M97.2 210h0M60.5 217.9h0M84.1 218.8h0M99.7 221.2h0M67.9 223.7h0M141.3 182.1h0M134.9 189.5h0M130 198.3h0M125.7 197.3h0M135.4 202.2h0M132.1 213.4h0M34.1 247.5h0M98.2 242.6h0" stroke="#0097ff" stroke-width="2.4"/><path d="M109.5 197h0M116.7 199.3h0M84.1 207.1h0M105 205.7h0M95.8 215.3h0M70.4 220.2h0M73.2 219.8h0M119.1 226.1h0M162.4 178.8h0M141.7 188.9h0M149.1 194.4h0M129 194h0M140.9 198.3h0M129.2 217.9h0M98.2 258.9h0" stroke="#51ffae" stroke-width="2.4"/><path d="M93.3 205.4h0M66.9 210h0M119.7 221.8h0M89.4 226.1h0M73.8 229.2h0M155 205.2h0M145.2 221.8h0M167.1 225.7h0M131.5 226.6h0M149.1 228h0M85.5 248.3h0M95.2 274.5h0" stroke="#000080" stroke-width="2.4"/><path d="M108.3 207.7h0M121.2 222.3h0M79 225.7h0M125.7 221.8h0" stroke="#003aff" stroke-width="2.4"/><path d="M157.3 208.7h0M146.8 211.4h0M146.2 215.9h0M166.7 214.5h0M141.3 228h0M139.3 228.6h0M110.3 237.4h0M118.1 277.4h0M122.7 231.3h0M138.4 230.3h0M150.7 234.3h0M172.5 230.5h0M125.3 238.2h0M129.2 237.8h0M168.6 239.1h0M183.3 249.5h0M125.3 254h0M144.2 254.4h0M136.4 259.3h0M156.9 270h0" stroke="#800000" stroke-width="2.4"/><path d="M299 182.1h0M298.6 190.5h0M302.5 197.9h0M321.6 193.4h0M318.1 213.9h0M346.1 179.2h0M333.2 182.1h0M344.5 182.1h0M353.9 183.7h0M339.1 194.4h0M329.9 197h0M368.9 197.3h0M340.6 200.3h0M344.5 199.7h0M353.3 205.7h0M351.8 211h0M357.2 211.4h0M379.7 211.4h0M335.7 217.9h0M362.1 213.4h0M319.1 233.9h0M349.4 245.6h0" stroke="#fff300" stroke-width="2.4"/><path d="M288.8 189.5h0M309.3 196.4h0M315.2 199.7h0M320.1 198.9h0M242.9 204.2h0M264 203.6h0M298 205.7h0M325.4 206.1h0M327.9 206.1h0M310.7 219.8h0M328.3 222.1h0M342.2 184.6h0M342.6 187.2h0M339.1 191.1h0M348 189.5h0M345.5 191.9h0M360.2 189.9h0M371.9 191.9h0M344.5 195.4h0M347.5 202.8h0M350 203.6h0M356.3 205.2h0M370.9 205.2h0M300.5 234.3h0M248.8 245h0" stroke="#00f3ff" stroke-width="2.4"/><path d="M305 188.6h0M266.4 220.2h0M289.8 228h0M360.5 216.5h0M369.5 216.9h0M256 244.6h0M275.2 257.7h0M324.4 271.9h0" stroke="#000080" stroke-width="2.4"/><path d="M306.8 191.5h0M291.4 205.2h0M291.8 222.1h0M326.9 225.7h0M373.8 179.8h0M349.4 190.5h0M362.5 188.9h0M333.2 197.7h0M369.9 196.4h0M396.3 196.4h0M364.1 201.6h0M393 218.8h0M415.2 214.9h0M356.3 234.3h0M350.4 241.3h0M339.6 246h0M364.1 247.9h0M380.7 236.2h0M385.5 237.8h0M332.4 259.8h0" stroke="#dc0000" stroke-width="2.4"/><path d="M254.6 195h0M278.7 205.2h0M359.2 191.9h0M354.7 195.4h0M342.6 196.8h0M374.8 200.9h0M341.6 207.1h0M368.9 212h0M370.9 211h0M346.9 217.9h0M349.4 221.2h0M369.9 221.2h0M376.2 220.8h0M398.8 216.9h0M358.2 222.7h0M379.7 223.7h0M324.4 256.7h0M319.7 262.8h0M356.3 236.2h0M367 233.9h0M341.6 240.7h0M348.8 251h0M381.6 245.6h0M362.1 255.9h0M372.5 256.9h0M340.2 266.7h0M372.9 271h0M375.8 275.5h0M356.3 274.9h0" stroke="#ff3a00" stroke-width="2.4"/><path d="M294.7 197.7h0M324 198.9h0M283.4 204.2h0M292.3 204.8h0M306.4 205.5h0M299.6 215.3h0M304.5 211h0M317.7 211.6h0M328.3 213.9h0M306.4 222.1h0M293.7 228.6h0M312.7 228.6h0M334.8 183.3h0M332.8 190.5h0M332.8 204.8h0M337.7 208.7h0M333.8 212h0M268.3 233.5h0M272.2 233.9h0M321.1 233.3h0M297.6 247.9h0" stroke="#0097ff" stroke-width="2.4"/><path d="M316.2 197.3h0M285.9 213h0M315.2 212.6h0M302.9 217.3h0M280 221.2h0M362.7 179.8h0M339.6 189.1h0M346.5 188.9h0M346.1 212.6h0M341.6 212.6h0M274.8 231.5h0M297.6 272.5h0" stroke="#51ffae" stroke-width="2.4"/><path d="M320.1 195h0M314.2 202.8h0M293.1 211h0M295.1 211.6h0M308.4 210.4h0M310.3 214.9h0M312.7 216.5h0M284.9 217.3h0M324 222.7h0M328.9 217.9h0M296.6 229.2h0M333.8 191.5h0M349.4 195h0M346.1 196.8h0M365.6 198.3h0M369.5 201.6h0M377.7 204.2h0M366.4 206.5h0M335.7 206.1h0M328.9 209.5h0M331.8 213h0M332.8 219.8h0M333.8 221.2h0M366.4 219.8h0M383.6 224.7h0M335.7 223.7h0M340.6 227.2h0M346.5 224.3h0M332.8 228.6h0M360.2 228.6h0M366.4 228.6h0M328.9 233.9h0M322 240.1h0M332.8 230.3h0M348.8 232.9h0M366.6 230.3h0M343 236.8h0M335.7 243.2h0M358.2 245h0M376.2 237.4h0M392.4 233.9h0M345.5 269.4h0M383.6 273.5h0" stroke="#0000dc" stroke-width="2.4"/><path d="M275.7 211h0M311.3 222.7h0M363.1 194.4h0M379.3 193h0M385.9 196.4h0M397.3 193.8h0M363.7 204.8h0M372.9 212h0M339.6 211.4h0M333.8 215.9h0M373.8 216.9h0M336.3 242.1h0M383.2 236.8h0M399.2 234.3h0M397.3 240.1h0M375.4 249.5h0" stroke="#ff9700" stroke-width="2.4"/><path d="M279.1 212h0M281.4 213.9h0M325.5 210h0M331.3 174.9h0M349 176.3h0M334.4 180.2h0M340.6 180.2h0M330.9 199.3h0M341.6 202.2h0M352.3 208.1h0M308.8 234.3h0" stroke="#aeff51" stroke-width="2.4"/><path d="M371.5 197.3h0M362.1 208.1h0M366 210h0M383 212.6h0M357.2 215.3h0M356.3 219.8h0M393 225.1h0M337.7 225.7h0M338.7 226.6h0M325.9 230.9h0M343.9 233.5h0M364.1 234.8h0M341 237.4h0M343.9 238.7h0M343 247.9h0M390.8 236.8h0M403.1 242.1h0M356.3 253.8h0M347.1 259.3h0M373.4 266.1h0M339.1 277.2h0" stroke="#800000" stroke-width="2.4"/><path d="M270.9 236.4h0M287.9 237.4h0" stroke="#003aff" stroke-width="2.4"/><path d="M553.1 224.1h0M605 245.1h0M604.9 225.4h0M613.6 216.6h0M597.7 203.5h0M577.1 238.7h0M606.3 256.3h0M584 240.7h0M573.6 204.6h0M570.6 204.7h0M610.7 211.2h0M562 236.1h0M605.7 243.6h0M626.2 256.2h0M553.8 206.2h0M611.3 224.9h0M608.4 230.5h0M639.4 214.1h0M636.4 239.2h0M545.4 232.9h0M554.9 201.7h0M608.2 213.7h0M598.9 266.9h0M630.7 252.9h0M619.2 235.2h0M623.2 250.5h0M574.2 238.3h0M622.7 231.1h0M569.9 248h0M607.7 260.9h0M576.2 245.7h0M613.4 215.5h0M638.6 233.6h0M639.8 241.5h0M591.1 238.8h0M582.9 197.3h0M585.5 195.8h0M577.8 240.9h0M599.3 258.5h0M585.8 203.5h0M630.2 230.1h0M593.7 223h0M607.9 244.9h0M563.3 238.9h0M621.9 250.3h0M586.9 222.9h0M627 219.9h0M604.8 249.1h0M614.8 255h0M591.4 224.1h0" stroke="#00f3ff" stroke-width="2.2"/><path d="M541 252h0M552.3 228h0M535.3 246.2h0M524.5 240.1h0M534.9 241.1h0M541.5 254.9h0M528 241.9h0M571.1 243.4h0M554.6 255.2h0M574.7 228.2h0M529.3 243.7h0M532.2 251.1h0M554.3 245.7h0M579.2 238.4h0M515.8 240.5h0M530 222.8h0M521.1 241.4h0M568.8 230h0M536 242.2h0M537.8 261.9h0M541.2 259h0M540.6 243.9h0M566.7 253.3h0" stroke="#ff8000" stroke-width="2.2"/><path d="M522 221.3h0M534.4 219.1h0M555 201.6h0M560.8 196.5h0M569.6 213h0M527.2 207.3h0M518 214.7h0M532.3 208.5h0M543.2 217.5h0M535 204.6h0M560 216.2h0M561.1 199.5h0M554.8 187.7h0M538 201.3h0M522.6 226.8h0M542.3 188.5h0M543.4 224.8h0M553.8 214.8h0M556.4 204h0M545.6 189.6h0M548.4 192.8h0M556.9 196.8h0M520.6 208h0M564.9 214.3h0M514.7 217.3h0M536.2 204h0M527.3 208.3h0M563.4 181.6h0M545.8 192.4h0M522 216.7h0M531.9 207.6h0M511.7 227.4h0M554.5 205.1h0M602.2 181.1h0M517.2 221.2h0M542.1 200.3h0M541.7 217.1h0M562.8 185.6h0M534.1 192h0M538.3 189.8h0M554.4 206.6h0M535 219.4h0M533 196.1h0M518.4 204.3h0M557.4 197.1h0M517.5 216.7h0M526.4 217.4h0M562.8 204.6h0M547.1 189.3h0M534.4 224.1h0M555.5 189.8h0M534.2 214.5h0M567.4 211.5h0M518.6 221.4h0M539.2 212.9h0M525.8 204.4h0M531.7 200.4h0M570.7 183.7h0M562.6 190.8h0M515.6 215.7h0M536.1 207.2h0M549.3 208.4h0M514.2 219.7h0M533.1 227h0M526.5 199.7h0M543.9 188.2h0M547.3 203h0M556.3 189.9h0M518.3 203.2h0M533.4 197.1h0M568.5 201.1h0M523.6 206.6h0M558.7 195.2h0M566 211.2h0M568.4 224.6h0M533.7 205.7h0M560.8 222.8h0M527 197.8h0M542.6 187.9h0M552.1 214.7h0M522.6 218.2h0M535.9 205.8h0M529.6 226.1h0" stroke="#f30000" stroke-width="2.2"/><path d="M596.5 270.1h0M579 267.3h0M612.9 263.5h0M597.7 249.5h0M583.6 265.5h0M605.1 266.7h0M619.6 230.3h0M624.9 227.5h0M594.9 246.7h0M598.5 265h0M618.9 257h0M604 247.3h0M601.8 256.7h0M617.4 248.3h0M565.8 257.6h0M616.3 233.4h0M549.8 255.9h0M606.3 264.1h0M580.5 232.6h0M624.7 232h0M620.6 257.5h0M578.4 268.5h0M614.6 240.6h0M609.6 252h0M620 258.2h0M598.9 263h0" stroke="#68ff97" stroke-width="2.2"/><path d="M543.6 209.9h0M535 224.4h0M554.1 193.8h0M557 232.2h0M572 186h0M548.1 248.2h0M543.6 201.1h0M518.9 209.2h0M514.9 230.7h0M514.1 231.8h0M548.8 200.7h0M534.1 242.5h0M601.7 184.9h0M519.8 233.3h0M534.7 226.2h0M583 203.7h0M537.9 222.9h0M557.2 237.6h0M514.5 236.5h0M568.5 191.4h0M515.2 227.5h0M516.9 237.2h0M546 225.2h0M581.6 185.5h0M525.1 244.3h0M542.1 233.1h0M538.7 196h0M535.2 199.1h0M560.5 185.3h0M525.1 230.7h0M556.7 187.9h0M545.7 202h0M514 210.8h0M537.3 233h0M518.1 211.5h0M536.3 224.3h0M552.6 206.2h0M539.6 210.8h0M516.1 232.3h0M516.1 234.5h0M524.1 221.8h0M515.3 230.4h0M555.1 217.3h0M606.6 187.7h0M518.9 224.3h0M560.4 225.3h0" stroke="#ff2300" stroke-width="2.2"/><path d="M553.6 227.6h0M587.4 193.5h0M529.9 253h0M539.1 259.1h0M549.7 255.1h0M569.3 247.2h0M541.2 233.3h0M520.2 233.4h0M540.1 248.7h0M545.5 224.8h0M521.3 250.3h0M539.8 237.6h0M573.3 250h0M532.9 253.1h0M555.5 249.7h0M533.6 256.1h0M574.9 265.5h0M517.2 245.5h0M529.8 241.3h0M529.3 250.6h0M529.5 246.6h0M541.1 263.2h0M524.6 254.1h0M540.1 253.4h0" stroke="#ff9700" stroke-width="2.2"/><path d="M604.2 249.5h0M590.7 269.1h0M578.2 267.3h0M614.8 238.5h0M610.5 241.2h0M599.4 253.1h0M608.7 246.4h0M598.3 268.5h0M585.7 269.7h0M586.6 270.8h0M596.7 256h0M608.2 248.4h0M589.3 271.6h0M611 258.2h0M626.4 231.1h0M610.1 246.3h0M590.1 258.1h0M579.4 266.6h0M577.3 248.8h0M599.9 249.5h0" stroke="#97ff68" stroke-width="2.2"/><path d="M547.3 258.3h0M537.3 247h0M527.2 242.4h0M522.8 240.6h0M557.4 266.9h0M582.4 253.6h0M541.6 247.9h0M532.1 251h0M542.4 255.9h0M541.6 250.9h0M584.3 207.5h0M542.6 250h0M530.4 246.4h0M524.7 246h0M568.3 231h0M559.8 259.9h0M527.2 253h0M537.2 255.5h0M531.7 235.5h0" stroke="#ffae00" stroke-width="2.2"/><path d="M511.8 236.1h0M516.6 233.3h0M515.9 238.9h0M580.4 186.9h0M519.2 231.5h0M523.8 239.8h0M581.8 208.8h0M526.5 227.9h0M527.2 243.3h0M535.5 226h0M548.8 226.6h0M532.8 233.7h0M527.1 229.3h0M514.7 242.3h0M525.6 225.1h0M538.1 218.7h0M514.6 218.1h0M561.2 200.8h0M519.7 230.1h0M549.3 251.1h0M529.4 208.9h0M534.4 239.3h0M515 225.5h0M532.5 225.2h0M519.1 226.3h0M529.8 231.8h0" stroke="#ff3a00" stroke-width="2.2"/><path d="M562 248.6h0M581.3 216.5h0M563 231.1h0M544.5 198.7h0M538.2 194h0M554.7 204.6h0M540.6 210.4h0M559.1 190.5h0M513.6 210.1h0M572.3 222.6h0M567.1 201.2h0M551.7 218.6h0M535.8 205.5h0M547.9 200.7h0M605.3 206.8h0M579.1 176.5h0M536.3 193.5h0M565.4 215.4h0M607.9 227.6h0M565.9 186.4h0M546.4 190.7h0M541.1 198.4h0M522.3 206.4h0M529.4 217.2h0M526.5 212.7h0M561.6 196.8h0M529.4 202.6h0M572.8 216.9h0M550.9 186.1h0M515.5 208.4h0M511.8 220.1h0M536 214.4h0M598.1 240.3h0M526.9 198.5h0M539.5 212.9h0M567.2 227.4h0M561.1 199.8h0M554 196h0M533.6 204.2h0M519.5 215.1h0M600.7 230.6h0M607.2 230.5h0M518.3 211.3h0M542 195.3h0M570.1 237.3h0M544.4 214.9h0M596.7 179.7h0M600.7 209.4h0M559.3 229.2h0M547.8 234.7h0M547.9 187.9h0M545.5 183.9h0M551 232.4h0M548.5 190h0M524.2 213h0M554.6 183.1h0M572.4 184.3h0M568.3 240.8h0M556.9 186.7h0M540.7 185.9h0M544.8 186.3h0M556 204.3h0M517.7 206.1h0M555.8 202.1h0M576.8 202.9h0M616.2 222.1h0M554.3 207.3h0M521.6 222.9h0M583.5 242.3h0M529.7 196.1h0M556.9 198.5h0M529.2 202.1h0M613.6 237h0M531.9 200.3h0M544.3 232.9h0M546.7 227.7h0M537.7 205.7h0M541.8 186.7h0M545.4 186.8h0M520.5 206.3h0M534 207.8h0M525.8 233.3h0M564.8 177.6h0M563.4 182h0M524.3 200.8h0M542.6 198.1h0M526.8 205.6h0M530.2 207.7h0M528.5 204h0M535.4 192.7h0M591 247.2h0M542.1 213.8h0M605.4 225.7h0M565.7 179.1h0M559.1 193.9h0" stroke="#dc0000" stroke-width="2.2"/><path d="M606.3 196.8h0M601 221.2h0M602.6 199.3h0M599.3 181.8h0M565.5 177.8h0M593 187.6h0M628.6 200.6h0M633.6 202.8h0M591.4 182h0M575.6 177.2h0M613.6 201.1h0M623.5 202.5h0M567.4 185h0M608.2 193.5h0M612.3 209.6h0M597.3 191.1h0M617 202.4h0M629.6 204.4h0M616.5 196.2h0" stroke="#0000dc" stroke-width="2.2"/><path d="M541 235.1h0M580.9 261.6h0M522.7 240.6h0M538.2 245.1h0M575.1 225.5h0M581.3 243.5h0M561.1 252.2h0M573.3 233.7h0M580 209.6h0M567 205.5h0M597.8 244.4h0M585 230.3h0M521.1 246.7h0M597.9 207.6h0M545.3 239.1h0M590 247.3h0M591.1 226.3h0M552.1 235.8h0M579.2 233.9h0M561.7 228.1h0M610.7 230.4h0M540.7 260h0M555.7 240.1h0M545.2 208.6h0M571 228.5h0M562.2 267.3h0M546.4 208.1h0M600.7 246.6h0M535.2 248.2h0M549.8 218.3h0M595.8 209.4h0M526.8 249.7h0M543.3 211.1h0M583.5 261.9h0M557.1 216.8h0M559.5 261.8h0M607.2 236.9h0M558.3 223.3h0M616.8 230.5h0M541.7 218.7h0M549.2 213.3h0M595.5 226.9h0M568.2 263.9h0M535.8 236.1h0M538.8 258.5h0M594.3 218.1h0M577.2 251.2h0M554.4 256.6h0M531.4 232.1h0M565.5 203.8h0M571 262.3h0M582.3 210h0M545.6 252.2h0M594 229.2h0M593.6 213.3h0M518.7 246.8h0M576.1 241.4h0M538.5 227.7h0" stroke="#ffc500" stroke-width="2.2"/><path d="M551 195.5h0M559 211.8h0M542.1 212.4h0M524.6 221.4h0M546.8 201.8h0M536.7 203.4h0M549.6 185.6h0M519.3 209.1h0M519.7 203.8h0M554.1 201h0M524.4 214.1h0M533.4 218.8h0M515.1 210.4h0M542 219.1h0M519.3 216.5h0M530.3 241.8h0M549.5 209.2h0M516 218.2h0M530.9 200.8h0M542.3 202.2h0M534.3 219.7h0M533.7 215.2h0M564.5 215h0M544.8 215.8h0M559.4 216.1h0M573 207.7h0M548.3 190.6h0M533.7 224.2h0M515.9 209.2h0M526.5 211.2h0M524.7 211.3h0M525 233.1h0M516.8 225h0M530.7 218.9h0M536.9 225.5h0M544.1 201.4h0M521.4 212.6h0M518.5 208.1h0M514.3 216.5h0M530.1 204.8h0M536.8 218.1h0M576.3 176.1h0M532.9 202.6h0M524.3 217.8h0M567.9 178.4h0M537.3 208.9h0M538.8 196.3h0M523.1 215.6h0M540.5 188h0M521.4 201.6h0M538.4 205.4h0M548.6 224.4h0M513.4 219.7h0M512.5 213.6h0M519.2 228.2h0M547.3 202h0M533.8 205h0M527 221.5h0M533.2 194.7h0M556.2 209.5h0M513 212.3h0M516 209.4h0M514.7 209.6h0" stroke="#ff0c00" stroke-width="2.2"/><path d="M581.2 178.2h0M609 197.6h0M606.2 181.6h0M586.8 177.4h0M597.7 184.8h0M631.7 196h0M581.7 180.8h0M562.3 182.8h0M600.4 194.1h0M561.5 179.8h0M581.2 183.6h0M603.7 185.2h0M587.2 185.4h0M600.9 207.9h0M609.7 197.5h0M607.8 181.6h0M627.4 209.4h0M608.2 182h0M599.5 204.6h0M592.5 187.7h0M602.6 187.4h0M574.3 195.1h0M624 205.5h0M630.7 193.8h0M616.1 194.1h0" stroke="#0000c5" stroke-width="2.2"/><path d="M578.4 242.4h0M594.4 251.1h0M538.6 252.3h0M527.8 236.5h0M580.9 267.8h0M556.8 238h0M585.7 238.8h0M536.1 249.5h0M572.8 262h0M572.3 262.7h0M593.7 263.9h0M580.3 262.6h0M562.2 258.7h0M537.3 250.5h0M548.7 258.1h0M546.4 263.6h0M569.4 255.8h0M534.2 251.9h0" stroke="#f3ff0c" stroke-width="2.2"/><path d="M606.6 256.6h0M607 233.5h0M548.9 253.3h0M561 259.1h0M575.1 262.2h0M588.4 267.2h0M596.1 257.4h0M575.4 261.5h0M614.7 219.1h0M596.5 264.2h0M555.5 263.1h0M586.1 269.3h0M577.4 265.3h0M598 267h0M551.6 264.4h0M559.6 261.9h0M596.6 258.5h0M599.2 265.7h0M570 271.5h0M578.3 265.1h0M560 257.5h0M596.5 270.2h0M585.1 231.2h0M616.1 269.5h0M616.4 267.8h0M610.5 271.5h0M614.2 267.8h0M615 267.2h0M617.4 266.3h0M611.3 268.1h0M612.3 266.4h0M615.3 269.4h0M613 269.4h0M611.6 270h0M611.3 266.7h0M612.4 268.1h0M613.9 269.5h0M617.7 266.3h0M608.4 268.9h0M616.6 270.1h0M612.6 268.1h0M612.1 271.4h0M612.4 269h0M609.5 270h0M612.6 268.1h0" stroke="#aeff51" stroke-width="2.2"/><path d="M583.6 261.7h0M584.8 262.3h0M595 264.4h0M585.1 272h0M545.9 253.9h0M591.1 247.5h0M559.3 265.4h0M564.2 265.3h0M578.3 253.5h0M547.7 267.5h0M561.1 258.7h0M556.7 243.4h0M584.3 260.7h0M541.6 263.8h0M556.5 262.3h0M580.2 268.8h0M556.5 263.1h0M546.3 261.5h0M571.3 271.1h0M570.7 265.2h0M610 246h0M542.4 237.6h0M570.6 270.1h0M593.4 269.8h0M567.8 259.9h0M572.9 257.1h0M550.6 266.3h0M587.6 267.5h0M587.4 262.8h0M591 266.2h0M580.1 248.9h0M570.9 271.5h0M577.4 262.5h0" stroke="#dcff23" stroke-width="2.2"/><path d="M597.3 232.5h0M612.5 229h0M635.7 218h0M639 223.6h0M627.7 213.1h0M616.8 252.9h0M637.4 239.2h0M624.4 216.2h0M630.6 218.7h0M616.8 212h0M630.8 227.7h0M637.2 233.6h0M645.1 228.3h0M620.2 226.4h0M623.9 224.5h0M634 220.1h0M619.8 222.4h0M591.5 249.3h0M601.7 249.7h0M631.5 241.2h0M631.6 216.3h0M639.2 216.2h0M635.7 223h0M642.5 220.2h0M609.3 212.1h0" stroke="#00aeff" stroke-width="2.2"/><path d="M629.5 240.5h0M612.3 240h0M594.2 263.3h0M611 246.8h0M571.1 248h0M636.7 246.2h0M642.3 228.9h0M594.3 251.5h0M626.3 248.8h0M623.4 254h0M601 231.9h0M636.5 229.6h0M609.8 243.6h0M613 264.9h0M625.8 235.3h0M622.2 227.5h0M626.9 245.4h0M602.9 258h0M606.8 252.4h0M594.6 229.1h0M618 257.7h0M632.9 250.2h0M584.2 230.8h0M624.8 236.6h0M600.5 259.7h0" stroke="#23ffdc" stroke-width="2.2"/><path d="M581.5 180.6h0M596.2 185.5h0M603.4 185.3h0M612.5 191.8h0M578.4 204.3h0M552.1 184.1h0M555.3 193h0M553.3 187.1h0M623.1 197.6h0M557.1 193.5h0M581.2 190.4h0M585.2 189.9h0M618.5 192.5h0M600.4 181.3h0M615.5 207.7h0M586.5 188.7h0M606 181.2h0M575.3 203h0M583.4 181.1h0M596.4 200.6h0M555.1 186.4h0M582.7 184.7h0M570 199.6h0M588.8 178.1h0M604.2 184.9h0" stroke="#000097" stroke-width="2.2"/><path d="M562.9 264.2h0M534.9 258.1h0M603.3 204h0M535.3 259.9h0M603.5 206.7h0M559.8 228.2h0M561.7 212.8h0M553.7 254.8h0M522 249.6h0M582.4 250.1h0M537.4 222.9h0M564.1 204.3h0M566.6 250.9h0M608.4 211.1h0M606.2 241.6h0M563.2 224.9h0M560 235.1h0M547.6 262h0M583.5 261.1h0M599.3 245.7h0M583 195.8h0M545.6 255.5h0M566.8 268.8h0M556.1 261.6h0M598.7 244.6h0M544.8 225.5h0M540.3 227.3h0M541.4 236.6h0M614.2 214.4h0M595.1 257.2h0M541.3 226.1h0M538.9 233.4h0M553 239.6h0M587 234h0M585.7 224.4h0M542.2 256.1h0M594.6 228.2h0M553.6 247.7h0M561.7 268.8h0M548.6 243.2h0M564.9 271.4h0M558.9 268.8h0M540 248.2h0M528.5 248.7h0" stroke="#fff300" stroke-width="2.2"/><path d="M575.6 183.9h0M590.8 195h0M609.6 205.2h0M562.5 181.9h0M599.7 200.1h0M578.3 182.9h0M574.3 182.2h0M596.7 192.2h0M614.6 192.7h0M582.7 195.4h0M586.2 206.5h0M595.4 195.5h0M600.2 197.7h0M551.6 191.7h0M601.8 198.2h0M591.9 196.5h0M604.4 210.3h0M591.7 187.7h0M594.4 182.8h0M615.8 187.2h0M568.1 214.2h0M611.4 189.3h0M603.7 210.2h0M599.2 195.3h0M616.6 210.8h0M609.8 185.3h0M566.5 188.8h0M610.3 187h0M606.1 206.5h0M610.7 185.7h0M609.3 187.9h0M548.2 193.9h0M603.8 187.3h0M604.8 195.4h0M566.4 201h0M572.8 176.7h0M601.1 197.5h0M597.9 193h0M554.3 193.2h0M572.9 194.5h0M615.4 189.2h0M582 181.6h0M600.5 218.1h0M594.2 204.5h0M598.9 196.5h0M588.8 191.7h0M620 196.6h0M596.8 178.1h0M585.6 190.3h0M608.6 184.9h0M593.5 200.4h0M613.9 192.5h0M605.5 180.4h0M595.5 209h0M608.2 198.4h0M604.5 187.4h0M581.2 203.3h0M607.6 213h0M578.7 189.1h0M556.6 188.4h0M584.1 188.7h0M573.6 185.5h0M577.2 193h0M600.1 202.4h0M596.5 227.8h0M568.4 182.4h0" stroke="#000080" stroke-width="2.2"/><path d="M604.1 198.6h0M634.3 212.8h0M620.8 217.5h0M619.3 204.6h0M584.6 202.2h0M635.1 208h0M634.8 206.9h0M620 198.9h0M621.1 194.2h0M590.2 223h0M639.1 207.7h0M626 198.8h0M636.3 213.5h0M640.9 210.1h0M618.5 204.9h0M622.2 212.6h0M612.5 197.9h0M617.8 204.6h0M623.6 194.9h0M586.2 233.4h0M627.8 194.9h0" stroke="#0023ff" stroke-width="2.2"/><path d="M636.3 246.9h0M614.1 261.2h0M595.7 262.1h0M575.8 232.2h0M598.8 253.3h0M625.6 235.6h0M634.7 250.1h0M617 252.2h0M603 254h0M603.2 266.4h0M617.5 223.9h0M602.8 256.6h0M597.6 254.3h0M604.7 259.3h0M607.2 238.5h0M622.5 248.7h0M548.2 244.5h0M591.3 253.8h0M588.1 265.3h0M592.8 256.4h0M624.7 242.7h0M622.5 259h0M623.4 245.1h0M626.8 226.1h0M606.3 261.3h0M596.3 233.1h0M597.3 264.2h0M626.1 239.9h0M601.4 266.4h0" stroke="#3affc5" stroke-width="2.2"/><path d="M621.2 239h0M642.9 211.8h0M615.8 237.5h0M628.6 203h0M620.9 202.6h0M603.5 215.4h0M597.3 199.3h0M621.7 204.8h0M622.5 226.9h0M634.4 220.3h0M590.5 191.6h0M631.5 219.1h0M641.4 223.6h0M616.8 194.4h0M625.6 210.4h0M632.4 213.7h0M619.1 212.5h0M576.7 187.3h0M606.6 224.3h0M637.7 209.9h0M604 198.9h0" stroke="#0051ff" stroke-width="2.2"/><path d="M574.7 194.2h0M576.4 193.2h0M531.8 198.3h0M596.5 199.8h0M537.1 217.9h0M549.6 216.7h0M562.4 227h0M568.8 177.1h0M541.1 198.1h0M537.7 199.2h0M541.5 209.2h0M561.5 230.1h0M534 214.6h0M583.8 190.7h0M557.4 201.2h0M530.3 230.3h0M572.4 210.5h0M565.5 184.1h0M593.1 178.2h0M599.7 194.7h0M546.6 204.4h0M558.6 200h0M589.8 177.5h0M569 205h0M568.8 210.6h0M608.8 190.7h0M569.6 215h0" stroke="#ae0000" stroke-width="2.2"/><path d="M639.6 214.9h0M563.6 199.3h0M626 213.9h0M597.8 231.9h0M564 202.6h0M568.6 211.5h0M600.4 232.1h0M615.3 233h0M557 239.4h0M629.6 233h0M551.2 228h0M588.3 214h0M600.6 244.4h0M632.2 221.1h0M589.7 242.4h0M609.4 219h0M630.2 234.9h0M642.3 231.2h0M557 210.4h0M604.1 227.8h0M618.7 226.6h0M587.9 205.4h0M639.4 225.9h0M588.5 248.7h0M570.9 207.3h0M641.2 214h0M570 197.7h0M627.1 215.4h0M632.9 226.1h0M601.5 215.9h0M625.5 220.4h0M602 227.9h0M603.7 206.3h0M600.1 228.7h0M604.5 209.3h0M642.2 233.1h0M625.3 231.4h0M605.8 208.4h0M567.5 213h0M560.6 222.6h0M551.8 225.5h0M637.7 210h0M583.5 246.6h0M635.2 239.2h0M542.8 215.3h0M562.9 238.6h0M639.3 223.5h0M644.4 222.5h0M568.4 240.5h0M547.1 208.4h0" stroke="#0097ff" stroke-width="2.2"/><path d="M602.6 216.6h0M550.1 242.5h0M590.8 207.7h0M590.2 268.4h0M608.8 244.6h0M591.4 231.6h0M624.7 243.4h0M589.2 221.1h0M603.7 205.1h0M614.3 256.7h0M551.6 216.6h0M572.9 241.1h0M585.3 244.8h0M605.8 263.3h0M604.9 220h0M606.3 246.8h0M579.2 205.7h0M614 253.4h0M592.9 267.3h0M598.7 260.6h0M602.3 250.3h0M561.3 244.8h0M542.4 238.6h0M614.7 257h0M582 262.1h0M566.7 211.7h0M551.2 228.5h0M555 232.7h0M595.8 227.1h0M623.9 227.1h0M562.3 266.2h0M605.9 259.4h0M547.8 229h0M616.3 238.7h0M582.5 244.3h0M549.9 233.2h0M553.7 202.3h0M601.7 260.2h0M609.2 209.5h0M554.4 219.2h0M587.5 270.6h0M609.4 223.5h0M555 211.9h0M565.7 256.3h0M578.1 231.8h0M611.2 256.9h0M603.5 237.8h0M559.3 229.2h0M607.6 228.6h0M602.3 226.4h0M565.4 221.3h0M615.9 260h0M626.6 249.7h0M633.3 244.5h0" stroke="#51ffae" stroke-width="2.2"/><path d="M637.3 206h0M621.6 226.3h0M627 238.9h0M614.8 242.9h0M632.6 211.5h0M609.5 217h0M601.5 226h0M636.8 215.5h0M595.8 239.8h0M627.7 209.8h0M633.8 247.5h0M640.3 240.5h0M623 216.2h0M637.2 210.6h0M630.2 209h0M634.2 219.2h0M642.4 213h0M633.3 239.6h0M621.8 218.6h0M598.9 237.6h0M620 227.1h0M591.9 229h0" stroke="#0080ff" stroke-width="2.2"/><path d="M604.6 211.6h0M634.6 200.5h0M587.8 188h0M634.6 206.3h0M627.2 200.4h0M608.7 218.7h0M627.8 213.3h0M621.6 216.6h0M628.1 223.1h0M634.4 216.6h0M626.3 211.8h0M611 225.8h0M637.4 217.3h0M631.8 212.5h0M596.4 194.7h0M588.5 194.3h0M599.7 227.8h0M592.5 181.3h0M628 212.7h0" stroke="#003aff" stroke-width="2.2"/><path d="M559.3 267.7h0M556.3 229.1h0M553.7 244.8h0M576.5 257.5h0M526.7 235.1h0M546.9 262h0M539.8 261h0M586.1 233.2h0M540.5 254h0M564.3 257.5h0M536.7 245.3h0M527.4 246.2h0M573 253h0M576.1 258.8h0M556.9 258.7h0M563 265.2h0M572.6 270h0M535.5 259.3h0M597.4 228.3h0M531.2 236.6h0M545.8 248h0" stroke="#ffdc00" stroke-width="2.2"/><path d="M524.7 244.3h0M538.1 242.4h0M548.9 215.7h0M563.6 217.8h0M522.5 242.9h0M602.1 243.3h0M577 230.7h0M549.7 235h0M594.9 202.4h0M570.3 205.7h0M558.5 246.7h0M599.2 222.7h0M567.3 250.4h0M599.2 233.7h0M599.8 229.3h0M521 234h0M589 239.4h0M517.7 246h0M529.2 253.3h0M568 214h0M528.8 232h0M571.8 243.4h0M529.8 227.6h0M513.3 232.4h0M612.9 230.9h0M566.4 249.2h0M550.9 239.6h0M578.3 189.3h0M553.4 239.1h0M527.7 228.4h0M572.2 238.4h0M528.1 231.9h0M522.3 240.4h0M577.3 202.9h0M516.9 245.6h0M557.5 251.4h0M540.9 245.8h0M530.4 220.9h0M606.2 209.4h0M579.6 203.6h0" stroke="#ff6800" stroke-width="2.2"/><path d="M616.3 205.3h0M616.4 220.6h0M595.7 183.6h0M628.5 225.4h0M630.6 216.3h0M643.1 229.6h0M636.8 228.5h0M632.2 202.1h0M631.4 224.2h0M633.7 224.6h0M600.5 223h0M609.2 209.1h0M634 200.8h0M599.7 229.5h0M622.3 210.5h0M612.8 238.8h0M643.6 215.5h0M621.9 216.2h0M625.9 211.7h0M626.3 233.9h0M614.5 228.3h0M632.8 240.8h0" stroke="#0068ff" stroke-width="2.2"/><path d="M631.7 195.2h0M605.3 213.1h0M582.2 236.9h0M598.4 207.3h0M606.7 202.9h0M601.3 200.5h0M566.2 246.2h0M586.4 219.2h0M543.2 213.1h0M591.5 243.9h0M634.2 207.6h0M544.5 212.1h0M622.3 199.5h0M563.8 201.7h0M556.5 223.6h0M627.7 205.9h0M616.2 223.4h0M619.5 190.7h0M624.7 216.7h0M618.4 214.5h0M560.7 219.7h0M550 237.7h0M629.9 198.6h0M613.3 203.4h0M636.9 210.7h0M594.3 200h0M620.7 197.6h0M607.1 188.3h0M637.5 203.9h0M556.8 201.6h0M606 202.7h0M591.9 217.1h0M623.2 201.5h0M622 188.8h0M628.3 201.2h0M571 215.1h0M618.6 191.9h0M616.4 240.9h0M568.7 179.7h0M594.5 217.3h0M618.8 216.3h0M629 200.8h0M592.5 198.1h0M602.9 182.7h0" stroke="#000cff" stroke-width="2.2"/><path d="M566 245.4h0M597.7 212.9h0M604.8 241.2h0M623.3 204.5h0M578.5 219h0M582.8 218.1h0M589.6 210.2h0M570.4 213.4h0M544.8 223h0M615.4 198.8h0M562.5 184.1h0M617.1 199.2h0M628.5 203.1h0M567.5 229h0M615.3 192.1h0M557.5 193.5h0M543 223.1h0M562.3 212.6h0M620.9 186.9h0M617.1 186h0M569 244.8h0M580.6 178h0M573.3 217.4h0M567.7 181.7h0M585.6 200.1h0M567.6 197.5h0M548 212.2h0M561.9 191.3h0M574.9 248.5h0M554.4 204h0M568.5 210.1h0M557.6 220.9h0M603.9 226h0M558.9 202.7h0M623.3 201.5h0M602.5 230.7h0M544.2 190.5h0M594.2 220.5h0M545.7 231.9h0" stroke="#0000ae" stroke-width="2.2"/><path d="M546.1 185.5h0M530.6 211.1h0M523.6 209.2h0M533.9 206.1h0M545.5 184.5h0M554.2 190.4h0M594.3 179.1h0M549.5 203.2h0M595.5 181.3h0M529.1 195h0M579.5 190.4h0M585.8 176.5h0M536.8 236.6h0M520.7 209h0M520.5 201.8h0M541.1 211.6h0M538.2 197.3h0M562 183.5h0M537.5 188.6h0M538.3 214.3h0M556.8 180.5h0M535.2 199.7h0M567.6 195.4h0M529.7 243.8h0M530.1 221.8h0M544.9 207.3h0M554.6 189.5h0M538.3 192.1h0M539.1 201.2h0M563 210.7h0M537.4 199.4h0M544.3 190.9h0M548.4 205.1h0M521.6 232.8h0M539.8 196.7h0M551.2 214h0M546 185.5h0M530.1 231.2h0M557.2 198.7h0M554.5 209.8h0M532.4 194.8h0M544.8 199.2h0M549.4 196.5h0M539 207.8h0M525.4 214.2h0M538.5 212.7h0M548.9 186.5h0M564 210h0M529.3 196.8h0M542.7 192.9h0M513.7 214h0M539.2 201.4h0" stroke="#c50000" stroke-width="2.2"/><path d="M566.8 197.4h0M528.7 239h0M524.3 248.3h0M580 179.8h0M543.1 231.9h0M518.3 242.8h0M517.9 232.2h0M512.3 235.1h0M573.1 211.3h0M527.7 231.1h0M522.1 217h0M558.9 233.9h0M532.3 229h0M538.8 223.8h0M542.5 242.7h0M558.6 217.4h0M534 237.1h0M571.7 222.2h0M521.6 234.6h0M518.3 228.1h0M527.3 249.7h0M528.4 229.2h0M522.1 239.4h0M549.1 251.5h0" stroke="#ff5100" stroke-width="2.2"/><path d="M639.1 216.2h0M599.9 192.6h0M604.1 215.2h0M568.4 190.5h0M597.5 188.7h0M612.9 206.6h0M619.7 192.7h0M566.3 196.9h0M598 192h0M632 206.4h0M624.9 205.2h0M583.5 190.2h0M612.2 217h0M606.6 201.5h0M562.7 196.6h0M619.9 206.9h0M622.1 193.8h0M598.3 214.7h0M637.8 203.5h0M599.5 185.4h0M623.2 194.5h0M623.9 194.7h0M594.2 185.4h0M600.4 231.6h0M624.8 203.5h0M624.6 191.1h0M570.4 185.9h0M637.1 201h0M577.7 184.4h0" stroke="#0000f3" stroke-width="2.2"/><path d="M637.6 232.4h0M622.1 242.3h0M629.6 232.2h0M631.5 244.7h0M623.9 257.2h0M611 236.6h0M605.1 215.8h0M625.5 241.5h0M624.5 232.2h0M608 250.8h0M630.2 252.7h0M624.6 257.2h0M607.8 248.3h0M625.7 253.5h0M642.1 232.7h0M637.1 245.3h0M619.8 261.3h0M619.8 229h0" stroke="#0cfff3" stroke-width="2.2"/><path d="M631.6 224.3h0M634.1 234.9h0M619.9 238.5h0M612.4 244.3h0M642.1 228.2h0M632 242.3h0M619.6 240.3h0M597 244.9h0M622.2 249.3h0M635.6 232.6h0M643.6 235.2h0M625.2 242.6h0M617.2 230.2h0M643.7 228.4h0M583.9 230.8h0M620.5 245h0M631.5 244.8h0" stroke="#00dcff" stroke-width="2.2"/><path d="M576.7 264.9h0M580.9 230.3h0M583.9 265.5h0M554 263.3h0M590.2 259.9h0M581.5 270.4h0M563.2 256.7h0M559.7 269.5h0M568.9 258.2h0M568.1 253.3h0M581 268.3h0M566.4 260.7h0M542.7 251.7h0M534.5 247.4h0M590.3 268.5h0M597.8 261.6h0M598.1 257.5h0M564.8 238.8h0M580.5 249h0M572.1 266.1h0M562 265.8h0M539.6 251.3h0" stroke="#c5ff3a" stroke-width="2.2"/><path d="M612.5 234.3h0M626.3 240.6h0M615.4 255.7h0M604.4 251.5h0M626.4 230.6h0M643.2 233h0M628.7 221.5h0M622.8 216.9h0M593.9 251.1h0M625.5 237h0M616.5 224.8h0M641.9 226.5h0M609 233.9h0M644.5 221.9h0M582.9 253.7h0M631.6 216.7h0M630.6 228.9h0M614.5 229h0M619.6 240h0M598.5 240.6h0M635.2 248.9h0M629.3 238.2h0" stroke="#00c5ff" stroke-width="2.2"/><path d="M609.8 244.7h0M590.2 265.8h0M600 257h0M594.1 264.6h0M595.8 254.5h0M539.4 245.7h0M567.7 241.7h0M597.2 265.1h0M623.3 241.9h0M601.8 263.1h0M571.9 258.3h0M597.5 262h0M586.2 272.1h0M607.2 255.2h0M564.6 255.9h0M577.7 267.1h0M600.8 237h0M578.4 271.8h0M572.7 266.7h0M633.6 241.8h0M587.4 256h0" stroke="#80ff80" stroke-width="2.2"/></g>
</svg>
</body></html>
